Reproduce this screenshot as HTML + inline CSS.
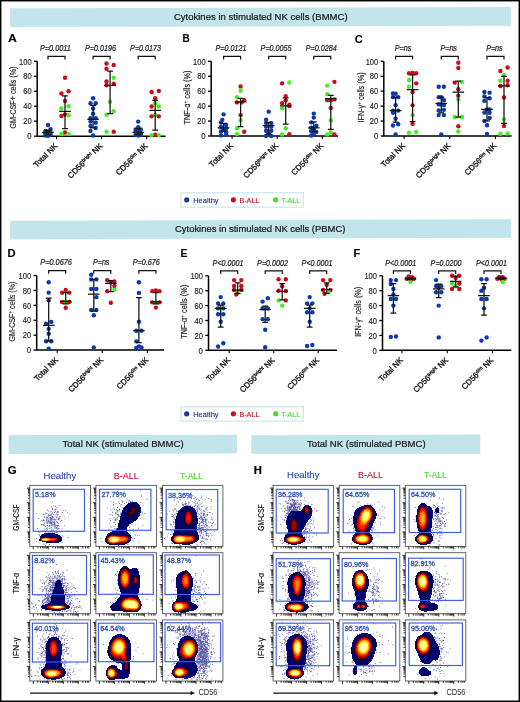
<!DOCTYPE html><html><head><meta charset="utf-8"><style>html,body{margin:0;padding:0;background:#fff;}body{width:520px;height:702px;overflow:hidden}svg{display:block;will-change:transform}</style></head><body><svg width="520" height="702" viewBox="0 0 520 702" font-family='"Liberation Sans", sans-serif'><rect width="520" height="702" fill="#fff"/><g><polygon points="10.15,8.2 511,7.05 511,25.75 10.15,27.0" fill="#c2e5eb"/><text x="173.90" y="19.70" font-size="9.2" text-anchor="start" fill="#1a1a1a" stroke="#1a1a1a" stroke-width="0.22" textLength="173.7" lengthAdjust="spacingAndGlyphs">Cytokines in stimulated NK cells (BMMC)</text><polygon points="10.15,220.8 511,219.2 511,237.7 10.15,239.5" fill="#c2e5eb"/><text x="175.00" y="231.90" font-size="9.2" text-anchor="start" fill="#1a1a1a" stroke="#1a1a1a" stroke-width="0.22" textLength="170.4" lengthAdjust="spacingAndGlyphs">Cytokines in stimulated NK cells (PBMC)</text><polygon points="8.5,435 237.2,434.8 237.2,453.5 8.5,453.9" fill="#c2e5eb"/><text x="62.50" y="446.70" font-size="9.2" text-anchor="start" fill="#1a1a1a" stroke="#1a1a1a" stroke-width="0.22" textLength="121.2" lengthAdjust="spacingAndGlyphs">Total NK (stimulated BMMC)</text><polygon points="251.3,435.3 480.2,434.4 480.2,453.7 251.3,453.8" fill="#c2e5eb"/><text x="307.10" y="446.70" font-size="9.2" text-anchor="start" fill="#1a1a1a" stroke="#1a1a1a" stroke-width="0.22" textLength="118.5" lengthAdjust="spacingAndGlyphs">Total NK (stimulated PBMC)</text><rect x="181" y="192.8" width="122.3" height="14.3" fill="none" stroke="#bfe3ea" stroke-width="1"/><circle cx="186.7" cy="199.8" r="2.6" fill="#1a3aa0"/><text x="193.20" y="202.60" font-size="8" text-anchor="start" fill="#1a3aa0" stroke="#1a3aa0" stroke-width="0.15" textLength="25.4" lengthAdjust="spacingAndGlyphs">Healthy</text><circle cx="233.4" cy="199.8" r="2.6" fill="#c81020"/><text x="239.40" y="202.60" font-size="8" text-anchor="start" fill="#c81020" stroke="#c81020" stroke-width="0.15" textLength="20" lengthAdjust="spacingAndGlyphs">B-ALL</text><circle cx="275.7" cy="199.8" r="2.6" fill="#44e022"/><text x="281.40" y="202.60" font-size="8" text-anchor="start" fill="#44e022" stroke="#44e022" stroke-width="0.15" textLength="18.7" lengthAdjust="spacingAndGlyphs">T-ALL</text><rect x="181" y="406.8" width="122.3" height="14.3" fill="none" stroke="#bfe3ea" stroke-width="1"/><circle cx="186.7" cy="413.8" r="2.6" fill="#1a3aa0"/><text x="193.20" y="416.60" font-size="8" text-anchor="start" fill="#1a3aa0" stroke="#1a3aa0" stroke-width="0.15" textLength="25.4" lengthAdjust="spacingAndGlyphs">Healthy</text><circle cx="233.4" cy="413.8" r="2.6" fill="#c81020"/><text x="239.40" y="416.60" font-size="8" text-anchor="start" fill="#c81020" stroke="#c81020" stroke-width="0.15" textLength="20" lengthAdjust="spacingAndGlyphs">B-ALL</text><circle cx="275.7" cy="413.8" r="2.6" fill="#44e022"/><text x="281.40" y="416.60" font-size="8" text-anchor="start" fill="#44e022" stroke="#44e022" stroke-width="0.15" textLength="18.7" lengthAdjust="spacingAndGlyphs">T-ALL</text><text x="7.90" y="42.20" font-size="11" text-anchor="start" fill="#000" stroke="#000" stroke-width="0.1" font-weight="bold" textLength="8.9" lengthAdjust="spacingAndGlyphs">A</text><path d="M37.2 61.3V136.2H165.6" fill="none" stroke="#000" stroke-width="1.5"/><path d="M34.0 136.20H37.2" stroke="#000" stroke-width="1.3"/><text x="31.60" y="139.40" font-size="8.5" text-anchor="end" fill="#222" stroke="#222" stroke-width="0.15" textLength="4.3" lengthAdjust="spacingAndGlyphs">0</text><path d="M34.0 121.22H37.2" stroke="#000" stroke-width="1.3"/><text x="31.60" y="124.42" font-size="8.5" text-anchor="end" fill="#222" stroke="#222" stroke-width="0.15" textLength="8.4" lengthAdjust="spacingAndGlyphs">20</text><path d="M34.0 106.24H37.2" stroke="#000" stroke-width="1.3"/><text x="31.60" y="109.44" font-size="8.5" text-anchor="end" fill="#222" stroke="#222" stroke-width="0.15" textLength="8.4" lengthAdjust="spacingAndGlyphs">40</text><path d="M34.0 91.26H37.2" stroke="#000" stroke-width="1.3"/><text x="31.60" y="94.46" font-size="8.5" text-anchor="end" fill="#222" stroke="#222" stroke-width="0.15" textLength="8.4" lengthAdjust="spacingAndGlyphs">60</text><path d="M34.0 76.28H37.2" stroke="#000" stroke-width="1.3"/><text x="31.60" y="79.48" font-size="8.5" text-anchor="end" fill="#222" stroke="#222" stroke-width="0.15" textLength="8.4" lengthAdjust="spacingAndGlyphs">80</text><path d="M34.0 61.30H37.2" stroke="#000" stroke-width="1.3"/><text x="31.60" y="64.50" font-size="8.5" text-anchor="end" fill="#222" stroke="#222" stroke-width="0.15" textLength="12.5" lengthAdjust="spacingAndGlyphs">100</text><text transform="translate(15.8,97.55) rotate(-90)" font-size="8.6" text-anchor="middle" fill="#222" stroke="#222" stroke-width="0.15" textLength="62" lengthAdjust="spacingAndGlyphs">GM-CSF+ cells (%)</text><path d="M56.50 136.2v3" stroke="#000" stroke-width="1.1"/><text transform="translate(58.10,146.50) rotate(-45)" font-size="8" text-anchor="end" fill="#111" stroke="#111" stroke-width="0.3">Total NK</text><text x="55.40" y="51.00" font-size="8.2" text-anchor="middle" fill="#222" stroke="#222" stroke-width="0.22" font-style="italic" textLength="31" lengthAdjust="spacingAndGlyphs">P=0.0011</text><path d="M48.00 59.50V56.40H65.00V59.50" fill="none" stroke="#111" stroke-width="1.2"/><circle cx="48.00" cy="124.96" r="2.2" fill="#0d3aa8"/><circle cx="50.60" cy="129.08" r="2.2" fill="#0d3aa8"/><circle cx="45.40" cy="130.96" r="2.2" fill="#0d3aa8"/><circle cx="48.00" cy="131.71" r="2.2" fill="#0d3aa8"/><circle cx="50.60" cy="132.45" r="2.2" fill="#0d3aa8"/><circle cx="45.40" cy="133.20" r="2.2" fill="#0d3aa8"/><circle cx="48.00" cy="133.95" r="2.2" fill="#0d3aa8"/><circle cx="50.60" cy="134.70" r="2.2" fill="#0d3aa8"/><circle cx="45.40" cy="135.45" r="2.2" fill="#0d3aa8"/><circle cx="48.00" cy="135.83" r="2.2" fill="#0d3aa8"/><circle cx="65.00" cy="77.78" r="2.2" fill="#cc0a1a"/><circle cx="68.60" cy="91.26" r="2.2" fill="#cc0a1a"/><circle cx="61.40" cy="93.51" r="2.2" fill="#cc0a1a"/><circle cx="65.00" cy="101.00" r="2.2" fill="#cc0a1a"/><circle cx="68.60" cy="106.24" r="2.2" fill="#40f022"/><circle cx="61.40" cy="108.49" r="2.2" fill="#40f022"/><circle cx="65.00" cy="114.48" r="2.2" fill="#cc0a1a"/><circle cx="68.60" cy="115.23" r="2.2" fill="#40f022"/><circle cx="61.40" cy="115.98" r="2.2" fill="#cc0a1a"/><circle cx="65.00" cy="132.45" r="2.2" fill="#cc0a1a"/><circle cx="61.40" cy="133.95" r="2.2" fill="#40f022"/><circle cx="68.60" cy="133.95" r="2.2" fill="#40f022"/><path d="M48.00 130.21V134.70M45.10 130.21h5.8M45.10 134.70h5.8M42.20 132.45h11.6" fill="none" stroke="#111" stroke-width="1.25"/><path d="M65.00 95.75V128.71M62.10 95.75h5.8M62.10 128.71h5.8M59.20 111.48h11.6" fill="none" stroke="#111" stroke-width="1.25"/><path d="M101.60 136.2v3" stroke="#000" stroke-width="1.1"/><text transform="translate(103.20,146.50) rotate(-45)" font-size="8" text-anchor="end" fill="#111" stroke="#111" stroke-width="0.3">CD56<tspan font-size="4.8" dy="-2.6">bright</tspan><tspan dy="2.6"> NK</tspan></text><text x="100.50" y="51.00" font-size="8.2" text-anchor="middle" fill="#222" stroke="#222" stroke-width="0.22" font-style="italic" textLength="31" lengthAdjust="spacingAndGlyphs">P=0.0196</text><path d="M93.10 59.50V56.40H110.10V59.50" fill="none" stroke="#111" stroke-width="1.2"/><circle cx="93.10" cy="98.23" r="2.2" fill="#0d3aa8"/><circle cx="90.50" cy="103.24" r="2.2" fill="#0d3aa8"/><circle cx="95.70" cy="103.24" r="2.2" fill="#0d3aa8"/><circle cx="93.10" cy="108.49" r="2.2" fill="#0d3aa8"/><circle cx="93.10" cy="113.73" r="2.2" fill="#0d3aa8"/><circle cx="90.50" cy="118.22" r="2.2" fill="#0d3aa8"/><circle cx="95.70" cy="118.22" r="2.2" fill="#0d3aa8"/><circle cx="90.50" cy="121.59" r="2.2" fill="#0d3aa8"/><circle cx="95.70" cy="122.72" r="2.2" fill="#0d3aa8"/><circle cx="90.50" cy="126.01" r="2.2" fill="#0d3aa8"/><circle cx="95.70" cy="127.96" r="2.2" fill="#0d3aa8"/><circle cx="90.50" cy="130.96" r="2.2" fill="#0d3aa8"/><circle cx="93.10" cy="135.45" r="2.2" fill="#0d3aa8"/><circle cx="106.50" cy="63.55" r="2.2" fill="#cc0a1a"/><circle cx="113.70" cy="65.05" r="2.2" fill="#cc0a1a"/><circle cx="106.50" cy="68.79" r="2.2" fill="#cc0a1a"/><circle cx="113.70" cy="77.78" r="2.2" fill="#40f022"/><circle cx="106.50" cy="81.52" r="2.2" fill="#cc0a1a"/><circle cx="113.70" cy="83.77" r="2.2" fill="#cc0a1a"/><circle cx="106.50" cy="85.27" r="2.2" fill="#cc0a1a"/><circle cx="110.10" cy="101.75" r="2.2" fill="#40f022"/><circle cx="113.70" cy="111.18" r="2.2" fill="#40f022"/><circle cx="106.50" cy="114.70" r="2.2" fill="#40f022"/><circle cx="106.50" cy="131.71" r="2.2" fill="#40f022"/><circle cx="113.70" cy="131.71" r="2.2" fill="#cc0a1a"/><path d="M93.10 105.49V127.96M90.20 105.49h5.8M90.20 127.96h5.8M87.30 119.35h11.6" fill="none" stroke="#111" stroke-width="1.25"/><path d="M110.10 71.04V113.73M107.20 71.04h5.8M107.20 113.73h5.8M104.30 85.27h11.6" fill="none" stroke="#111" stroke-width="1.25"/><path d="M146.70 136.2v3" stroke="#000" stroke-width="1.1"/><text transform="translate(148.30,146.50) rotate(-45)" font-size="8" text-anchor="end" fill="#111" stroke="#111" stroke-width="0.3">CD56<tspan font-size="4.8" dy="-2.6">dim</tspan><tspan dy="2.6"> NK</tspan></text><text x="145.60" y="51.00" font-size="8.2" text-anchor="middle" fill="#222" stroke="#222" stroke-width="0.22" font-style="italic" textLength="31" lengthAdjust="spacingAndGlyphs">P=0.0173</text><path d="M138.20 59.50V56.40H155.20V59.50" fill="none" stroke="#111" stroke-width="1.2"/><circle cx="138.20" cy="121.59" r="2.2" fill="#0d3aa8"/><circle cx="138.20" cy="127.21" r="2.2" fill="#0d3aa8"/><circle cx="135.60" cy="129.46" r="2.2" fill="#0d3aa8"/><circle cx="140.80" cy="129.46" r="2.2" fill="#0d3aa8"/><circle cx="135.60" cy="131.71" r="2.2" fill="#0d3aa8"/><circle cx="138.20" cy="132.45" r="2.2" fill="#0d3aa8"/><circle cx="140.80" cy="133.20" r="2.2" fill="#0d3aa8"/><circle cx="135.60" cy="134.70" r="2.2" fill="#0d3aa8"/><circle cx="140.80" cy="134.70" r="2.2" fill="#0d3aa8"/><circle cx="138.20" cy="135.45" r="2.2" fill="#0d3aa8"/><circle cx="158.80" cy="90.89" r="2.2" fill="#cc0a1a"/><circle cx="151.60" cy="92.01" r="2.2" fill="#cc0a1a"/><circle cx="155.20" cy="98.23" r="2.2" fill="#cc0a1a"/><circle cx="155.20" cy="103.24" r="2.2" fill="#40f022"/><circle cx="151.60" cy="106.54" r="2.2" fill="#cc0a1a"/><circle cx="158.80" cy="106.54" r="2.2" fill="#40f022"/><circle cx="155.20" cy="114.70" r="2.2" fill="#40f022"/><circle cx="151.60" cy="116.35" r="2.2" fill="#cc0a1a"/><circle cx="158.80" cy="116.35" r="2.2" fill="#cc0a1a"/><circle cx="155.20" cy="134.70" r="2.2" fill="#cc0a1a"/><circle cx="151.60" cy="135.08" r="2.2" fill="#40f022"/><circle cx="158.80" cy="135.08" r="2.2" fill="#40f022"/><path d="M138.20 128.71V134.70M135.30 128.71h5.8M135.30 134.70h5.8M132.40 132.45h11.6" fill="none" stroke="#111" stroke-width="1.25"/><path d="M155.20 100.25V130.21M152.30 100.25h5.8M152.30 130.21h5.8M149.40 110.36h11.6" fill="none" stroke="#111" stroke-width="1.25"/><text x="182.60" y="42.20" font-size="11" text-anchor="start" fill="#000" stroke="#000" stroke-width="0.1" font-weight="bold" textLength="7.2" lengthAdjust="spacingAndGlyphs">B</text><path d="M211.2 61.3V136.0H338" fill="none" stroke="#000" stroke-width="1.5"/><path d="M208.0 136.00H211.2" stroke="#000" stroke-width="1.3"/><text x="205.60" y="139.20" font-size="8.5" text-anchor="end" fill="#222" stroke="#222" stroke-width="0.15" textLength="4.3" lengthAdjust="spacingAndGlyphs">0</text><path d="M208.0 121.06H211.2" stroke="#000" stroke-width="1.3"/><text x="205.60" y="124.26" font-size="8.5" text-anchor="end" fill="#222" stroke="#222" stroke-width="0.15" textLength="8.4" lengthAdjust="spacingAndGlyphs">20</text><path d="M208.0 106.12H211.2" stroke="#000" stroke-width="1.3"/><text x="205.60" y="109.32" font-size="8.5" text-anchor="end" fill="#222" stroke="#222" stroke-width="0.15" textLength="8.4" lengthAdjust="spacingAndGlyphs">40</text><path d="M208.0 91.18H211.2" stroke="#000" stroke-width="1.3"/><text x="205.60" y="94.38" font-size="8.5" text-anchor="end" fill="#222" stroke="#222" stroke-width="0.15" textLength="8.4" lengthAdjust="spacingAndGlyphs">60</text><path d="M208.0 76.24H211.2" stroke="#000" stroke-width="1.3"/><text x="205.60" y="79.44" font-size="8.5" text-anchor="end" fill="#222" stroke="#222" stroke-width="0.15" textLength="8.4" lengthAdjust="spacingAndGlyphs">80</text><path d="M208.0 61.30H211.2" stroke="#000" stroke-width="1.3"/><text x="205.60" y="64.50" font-size="8.5" text-anchor="end" fill="#222" stroke="#222" stroke-width="0.15" textLength="12.5" lengthAdjust="spacingAndGlyphs">100</text><text transform="translate(190.2,97.45) rotate(-90)" font-size="8.6" text-anchor="middle" fill="#222" stroke="#222" stroke-width="0.15" textLength="54" lengthAdjust="spacingAndGlyphs">TNF-&#945;<tspan font-size="5.5" dy="-3">+</tspan><tspan dy="3"> cells (%)</tspan></text><path d="M232.10 136.0v3" stroke="#000" stroke-width="1.1"/><text transform="translate(233.70,146.30) rotate(-45)" font-size="8" text-anchor="end" fill="#111" stroke="#111" stroke-width="0.3">Total NK</text><text x="231.00" y="51.00" font-size="8.2" text-anchor="middle" fill="#222" stroke="#222" stroke-width="0.22" font-style="italic" textLength="31" lengthAdjust="spacingAndGlyphs">P=0.0121</text><path d="M223.60 59.50V56.40H240.60V59.50" fill="none" stroke="#111" stroke-width="1.2"/><circle cx="223.60" cy="114.34" r="2.2" fill="#0d3aa8"/><circle cx="222.30" cy="119.86" r="2.2" fill="#0d3aa8"/><circle cx="221.00" cy="122.55" r="2.2" fill="#0d3aa8"/><circle cx="226.20" cy="124.94" r="2.2" fill="#0d3aa8"/><circle cx="221.00" cy="127.04" r="2.2" fill="#0d3aa8"/><circle cx="226.20" cy="128.53" r="2.2" fill="#0d3aa8"/><circle cx="223.60" cy="130.02" r="2.2" fill="#0d3aa8"/><circle cx="221.00" cy="131.52" r="2.2" fill="#0d3aa8"/><circle cx="226.20" cy="132.26" r="2.2" fill="#0d3aa8"/><circle cx="221.00" cy="135.40" r="2.2" fill="#0d3aa8"/><circle cx="226.20" cy="134.51" r="2.2" fill="#0d3aa8"/><circle cx="240.60" cy="86.40" r="2.2" fill="#cc0a1a"/><circle cx="240.60" cy="90.73" r="2.2" fill="#40f022"/><circle cx="237.00" cy="97.31" r="2.2" fill="#40f022"/><circle cx="244.20" cy="100.14" r="2.2" fill="#cc0a1a"/><circle cx="237.00" cy="102.38" r="2.2" fill="#cc0a1a"/><circle cx="241.68" cy="102.38" r="2.2" fill="#cc0a1a"/><circle cx="240.60" cy="115.08" r="2.2" fill="#cc0a1a"/><circle cx="240.60" cy="120.31" r="2.2" fill="#40f022"/><circle cx="237.00" cy="128.31" r="2.2" fill="#40f022"/><circle cx="244.20" cy="131.82" r="2.2" fill="#cc0a1a"/><circle cx="237.00" cy="134.06" r="2.2" fill="#40f022"/><path d="M223.60 123.30V131.14M220.70 123.30h5.8M220.70 131.14h5.8M217.80 127.93h11.6" fill="none" stroke="#111" stroke-width="1.25"/><path d="M240.60 98.35V126.74M237.70 98.35h5.8M237.70 126.74h5.8M234.80 101.79h11.6" fill="none" stroke="#111" stroke-width="1.25"/><path d="M277.20 136.0v3" stroke="#000" stroke-width="1.1"/><text transform="translate(278.80,146.30) rotate(-45)" font-size="8" text-anchor="end" fill="#111" stroke="#111" stroke-width="0.3">CD56<tspan font-size="4.8" dy="-2.6">bright</tspan><tspan dy="2.6"> NK</tspan></text><text x="276.10" y="51.00" font-size="8.2" text-anchor="middle" fill="#222" stroke="#222" stroke-width="0.22" font-style="italic" textLength="31" lengthAdjust="spacingAndGlyphs">P=0.0055</text><path d="M268.70 59.50V56.40H285.70V59.50" fill="none" stroke="#111" stroke-width="1.2"/><circle cx="268.70" cy="111.65" r="2.2" fill="#0d3aa8"/><circle cx="266.10" cy="119.64" r="2.2" fill="#0d3aa8"/><circle cx="266.10" cy="123.08" r="2.2" fill="#0d3aa8"/><circle cx="271.30" cy="123.08" r="2.2" fill="#0d3aa8"/><circle cx="266.10" cy="126.66" r="2.2" fill="#0d3aa8"/><circle cx="271.30" cy="126.66" r="2.2" fill="#0d3aa8"/><circle cx="266.10" cy="130.77" r="2.2" fill="#0d3aa8"/><circle cx="271.30" cy="130.77" r="2.2" fill="#0d3aa8"/><circle cx="268.70" cy="133.76" r="2.2" fill="#0d3aa8"/><circle cx="266.10" cy="136.00" r="2.2" fill="#0d3aa8"/><circle cx="271.30" cy="136.00" r="2.2" fill="#0d3aa8"/><circle cx="289.30" cy="82.51" r="2.2" fill="#40f022"/><circle cx="282.10" cy="83.34" r="2.2" fill="#cc0a1a"/><circle cx="285.70" cy="96.11" r="2.2" fill="#cc0a1a"/><circle cx="285.70" cy="100.14" r="2.2" fill="#cc0a1a"/><circle cx="282.10" cy="103.13" r="2.2" fill="#cc0a1a"/><circle cx="289.30" cy="104.63" r="2.2" fill="#cc0a1a"/><circle cx="289.30" cy="106.12" r="2.2" fill="#cc0a1a"/><circle cx="282.10" cy="108.36" r="2.2" fill="#40f022"/><circle cx="285.70" cy="128.31" r="2.2" fill="#40f022"/><circle cx="289.30" cy="134.13" r="2.2" fill="#cc0a1a"/><circle cx="282.10" cy="134.51" r="2.2" fill="#40f022"/><path d="M268.70 122.26V134.06M265.80 122.26h5.8M265.80 134.06h5.8M262.90 125.69h11.6" fill="none" stroke="#111" stroke-width="1.25"/><path d="M285.70 97.98V124.05M282.80 97.98h5.8M282.80 124.05h5.8M279.90 105.90h11.6" fill="none" stroke="#111" stroke-width="1.25"/><path d="M322.30 136.0v3" stroke="#000" stroke-width="1.1"/><text transform="translate(323.90,146.30) rotate(-45)" font-size="8" text-anchor="end" fill="#111" stroke="#111" stroke-width="0.3">CD56<tspan font-size="4.8" dy="-2.6">dim</tspan><tspan dy="2.6"> NK</tspan></text><text x="321.20" y="51.00" font-size="8.2" text-anchor="middle" fill="#222" stroke="#222" stroke-width="0.22" font-style="italic" textLength="31" lengthAdjust="spacingAndGlyphs">P=0.0284</text><path d="M313.80 59.50V56.40H330.80V59.50" fill="none" stroke="#111" stroke-width="1.2"/><circle cx="313.80" cy="113.59" r="2.2" fill="#0d3aa8"/><circle cx="313.80" cy="117.62" r="2.2" fill="#0d3aa8"/><circle cx="311.20" cy="122.33" r="2.2" fill="#0d3aa8"/><circle cx="316.40" cy="125.77" r="2.2" fill="#0d3aa8"/><circle cx="311.20" cy="127.78" r="2.2" fill="#0d3aa8"/><circle cx="313.80" cy="128.53" r="2.2" fill="#0d3aa8"/><circle cx="311.20" cy="131.07" r="2.2" fill="#0d3aa8"/><circle cx="313.80" cy="131.07" r="2.2" fill="#0d3aa8"/><circle cx="316.40" cy="131.89" r="2.2" fill="#0d3aa8"/><circle cx="311.20" cy="135.55" r="2.2" fill="#0d3aa8"/><circle cx="313.80" cy="134.88" r="2.2" fill="#0d3aa8"/><circle cx="334.40" cy="81.84" r="2.2" fill="#cc0a1a"/><circle cx="327.20" cy="85.58" r="2.2" fill="#40f022"/><circle cx="327.20" cy="94.17" r="2.2" fill="#40f022"/><circle cx="334.40" cy="99.40" r="2.2" fill="#cc0a1a"/><circle cx="327.20" cy="100.14" r="2.2" fill="#cc0a1a"/><circle cx="330.80" cy="100.14" r="2.2" fill="#cc0a1a"/><circle cx="330.80" cy="107.91" r="2.2" fill="#cc0a1a"/><circle cx="330.80" cy="120.46" r="2.2" fill="#40f022"/><circle cx="330.80" cy="132.41" r="2.2" fill="#40f022"/><circle cx="327.20" cy="134.51" r="2.2" fill="#40f022"/><circle cx="334.40" cy="134.51" r="2.2" fill="#cc0a1a"/><path d="M313.80 121.81V131.52M310.90 121.81h5.8M310.90 131.52h5.8M308.00 127.78h11.6" fill="none" stroke="#111" stroke-width="1.25"/><path d="M330.80 95.29V129.28M327.90 95.29h5.8M327.90 129.28h5.8M325.00 98.65h11.6" fill="none" stroke="#111" stroke-width="1.25"/><text x="354.80" y="42.60" font-size="11" text-anchor="start" fill="#000" stroke="#000" stroke-width="0.1" font-weight="bold" textLength="8.0" lengthAdjust="spacingAndGlyphs">C</text><path d="M383.8 61.3V136.0H511.6" fill="none" stroke="#000" stroke-width="1.5"/><path d="M380.6 136.00H383.8" stroke="#000" stroke-width="1.3"/><text x="378.20" y="139.20" font-size="8.5" text-anchor="end" fill="#222" stroke="#222" stroke-width="0.15" textLength="4.3" lengthAdjust="spacingAndGlyphs">0</text><path d="M380.6 121.06H383.8" stroke="#000" stroke-width="1.3"/><text x="378.20" y="124.26" font-size="8.5" text-anchor="end" fill="#222" stroke="#222" stroke-width="0.15" textLength="8.4" lengthAdjust="spacingAndGlyphs">20</text><path d="M380.6 106.12H383.8" stroke="#000" stroke-width="1.3"/><text x="378.20" y="109.32" font-size="8.5" text-anchor="end" fill="#222" stroke="#222" stroke-width="0.15" textLength="8.4" lengthAdjust="spacingAndGlyphs">40</text><path d="M380.6 91.18H383.8" stroke="#000" stroke-width="1.3"/><text x="378.20" y="94.38" font-size="8.5" text-anchor="end" fill="#222" stroke="#222" stroke-width="0.15" textLength="8.4" lengthAdjust="spacingAndGlyphs">60</text><path d="M380.6 76.24H383.8" stroke="#000" stroke-width="1.3"/><text x="378.20" y="79.44" font-size="8.5" text-anchor="end" fill="#222" stroke="#222" stroke-width="0.15" textLength="8.4" lengthAdjust="spacingAndGlyphs">80</text><path d="M380.6 61.30H383.8" stroke="#000" stroke-width="1.3"/><text x="378.20" y="64.50" font-size="8.5" text-anchor="end" fill="#222" stroke="#222" stroke-width="0.15" textLength="12.5" lengthAdjust="spacingAndGlyphs">100</text><text transform="translate(363.5,97.45) rotate(-90)" font-size="8.6" text-anchor="middle" fill="#222" stroke="#222" stroke-width="0.15" textLength="50" lengthAdjust="spacingAndGlyphs">IFN-&#947;<tspan font-size="5.5" dy="-3">+</tspan><tspan dy="3"> cells (%)</tspan></text><path d="M404.10 136.0v3" stroke="#000" stroke-width="1.1"/><text transform="translate(405.70,146.30) rotate(-45)" font-size="8" text-anchor="end" fill="#111" stroke="#111" stroke-width="0.3">Total NK</text><text x="403.00" y="51.00" font-size="8.2" text-anchor="middle" fill="#222" stroke="#222" stroke-width="0.22" font-style="italic" textLength="16.5" lengthAdjust="spacingAndGlyphs">P=ns</text><path d="M395.60 59.50V56.40H412.60V59.50" fill="none" stroke="#111" stroke-width="1.2"/><circle cx="393.00" cy="93.42" r="2.2" fill="#0d3aa8"/><circle cx="395.60" cy="93.79" r="2.2" fill="#0d3aa8"/><circle cx="393.00" cy="97.16" r="2.2" fill="#0d3aa8"/><circle cx="398.20" cy="97.16" r="2.2" fill="#0d3aa8"/><circle cx="395.60" cy="105.15" r="2.2" fill="#0d3aa8"/><circle cx="393.00" cy="110.60" r="2.2" fill="#0d3aa8"/><circle cx="398.20" cy="110.60" r="2.2" fill="#0d3aa8"/><circle cx="393.00" cy="112.84" r="2.2" fill="#0d3aa8"/><circle cx="395.60" cy="118.82" r="2.2" fill="#0d3aa8"/><circle cx="398.20" cy="124.20" r="2.2" fill="#0d3aa8"/><circle cx="393.00" cy="125.54" r="2.2" fill="#0d3aa8"/><circle cx="395.60" cy="134.51" r="2.2" fill="#0d3aa8"/><circle cx="409.00" cy="73.25" r="2.2" fill="#cc0a1a"/><circle cx="412.60" cy="72.88" r="2.2" fill="#cc0a1a"/><circle cx="416.20" cy="73.25" r="2.2" fill="#cc0a1a"/><circle cx="409.00" cy="79.97" r="2.2" fill="#40f022"/><circle cx="416.20" cy="83.34" r="2.2" fill="#cc0a1a"/><circle cx="409.00" cy="86.70" r="2.2" fill="#40f022"/><circle cx="412.60" cy="91.93" r="2.2" fill="#cc0a1a"/><circle cx="412.60" cy="105.37" r="2.2" fill="#cc0a1a"/><circle cx="412.60" cy="115.08" r="2.2" fill="#40f022"/><circle cx="412.60" cy="123.90" r="2.2" fill="#cc0a1a"/><circle cx="409.00" cy="132.64" r="2.2" fill="#40f022"/><circle cx="416.20" cy="131.89" r="2.2" fill="#40f022"/><path d="M395.60 97.16V122.03M392.70 97.16h5.8M392.70 122.03h5.8M389.80 110.60h11.6" fill="none" stroke="#111" stroke-width="1.25"/><path d="M412.60 74.75V121.58M409.70 74.75h5.8M409.70 121.58h5.8M406.80 89.69h11.6" fill="none" stroke="#111" stroke-width="1.25"/><path d="M449.80 136.0v3" stroke="#000" stroke-width="1.1"/><text transform="translate(451.40,146.30) rotate(-45)" font-size="8" text-anchor="end" fill="#111" stroke="#111" stroke-width="0.3">CD56<tspan font-size="4.8" dy="-2.6">bright</tspan><tspan dy="2.6"> NK</tspan></text><text x="448.70" y="51.00" font-size="8.2" text-anchor="middle" fill="#222" stroke="#222" stroke-width="0.22" font-style="italic" textLength="16.5" lengthAdjust="spacingAndGlyphs">P=ns</text><path d="M441.30 59.50V56.40H458.30V59.50" fill="none" stroke="#111" stroke-width="1.2"/><circle cx="438.70" cy="86.70" r="2.2" fill="#0d3aa8"/><circle cx="443.90" cy="86.70" r="2.2" fill="#0d3aa8"/><circle cx="438.70" cy="97.16" r="2.2" fill="#0d3aa8"/><circle cx="441.30" cy="97.16" r="2.2" fill="#0d3aa8"/><circle cx="443.90" cy="100.14" r="2.2" fill="#0d3aa8"/><circle cx="438.70" cy="104.40" r="2.2" fill="#0d3aa8"/><circle cx="441.30" cy="104.40" r="2.2" fill="#0d3aa8"/><circle cx="443.90" cy="105.00" r="2.2" fill="#0d3aa8"/><circle cx="438.70" cy="110.38" r="2.2" fill="#0d3aa8"/><circle cx="443.90" cy="109.86" r="2.2" fill="#0d3aa8"/><circle cx="438.70" cy="115.08" r="2.2" fill="#0d3aa8"/><circle cx="443.90" cy="115.08" r="2.2" fill="#0d3aa8"/><circle cx="441.30" cy="134.51" r="2.2" fill="#0d3aa8"/><circle cx="458.30" cy="62.79" r="2.2" fill="#cc0a1a"/><circle cx="458.30" cy="68.02" r="2.2" fill="#cc0a1a"/><circle cx="454.70" cy="82.59" r="2.2" fill="#cc0a1a"/><circle cx="461.90" cy="81.84" r="2.2" fill="#40f022"/><circle cx="458.30" cy="89.16" r="2.2" fill="#cc0a1a"/><circle cx="458.30" cy="95.66" r="2.2" fill="#cc0a1a"/><circle cx="458.30" cy="99.40" r="2.2" fill="#40f022"/><circle cx="454.70" cy="116.95" r="2.2" fill="#40f022"/><circle cx="461.90" cy="116.95" r="2.2" fill="#40f022"/><circle cx="458.30" cy="126.29" r="2.2" fill="#cc0a1a"/><circle cx="458.30" cy="131.52" r="2.2" fill="#40f022"/><path d="M441.30 97.16V112.84M438.40 97.16h5.8M438.40 112.84h5.8M435.50 103.36h11.6" fill="none" stroke="#111" stroke-width="1.25"/><path d="M458.30 81.17V117.10M455.40 81.17h5.8M455.40 117.10h5.8M452.50 92.08h11.6" fill="none" stroke="#111" stroke-width="1.25"/><path d="M495.50 136.0v3" stroke="#000" stroke-width="1.1"/><text transform="translate(497.10,146.30) rotate(-45)" font-size="8" text-anchor="end" fill="#111" stroke="#111" stroke-width="0.3">CD56<tspan font-size="4.8" dy="-2.6">dim</tspan><tspan dy="2.6"> NK</tspan></text><text x="494.40" y="51.00" font-size="8.2" text-anchor="middle" fill="#222" stroke="#222" stroke-width="0.22" font-style="italic" textLength="16.5" lengthAdjust="spacingAndGlyphs">P=ns</text><path d="M487.00 59.50V56.40H504.00V59.50" fill="none" stroke="#111" stroke-width="1.2"/><circle cx="484.40" cy="91.93" r="2.2" fill="#0d3aa8"/><circle cx="489.60" cy="92.67" r="2.2" fill="#0d3aa8"/><circle cx="484.40" cy="96.41" r="2.2" fill="#0d3aa8"/><circle cx="489.60" cy="98.20" r="2.2" fill="#0d3aa8"/><circle cx="484.40" cy="100.89" r="2.2" fill="#0d3aa8"/><circle cx="487.00" cy="109.41" r="2.2" fill="#0d3aa8"/><circle cx="489.60" cy="109.41" r="2.2" fill="#0d3aa8"/><circle cx="484.40" cy="112.47" r="2.2" fill="#0d3aa8"/><circle cx="489.60" cy="112.84" r="2.2" fill="#0d3aa8"/><circle cx="489.60" cy="118.07" r="2.2" fill="#0d3aa8"/><circle cx="484.40" cy="121.06" r="2.2" fill="#0d3aa8"/><circle cx="487.00" cy="125.24" r="2.2" fill="#0d3aa8"/><circle cx="487.00" cy="133.98" r="2.2" fill="#0d3aa8"/><circle cx="507.60" cy="67.50" r="2.2" fill="#cc0a1a"/><circle cx="500.40" cy="71.01" r="2.2" fill="#cc0a1a"/><circle cx="504.00" cy="74.97" r="2.2" fill="#40f022"/><circle cx="500.40" cy="80.72" r="2.2" fill="#40f022"/><circle cx="507.60" cy="80.72" r="2.2" fill="#cc0a1a"/><circle cx="500.40" cy="85.95" r="2.2" fill="#cc0a1a"/><circle cx="507.60" cy="85.20" r="2.2" fill="#cc0a1a"/><circle cx="504.00" cy="97.53" r="2.2" fill="#cc0a1a"/><circle cx="504.00" cy="119.27" r="2.2" fill="#40f022"/><circle cx="504.00" cy="125.99" r="2.2" fill="#cc0a1a"/><circle cx="500.40" cy="133.76" r="2.2" fill="#40f022"/><circle cx="507.60" cy="133.39" r="2.2" fill="#40f022"/><path d="M487.00 97.53V120.76M484.10 97.53h5.8M484.10 120.76h5.8M481.20 109.41h11.6" fill="none" stroke="#111" stroke-width="1.25"/><path d="M504.00 76.46V123.45M501.10 76.46h5.8M501.10 123.45h5.8M498.20 85.80h11.6" fill="none" stroke="#111" stroke-width="1.25"/><text x="7.50" y="256.50" font-size="11" text-anchor="start" fill="#000" stroke="#000" stroke-width="0.1" font-weight="bold" textLength="8.1" lengthAdjust="spacingAndGlyphs">D</text><path d="M36.7 275.5V350.1H164" fill="none" stroke="#000" stroke-width="1.5"/><path d="M33.5 350.10H36.7" stroke="#000" stroke-width="1.3"/><text x="31.10" y="353.30" font-size="8.5" text-anchor="end" fill="#222" stroke="#222" stroke-width="0.15" textLength="4.3" lengthAdjust="spacingAndGlyphs">0</text><path d="M33.5 335.18H36.7" stroke="#000" stroke-width="1.3"/><text x="31.10" y="338.38" font-size="8.5" text-anchor="end" fill="#222" stroke="#222" stroke-width="0.15" textLength="8.4" lengthAdjust="spacingAndGlyphs">20</text><path d="M33.5 320.26H36.7" stroke="#000" stroke-width="1.3"/><text x="31.10" y="323.46" font-size="8.5" text-anchor="end" fill="#222" stroke="#222" stroke-width="0.15" textLength="8.4" lengthAdjust="spacingAndGlyphs">40</text><path d="M33.5 305.34H36.7" stroke="#000" stroke-width="1.3"/><text x="31.10" y="308.54" font-size="8.5" text-anchor="end" fill="#222" stroke="#222" stroke-width="0.15" textLength="8.4" lengthAdjust="spacingAndGlyphs">60</text><path d="M33.5 290.42H36.7" stroke="#000" stroke-width="1.3"/><text x="31.10" y="293.62" font-size="8.5" text-anchor="end" fill="#222" stroke="#222" stroke-width="0.15" textLength="8.4" lengthAdjust="spacingAndGlyphs">80</text><path d="M33.5 275.50H36.7" stroke="#000" stroke-width="1.3"/><text x="31.10" y="278.70" font-size="8.5" text-anchor="end" fill="#222" stroke="#222" stroke-width="0.15" textLength="12.5" lengthAdjust="spacingAndGlyphs">100</text><text transform="translate(14.6,311.60) rotate(-90)" font-size="8.6" text-anchor="middle" fill="#222" stroke="#222" stroke-width="0.15" textLength="60" lengthAdjust="spacingAndGlyphs">GM-CSF<tspan font-size="5.5" dy="-3">+</tspan><tspan dy="3"> cells (%)</tspan></text><path d="M57.20 350.1v3" stroke="#000" stroke-width="1.1"/><text transform="translate(58.80,360.40) rotate(-45)" font-size="8" text-anchor="end" fill="#111" stroke="#111" stroke-width="0.3">Total NK</text><text x="56.10" y="265.20" font-size="8.2" text-anchor="middle" fill="#222" stroke="#222" stroke-width="0.22" font-style="italic" textLength="31.5" lengthAdjust="spacingAndGlyphs">P=0.0676</text><path d="M48.70 273.70V270.60H65.70V273.70" fill="none" stroke="#111" stroke-width="1.2"/><circle cx="48.70" cy="282.21" r="2.2" fill="#0d3aa8"/><circle cx="48.70" cy="292.66" r="2.2" fill="#0d3aa8"/><circle cx="48.70" cy="300.27" r="2.2" fill="#0d3aa8"/><circle cx="51.30" cy="321.90" r="2.2" fill="#0d3aa8"/><circle cx="46.10" cy="323.62" r="2.2" fill="#0d3aa8"/><circle cx="48.70" cy="328.84" r="2.2" fill="#0d3aa8"/><circle cx="48.70" cy="333.69" r="2.2" fill="#0d3aa8"/><circle cx="46.10" cy="341.30" r="2.2" fill="#0d3aa8"/><circle cx="51.30" cy="341.30" r="2.2" fill="#0d3aa8"/><circle cx="48.70" cy="348.61" r="2.2" fill="#0d3aa8"/><circle cx="65.70" cy="289.90" r="2.2" fill="#cc0a1a"/><circle cx="62.10" cy="292.66" r="2.2" fill="#cc0a1a"/><circle cx="69.30" cy="292.66" r="2.2" fill="#cc0a1a"/><circle cx="62.10" cy="301.98" r="2.2" fill="#cc0a1a"/><circle cx="65.70" cy="301.98" r="2.2" fill="#40f022"/><circle cx="69.30" cy="301.98" r="2.2" fill="#cc0a1a"/><circle cx="65.70" cy="307.73" r="2.2" fill="#cc0a1a"/><path d="M48.70 298.03V341.00M45.80 298.03h5.8M45.80 341.00h5.8M42.90 325.48h11.6" fill="none" stroke="#111" stroke-width="1.25"/><path d="M65.70 292.51V303.85M62.80 292.51h5.8M62.80 303.85h5.8M59.90 301.46h11.6" fill="none" stroke="#111" stroke-width="1.25"/><path d="M102.30 350.1v3" stroke="#000" stroke-width="1.1"/><text transform="translate(103.90,360.40) rotate(-45)" font-size="8" text-anchor="end" fill="#111" stroke="#111" stroke-width="0.3">CD56<tspan font-size="4.8" dy="-2.6">bright</tspan><tspan dy="2.6"> NK</tspan></text><text x="101.20" y="265.20" font-size="8.2" text-anchor="middle" fill="#222" stroke="#222" stroke-width="0.22" font-style="italic" textLength="16.5" lengthAdjust="spacingAndGlyphs">P=ns</text><path d="M93.80 273.70V270.60H110.80V273.70" fill="none" stroke="#111" stroke-width="1.2"/><circle cx="91.20" cy="274.75" r="2.2" fill="#0d3aa8"/><circle cx="91.20" cy="279.38" r="2.2" fill="#0d3aa8"/><circle cx="96.40" cy="279.38" r="2.2" fill="#0d3aa8"/><circle cx="91.20" cy="288.93" r="2.2" fill="#0d3aa8"/><circle cx="96.40" cy="288.93" r="2.2" fill="#0d3aa8"/><circle cx="96.40" cy="297.13" r="2.2" fill="#0d3aa8"/><circle cx="91.20" cy="310.04" r="2.2" fill="#0d3aa8"/><circle cx="96.40" cy="310.04" r="2.2" fill="#0d3aa8"/><circle cx="93.80" cy="315.19" r="2.2" fill="#0d3aa8"/><circle cx="93.80" cy="347.49" r="2.2" fill="#0d3aa8"/><circle cx="107.20" cy="280.20" r="2.2" fill="#cc0a1a"/><circle cx="114.40" cy="281.47" r="2.2" fill="#cc0a1a"/><circle cx="110.80" cy="282.21" r="2.2" fill="#cc0a1a"/><circle cx="114.40" cy="285.94" r="2.2" fill="#cc0a1a"/><circle cx="107.20" cy="291.17" r="2.2" fill="#cc0a1a"/><circle cx="114.40" cy="289.67" r="2.2" fill="#40f022"/><circle cx="110.80" cy="302.80" r="2.2" fill="#cc0a1a"/><path d="M93.80 279.38V311.01M90.90 279.38h5.8M90.90 311.01h5.8M88.00 294.15h11.6" fill="none" stroke="#111" stroke-width="1.25"/><path d="M110.80 280.72V291.54M107.90 280.72h5.8M107.90 291.54h5.8M105.00 283.33h11.6" fill="none" stroke="#111" stroke-width="1.25"/><path d="M147.40 350.1v3" stroke="#000" stroke-width="1.1"/><text transform="translate(149.00,360.40) rotate(-45)" font-size="8" text-anchor="end" fill="#111" stroke="#111" stroke-width="0.3">CD56<tspan font-size="4.8" dy="-2.6">dim</tspan><tspan dy="2.6"> NK</tspan></text><text x="146.30" y="265.20" font-size="8.2" text-anchor="middle" fill="#222" stroke="#222" stroke-width="0.22" font-style="italic" textLength="27" lengthAdjust="spacingAndGlyphs">P=0.676</text><path d="M138.90 273.70V270.60H155.90V273.70" fill="none" stroke="#111" stroke-width="1.2"/><circle cx="138.90" cy="282.21" r="2.2" fill="#0d3aa8"/><circle cx="138.90" cy="292.88" r="2.2" fill="#0d3aa8"/><circle cx="138.90" cy="321.75" r="2.2" fill="#0d3aa8"/><circle cx="136.30" cy="330.70" r="2.2" fill="#0d3aa8"/><circle cx="141.50" cy="330.70" r="2.2" fill="#0d3aa8"/><circle cx="136.30" cy="341.37" r="2.2" fill="#0d3aa8"/><circle cx="138.90" cy="346.37" r="2.2" fill="#0d3aa8"/><circle cx="136.30" cy="348.01" r="2.2" fill="#0d3aa8"/><circle cx="141.50" cy="347.49" r="2.2" fill="#0d3aa8"/><circle cx="152.30" cy="291.17" r="2.2" fill="#cc0a1a"/><circle cx="155.90" cy="290.42" r="2.2" fill="#cc0a1a"/><circle cx="159.50" cy="291.17" r="2.2" fill="#cc0a1a"/><circle cx="152.30" cy="302.36" r="2.2" fill="#cc0a1a"/><circle cx="155.90" cy="302.36" r="2.2" fill="#40f022"/><circle cx="159.50" cy="302.36" r="2.2" fill="#cc0a1a"/><circle cx="155.90" cy="307.58" r="2.2" fill="#cc0a1a"/><path d="M138.90 297.73V342.64M136.00 297.73h5.8M136.00 342.64h5.8M133.10 330.70h11.6" fill="none" stroke="#111" stroke-width="1.25"/><path d="M155.90 292.66V303.85M153.00 292.66h5.8M153.00 303.85h5.8M150.10 301.98h11.6" fill="none" stroke="#111" stroke-width="1.25"/><text x="180.40" y="256.50" font-size="11" text-anchor="start" fill="#000" stroke="#000" stroke-width="0.1" font-weight="bold" textLength="7.0" lengthAdjust="spacingAndGlyphs">E</text><path d="M208.5 275.8V350.3H337" fill="none" stroke="#000" stroke-width="1.5"/><path d="M205.3 350.30H208.5" stroke="#000" stroke-width="1.3"/><text x="202.90" y="353.50" font-size="8.5" text-anchor="end" fill="#222" stroke="#222" stroke-width="0.15" textLength="4.3" lengthAdjust="spacingAndGlyphs">0</text><path d="M205.3 335.40H208.5" stroke="#000" stroke-width="1.3"/><text x="202.90" y="338.60" font-size="8.5" text-anchor="end" fill="#222" stroke="#222" stroke-width="0.15" textLength="8.4" lengthAdjust="spacingAndGlyphs">20</text><path d="M205.3 320.50H208.5" stroke="#000" stroke-width="1.3"/><text x="202.90" y="323.70" font-size="8.5" text-anchor="end" fill="#222" stroke="#222" stroke-width="0.15" textLength="8.4" lengthAdjust="spacingAndGlyphs">40</text><path d="M205.3 305.60H208.5" stroke="#000" stroke-width="1.3"/><text x="202.90" y="308.80" font-size="8.5" text-anchor="end" fill="#222" stroke="#222" stroke-width="0.15" textLength="8.4" lengthAdjust="spacingAndGlyphs">60</text><path d="M205.3 290.70H208.5" stroke="#000" stroke-width="1.3"/><text x="202.90" y="293.90" font-size="8.5" text-anchor="end" fill="#222" stroke="#222" stroke-width="0.15" textLength="8.4" lengthAdjust="spacingAndGlyphs">80</text><path d="M205.3 275.80H208.5" stroke="#000" stroke-width="1.3"/><text x="202.90" y="279.00" font-size="8.5" text-anchor="end" fill="#222" stroke="#222" stroke-width="0.15" textLength="12.5" lengthAdjust="spacingAndGlyphs">100</text><text transform="translate(187.4,311.85) rotate(-90)" font-size="8.6" text-anchor="middle" fill="#222" stroke="#222" stroke-width="0.15" textLength="54" lengthAdjust="spacingAndGlyphs">TNF-&#945;<tspan font-size="5.5" dy="-3">+</tspan><tspan dy="3"> cells (%)</tspan></text><path d="M229.20 350.3v3" stroke="#000" stroke-width="1.1"/><text transform="translate(230.80,360.60) rotate(-45)" font-size="8" text-anchor="end" fill="#111" stroke="#111" stroke-width="0.3">Total NK</text><text x="228.10" y="265.50" font-size="8.2" text-anchor="middle" fill="#222" stroke="#222" stroke-width="0.22" font-style="italic" textLength="31" lengthAdjust="spacingAndGlyphs">P&lt;0.0001</text><path d="M220.70 274.00V270.90H237.70V274.00" fill="none" stroke="#111" stroke-width="1.2"/><circle cx="220.70" cy="297.11" r="2.2" fill="#0d3aa8"/><circle cx="218.10" cy="303.44" r="2.2" fill="#0d3aa8"/><circle cx="223.30" cy="303.44" r="2.2" fill="#0d3aa8"/><circle cx="218.10" cy="308.36" r="2.2" fill="#0d3aa8"/><circle cx="223.30" cy="308.36" r="2.2" fill="#0d3aa8"/><circle cx="218.10" cy="314.24" r="2.2" fill="#0d3aa8"/><circle cx="223.30" cy="314.24" r="2.2" fill="#0d3aa8"/><circle cx="220.70" cy="321.77" r="2.2" fill="#0d3aa8"/><circle cx="223.30" cy="343.22" r="2.2" fill="#0d3aa8"/><circle cx="218.10" cy="346.57" r="2.2" fill="#0d3aa8"/><circle cx="234.10" cy="280.12" r="2.2" fill="#cc0a1a"/><circle cx="241.30" cy="280.12" r="2.2" fill="#cc0a1a"/><circle cx="234.10" cy="285.93" r="2.2" fill="#cc0a1a"/><circle cx="241.30" cy="285.93" r="2.2" fill="#cc0a1a"/><circle cx="234.10" cy="289.96" r="2.2" fill="#cc0a1a"/><circle cx="241.30" cy="289.96" r="2.2" fill="#cc0a1a"/><circle cx="237.70" cy="292.19" r="2.2" fill="#40f022"/><circle cx="236.26" cy="294.43" r="2.2" fill="#cc0a1a"/><path d="M220.70 305.08V327.13M217.80 305.08h5.8M217.80 327.13h5.8M214.90 308.36h11.6" fill="none" stroke="#111" stroke-width="1.25"/><path d="M237.70 282.80V293.68M234.80 282.80h5.8M234.80 293.68h5.8M231.90 290.10h11.6" fill="none" stroke="#111" stroke-width="1.25"/><path d="M273.70 350.3v3" stroke="#000" stroke-width="1.1"/><text transform="translate(275.30,360.60) rotate(-45)" font-size="8" text-anchor="end" fill="#111" stroke="#111" stroke-width="0.3">CD56<tspan font-size="4.8" dy="-2.6">bright</tspan><tspan dy="2.6"> NK</tspan></text><text x="272.60" y="265.50" font-size="8.2" text-anchor="middle" fill="#222" stroke="#222" stroke-width="0.22" font-style="italic" textLength="31" lengthAdjust="spacingAndGlyphs">P=0.0002</text><path d="M265.20 274.00V270.90H282.20V274.00" fill="none" stroke="#111" stroke-width="1.2"/><circle cx="267.80" cy="298.15" r="2.2" fill="#0d3aa8"/><circle cx="262.60" cy="301.58" r="2.2" fill="#0d3aa8"/><circle cx="262.60" cy="308.36" r="2.2" fill="#0d3aa8"/><circle cx="267.80" cy="308.36" r="2.2" fill="#0d3aa8"/><circle cx="262.60" cy="319.16" r="2.2" fill="#0d3aa8"/><circle cx="267.80" cy="319.16" r="2.2" fill="#0d3aa8"/><circle cx="265.20" cy="329.81" r="2.2" fill="#0d3aa8"/><circle cx="265.20" cy="347.32" r="2.2" fill="#0d3aa8"/><circle cx="278.60" cy="279.30" r="2.2" fill="#cc0a1a"/><circle cx="285.80" cy="279.30" r="2.2" fill="#cc0a1a"/><circle cx="282.20" cy="286.23" r="2.2" fill="#cc0a1a"/><circle cx="278.60" cy="290.70" r="2.2" fill="#cc0a1a"/><circle cx="285.80" cy="291.07" r="2.2" fill="#cc0a1a"/><circle cx="278.60" cy="300.38" r="2.2" fill="#40f022"/><circle cx="285.80" cy="300.38" r="2.2" fill="#cc0a1a"/><circle cx="282.20" cy="305.60" r="2.2" fill="#40f022"/><path d="M265.20 306.20V322.29M262.30 306.20h5.8M262.30 322.29h5.8M259.40 309.70h11.6" fill="none" stroke="#111" stroke-width="1.25"/><path d="M282.20 283.62V299.79M279.30 283.62h5.8M279.30 299.79h5.8M276.40 291.44h11.6" fill="none" stroke="#111" stroke-width="1.25"/><path d="M318.20 350.3v3" stroke="#000" stroke-width="1.1"/><text transform="translate(319.80,360.60) rotate(-45)" font-size="8" text-anchor="end" fill="#111" stroke="#111" stroke-width="0.3">CD56<tspan font-size="4.8" dy="-2.6">dim</tspan><tspan dy="2.6"> NK</tspan></text><text x="317.10" y="265.50" font-size="8.2" text-anchor="middle" fill="#222" stroke="#222" stroke-width="0.22" font-style="italic" textLength="31" lengthAdjust="spacingAndGlyphs">P&lt;0.0001</text><path d="M309.70 274.00V270.90H326.70V274.00" fill="none" stroke="#111" stroke-width="1.2"/><circle cx="309.70" cy="297.11" r="2.2" fill="#0d3aa8"/><circle cx="307.10" cy="303.37" r="2.2" fill="#0d3aa8"/><circle cx="312.30" cy="303.37" r="2.2" fill="#0d3aa8"/><circle cx="309.70" cy="308.36" r="2.2" fill="#0d3aa8"/><circle cx="307.10" cy="312.31" r="2.2" fill="#0d3aa8"/><circle cx="312.30" cy="312.31" r="2.2" fill="#0d3aa8"/><circle cx="309.70" cy="321.77" r="2.2" fill="#0d3aa8"/><circle cx="307.10" cy="345.98" r="2.2" fill="#0d3aa8"/><circle cx="312.30" cy="344.94" r="2.2" fill="#0d3aa8"/><circle cx="323.10" cy="280.12" r="2.2" fill="#cc0a1a"/><circle cx="330.30" cy="280.12" r="2.2" fill="#cc0a1a"/><circle cx="326.70" cy="284.74" r="2.2" fill="#cc0a1a"/><circle cx="323.10" cy="289.96" r="2.2" fill="#cc0a1a"/><circle cx="330.30" cy="289.96" r="2.2" fill="#cc0a1a"/><circle cx="328.50" cy="292.19" r="2.2" fill="#40f022"/><circle cx="324.54" cy="293.68" r="2.2" fill="#cc0a1a"/><path d="M309.70 305.08V327.21M306.80 305.08h5.8M306.80 327.21h5.8M303.90 308.36h11.6" fill="none" stroke="#111" stroke-width="1.25"/><path d="M326.70 282.80V293.31M323.80 282.80h5.8M323.80 293.31h5.8M320.90 289.51h11.6" fill="none" stroke="#111" stroke-width="1.25"/><text x="353.50" y="256.50" font-size="11" text-anchor="start" fill="#000" stroke="#000" stroke-width="0.1" font-weight="bold" textLength="6.8" lengthAdjust="spacingAndGlyphs">F</text><path d="M382.5 275.8V350.3H511.4" fill="none" stroke="#000" stroke-width="1.5"/><path d="M379.3 350.30H382.5" stroke="#000" stroke-width="1.3"/><text x="376.90" y="353.50" font-size="8.5" text-anchor="end" fill="#222" stroke="#222" stroke-width="0.15" textLength="4.3" lengthAdjust="spacingAndGlyphs">0</text><path d="M379.3 335.40H382.5" stroke="#000" stroke-width="1.3"/><text x="376.90" y="338.60" font-size="8.5" text-anchor="end" fill="#222" stroke="#222" stroke-width="0.15" textLength="8.4" lengthAdjust="spacingAndGlyphs">20</text><path d="M379.3 320.50H382.5" stroke="#000" stroke-width="1.3"/><text x="376.90" y="323.70" font-size="8.5" text-anchor="end" fill="#222" stroke="#222" stroke-width="0.15" textLength="8.4" lengthAdjust="spacingAndGlyphs">40</text><path d="M379.3 305.60H382.5" stroke="#000" stroke-width="1.3"/><text x="376.90" y="308.80" font-size="8.5" text-anchor="end" fill="#222" stroke="#222" stroke-width="0.15" textLength="8.4" lengthAdjust="spacingAndGlyphs">60</text><path d="M379.3 290.70H382.5" stroke="#000" stroke-width="1.3"/><text x="376.90" y="293.90" font-size="8.5" text-anchor="end" fill="#222" stroke="#222" stroke-width="0.15" textLength="8.4" lengthAdjust="spacingAndGlyphs">80</text><path d="M379.3 275.80H382.5" stroke="#000" stroke-width="1.3"/><text x="376.90" y="279.00" font-size="8.5" text-anchor="end" fill="#222" stroke="#222" stroke-width="0.15" textLength="12.5" lengthAdjust="spacingAndGlyphs">100</text><text transform="translate(360.5,311.85) rotate(-90)" font-size="8.6" text-anchor="middle" fill="#222" stroke="#222" stroke-width="0.15" textLength="50" lengthAdjust="spacingAndGlyphs">IFN-&#947;<tspan font-size="5.5" dy="-3">+</tspan><tspan dy="3"> cells (%)</tspan></text><path d="M401.90 350.3v3" stroke="#000" stroke-width="1.1"/><text transform="translate(403.50,360.60) rotate(-45)" font-size="8" text-anchor="end" fill="#111" stroke="#111" stroke-width="0.3">Total NK</text><text x="400.80" y="265.50" font-size="8.2" text-anchor="middle" fill="#222" stroke="#222" stroke-width="0.22" font-style="italic" textLength="31" lengthAdjust="spacingAndGlyphs">P&lt;0.0001</text><path d="M393.40 274.00V270.90H410.40V274.00" fill="none" stroke="#111" stroke-width="1.2"/><circle cx="390.80" cy="280.12" r="2.2" fill="#0d3aa8"/><circle cx="396.00" cy="280.12" r="2.2" fill="#0d3aa8"/><circle cx="390.80" cy="284.00" r="2.2" fill="#0d3aa8"/><circle cx="393.40" cy="288.99" r="2.2" fill="#0d3aa8"/><circle cx="393.40" cy="294.43" r="2.2" fill="#0d3aa8"/><circle cx="390.80" cy="298.97" r="2.2" fill="#0d3aa8"/><circle cx="396.00" cy="298.97" r="2.2" fill="#0d3aa8"/><circle cx="393.40" cy="305.60" r="2.2" fill="#0d3aa8"/><circle cx="390.80" cy="336.89" r="2.2" fill="#0d3aa8"/><circle cx="396.00" cy="336.52" r="2.2" fill="#0d3aa8"/><circle cx="408.60" cy="276.55" r="2.2" fill="#cc0a1a"/><circle cx="412.20" cy="277.29" r="2.2" fill="#cc0a1a"/><circle cx="406.80" cy="278.78" r="2.2" fill="#cc0a1a"/><circle cx="414.00" cy="278.78" r="2.2" fill="#cc0a1a"/><circle cx="410.40" cy="278.78" r="2.2" fill="#cc0a1a"/><circle cx="411.48" cy="279.52" r="2.2" fill="#cc0a1a"/><circle cx="410.40" cy="281.76" r="2.2" fill="#40f022"/><path d="M393.40 283.62V313.12M390.50 283.62h5.8M390.50 313.12h5.8M387.60 295.69h11.6" fill="none" stroke="#111" stroke-width="1.25"/><path d="M410.40 277.66V279.52M407.50 277.66h5.8M407.50 279.52h5.8M404.60 278.78h11.6" fill="none" stroke="#111" stroke-width="1.25"/><path d="M447.20 350.3v3" stroke="#000" stroke-width="1.1"/><text transform="translate(448.80,360.60) rotate(-45)" font-size="8" text-anchor="end" fill="#111" stroke="#111" stroke-width="0.3">CD56<tspan font-size="4.8" dy="-2.6">bright</tspan><tspan dy="2.6"> NK</tspan></text><text x="446.10" y="265.50" font-size="8.2" text-anchor="middle" fill="#222" stroke="#222" stroke-width="0.22" font-style="italic" textLength="31" lengthAdjust="spacingAndGlyphs">P=0.0200</text><path d="M438.70 274.00V270.90H455.70V274.00" fill="none" stroke="#111" stroke-width="1.2"/><circle cx="436.10" cy="280.12" r="2.2" fill="#0d3aa8"/><circle cx="436.10" cy="285.93" r="2.2" fill="#0d3aa8"/><circle cx="441.30" cy="285.93" r="2.2" fill="#0d3aa8"/><circle cx="438.70" cy="287.72" r="2.2" fill="#0d3aa8"/><circle cx="436.10" cy="292.19" r="2.2" fill="#0d3aa8"/><circle cx="441.30" cy="292.19" r="2.2" fill="#0d3aa8"/><circle cx="438.70" cy="305.60" r="2.2" fill="#0d3aa8"/><circle cx="438.70" cy="337.41" r="2.2" fill="#0d3aa8"/><circle cx="452.10" cy="275.80" r="2.2" fill="#cc0a1a"/><circle cx="459.30" cy="275.80" r="2.2" fill="#cc0a1a"/><circle cx="455.70" cy="278.04" r="2.2" fill="#cc0a1a"/><circle cx="452.10" cy="283.62" r="2.2" fill="#40f022"/><circle cx="459.30" cy="283.62" r="2.2" fill="#cc0a1a"/><circle cx="455.70" cy="286.23" r="2.2" fill="#40f022"/><circle cx="452.10" cy="288.99" r="2.2" fill="#cc0a1a"/><circle cx="459.30" cy="288.99" r="2.2" fill="#cc0a1a"/><path d="M438.70 284.07V297.55M435.80 284.07h5.8M435.80 297.55h5.8M432.90 288.99h11.6" fill="none" stroke="#111" stroke-width="1.25"/><path d="M455.70 276.10V286.83M452.80 276.10h5.8M452.80 286.83h5.8M449.90 281.46h11.6" fill="none" stroke="#111" stroke-width="1.25"/><path d="M492.50 350.3v3" stroke="#000" stroke-width="1.1"/><text transform="translate(494.10,360.60) rotate(-45)" font-size="8" text-anchor="end" fill="#111" stroke="#111" stroke-width="0.3">CD56<tspan font-size="4.8" dy="-2.6">dim</tspan><tspan dy="2.6"> NK</tspan></text><text x="491.40" y="265.50" font-size="8.2" text-anchor="middle" fill="#222" stroke="#222" stroke-width="0.22" font-style="italic" textLength="31" lengthAdjust="spacingAndGlyphs">P&lt;0.0001</text><path d="M484.00 274.00V270.90H501.00V274.00" fill="none" stroke="#111" stroke-width="1.2"/><circle cx="481.40" cy="279.30" r="2.2" fill="#0d3aa8"/><circle cx="486.60" cy="279.30" r="2.2" fill="#0d3aa8"/><circle cx="484.00" cy="287.72" r="2.2" fill="#0d3aa8"/><circle cx="481.40" cy="290.70" r="2.2" fill="#0d3aa8"/><circle cx="481.40" cy="298.97" r="2.2" fill="#0d3aa8"/><circle cx="486.60" cy="298.97" r="2.2" fill="#0d3aa8"/><circle cx="484.00" cy="308.36" r="2.2" fill="#0d3aa8"/><circle cx="481.40" cy="340.62" r="2.2" fill="#0d3aa8"/><circle cx="486.60" cy="337.41" r="2.2" fill="#0d3aa8"/><circle cx="499.20" cy="276.92" r="2.2" fill="#cc0a1a"/><circle cx="502.80" cy="277.29" r="2.2" fill="#cc0a1a"/><circle cx="497.40" cy="278.78" r="2.2" fill="#cc0a1a"/><circle cx="504.60" cy="278.78" r="2.2" fill="#cc0a1a"/><circle cx="501.00" cy="278.78" r="2.2" fill="#cc0a1a"/><circle cx="502.08" cy="279.52" r="2.2" fill="#cc0a1a"/><circle cx="502.80" cy="281.98" r="2.2" fill="#40f022"/><path d="M484.00 283.62V315.06M481.10 283.62h5.8M481.10 315.06h5.8M478.20 295.69h11.6" fill="none" stroke="#111" stroke-width="1.25"/><path d="M501.00 277.29V279.15M498.10 277.29h5.8M498.10 279.15h5.8M495.20 278.33h11.6" fill="none" stroke="#111" stroke-width="1.25"/><defs><filter id="bl" x="-10%" y="-10%" width="120%" height="120%"><feGaussianBlur stdDeviation="0.55"/></filter></defs><text x="43.50" y="478.90" font-size="9.6" text-anchor="start" fill="#2548b0" stroke="#2548b0" stroke-width="0.1" textLength="32.7" lengthAdjust="spacingAndGlyphs">Healthy</text><text x="113.80" y="478.90" font-size="9.6" text-anchor="start" fill="#cc1030" stroke="#cc1030" stroke-width="0.1" textLength="25" lengthAdjust="spacingAndGlyphs">B-ALL</text><text x="180.00" y="478.90" font-size="9.6" text-anchor="start" fill="#48e030" stroke="#48e030" stroke-width="0.1" textLength="23" lengthAdjust="spacingAndGlyphs">T-ALL</text><text x="287.10" y="478.30" font-size="9.6" text-anchor="start" fill="#2548b0" stroke="#2548b0" stroke-width="0.1" textLength="32.3" lengthAdjust="spacingAndGlyphs">Healthy</text><text x="357.90" y="478.30" font-size="9.6" text-anchor="start" fill="#cc1030" stroke="#cc1030" stroke-width="0.1" textLength="25" lengthAdjust="spacingAndGlyphs">B-ALL</text><text x="423.90" y="478.30" font-size="9.6" text-anchor="start" fill="#48e030" stroke="#48e030" stroke-width="0.1" textLength="22.8" lengthAdjust="spacingAndGlyphs">T-ALL</text><text x="7.80" y="473.90" font-size="11" text-anchor="start" fill="#000" stroke="#000" stroke-width="0.22" font-weight="bold" textLength="8.9" lengthAdjust="spacingAndGlyphs">G</text><text x="253.80" y="473.80" font-size="11" text-anchor="start" fill="#000" stroke="#000" stroke-width="0.22" font-weight="bold" textLength="8.1" lengthAdjust="spacingAndGlyphs">H</text><text transform="translate(18.5,517.55) rotate(-90)" font-size="9.8" text-anchor="middle" fill="#111" stroke="#111" stroke-width="0.15" textLength="26.3" lengthAdjust="spacingAndGlyphs">GM-CSF</text><text transform="translate(263.8,517.55) rotate(-90)" font-size="9.8" text-anchor="middle" fill="#111" stroke="#111" stroke-width="0.15" textLength="26.3" lengthAdjust="spacingAndGlyphs">GM-CSF</text><text transform="translate(18.5,583.00) rotate(-90)" font-size="9.8" text-anchor="middle" fill="#111" stroke="#111" stroke-width="0.15" textLength="20.4" lengthAdjust="spacingAndGlyphs">TNF-&#945;</text><text transform="translate(263.8,583.00) rotate(-90)" font-size="9.8" text-anchor="middle" fill="#111" stroke="#111" stroke-width="0.15" textLength="20.4" lengthAdjust="spacingAndGlyphs">TNF-&#945;</text><text transform="translate(18.5,648.15) rotate(-90)" font-size="9.8" text-anchor="middle" fill="#111" stroke="#111" stroke-width="0.15" textLength="21.3" lengthAdjust="spacingAndGlyphs">IFN-&#947;</text><text transform="translate(263.8,648.15) rotate(-90)" font-size="9.8" text-anchor="middle" fill="#111" stroke="#111" stroke-width="0.15" textLength="21.3" lengthAdjust="spacingAndGlyphs">IFN-&#947;</text><rect x="29.8" y="485.4" width="60.70" height="61.10" fill="#fff" stroke="#555" stroke-width="0.9"/><path d="M33.30 546.5v3.0M37.82 546.5v1.9M40.46 546.5v1.9M42.33 546.5v1.9M43.78 546.5v1.9M44.97 546.5v1.9M45.98 546.5v1.9M46.85 546.5v1.9M47.61 546.5v1.9M48.30 546.5v3.0M52.82 546.5v1.9M55.46 546.5v1.9M57.33 546.5v1.9M58.78 546.5v1.9M59.97 546.5v1.9M60.98 546.5v1.9M61.85 546.5v1.9M62.61 546.5v1.9M63.30 546.5v3.0M67.82 546.5v1.9M70.46 546.5v1.9M72.33 546.5v1.9M73.78 546.5v1.9M74.97 546.5v1.9M75.98 546.5v1.9M76.85 546.5v1.9M77.61 546.5v1.9M78.30 546.5v3.0M82.82 546.5v1.9M85.46 546.5v1.9M87.33 546.5v1.9M88.78 546.5v1.9M29.8 542.10h-1.9M29.8 539.53h-1.9M29.8 537.71h-1.9M29.8 536.30h-1.9M29.8 535.14h-1.9M29.8 534.16h-1.9M29.8 533.31h-1.9M29.8 532.57h-1.9M29.8 531.90h-3.0M29.8 527.50h-1.9M29.8 524.93h-1.9M29.8 523.11h-1.9M29.8 521.70h-1.9M29.8 520.54h-1.9M29.8 519.56h-1.9M29.8 518.71h-1.9M29.8 517.97h-1.9M29.8 517.30h-3.0M29.8 512.90h-1.9M29.8 510.33h-1.9M29.8 508.51h-1.9M29.8 507.10h-1.9M29.8 505.94h-1.9M29.8 504.96h-1.9M29.8 504.11h-1.9M29.8 503.37h-1.9M29.8 502.70h-3.0M29.8 498.30h-1.9M29.8 495.73h-1.9M29.8 493.91h-1.9M29.8 492.50h-1.9M29.8 491.34h-1.9M29.8 490.36h-1.9M29.8 489.51h-1.9M29.8 488.77h-1.9M29.8 488.10h-3.0" stroke="#1a1a1a" stroke-width="0.85" fill="none"/><path d="M44.0 530.6h.9v.9h-.9zM51.5 518.6h.9v.9h-.9zM49.2 522.2h.9v.9h-.9zM52.5 524.1h.9v.9h-.9zM61.9 512.1h.9v.9h-.9zM50.6 518.8h.9v.9h-.9zM53.2 519.3h.9v.9h-.9zM51.7 520.7h.9v.9h-.9zM41.6 520.0h.9v.9h-.9zM46.7 520.7h.9v.9h-.9zM37.0 528.1h.9v.9h-.9zM57.0 522.6h.9v.9h-.9zM54.4 519.6h.9v.9h-.9zM51.8 508.8h.9v.9h-.9zM51.9 512.5h.9v.9h-.9zM43.2 523.9h.9v.9h-.9zM55.5 519.3h.9v.9h-.9zM51.4 522.8h.9v.9h-.9zM51.2 527.2h.9v.9h-.9zM61.1 530.8h.9v.9h-.9zM48.2 514.8h.9v.9h-.9zM55.6 528.0h.9v.9h-.9zM47.9 520.0h.9v.9h-.9zM49.6 511.5h.9v.9h-.9zM52.6 529.6h.9v.9h-.9zM69.4 513.4h.9v.9h-.9zM50.6 515.4h.9v.9h-.9zM47.9 532.2h.9v.9h-.9zM48.8 528.1h.9v.9h-.9zM50.1 521.6h.9v.9h-.9zM54.4 526.6h.9v.9h-.9zM53.4 505.8h.9v.9h-.9zM56.8 521.7h.9v.9h-.9zM56.3 527.4h.9v.9h-.9zM47.1 517.0h.9v.9h-.9zM54.0 512.0h.9v.9h-.9zM55.5 514.2h.9v.9h-.9zM46.7 525.3h.9v.9h-.9zM50.1 517.1h.9v.9h-.9zM47.3 522.2h.9v.9h-.9zM53.2 521.7h.9v.9h-.9zM59.6 515.9h.9v.9h-.9zM47.0 529.3h.9v.9h-.9zM48.0 516.4h.9v.9h-.9zM59.9 521.3h.9v.9h-.9zM56.5 507.3h.9v.9h-.9zM56.0 516.5h.9v.9h-.9zM49.6 522.3h.9v.9h-.9zM54.1 521.6h.9v.9h-.9zM57.5 514.1h.9v.9h-.9zM55.3 508.8h.9v.9h-.9zM51.7 530.6h.9v.9h-.9zM67.0 511.9h.9v.9h-.9zM45.8 517.2h.9v.9h-.9zM45.8 516.4h.9v.9h-.9zM48.2 510.7h.9v.9h-.9zM59.2 517.8h.9v.9h-.9zM50.5 517.9h.9v.9h-.9zM54.3 522.0h.9v.9h-.9zM42.1 530.5h.9v.9h-.9zM45.7 516.6h.9v.9h-.9zM50.5 522.2h.9v.9h-.9zM63.1 510.4h.9v.9h-.9zM46.5 519.3h.9v.9h-.9zM58.5 517.2h.9v.9h-.9zM51.2 506.6h.9v.9h-.9zM56.0 521.3h.9v.9h-.9zM45.7 513.4h.9v.9h-.9zM43.2 520.1h.9v.9h-.9zM42.8 514.4h.9v.9h-.9zM50.8 517.5h.9v.9h-.9zM50.2 521.1h.9v.9h-.9zM54.5 522.8h.9v.9h-.9zM50.1 523.4h.9v.9h-.9zM46.2 529.5h.9v.9h-.9zM58.3 524.9h.9v.9h-.9zM57.7 519.0h.9v.9h-.9zM57.7 528.0h.9v.9h-.9zM51.7 501.7h.9v.9h-.9zM50.3 517.6h.9v.9h-.9zM36.0 513.2h.9v.9h-.9zM45.5 532.6h.9v.9h-.9zM47.2 524.8h.9v.9h-.9zM53.9 523.6h.9v.9h-.9zM57.8 517.9h.9v.9h-.9zM57.3 525.8h.9v.9h-.9zM49.6 517.8h.9v.9h-.9zM57.1 528.5h.9v.9h-.9zM58.6 519.4h.9v.9h-.9zM46.4 513.2h.9v.9h-.9zM56.0 525.1h.9v.9h-.9zM48.7 525.3h.9v.9h-.9zM38.3 518.1h.9v.9h-.9zM43.7 524.7h.9v.9h-.9zM56.2 512.6h.9v.9h-.9zM39.9 531.4h.9v.9h-.9zM50.5 519.7h.9v.9h-.9zM46.9 523.1h.9v.9h-.9zM52.6 517.0h.9v.9h-.9zM67.7 530.4h.9v.9h-.9zM55.2 515.5h.9v.9h-.9zM56.8 532.0h.9v.9h-.9zM48.1 521.0h.9v.9h-.9zM52.4 516.1h.9v.9h-.9zM51.6 525.0h.9v.9h-.9zM63.7 515.7h.9v.9h-.9zM44.4 522.7h.9v.9h-.9zM53.7 518.8h.9v.9h-.9zM53.2 513.8h.9v.9h-.9zM61.6 528.4h.9v.9h-.9zM54.2 509.6h.9v.9h-.9zM56.3 517.3h.9v.9h-.9zM41.0 523.9h.9v.9h-.9zM54.0 524.6h.9v.9h-.9zM64.6 518.4h.9v.9h-.9zM47.6 516.3h.9v.9h-.9zM50.8 521.9h.9v.9h-.9zM58.4 519.0h.9v.9h-.9zM51.9 508.1h.9v.9h-.9zM50.9 519.7h.9v.9h-.9zM44.8 528.5h.9v.9h-.9zM54.7 525.7h.9v.9h-.9zM49.1 524.9h.9v.9h-.9zM52.5 531.3h.9v.9h-.9zM47.1 525.1h.9v.9h-.9zM52.2 516.3h.9v.9h-.9zM44.1 523.4h.9v.9h-.9zM43.3 513.8h.9v.9h-.9zM44.6 525.4h.9v.9h-.9zM51.3 530.7h.9v.9h-.9zM56.5 527.1h.9v.9h-.9zM55.2 505.8h.9v.9h-.9zM49.5 519.2h.9v.9h-.9zM48.4 513.9h.9v.9h-.9zM46.8 520.8h.9v.9h-.9zM57.0 511.2h.9v.9h-.9zM50.2 525.4h.9v.9h-.9zM43.8 520.3h.9v.9h-.9zM51.4 517.8h.9v.9h-.9zM55.0 509.4h.9v.9h-.9zM50.8 510.9h.9v.9h-.9zM52.4 516.6h.9v.9h-.9zM45.9 518.5h.9v.9h-.9zM45.4 512.5h.9v.9h-.9zM45.0 530.7h.9v.9h-.9zM52.7 521.8h.9v.9h-.9zM49.4 517.2h.9v.9h-.9zM46.1 522.2h.9v.9h-.9zM63.9 525.2h.9v.9h-.9zM49.2 521.3h.9v.9h-.9zM46.2 520.8h.9v.9h-.9zM46.0 527.9h.9v.9h-.9zM46.1 518.9h.9v.9h-.9zM51.2 513.5h.9v.9h-.9zM57.2 525.0h.9v.9h-.9zM49.8 514.4h.9v.9h-.9zM51.9 516.6h.9v.9h-.9zM44.9 526.1h.9v.9h-.9zM45.8 522.3h.9v.9h-.9zM54.2 526.9h.9v.9h-.9zM41.7 523.8h.9v.9h-.9zM57.2 514.9h.9v.9h-.9zM57.9 511.6h.9v.9h-.9zM46.8 527.5h.9v.9h-.9zM51.4 521.7h.9v.9h-.9zM49.2 525.7h.9v.9h-.9zM51.8 522.5h.9v.9h-.9zM44.0 516.8h.9v.9h-.9zM56.5 526.4h.9v.9h-.9zM50.4 514.7h.9v.9h-.9zM50.1 522.2h.9v.9h-.9zM48.5 518.7h.9v.9h-.9zM56.3 512.6h.9v.9h-.9zM56.9 511.8h.9v.9h-.9zM55.5 527.2h.9v.9h-.9zM59.5 505.1h.9v.9h-.9zM49.8 514.6h.9v.9h-.9zM47.2 509.5h.9v.9h-.9zM50.8 513.7h.9v.9h-.9zM58.1 522.8h.9v.9h-.9zM53.4 525.6h.9v.9h-.9zM47.5 518.0h.9v.9h-.9zM51.8 519.6h.9v.9h-.9zM64.9 510.3h.9v.9h-.9zM42.9 518.8h.9v.9h-.9zM55.3 524.8h.9v.9h-.9zM49.4 522.1h.9v.9h-.9zM51.6 515.9h.9v.9h-.9zM53.8 521.3h.9v.9h-.9zM51.0 529.6h.9v.9h-.9zM50.9 524.3h.9v.9h-.9zM43.2 524.9h.9v.9h-.9zM51.6 518.6h.9v.9h-.9zM43.8 516.4h.9v.9h-.9zM59.5 516.3h.9v.9h-.9zM51.0 523.0h.9v.9h-.9zM52.0 509.0h.9v.9h-.9zM50.5 527.5h.9v.9h-.9zM49.4 520.2h.9v.9h-.9zM52.2 517.7h.9v.9h-.9zM55.2 511.0h.9v.9h-.9zM58.6 528.0h.9v.9h-.9zM49.0 514.9h.9v.9h-.9zM54.2 518.7h.9v.9h-.9zM55.4 509.2h.9v.9h-.9zM41.3 524.6h.9v.9h-.9zM46.3 520.2h.9v.9h-.9zM51.2 522.9h.9v.9h-.9zM54.4 522.9h.9v.9h-.9zM48.4 522.5h.9v.9h-.9zM61.3 520.1h.9v.9h-.9zM56.9 514.7h.9v.9h-.9zM52.9 524.4h.9v.9h-.9zM53.6 528.3h.9v.9h-.9zM49.4 522.5h.9v.9h-.9zM54.8 519.5h.9v.9h-.9zM55.2 523.7h.9v.9h-.9zM59.6 532.2h.9v.9h-.9zM62.3 535.5h.9v.9h-.9zM52.3 531.7h.9v.9h-.9zM46.7 532.9h.9v.9h-.9zM56.6 532.2h.9v.9h-.9zM51.9 531.6h.9v.9h-.9zM38.4 542.2h.9v.9h-.9zM49.5 531.8h.9v.9h-.9zM56.5 527.2h.9v.9h-.9zM65.4 531.1h.9v.9h-.9zM54.3 532.2h.9v.9h-.9zM33.9 538.4h.9v.9h-.9zM45.1 544.8h.9v.9h-.9zM56.1 532.0h.9v.9h-.9zM50.2 531.2h.9v.9h-.9zM42.9 543.5h.9v.9h-.9zM38.9 534.2h.9v.9h-.9zM67.7 537.1h.9v.9h-.9zM44.0 531.4h.9v.9h-.9zM38.8 532.0h.9v.9h-.9zM49.1 544.0h.9v.9h-.9zM44.0 543.7h.9v.9h-.9zM45.6 542.9h.9v.9h-.9zM36.2 540.7h.9v.9h-.9zM39.1 535.3h.9v.9h-.9zM36.1 537.9h.9v.9h-.9zM40.9 533.8h.9v.9h-.9zM61.6 541.8h.9v.9h-.9z" fill="#1a1a80" fill-opacity="0.7"/><g filter="url(#bl)"><path d="M44 533h11v1h-11zM42 534h16v1h-16zM41 535h19v1h-19zM40 536h21v1h-21zM40 537h22v1h-22zM40 538h22v1h-22zM39 539h23v1h-23zM39 540h23v1h-23zM42 541h19v1h-19zM46 542h13v1h-13z" fill="#03036a"/><path d="M41 538h17v1h-17zM40 539h18v1h-18zM40 540h17v1h-17zM44 541h2v1h-2z" fill="#140010"/><path d="M41 538h16v1h-16zM40 539h18v1h-18zM41 540h15v1h-15z" fill="#5c0000"/><path d="M41 538h16v1h-16zM40 539h17v1h-17zM41 540h15v1h-15z" fill="#a00000"/><path d="M42 538h14v1h-14zM41 539h16v1h-16zM41 540h14v1h-14z" fill="#e00000"/><path d="M42 538h13v1h-13zM41 539h15v1h-15zM42 540h9v1h-9z" fill="#ff1400"/><path d="M43 538h7v1h-7zM41 539h14v1h-14zM42 540h7v1h-7z" fill="#ff4c00"/><path d="M43 538h6v1h-6zM42 539h9v1h-9zM52 539h2v1h-2zM43 540h6v1h-6z" fill="#ff8400"/><path d="M44 538h4v1h-4zM42 539h8v1h-8zM43 540h5v1h-5z" fill="#ffb400"/><path d="M45 538h1v1h-1zM42 539h7v1h-7zM44 540h3v1h-3z" fill="#ffdc00"/><path d="M43 539h6v1h-6zM45 540h1v1h-1z" fill="#ffff2c"/><path d="M43 539h5v1h-5z" fill="#ffffa0"/></g><rect x="33.2" y="489.3" width="51.30" height="42.00" fill="none" stroke="#3c5ce6" stroke-width="1.15"/><text x="35.00" y="497.30" font-size="7.7" text-anchor="start" fill="#3050b0" stroke="#3050b0" stroke-width="0.3" textLength="20.6" lengthAdjust="spacingAndGlyphs">5.18%</text><rect x="273.1" y="485.4" width="60.50" height="61.10" fill="#fff" stroke="#555" stroke-width="0.9"/><path d="M276.60 546.5v3.0M281.12 546.5v1.9M283.76 546.5v1.9M285.63 546.5v1.9M287.08 546.5v1.9M288.27 546.5v1.9M289.28 546.5v1.9M290.15 546.5v1.9M290.91 546.5v1.9M291.60 546.5v3.0M296.12 546.5v1.9M298.76 546.5v1.9M300.63 546.5v1.9M302.08 546.5v1.9M303.27 546.5v1.9M304.28 546.5v1.9M305.15 546.5v1.9M305.91 546.5v1.9M306.60 546.5v3.0M311.12 546.5v1.9M313.76 546.5v1.9M315.63 546.5v1.9M317.08 546.5v1.9M318.27 546.5v1.9M319.28 546.5v1.9M320.15 546.5v1.9M320.91 546.5v1.9M321.60 546.5v3.0M326.12 546.5v1.9M328.76 546.5v1.9M330.63 546.5v1.9M332.08 546.5v1.9M273.1 542.10h-1.9M273.1 539.53h-1.9M273.1 537.71h-1.9M273.1 536.30h-1.9M273.1 535.14h-1.9M273.1 534.16h-1.9M273.1 533.31h-1.9M273.1 532.57h-1.9M273.1 531.90h-3.0M273.1 527.50h-1.9M273.1 524.93h-1.9M273.1 523.11h-1.9M273.1 521.70h-1.9M273.1 520.54h-1.9M273.1 519.56h-1.9M273.1 518.71h-1.9M273.1 517.97h-1.9M273.1 517.30h-3.0M273.1 512.90h-1.9M273.1 510.33h-1.9M273.1 508.51h-1.9M273.1 507.10h-1.9M273.1 505.94h-1.9M273.1 504.96h-1.9M273.1 504.11h-1.9M273.1 503.37h-1.9M273.1 502.70h-3.0M273.1 498.30h-1.9M273.1 495.73h-1.9M273.1 493.91h-1.9M273.1 492.50h-1.9M273.1 491.34h-1.9M273.1 490.36h-1.9M273.1 489.51h-1.9M273.1 488.77h-1.9M273.1 488.10h-3.0" stroke="#1a1a1a" stroke-width="0.85" fill="none"/><path d="M298.4 504.0h.9v.9h-.9zM287.8 513.1h.9v.9h-.9zM294.7 507.8h.9v.9h-.9zM291.3 507.1h.9v.9h-.9zM293.1 509.4h.9v.9h-.9zM296.9 507.5h.9v.9h-.9zM293.8 505.8h.9v.9h-.9zM291.7 510.5h.9v.9h-.9zM299.4 506.7h.9v.9h-.9zM289.3 506.0h.9v.9h-.9zM297.5 505.5h.9v.9h-.9zM292.3 505.4h.9v.9h-.9zM294.1 503.8h.9v.9h-.9zM292.7 509.1h.9v.9h-.9zM291.0 504.9h.9v.9h-.9zM294.1 507.4h.9v.9h-.9zM291.3 507.2h.9v.9h-.9zM290.9 509.8h.9v.9h-.9zM299.1 505.6h.9v.9h-.9zM289.4 507.5h.9v.9h-.9zM287.6 506.8h.9v.9h-.9zM292.3 503.9h.9v.9h-.9zM287.3 513.5h.9v.9h-.9zM288.9 507.0h.9v.9h-.9zM292.9 500.7h.9v.9h-.9zM298.7 503.1h.9v.9h-.9zM290.2 500.2h.9v.9h-.9zM295.3 506.0h.9v.9h-.9zM297.0 502.1h.9v.9h-.9zM287.0 513.3h.9v.9h-.9zM290.0 508.7h.9v.9h-.9zM294.0 508.3h.9v.9h-.9zM295.0 509.5h.9v.9h-.9zM296.3 510.4h.9v.9h-.9zM292.0 506.2h.9v.9h-.9zM291.5 499.0h.9v.9h-.9zM304.0 497.6h.9v.9h-.9zM297.4 499.8h.9v.9h-.9zM283.3 505.0h.9v.9h-.9zM294.4 504.0h.9v.9h-.9zM287.8 509.0h.9v.9h-.9zM288.1 511.4h.9v.9h-.9zM295.4 501.9h.9v.9h-.9zM292.8 505.6h.9v.9h-.9zM289.8 502.7h.9v.9h-.9zM289.1 497.6h.9v.9h-.9zM295.1 499.7h.9v.9h-.9zM293.1 502.8h.9v.9h-.9zM287.5 505.5h.9v.9h-.9zM299.4 508.1h.9v.9h-.9zM295.7 509.0h.9v.9h-.9zM289.6 502.6h.9v.9h-.9zM284.8 510.4h.9v.9h-.9zM292.5 508.6h.9v.9h-.9zM291.2 505.5h.9v.9h-.9zM296.6 500.2h.9v.9h-.9zM289.8 506.4h.9v.9h-.9zM294.1 502.7h.9v.9h-.9zM296.1 495.8h.9v.9h-.9zM293.0 507.2h.9v.9h-.9zM293.2 501.9h.9v.9h-.9zM293.5 503.6h.9v.9h-.9zM292.4 510.0h.9v.9h-.9zM291.0 503.4h.9v.9h-.9zM289.5 509.1h.9v.9h-.9zM298.1 505.9h.9v.9h-.9zM290.5 505.8h.9v.9h-.9zM291.8 504.9h.9v.9h-.9zM288.8 508.0h.9v.9h-.9zM293.4 509.5h.9v.9h-.9zM290.2 509.2h.9v.9h-.9zM290.5 511.3h.9v.9h-.9zM287.4 509.5h.9v.9h-.9zM290.2 504.0h.9v.9h-.9zM296.5 506.7h.9v.9h-.9zM297.2 508.7h.9v.9h-.9zM293.4 509.7h.9v.9h-.9zM289.0 509.6h.9v.9h-.9zM287.6 503.0h.9v.9h-.9zM290.5 504.5h.9v.9h-.9zM287.3 512.9h.9v.9h-.9zM289.4 503.8h.9v.9h-.9zM291.4 510.6h.9v.9h-.9zM283.7 515.4h.9v.9h-.9zM289.4 510.0h.9v.9h-.9zM290.9 506.0h.9v.9h-.9zM293.7 504.6h.9v.9h-.9zM293.3 507.7h.9v.9h-.9zM292.2 505.1h.9v.9h-.9zM288.6 511.3h.9v.9h-.9zM290.7 506.0h.9v.9h-.9zM292.0 508.7h.9v.9h-.9zM293.1 506.9h.9v.9h-.9zM293.7 505.3h.9v.9h-.9zM295.4 507.1h.9v.9h-.9zM293.0 495.8h.9v.9h-.9zM286.4 502.3h.9v.9h-.9zM291.5 509.9h.9v.9h-.9zM287.9 513.8h.9v.9h-.9zM292.4 501.0h.9v.9h-.9zM293.9 500.1h.9v.9h-.9zM292.8 499.8h.9v.9h-.9zM280.2 503.5h.9v.9h-.9zM285.1 501.1h.9v.9h-.9zM289.9 506.4h.9v.9h-.9zM286.6 503.2h.9v.9h-.9zM293.0 510.4h.9v.9h-.9zM286.9 505.4h.9v.9h-.9zM289.1 507.4h.9v.9h-.9zM294.9 503.0h.9v.9h-.9zM283.9 511.3h.9v.9h-.9zM291.6 499.5h.9v.9h-.9zM296.0 503.4h.9v.9h-.9zM292.5 509.2h.9v.9h-.9zM287.9 503.0h.9v.9h-.9zM291.6 510.8h.9v.9h-.9zM298.7 502.7h.9v.9h-.9zM290.8 505.7h.9v.9h-.9zM293.5 505.3h.9v.9h-.9zM300.7 504.5h.9v.9h-.9zM289.4 499.0h.9v.9h-.9zM292.6 505.2h.9v.9h-.9zM300.3 500.1h.9v.9h-.9zM290.6 504.6h.9v.9h-.9zM295.8 510.6h.9v.9h-.9zM285.3 508.8h.9v.9h-.9zM300.7 503.0h.9v.9h-.9zM286.0 518.3h.9v.9h-.9zM286.7 507.3h.9v.9h-.9zM288.7 507.0h.9v.9h-.9zM294.1 504.9h.9v.9h-.9zM285.8 510.1h.9v.9h-.9zM297.3 510.0h.9v.9h-.9zM292.7 499.3h.9v.9h-.9zM290.4 507.8h.9v.9h-.9zM296.5 507.9h.9v.9h-.9zM294.4 500.5h.9v.9h-.9zM286.3 515.3h.9v.9h-.9zM296.6 509.1h.9v.9h-.9zM289.9 507.6h.9v.9h-.9zM295.4 504.3h.9v.9h-.9zM290.2 507.8h.9v.9h-.9zM286.7 507.8h.9v.9h-.9zM286.8 505.8h.9v.9h-.9zM288.4 500.2h.9v.9h-.9zM291.7 503.5h.9v.9h-.9zM299.4 505.7h.9v.9h-.9zM294.3 508.7h.9v.9h-.9zM289.7 503.6h.9v.9h-.9zM281.3 508.2h.9v.9h-.9zM300.2 504.2h.9v.9h-.9zM287.9 511.4h.9v.9h-.9zM289.0 510.9h.9v.9h-.9zM293.0 508.3h.9v.9h-.9zM286.2 513.3h.9v.9h-.9zM298.4 506.5h.9v.9h-.9zM292.8 506.9h.9v.9h-.9zM289.2 507.5h.9v.9h-.9zM292.3 499.1h.9v.9h-.9zM294.4 506.8h.9v.9h-.9zM297.0 496.6h.9v.9h-.9zM299.1 504.2h.9v.9h-.9zM294.4 501.0h.9v.9h-.9zM278.8 503.2h.9v.9h-.9zM296.2 500.9h.9v.9h-.9zM284.5 507.8h.9v.9h-.9zM290.0 510.9h.9v.9h-.9zM288.8 508.8h.9v.9h-.9zM288.5 508.0h.9v.9h-.9zM290.3 507.6h.9v.9h-.9zM287.8 510.1h.9v.9h-.9zM292.8 503.9h.9v.9h-.9zM288.9 510.9h.9v.9h-.9zM291.3 506.6h.9v.9h-.9zM300.5 502.2h.9v.9h-.9zM302.8 507.9h.9v.9h-.9zM293.8 499.4h.9v.9h-.9zM295.2 502.3h.9v.9h-.9zM296.3 510.3h.9v.9h-.9zM290.4 507.7h.9v.9h-.9zM292.2 499.9h.9v.9h-.9zM291.1 503.8h.9v.9h-.9zM291.7 504.3h.9v.9h-.9zM294.8 509.0h.9v.9h-.9zM294.6 507.0h.9v.9h-.9zM289.0 510.1h.9v.9h-.9zM287.6 507.2h.9v.9h-.9zM297.7 510.2h.9v.9h-.9zM293.5 503.1h.9v.9h-.9zM294.5 509.7h.9v.9h-.9zM293.5 502.2h.9v.9h-.9zM293.7 505.8h.9v.9h-.9zM290.6 506.4h.9v.9h-.9zM294.1 505.0h.9v.9h-.9zM299.5 509.0h.9v.9h-.9zM293.9 501.4h.9v.9h-.9zM295.1 504.5h.9v.9h-.9zM295.3 503.1h.9v.9h-.9zM292.7 502.7h.9v.9h-.9zM293.3 509.7h.9v.9h-.9zM294.8 509.9h.9v.9h-.9zM296.8 506.4h.9v.9h-.9zM291.5 498.6h.9v.9h-.9zM287.6 502.2h.9v.9h-.9zM285.9 513.4h.9v.9h-.9zM292.2 510.9h.9v.9h-.9zM286.3 500.8h.9v.9h-.9zM294.4 504.0h.9v.9h-.9zM298.6 507.7h.9v.9h-.9zM299.1 507.6h.9v.9h-.9zM296.3 506.7h.9v.9h-.9zM293.7 502.7h.9v.9h-.9zM287.0 509.6h.9v.9h-.9zM295.6 501.9h.9v.9h-.9zM298.2 503.8h.9v.9h-.9zM289.9 506.9h.9v.9h-.9zM289.9 507.3h.9v.9h-.9zM300.2 505.5h.9v.9h-.9zM298.9 507.4h.9v.9h-.9zM287.4 511.5h.9v.9h-.9zM290.4 503.4h.9v.9h-.9zM292.3 505.8h.9v.9h-.9zM289.4 495.9h.9v.9h-.9zM296.6 504.2h.9v.9h-.9zM294.4 506.0h.9v.9h-.9zM290.7 509.6h.9v.9h-.9zM291.7 505.3h.9v.9h-.9zM309.1 529.3h.9v.9h-.9zM305.9 536.6h.9v.9h-.9zM317.4 524.4h.9v.9h-.9zM307.3 531.7h.9v.9h-.9zM309.6 530.3h.9v.9h-.9zM302.3 533.8h.9v.9h-.9zM306.0 531.4h.9v.9h-.9zM310.8 523.3h.9v.9h-.9zM312.8 531.9h.9v.9h-.9zM305.8 534.5h.9v.9h-.9zM309.8 521.2h.9v.9h-.9zM306.7 531.6h.9v.9h-.9zM311.1 519.9h.9v.9h-.9zM302.7 531.6h.9v.9h-.9zM307.1 523.7h.9v.9h-.9zM305.3 527.2h.9v.9h-.9zM308.3 523.4h.9v.9h-.9zM309.1 540.2h.9v.9h-.9zM304.4 531.3h.9v.9h-.9zM301.4 532.2h.9v.9h-.9zM305.5 527.4h.9v.9h-.9zM304.6 527.5h.9v.9h-.9zM308.9 535.6h.9v.9h-.9zM314.1 527.3h.9v.9h-.9zM311.3 530.1h.9v.9h-.9zM307.0 525.6h.9v.9h-.9zM303.4 530.8h.9v.9h-.9zM308.7 522.4h.9v.9h-.9zM312.6 523.6h.9v.9h-.9zM313.4 520.8h.9v.9h-.9zM305.7 531.3h.9v.9h-.9zM316.2 510.8h.9v.9h-.9zM300.7 510.9h.9v.9h-.9zM304.6 527.4h.9v.9h-.9zM304.6 531.1h.9v.9h-.9zM305.1 525.2h.9v.9h-.9zM305.9 528.5h.9v.9h-.9zM304.2 531.5h.9v.9h-.9zM309.8 527.5h.9v.9h-.9zM305.2 537.4h.9v.9h-.9zM307.7 523.8h.9v.9h-.9zM306.3 531.7h.9v.9h-.9zM305.2 532.6h.9v.9h-.9zM309.0 538.9h.9v.9h-.9zM310.1 518.4h.9v.9h-.9zM303.9 536.2h.9v.9h-.9zM307.5 528.1h.9v.9h-.9zM311.1 541.5h.9v.9h-.9zM307.1 531.1h.9v.9h-.9zM307.4 523.7h.9v.9h-.9zM309.9 525.9h.9v.9h-.9zM302.7 533.5h.9v.9h-.9zM309.1 530.6h.9v.9h-.9zM304.8 529.5h.9v.9h-.9zM305.2 528.6h.9v.9h-.9zM304.7 500.3h.9v.9h-.9zM302.6 507.7h.9v.9h-.9zM282.0 540.2h.9v.9h-.9zM294.6 509.0h.9v.9h-.9zM285.5 514.7h.9v.9h-.9zM280.3 516.7h.9v.9h-.9zM281.2 537.8h.9v.9h-.9zM283.0 541.9h.9v.9h-.9zM284.8 534.5h.9v.9h-.9zM312.5 523.7h.9v.9h-.9zM312.3 510.1h.9v.9h-.9zM297.1 507.2h.9v.9h-.9zM308.5 536.9h.9v.9h-.9zM303.7 504.1h.9v.9h-.9zM293.6 508.3h.9v.9h-.9zM296.0 510.2h.9v.9h-.9zM286.6 543.7h.9v.9h-.9zM307.9 502.4h.9v.9h-.9zM287.7 512.5h.9v.9h-.9zM287.4 509.4h.9v.9h-.9zM285.0 517.1h.9v.9h-.9zM315.9 534.6h.9v.9h-.9zM285.8 527.0h.9v.9h-.9zM307.6 541.9h.9v.9h-.9zM280.4 524.0h.9v.9h-.9zM316.7 509.9h.9v.9h-.9zM304.3 533.5h.9v.9h-.9zM295.1 508.3h.9v.9h-.9zM289.1 506.9h.9v.9h-.9zM284.2 520.2h.9v.9h-.9zM312.8 517.5h.9v.9h-.9zM279.8 540.4h.9v.9h-.9zM299.2 509.3h.9v.9h-.9zM303.7 506.3h.9v.9h-.9zM302.2 508.4h.9v.9h-.9zM312.4 511.3h.9v.9h-.9zM294.5 509.4h.9v.9h-.9zM285.1 521.7h.9v.9h-.9zM293.9 510.3h.9v.9h-.9zM283.9 519.3h.9v.9h-.9zM298.2 544.6h.9v.9h-.9zM282.4 543.0h.9v.9h-.9zM288.3 544.1h.9v.9h-.9zM304.0 530.1h.9v.9h-.9zM276.0 514.8h.9v.9h-.9zM310.5 518.8h.9v.9h-.9zM301.5 509.8h.9v.9h-.9zM302.3 532.4h.9v.9h-.9zM294.0 509.5h.9v.9h-.9zM294.4 545.4h.9v.9h-.9zM287.2 507.5h.9v.9h-.9zM311.4 504.0h.9v.9h-.9zM302.4 543.4h.9v.9h-.9zM314.3 508.6h.9v.9h-.9zM291.4 508.6h.9v.9h-.9zM286.0 518.7h.9v.9h-.9zM302.4 507.9h.9v.9h-.9zM282.0 518.6h.9v.9h-.9zM312.3 536.4h.9v.9h-.9z" fill="#1a1a80" fill-opacity="0.7"/><g filter="url(#bl)"><path d="M305 505h4v1h-4zM304 506h7v1h-7zM303 507h8v1h-8zM303 508h9v1h-9zM302 509h10v1h-10zM301 510h11v1h-11zM291 511h21v1h-21zM290 512h22v1h-22zM289 513h23v1h-23zM288 514h24v1h-24zM288 515h24v1h-24zM287 516h24v1h-24zM287 517h24v1h-24zM287 518h23v1h-23zM287 519h22v1h-22zM286 520h22v1h-22zM286 521h22v1h-22zM286 522h21v1h-21zM286 523h20v1h-20zM286 524h20v1h-20zM287 525h18v1h-18zM287 526h18v1h-18zM287 527h17v1h-17zM287 528h17v1h-17zM288 529h15v1h-15zM288 530h14v1h-14zM288 531h14v1h-14zM288 532h13v1h-13zM287 533h15v1h-15zM286 534h16v1h-16zM285 535h18v1h-18zM285 536h18v1h-18zM284 537h21v1h-21zM284 538h21v1h-21zM284 539h22v1h-22zM284 540h21v1h-21zM284 541h21v1h-21zM286 542h17v1h-17zM288 543h13v1h-13zM291 544h6v1h-6z" fill="#03036a"/><path d="M305 506h3v1h-3zM305 507h4v1h-4zM304 508h5v1h-5zM304 509h5v1h-5zM304 510h5v1h-5zM304 511h5v1h-5zM304 512h5v1h-5zM305 513h3v1h-3zM306 514h1v1h-1zM293 518h3v1h-3zM292 519h4v1h-4zM291 520h6v1h-6zM291 521h6v1h-6zM291 522h7v1h-7zM290 523h8v1h-8zM290 524h8v1h-8zM290 525h8v1h-8zM290 526h8v1h-8zM290 527h8v1h-8zM291 528h7v1h-7zM291 529h6v1h-6zM291 530h6v1h-6zM292 531h4v1h-4zM293 532h3v1h-3zM293 535h2v1h-2zM288 536h13v1h-13zM286 537h17v1h-17zM285 538h19v1h-19zM285 539h19v1h-19zM285 540h19v1h-19zM286 541h17v1h-17zM287 542h14v1h-14z" fill="#140010"/><path d="M305 507h3v1h-3zM305 508h3v1h-3zM305 509h4v1h-4zM304 510h5v1h-5zM305 511h4v1h-4zM305 512h3v1h-3zM306 513h2v1h-2zM294 519h1v1h-1zM292 520h4v1h-4zM292 521h4v1h-4zM291 522h6v1h-6zM291 523h6v1h-6zM291 524h6v1h-6zM291 525h6v1h-6zM291 526h6v1h-6zM291 527h6v1h-6zM291 528h6v1h-6zM292 529h4v1h-4zM292 530h4v1h-4zM294 531h1v1h-1zM289 536h10v1h-10zM287 537h15v1h-15zM286 538h17v1h-17zM285 539h18v1h-18zM285 540h18v1h-18zM286 541h16v1h-16zM288 542h12v1h-12z" fill="#5c0000"/><path d="M306 507h1v1h-1zM305 508h3v1h-3zM305 509h3v1h-3zM305 510h3v1h-3zM305 511h3v1h-3zM306 512h2v1h-2zM293 521h2v1h-2zM292 522h4v1h-4zM292 523h4v1h-4zM292 524h4v1h-4zM292 525h4v1h-4zM292 526h4v1h-4zM292 527h4v1h-4zM292 528h4v1h-4zM293 529h2v1h-2zM290 536h8v1h-8zM287 537h14v1h-14zM286 538h16v1h-16zM286 539h17v1h-17zM286 540h16v1h-16zM287 541h14v1h-14zM289 542h9v1h-9z" fill="#a00000"/><path d="M306 509h1v1h-1zM306 510h2v1h-2zM306 511h1v1h-1zM291 536h5v1h-5zM288 537h12v1h-12zM286 538h16v1h-16zM286 539h16v1h-16zM286 540h16v1h-16zM287 541h13v1h-13zM290 542h7v1h-7z" fill="#e00000"/><path d="M288 537h11v1h-11zM287 538h14v1h-14zM287 539h14v1h-14zM287 540h14v1h-14zM288 541h11v1h-11zM291 542h4v1h-4z" fill="#ff1400"/><path d="M289 537h9v1h-9zM287 538h13v1h-13zM287 539h13v1h-13zM287 540h13v1h-13zM289 541h9v1h-9z" fill="#ff4c00"/><path d="M290 537h7v1h-7zM288 538h11v1h-11zM288 539h11v1h-11zM288 540h11v1h-11zM289 541h8v1h-8z" fill="#ff8400"/><path d="M291 537h5v1h-5zM289 538h9v1h-9zM288 539h11v1h-11zM288 540h10v1h-10zM290 541h6v1h-6z" fill="#ffb400"/><path d="M293 537h1v1h-1zM289 538h8v1h-8zM289 539h9v1h-9zM289 540h9v1h-9zM291 541h4v1h-4z" fill="#ffdc00"/><path d="M290 538h7v1h-7zM289 539h8v1h-8zM290 540h7v1h-7z" fill="#ffff2c"/><path d="M291 538h5v1h-5zM290 539h7v1h-7zM291 540h5v1h-5z" fill="#ffffa0"/></g><rect x="276.2" y="489.3" width="52.00" height="43.70" fill="none" stroke="#3c5ce6" stroke-width="1.15"/><text x="278.00" y="497.30" font-size="7.7" text-anchor="start" fill="#3050b0" stroke="#3050b0" stroke-width="0.3" textLength="24.4" lengthAdjust="spacingAndGlyphs">36.28%</text><rect x="95.9" y="485.4" width="60.70" height="61.10" fill="#fff" stroke="#555" stroke-width="0.9"/><path d="M99.40 546.5v3.0M103.92 546.5v1.9M106.56 546.5v1.9M108.43 546.5v1.9M109.88 546.5v1.9M111.07 546.5v1.9M112.08 546.5v1.9M112.95 546.5v1.9M113.71 546.5v1.9M114.40 546.5v3.0M118.92 546.5v1.9M121.56 546.5v1.9M123.43 546.5v1.9M124.88 546.5v1.9M126.07 546.5v1.9M127.08 546.5v1.9M127.95 546.5v1.9M128.71 546.5v1.9M129.40 546.5v3.0M133.92 546.5v1.9M136.56 546.5v1.9M138.43 546.5v1.9M139.88 546.5v1.9M141.07 546.5v1.9M142.08 546.5v1.9M142.95 546.5v1.9M143.71 546.5v1.9M144.40 546.5v3.0M148.92 546.5v1.9M151.56 546.5v1.9M153.43 546.5v1.9M154.88 546.5v1.9M95.9 542.10h-1.9M95.9 539.53h-1.9M95.9 537.71h-1.9M95.9 536.30h-1.9M95.9 535.14h-1.9M95.9 534.16h-1.9M95.9 533.31h-1.9M95.9 532.57h-1.9M95.9 531.90h-3.0M95.9 527.50h-1.9M95.9 524.93h-1.9M95.9 523.11h-1.9M95.9 521.70h-1.9M95.9 520.54h-1.9M95.9 519.56h-1.9M95.9 518.71h-1.9M95.9 517.97h-1.9M95.9 517.30h-3.0M95.9 512.90h-1.9M95.9 510.33h-1.9M95.9 508.51h-1.9M95.9 507.10h-1.9M95.9 505.94h-1.9M95.9 504.96h-1.9M95.9 504.11h-1.9M95.9 503.37h-1.9M95.9 502.70h-3.0M95.9 498.30h-1.9M95.9 495.73h-1.9M95.9 493.91h-1.9M95.9 492.50h-1.9M95.9 491.34h-1.9M95.9 490.36h-1.9M95.9 489.51h-1.9M95.9 488.77h-1.9M95.9 488.10h-3.0" stroke="#1a1a1a" stroke-width="0.85" fill="none"/><path d="M117.5 526.1h.9v.9h-.9zM124.1 503.2h.9v.9h-.9zM110.4 509.3h.9v.9h-.9zM121.9 501.5h.9v.9h-.9zM113.6 522.1h.9v.9h-.9zM113.9 516.9h.9v.9h-.9zM120.4 513.7h.9v.9h-.9zM119.7 514.5h.9v.9h-.9zM120.8 514.3h.9v.9h-.9zM114.2 509.2h.9v.9h-.9zM116.4 509.1h.9v.9h-.9zM133.0 529.6h.9v.9h-.9zM120.5 505.6h.9v.9h-.9zM119.7 509.7h.9v.9h-.9zM115.6 528.1h.9v.9h-.9zM120.1 513.6h.9v.9h-.9zM115.1 518.9h.9v.9h-.9zM121.0 503.9h.9v.9h-.9zM118.6 510.6h.9v.9h-.9zM112.1 514.7h.9v.9h-.9zM115.5 513.1h.9v.9h-.9zM117.8 513.8h.9v.9h-.9zM127.5 499.5h.9v.9h-.9zM117.1 507.0h.9v.9h-.9zM124.6 505.6h.9v.9h-.9zM115.3 491.8h.9v.9h-.9zM111.7 514.4h.9v.9h-.9zM117.9 515.7h.9v.9h-.9zM118.8 516.2h.9v.9h-.9zM114.8 518.5h.9v.9h-.9zM118.9 509.0h.9v.9h-.9zM131.6 523.6h.9v.9h-.9zM113.5 525.6h.9v.9h-.9zM112.6 508.7h.9v.9h-.9zM115.7 514.3h.9v.9h-.9zM128.8 500.9h.9v.9h-.9zM117.1 509.9h.9v.9h-.9zM120.7 512.0h.9v.9h-.9zM116.8 491.0h.9v.9h-.9zM113.6 507.5h.9v.9h-.9zM109.5 518.3h.9v.9h-.9zM110.0 520.1h.9v.9h-.9zM116.9 518.6h.9v.9h-.9zM110.0 526.4h.9v.9h-.9zM109.2 523.4h.9v.9h-.9zM122.5 500.9h.9v.9h-.9zM117.2 511.6h.9v.9h-.9zM115.3 524.1h.9v.9h-.9zM119.0 508.7h.9v.9h-.9zM120.5 504.2h.9v.9h-.9zM114.9 512.4h.9v.9h-.9zM115.6 503.3h.9v.9h-.9zM115.2 524.0h.9v.9h-.9zM107.0 508.4h.9v.9h-.9zM117.3 514.6h.9v.9h-.9zM115.8 510.6h.9v.9h-.9zM117.2 510.0h.9v.9h-.9zM117.0 514.3h.9v.9h-.9zM116.7 516.9h.9v.9h-.9zM112.3 511.8h.9v.9h-.9zM116.1 518.4h.9v.9h-.9zM118.3 514.9h.9v.9h-.9zM113.1 504.0h.9v.9h-.9zM134.6 524.4h.9v.9h-.9zM119.1 503.1h.9v.9h-.9zM121.3 500.3h.9v.9h-.9zM114.2 527.8h.9v.9h-.9zM115.5 512.6h.9v.9h-.9zM112.9 502.1h.9v.9h-.9zM115.5 511.9h.9v.9h-.9zM110.5 500.9h.9v.9h-.9zM113.2 504.9h.9v.9h-.9zM109.8 514.1h.9v.9h-.9zM118.4 501.6h.9v.9h-.9zM141.5 511.4h.9v.9h-.9zM135.0 534.6h.9v.9h-.9zM116.5 528.6h.9v.9h-.9zM138.5 541.7h.9v.9h-.9zM142.7 505.2h.9v.9h-.9zM115.4 519.6h.9v.9h-.9zM110.7 532.0h.9v.9h-.9zM141.2 495.6h.9v.9h-.9zM146.7 498.8h.9v.9h-.9zM141.6 514.5h.9v.9h-.9zM131.9 500.5h.9v.9h-.9zM130.3 501.3h.9v.9h-.9zM129.4 529.8h.9v.9h-.9zM138.8 534.9h.9v.9h-.9zM137.2 534.9h.9v.9h-.9zM108.6 528.4h.9v.9h-.9zM134.2 538.0h.9v.9h-.9zM141.9 512.6h.9v.9h-.9zM132.4 539.9h.9v.9h-.9zM130.3 501.0h.9v.9h-.9zM111.4 526.7h.9v.9h-.9zM140.3 501.9h.9v.9h-.9zM129.1 524.5h.9v.9h-.9zM115.6 519.8h.9v.9h-.9zM144.3 513.1h.9v.9h-.9zM128.2 501.9h.9v.9h-.9zM137.8 527.8h.9v.9h-.9zM128.9 500.3h.9v.9h-.9zM101.7 541.6h.9v.9h-.9zM114.5 520.2h.9v.9h-.9zM140.3 518.4h.9v.9h-.9zM127.1 530.1h.9v.9h-.9zM111.5 531.4h.9v.9h-.9zM143.5 518.5h.9v.9h-.9zM140.2 489.9h.9v.9h-.9zM106.5 535.8h.9v.9h-.9zM127.0 543.5h.9v.9h-.9zM142.3 524.8h.9v.9h-.9zM129.4 527.1h.9v.9h-.9zM122.4 506.9h.9v.9h-.9zM133.1 530.7h.9v.9h-.9zM126.1 502.1h.9v.9h-.9zM132.4 537.9h.9v.9h-.9zM100.5 538.0h.9v.9h-.9zM127.6 544.4h.9v.9h-.9z" fill="#1a1a80" fill-opacity="0.7"/><g filter="url(#bl)"><path d="M130 502h7v1h-7zM128 503h10v1h-10zM127 504h12v1h-12zM126 505h14v1h-14zM125 506h15v1h-15zM124 507h17v1h-17zM123 508h18v1h-18zM123 509h18v1h-18zM122 510h19v1h-19zM122 511h19v1h-19zM122 512h19v1h-19zM121 513h19v1h-19zM121 514h19v1h-19zM121 515h19v1h-19zM120 516h19v1h-19zM120 517h18v1h-18zM120 518h18v1h-18zM120 519h17v1h-17zM119 520h17v1h-17zM119 521h15v1h-15zM119 522h14v1h-14zM118 523h13v1h-13zM118 524h11v1h-11zM118 525h11v1h-11zM118 526h10v1h-10zM118 527h9v1h-9zM117 528h10v1h-10zM116 529h11v1h-11zM115 530h12v1h-12zM112 531h15v1h-15zM110 532h18v1h-18zM108 533h21v1h-21zM107 534h23v1h-23zM107 535h24v1h-24zM106 536h25v1h-25zM106 537h26v1h-26zM105 538h26v1h-26zM105 539h26v1h-26zM105 540h26v1h-26zM105 541h25v1h-25zM106 542h23v1h-23zM107 543h20v1h-20zM109 544h16v1h-16zM118 545h1v1h-1z" fill="#03036a"/><path d="M133 506h3v1h-3zM131 507h6v1h-6zM131 508h6v1h-6zM130 509h7v1h-7zM129 510h8v1h-8zM129 511h7v1h-7zM128 512h8v1h-8zM128 513h7v1h-7zM127 514h7v1h-7zM128 515h5v1h-5zM128 516h3v1h-3zM109 535h17v1h-17zM108 536h20v1h-20zM107 537h22v1h-22zM106 538h24v1h-24zM106 539h24v1h-24zM106 540h23v1h-23zM107 541h21v1h-21zM107 542h20v1h-20zM109 543h12v1h-12z" fill="#140010"/><path d="M133 507h2v1h-2zM132 508h4v1h-4zM131 509h5v1h-5zM131 510h5v1h-5zM130 511h5v1h-5zM130 512h5v1h-5zM129 513h4v1h-4zM130 514h2v1h-2zM110 535h11v1h-11zM108 536h20v1h-20zM107 537h22v1h-22zM107 538h22v1h-22zM106 539h23v1h-23zM107 540h22v1h-22zM107 541h21v1h-21zM108 542h17v1h-17zM110 543h7v1h-7z" fill="#5c0000"/><path d="M112 535h3v1h-3zM109 536h18v1h-18zM108 537h20v1h-20zM107 538h22v1h-22zM107 539h22v1h-22zM107 540h21v1h-21zM107 541h20v1h-20zM108 542h15v1h-15zM111 543h5v1h-5z" fill="#a00000"/><path d="M109 536h16v1h-16zM108 537h20v1h-20zM107 538h21v1h-21zM107 539h21v1h-21zM107 540h21v1h-21zM108 541h18v1h-18zM109 542h11v1h-11zM112 543h2v1h-2z" fill="#e00000"/><path d="M110 536h10v1h-10zM109 537h18v1h-18zM108 538h20v1h-20zM108 539h20v1h-20zM108 540h19v1h-19zM108 541h17v1h-17zM110 542h8v1h-8z" fill="#ff1400"/><path d="M111 536h6v1h-6zM109 537h17v1h-17zM108 538h19v1h-19zM108 539h19v1h-19zM108 540h18v1h-18zM109 541h12v1h-12zM110 542h6v1h-6z" fill="#ff4c00"/><path d="M113 536h1v1h-1zM110 537h10v1h-10zM109 538h16v1h-16zM109 539h17v1h-17zM109 540h15v1h-15zM109 541h10v1h-10zM112 542h3v1h-3z" fill="#ff8400"/><path d="M110 537h8v1h-8zM109 538h11v1h-11zM109 539h11v1h-11zM109 540h10v1h-10zM110 541h8v1h-8z" fill="#ffb400"/><path d="M111 537h6v1h-6zM110 538h9v1h-9zM109 539h10v1h-10zM110 540h8v1h-8zM111 541h6v1h-6z" fill="#ffdc00"/><path d="M112 537h3v1h-3zM110 538h8v1h-8zM110 539h8v1h-8zM110 540h8v1h-8zM112 541h4v1h-4z" fill="#ffff2c"/><path d="M111 538h6v1h-6zM111 539h7v1h-7zM111 540h6v1h-6z" fill="#ffffa0"/></g><rect x="99.6" y="489.3" width="51.30" height="41.00" fill="none" stroke="#3c5ce6" stroke-width="1.15"/><text x="101.40" y="497.30" font-size="7.7" text-anchor="start" fill="#3050b0" stroke="#3050b0" stroke-width="0.3" textLength="24.4" lengthAdjust="spacingAndGlyphs">27.79%</text><rect x="339.1" y="485.4" width="60.70" height="61.10" fill="#fff" stroke="#555" stroke-width="0.9"/><path d="M342.60 546.5v3.0M347.12 546.5v1.9M349.76 546.5v1.9M351.63 546.5v1.9M353.08 546.5v1.9M354.27 546.5v1.9M355.28 546.5v1.9M356.15 546.5v1.9M356.91 546.5v1.9M357.60 546.5v3.0M362.12 546.5v1.9M364.76 546.5v1.9M366.63 546.5v1.9M368.08 546.5v1.9M369.27 546.5v1.9M370.28 546.5v1.9M371.15 546.5v1.9M371.91 546.5v1.9M372.60 546.5v3.0M377.12 546.5v1.9M379.76 546.5v1.9M381.63 546.5v1.9M383.08 546.5v1.9M384.27 546.5v1.9M385.28 546.5v1.9M386.15 546.5v1.9M386.91 546.5v1.9M387.60 546.5v3.0M392.12 546.5v1.9M394.76 546.5v1.9M396.63 546.5v1.9M398.08 546.5v1.9M339.1 542.10h-1.9M339.1 539.53h-1.9M339.1 537.71h-1.9M339.1 536.30h-1.9M339.1 535.14h-1.9M339.1 534.16h-1.9M339.1 533.31h-1.9M339.1 532.57h-1.9M339.1 531.90h-3.0M339.1 527.50h-1.9M339.1 524.93h-1.9M339.1 523.11h-1.9M339.1 521.70h-1.9M339.1 520.54h-1.9M339.1 519.56h-1.9M339.1 518.71h-1.9M339.1 517.97h-1.9M339.1 517.30h-3.0M339.1 512.90h-1.9M339.1 510.33h-1.9M339.1 508.51h-1.9M339.1 507.10h-1.9M339.1 505.94h-1.9M339.1 504.96h-1.9M339.1 504.11h-1.9M339.1 503.37h-1.9M339.1 502.70h-3.0M339.1 498.30h-1.9M339.1 495.73h-1.9M339.1 493.91h-1.9M339.1 492.50h-1.9M339.1 491.34h-1.9M339.1 490.36h-1.9M339.1 489.51h-1.9M339.1 488.77h-1.9M339.1 488.10h-3.0" stroke="#1a1a1a" stroke-width="0.85" fill="none"/><path d="M384.3 507.3h.9v.9h-.9zM353.1 528.0h.9v.9h-.9zM371.1 530.2h.9v.9h-.9zM349.0 519.1h.9v.9h-.9zM367.4 503.5h.9v.9h-.9zM347.1 523.0h.9v.9h-.9zM370.8 533.9h.9v.9h-.9zM350.5 525.2h.9v.9h-.9zM370.2 504.5h.9v.9h-.9zM381.4 516.3h.9v.9h-.9zM355.4 507.3h.9v.9h-.9zM373.9 526.4h.9v.9h-.9zM380.0 521.7h.9v.9h-.9zM380.4 517.9h.9v.9h-.9zM378.4 501.8h.9v.9h-.9zM348.7 530.8h.9v.9h-.9zM372.9 527.8h.9v.9h-.9zM371.4 529.1h.9v.9h-.9zM358.5 501.5h.9v.9h-.9zM353.8 511.5h.9v.9h-.9zM348.7 521.5h.9v.9h-.9zM379.3 509.5h.9v.9h-.9zM358.1 489.2h.9v.9h-.9zM372.4 527.0h.9v.9h-.9zM380.1 523.8h.9v.9h-.9zM374.9 522.0h.9v.9h-.9zM371.5 528.2h.9v.9h-.9zM372.7 526.9h.9v.9h-.9zM371.8 505.2h.9v.9h-.9zM353.4 525.9h.9v.9h-.9zM359.9 505.4h.9v.9h-.9zM351.1 543.5h.9v.9h-.9zM352.6 506.1h.9v.9h-.9zM381.9 505.9h.9v.9h-.9zM373.9 503.8h.9v.9h-.9zM381.7 510.4h.9v.9h-.9zM374.7 529.3h.9v.9h-.9zM357.1 501.7h.9v.9h-.9zM371.9 542.6h.9v.9h-.9zM372.3 529.8h.9v.9h-.9zM350.7 518.0h.9v.9h-.9zM383.8 517.5h.9v.9h-.9zM353.8 529.3h.9v.9h-.9zM352.4 534.8h.9v.9h-.9zM351.8 524.0h.9v.9h-.9zM370.8 504.8h.9v.9h-.9zM373.6 544.8h.9v.9h-.9zM372.2 531.4h.9v.9h-.9zM377.3 535.5h.9v.9h-.9zM377.8 514.6h.9v.9h-.9zM353.3 530.6h.9v.9h-.9zM378.8 518.1h.9v.9h-.9z" fill="#1a1a80" fill-opacity="0.7"/><g filter="url(#bl)"><path d="M364 505h7v1h-7zM361 506h11v1h-11zM359 507h14v1h-14zM357 508h17v1h-17zM356 509h19v1h-19zM355 510h20v1h-20zM355 511h21v1h-21zM354 512h22v1h-22zM354 513h23v1h-23zM354 514h23v1h-23zM354 515h23v1h-23zM353 516h23v1h-23zM353 517h23v1h-23zM353 518h23v1h-23zM353 519h22v1h-22zM353 520h22v1h-22zM353 521h21v1h-21zM353 522h21v1h-21zM353 523h20v1h-20zM354 524h19v1h-19zM354 525h19v1h-19zM354 526h18v1h-18zM354 527h18v1h-18zM355 528h16v1h-16zM355 529h16v1h-16zM355 530h15v1h-15zM356 531h14v1h-14zM356 532h14v1h-14zM355 533h15v1h-15zM354 534h17v1h-17zM353 535h19v1h-19zM353 536h19v1h-19zM352 537h21v1h-21zM352 538h21v1h-21zM352 539h21v1h-21zM352 540h20v1h-20zM353 541h19v1h-19zM354 542h17v1h-17zM356 543h14v1h-14zM359 544h8v1h-8z" fill="#03036a"/><path d="M365 506h5v1h-5zM363 507h8v1h-8zM362 508h10v1h-10zM361 509h12v1h-12zM361 510h12v1h-12zM360 511h13v1h-13zM359 512h14v1h-14zM359 513h14v1h-14zM358 514h15v1h-15zM358 515h15v1h-15zM357 516h16v1h-16zM357 517h16v1h-16zM357 518h16v1h-16zM356 519h16v1h-16zM356 520h16v1h-16zM356 521h15v1h-15zM356 522h14v1h-14zM356 523h14v1h-14zM356 524h13v1h-13zM356 525h13v1h-13zM356 526h12v1h-12zM356 527h12v1h-12zM356 528h12v1h-12zM357 529h10v1h-10zM357 530h10v1h-10zM358 531h8v1h-8zM358 532h8v1h-8zM358 533h8v1h-8zM357 534h11v1h-11zM355 535h14v1h-14zM354 536h16v1h-16zM353 537h18v1h-18zM353 538h18v1h-18zM353 539h18v1h-18zM353 540h18v1h-18zM354 541h16v1h-16zM355 542h14v1h-14zM358 543h10v1h-10z" fill="#140010"/><path d="M364 507h6v1h-6zM363 508h8v1h-8zM362 509h10v1h-10zM361 510h11v1h-11zM361 511h12v1h-12zM360 512h13v1h-13zM360 513h13v1h-13zM359 514h14v1h-14zM359 515h14v1h-14zM358 516h15v1h-15zM358 517h14v1h-14zM357 518h15v1h-15zM357 519h15v1h-15zM357 520h14v1h-14zM357 521h13v1h-13zM356 522h14v1h-14zM356 523h13v1h-13zM356 524h12v1h-12zM356 525h12v1h-12zM357 526h11v1h-11zM357 527h10v1h-10zM357 528h10v1h-10zM357 529h10v1h-10zM358 530h8v1h-8zM359 531h6v1h-6zM360 532h5v1h-5zM360 533h5v1h-5zM358 534h9v1h-9zM356 535h13v1h-13zM355 536h15v1h-15zM354 537h16v1h-16zM354 538h17v1h-17zM354 539h17v1h-17zM354 540h16v1h-16zM355 541h15v1h-15zM356 542h13v1h-13zM360 543h6v1h-6z" fill="#5c0000"/><path d="M365 507h4v1h-4zM364 508h7v1h-7zM363 509h8v1h-8zM362 510h10v1h-10zM361 511h11v1h-11zM361 512h11v1h-11zM360 513h13v1h-13zM360 514h13v1h-13zM359 515h13v1h-13zM359 516h13v1h-13zM358 517h14v1h-14zM358 518h14v1h-14zM358 519h13v1h-13zM357 520h14v1h-14zM357 521h13v1h-13zM357 522h12v1h-12zM357 523h12v1h-12zM357 524h11v1h-11zM357 525h10v1h-10zM357 526h10v1h-10zM357 527h10v1h-10zM358 528h8v1h-8zM358 529h8v1h-8zM359 530h6v1h-6zM360 531h4v1h-4zM361 533h3v1h-3zM359 534h7v1h-7zM357 535h11v1h-11zM355 536h14v1h-14zM354 537h16v1h-16zM354 538h16v1h-16zM354 539h16v1h-16zM354 540h16v1h-16zM355 541h14v1h-14zM357 542h11v1h-11zM361 543h4v1h-4z" fill="#a00000"/><path d="M365 508h5v1h-5zM363 509h8v1h-8zM362 510h9v1h-9zM362 511h10v1h-10zM361 512h11v1h-11zM360 513h12v1h-12zM360 514h12v1h-12zM360 515h12v1h-12zM359 516h13v1h-13zM359 517h13v1h-13zM359 518h12v1h-12zM358 519h13v1h-13zM358 520h12v1h-12zM358 521h11v1h-11zM358 522h11v1h-11zM358 523h10v1h-10zM358 524h9v1h-9zM358 525h9v1h-9zM358 526h8v1h-8zM358 527h8v1h-8zM359 528h6v1h-6zM359 529h6v1h-6zM361 530h2v1h-2zM360 534h5v1h-5zM358 535h9v1h-9zM356 536h13v1h-13zM355 537h14v1h-14zM355 538h15v1h-15zM355 539h15v1h-15zM355 540h14v1h-14zM356 541h13v1h-13zM358 542h9v1h-9z" fill="#e00000"/><path d="M366 508h3v1h-3zM364 509h6v1h-6zM363 510h8v1h-8zM362 511h9v1h-9zM361 512h11v1h-11zM361 513h11v1h-11zM360 514h12v1h-12zM360 515h12v1h-12zM360 516h11v1h-11zM359 517h12v1h-12zM359 518h12v1h-12zM359 519h11v1h-11zM359 520h11v1h-11zM359 521h10v1h-10zM359 522h9v1h-9zM359 523h8v1h-8zM359 524h8v1h-8zM359 525h7v1h-7zM359 526h6v1h-6zM359 527h6v1h-6zM360 528h4v1h-4zM359 535h8v1h-8zM356 536h12v1h-12zM355 537h14v1h-14zM355 538h14v1h-14zM355 539h14v1h-14zM355 540h14v1h-14zM357 541h11v1h-11zM359 542h7v1h-7z" fill="#ff1400"/><path d="M365 509h4v1h-4zM364 510h6v1h-6zM363 511h8v1h-8zM362 512h9v1h-9zM361 513h10v1h-10zM361 514h10v1h-10zM361 515h10v1h-10zM360 516h11v1h-11zM360 517h11v1h-11zM360 518h10v1h-10zM360 519h10v1h-10zM360 520h9v1h-9zM360 521h8v1h-8zM360 522h7v1h-7zM360 523h7v1h-7zM360 524h6v1h-6zM361 525h3v1h-3zM362 526h1v1h-1zM360 535h6v1h-6zM357 536h10v1h-10zM356 537h12v1h-12zM356 538h13v1h-13zM356 539h13v1h-13zM356 540h12v1h-12zM357 541h10v1h-10zM361 542h4v1h-4z" fill="#ff4c00"/><path d="M366 509h2v1h-2zM364 510h6v1h-6zM363 511h7v1h-7zM363 512h8v1h-8zM362 513h9v1h-9zM362 514h9v1h-9zM361 515h10v1h-10zM361 516h10v1h-10zM361 517h9v1h-9zM361 518h9v1h-9zM360 519h9v1h-9zM361 520h7v1h-7zM361 521h7v1h-7zM361 522h6v1h-6zM362 523h3v1h-3zM362 535h2v1h-2zM358 536h9v1h-9zM357 537h11v1h-11zM356 538h12v1h-12zM356 539h12v1h-12zM357 540h11v1h-11zM358 541h9v1h-9z" fill="#ff8400"/><path d="M365 510h4v1h-4zM364 511h6v1h-6zM363 512h7v1h-7zM362 513h8v1h-8zM362 514h8v1h-8zM362 515h8v1h-8zM361 516h9v1h-9zM361 517h9v1h-9zM361 518h8v1h-8zM361 519h8v1h-8zM361 520h7v1h-7zM362 521h5v1h-5zM363 522h3v1h-3zM359 536h7v1h-7zM357 537h10v1h-10zM357 538h11v1h-11zM357 539h11v1h-11zM357 540h10v1h-10zM359 541h7v1h-7z" fill="#ffb400"/><path d="M365 511h4v1h-4zM364 512h5v1h-5zM363 513h7v1h-7zM362 514h8v1h-8zM362 515h8v1h-8zM362 516h8v1h-8zM362 517h7v1h-7zM362 518h7v1h-7zM362 519h6v1h-6zM362 520h5v1h-5zM363 521h3v1h-3zM360 536h5v1h-5zM358 537h9v1h-9zM357 538h10v1h-10zM357 539h10v1h-10zM358 540h8v1h-8zM361 541h3v1h-3z" fill="#ffdc00"/><path d="M366 511h1v1h-1zM364 512h5v1h-5zM364 513h5v1h-5zM363 514h6v1h-6zM363 515h6v1h-6zM362 516h7v1h-7zM362 517h7v1h-7zM362 518h6v1h-6zM362 519h5v1h-5zM363 520h3v1h-3zM359 537h7v1h-7zM358 538h8v1h-8zM358 539h8v1h-8zM359 540h7v1h-7z" fill="#ffff2c"/><path d="M366 512h1v1h-1zM364 513h4v1h-4zM364 514h5v1h-5zM363 515h6v1h-6zM363 516h5v1h-5zM363 517h5v1h-5zM363 518h4v1h-4zM363 519h4v1h-4zM360 537h4v1h-4zM359 538h7v1h-7zM359 539h7v1h-7zM360 540h4v1h-4z" fill="#ffffa0"/></g><rect x="343.2" y="489.3" width="51.30" height="43.40" fill="none" stroke="#3c5ce6" stroke-width="1.15"/><text x="345.00" y="497.30" font-size="7.7" text-anchor="start" fill="#3050b0" stroke="#3050b0" stroke-width="0.3" textLength="24.4" lengthAdjust="spacingAndGlyphs">64.65%</text><rect x="162.5" y="485.4" width="60.40" height="61.10" fill="#fff" stroke="#555" stroke-width="0.9"/><path d="M166.00 546.5v3.0M170.52 546.5v1.9M173.16 546.5v1.9M175.03 546.5v1.9M176.48 546.5v1.9M177.67 546.5v1.9M178.68 546.5v1.9M179.55 546.5v1.9M180.31 546.5v1.9M181.00 546.5v3.0M185.52 546.5v1.9M188.16 546.5v1.9M190.03 546.5v1.9M191.48 546.5v1.9M192.67 546.5v1.9M193.68 546.5v1.9M194.55 546.5v1.9M195.31 546.5v1.9M196.00 546.5v3.0M200.52 546.5v1.9M203.16 546.5v1.9M205.03 546.5v1.9M206.48 546.5v1.9M207.67 546.5v1.9M208.68 546.5v1.9M209.55 546.5v1.9M210.31 546.5v1.9M211.00 546.5v3.0M215.52 546.5v1.9M218.16 546.5v1.9M220.03 546.5v1.9M221.48 546.5v1.9M162.5 542.10h-1.9M162.5 539.53h-1.9M162.5 537.71h-1.9M162.5 536.30h-1.9M162.5 535.14h-1.9M162.5 534.16h-1.9M162.5 533.31h-1.9M162.5 532.57h-1.9M162.5 531.90h-3.0M162.5 527.50h-1.9M162.5 524.93h-1.9M162.5 523.11h-1.9M162.5 521.70h-1.9M162.5 520.54h-1.9M162.5 519.56h-1.9M162.5 518.71h-1.9M162.5 517.97h-1.9M162.5 517.30h-3.0M162.5 512.90h-1.9M162.5 510.33h-1.9M162.5 508.51h-1.9M162.5 507.10h-1.9M162.5 505.94h-1.9M162.5 504.96h-1.9M162.5 504.11h-1.9M162.5 503.37h-1.9M162.5 502.70h-3.0M162.5 498.30h-1.9M162.5 495.73h-1.9M162.5 493.91h-1.9M162.5 492.50h-1.9M162.5 491.34h-1.9M162.5 490.36h-1.9M162.5 489.51h-1.9M162.5 488.77h-1.9M162.5 488.10h-3.0" stroke="#1a1a1a" stroke-width="0.85" fill="none"/><path d="M206.5 533.0h.9v.9h-.9zM204.2 514.3h.9v.9h-.9zM197.1 516.1h.9v.9h-.9zM186.1 503.4h.9v.9h-.9zM192.6 494.7h.9v.9h-.9zM202.2 522.1h.9v.9h-.9zM202.9 524.6h.9v.9h-.9zM206.5 507.1h.9v.9h-.9zM191.9 500.7h.9v.9h-.9zM182.6 505.2h.9v.9h-.9zM192.3 505.9h.9v.9h-.9zM184.9 500.8h.9v.9h-.9zM201.5 519.7h.9v.9h-.9zM212.3 523.1h.9v.9h-.9zM172.7 520.8h.9v.9h-.9zM199.2 517.4h.9v.9h-.9zM210.9 525.3h.9v.9h-.9zM174.4 513.8h.9v.9h-.9zM197.0 502.2h.9v.9h-.9zM199.3 530.9h.9v.9h-.9zM188.6 493.4h.9v.9h-.9zM197.6 508.4h.9v.9h-.9zM176.0 503.7h.9v.9h-.9zM202.8 527.2h.9v.9h-.9zM203.8 511.1h.9v.9h-.9zM200.4 514.8h.9v.9h-.9zM203.0 528.5h.9v.9h-.9zM198.8 524.1h.9v.9h-.9zM200.4 509.5h.9v.9h-.9zM201.5 516.9h.9v.9h-.9zM199.2 518.3h.9v.9h-.9zM185.7 504.9h.9v.9h-.9zM190.6 506.0h.9v.9h-.9zM200.0 516.9h.9v.9h-.9zM194.8 496.8h.9v.9h-.9zM197.8 507.2h.9v.9h-.9zM176.7 498.2h.9v.9h-.9zM200.4 498.2h.9v.9h-.9zM217.0 515.6h.9v.9h-.9zM201.3 527.8h.9v.9h-.9zM201.5 516.4h.9v.9h-.9zM206.4 518.5h.9v.9h-.9zM188.9 505.7h.9v.9h-.9zM202.4 536.3h.9v.9h-.9zM182.8 504.7h.9v.9h-.9zM211.0 500.5h.9v.9h-.9zM200.6 512.2h.9v.9h-.9zM190.4 499.7h.9v.9h-.9zM205.5 515.4h.9v.9h-.9zM203.4 537.9h.9v.9h-.9zM198.4 504.5h.9v.9h-.9zM209.7 512.1h.9v.9h-.9zM210.4 508.6h.9v.9h-.9zM187.2 504.8h.9v.9h-.9zM202.6 529.1h.9v.9h-.9zM195.5 503.1h.9v.9h-.9zM188.6 505.8h.9v.9h-.9zM185.6 505.3h.9v.9h-.9zM212.1 513.6h.9v.9h-.9zM193.8 502.0h.9v.9h-.9zM187.6 497.7h.9v.9h-.9zM206.7 525.0h.9v.9h-.9zM190.5 505.8h.9v.9h-.9zM181.6 496.9h.9v.9h-.9zM202.5 519.9h.9v.9h-.9zM211.7 519.1h.9v.9h-.9zM210.8 506.2h.9v.9h-.9zM206.5 514.1h.9v.9h-.9zM202.6 527.2h.9v.9h-.9zM185.3 502.5h.9v.9h-.9zM199.6 503.8h.9v.9h-.9zM199.5 513.5h.9v.9h-.9zM189.6 505.2h.9v.9h-.9zM196.7 498.4h.9v.9h-.9zM184.8 503.7h.9v.9h-.9zM200.3 516.0h.9v.9h-.9zM201.3 513.1h.9v.9h-.9zM172.8 515.0h.9v.9h-.9zM198.6 527.2h.9v.9h-.9zM201.6 506.2h.9v.9h-.9zM207.9 498.1h.9v.9h-.9zM200.7 516.3h.9v.9h-.9zM202.4 526.9h.9v.9h-.9zM194.9 500.6h.9v.9h-.9zM196.7 507.6h.9v.9h-.9zM203.8 513.0h.9v.9h-.9zM205.7 531.8h.9v.9h-.9zM199.1 526.4h.9v.9h-.9zM207.4 511.9h.9v.9h-.9zM207.8 532.9h.9v.9h-.9zM203.7 519.2h.9v.9h-.9zM203.7 511.2h.9v.9h-.9zM179.3 492.6h.9v.9h-.9zM181.5 503.6h.9v.9h-.9zM174.6 508.3h.9v.9h-.9zM204.6 499.1h.9v.9h-.9zM182.5 504.1h.9v.9h-.9zM196.7 509.3h.9v.9h-.9zM203.1 512.8h.9v.9h-.9zM194.3 508.0h.9v.9h-.9zM206.1 496.7h.9v.9h-.9zM216.8 500.4h.9v.9h-.9zM185.1 503.6h.9v.9h-.9zM201.3 506.0h.9v.9h-.9zM201.0 517.6h.9v.9h-.9zM179.7 499.3h.9v.9h-.9zM201.6 520.8h.9v.9h-.9zM198.0 529.4h.9v.9h-.9zM197.9 513.3h.9v.9h-.9zM179.7 507.4h.9v.9h-.9zM203.6 509.9h.9v.9h-.9zM203.3 510.2h.9v.9h-.9zM199.1 507.7h.9v.9h-.9zM188.9 497.1h.9v.9h-.9zM175.4 515.5h.9v.9h-.9zM199.1 524.6h.9v.9h-.9zM187.3 504.8h.9v.9h-.9zM210.8 518.4h.9v.9h-.9zM172.8 515.6h.9v.9h-.9zM188.4 503.0h.9v.9h-.9zM191.2 497.9h.9v.9h-.9zM174.2 517.9h.9v.9h-.9zM204.4 526.7h.9v.9h-.9zM170.7 524.1h.9v.9h-.9zM183.0 504.4h.9v.9h-.9zM209.3 512.1h.9v.9h-.9zM198.0 525.1h.9v.9h-.9zM191.2 498.2h.9v.9h-.9zM201.4 497.2h.9v.9h-.9zM195.9 498.9h.9v.9h-.9zM174.0 499.3h.9v.9h-.9zM204.8 519.2h.9v.9h-.9zM205.6 507.9h.9v.9h-.9zM202.6 520.3h.9v.9h-.9zM193.5 507.9h.9v.9h-.9zM196.1 509.7h.9v.9h-.9zM202.9 519.0h.9v.9h-.9zM199.3 528.3h.9v.9h-.9zM209.8 533.0h.9v.9h-.9zM188.0 502.2h.9v.9h-.9zM178.2 501.3h.9v.9h-.9zM196.9 505.3h.9v.9h-.9zM189.6 505.5h.9v.9h-.9zM201.4 528.6h.9v.9h-.9zM198.9 500.0h.9v.9h-.9zM189.0 501.7h.9v.9h-.9zM205.2 524.2h.9v.9h-.9zM202.7 524.8h.9v.9h-.9zM210.7 499.2h.9v.9h-.9zM202.6 528.2h.9v.9h-.9zM209.7 522.2h.9v.9h-.9zM201.8 498.7h.9v.9h-.9zM203.8 531.2h.9v.9h-.9zM185.4 503.9h.9v.9h-.9zM201.4 510.5h.9v.9h-.9zM205.5 508.8h.9v.9h-.9zM206.3 525.7h.9v.9h-.9zM203.9 516.4h.9v.9h-.9zM200.1 535.3h.9v.9h-.9zM201.5 527.0h.9v.9h-.9zM203.7 521.0h.9v.9h-.9zM203.2 523.1h.9v.9h-.9zM203.5 517.1h.9v.9h-.9zM202.1 526.8h.9v.9h-.9zM204.1 517.0h.9v.9h-.9zM198.6 508.5h.9v.9h-.9zM208.7 526.6h.9v.9h-.9zM198.5 528.5h.9v.9h-.9zM203.4 522.4h.9v.9h-.9zM201.9 518.6h.9v.9h-.9zM199.7 517.6h.9v.9h-.9zM203.2 521.2h.9v.9h-.9zM200.9 521.5h.9v.9h-.9zM206.1 522.7h.9v.9h-.9zM206.1 535.1h.9v.9h-.9zM211.4 517.1h.9v.9h-.9zM201.1 522.3h.9v.9h-.9zM205.7 533.5h.9v.9h-.9zM206.6 509.7h.9v.9h-.9zM199.2 531.8h.9v.9h-.9zM205.8 518.9h.9v.9h-.9zM205.1 519.5h.9v.9h-.9zM203.1 514.7h.9v.9h-.9zM200.2 541.7h.9v.9h-.9zM206.4 529.8h.9v.9h-.9zM201.1 529.9h.9v.9h-.9zM199.6 507.5h.9v.9h-.9zM198.5 528.0h.9v.9h-.9zM202.6 531.7h.9v.9h-.9zM202.5 528.9h.9v.9h-.9zM201.0 531.0h.9v.9h-.9zM204.2 525.3h.9v.9h-.9zM200.5 516.1h.9v.9h-.9zM207.3 535.2h.9v.9h-.9zM200.6 535.6h.9v.9h-.9zM201.3 518.7h.9v.9h-.9zM201.4 544.3h.9v.9h-.9zM200.4 518.9h.9v.9h-.9zM199.0 518.4h.9v.9h-.9zM201.4 538.1h.9v.9h-.9zM206.5 515.4h.9v.9h-.9zM202.9 534.5h.9v.9h-.9zM201.0 512.8h.9v.9h-.9zM206.2 538.3h.9v.9h-.9zM203.5 519.3h.9v.9h-.9zM206.4 519.8h.9v.9h-.9zM200.4 509.4h.9v.9h-.9zM201.3 513.2h.9v.9h-.9zM198.0 499.4h.9v.9h-.9zM205.6 543.7h.9v.9h-.9zM205.5 534.6h.9v.9h-.9zM201.4 518.0h.9v.9h-.9zM203.8 542.7h.9v.9h-.9zM200.4 509.9h.9v.9h-.9zM199.1 509.4h.9v.9h-.9zM200.7 522.2h.9v.9h-.9zM207.3 513.9h.9v.9h-.9zM202.2 540.6h.9v.9h-.9zM201.3 502.8h.9v.9h-.9zM205.6 525.5h.9v.9h-.9zM205.5 530.8h.9v.9h-.9zM205.8 524.5h.9v.9h-.9zM202.0 528.9h.9v.9h-.9zM203.3 515.3h.9v.9h-.9zM199.2 523.4h.9v.9h-.9zM202.9 540.9h.9v.9h-.9zM210.0 539.5h.9v.9h-.9zM201.4 524.8h.9v.9h-.9zM198.9 520.8h.9v.9h-.9zM204.6 537.7h.9v.9h-.9zM202.0 519.5h.9v.9h-.9zM207.3 526.7h.9v.9h-.9zM206.0 529.9h.9v.9h-.9zM206.5 528.3h.9v.9h-.9zM203.8 516.9h.9v.9h-.9zM205.0 522.1h.9v.9h-.9zM198.0 527.9h.9v.9h-.9zM205.4 533.3h.9v.9h-.9zM205.8 521.4h.9v.9h-.9zM204.7 517.8h.9v.9h-.9zM204.9 527.3h.9v.9h-.9zM196.9 510.3h.9v.9h-.9zM205.8 534.8h.9v.9h-.9zM201.0 495.6h.9v.9h-.9zM198.7 513.9h.9v.9h-.9zM204.8 523.8h.9v.9h-.9zM202.9 515.3h.9v.9h-.9zM200.6 526.8h.9v.9h-.9zM203.5 514.9h.9v.9h-.9zM203.4 530.2h.9v.9h-.9zM196.8 511.3h.9v.9h-.9zM205.1 520.2h.9v.9h-.9zM200.7 532.8h.9v.9h-.9zM208.5 535.1h.9v.9h-.9zM214.1 530.9h.9v.9h-.9zM200.7 531.1h.9v.9h-.9zM199.7 522.7h.9v.9h-.9zM202.4 537.4h.9v.9h-.9zM214.7 524.2h.9v.9h-.9zM212.9 522.1h.9v.9h-.9zM199.3 525.3h.9v.9h-.9zM183.1 505.8h.9v.9h-.9zM185.6 505.6h.9v.9h-.9zM200.4 533.2h.9v.9h-.9zM197.0 502.6h.9v.9h-.9zM174.0 526.1h.9v.9h-.9zM200.1 528.0h.9v.9h-.9zM164.0 538.1h.9v.9h-.9zM185.8 502.9h.9v.9h-.9zM196.4 543.7h.9v.9h-.9zM187.8 504.6h.9v.9h-.9zM206.8 539.0h.9v.9h-.9zM173.3 515.8h.9v.9h-.9zM201.1 531.8h.9v.9h-.9zM173.6 517.0h.9v.9h-.9zM185.9 505.3h.9v.9h-.9zM199.3 507.7h.9v.9h-.9zM202.8 527.0h.9v.9h-.9zM172.0 526.4h.9v.9h-.9zM209.2 529.4h.9v.9h-.9zM203.1 513.8h.9v.9h-.9zM170.9 536.9h.9v.9h-.9zM168.1 533.4h.9v.9h-.9zM211.6 534.8h.9v.9h-.9zM166.9 513.6h.9v.9h-.9zM208.0 536.1h.9v.9h-.9zM175.8 513.0h.9v.9h-.9zM178.0 512.3h.9v.9h-.9zM167.3 534.4h.9v.9h-.9zM198.5 523.1h.9v.9h-.9zM175.5 508.7h.9v.9h-.9zM199.5 534.4h.9v.9h-.9zM204.8 539.3h.9v.9h-.9zM201.2 530.0h.9v.9h-.9zM170.3 534.1h.9v.9h-.9zM202.0 537.0h.9v.9h-.9zM204.8 531.1h.9v.9h-.9zM190.2 545.0h.9v.9h-.9zM170.5 525.2h.9v.9h-.9zM165.7 518.2h.9v.9h-.9zM178.3 510.2h.9v.9h-.9zM197.5 505.6h.9v.9h-.9zM166.8 536.4h.9v.9h-.9zM200.2 530.0h.9v.9h-.9zM169.8 523.5h.9v.9h-.9zM171.7 514.0h.9v.9h-.9zM194.2 506.1h.9v.9h-.9zM176.0 510.5h.9v.9h-.9zM197.0 528.9h.9v.9h-.9zM170.8 515.9h.9v.9h-.9zM173.6 519.1h.9v.9h-.9zM199.8 530.6h.9v.9h-.9zM171.9 533.6h.9v.9h-.9zM179.4 544.1h.9v.9h-.9zM173.9 509.2h.9v.9h-.9zM202.3 521.8h.9v.9h-.9zM197.6 527.0h.9v.9h-.9zM197.0 506.0h.9v.9h-.9zM173.3 521.8h.9v.9h-.9zM169.4 510.9h.9v.9h-.9zM205.1 520.5h.9v.9h-.9zM197.5 527.7h.9v.9h-.9zM200.4 542.2h.9v.9h-.9zM197.3 544.8h.9v.9h-.9zM177.5 545.5h.9v.9h-.9zM208.1 521.5h.9v.9h-.9zM170.8 542.7h.9v.9h-.9zM201.1 525.2h.9v.9h-.9zM195.0 504.6h.9v.9h-.9zM207.0 514.9h.9v.9h-.9zM172.5 531.4h.9v.9h-.9zM171.7 530.2h.9v.9h-.9zM211.6 523.1h.9v.9h-.9zM172.0 543.1h.9v.9h-.9zM171.4 530.4h.9v.9h-.9zM183.4 504.6h.9v.9h-.9zM171.9 509.7h.9v.9h-.9zM198.0 517.5h.9v.9h-.9zM182.1 502.2h.9v.9h-.9zM174.7 529.3h.9v.9h-.9zM173.7 527.5h.9v.9h-.9zM204.4 542.6h.9v.9h-.9zM173.1 510.5h.9v.9h-.9zM177.3 510.8h.9v.9h-.9zM172.9 523.9h.9v.9h-.9zM199.2 528.4h.9v.9h-.9zM179.4 544.8h.9v.9h-.9zM192.1 506.7h.9v.9h-.9zM201.2 541.1h.9v.9h-.9zM194.1 505.4h.9v.9h-.9zM173.9 529.3h.9v.9h-.9zM193.4 498.1h.9v.9h-.9zM173.7 522.5h.9v.9h-.9zM173.8 532.6h.9v.9h-.9zM171.9 516.0h.9v.9h-.9zM183.6 503.4h.9v.9h-.9zM180.4 544.9h.9v.9h-.9z" fill="#1a1a80" fill-opacity="0.7"/><g filter="url(#bl)"><path d="M184 506h7v1h-7zM182 507h11v1h-11zM181 508h13v1h-13zM180 509h15v1h-15zM179 510h17v1h-17zM178 511h18v1h-18zM178 512h19v1h-19zM177 513h20v1h-20zM177 514h20v1h-20zM177 515h20v1h-20zM176 516h21v1h-21zM176 517h21v1h-21zM176 518h22v1h-22zM175 519h23v1h-23zM175 520h23v1h-23zM175 521h23v1h-23zM175 522h23v1h-23zM175 523h23v1h-23zM175 524h22v1h-22zM175 525h22v1h-22zM175 526h22v1h-22zM175 527h22v1h-22zM175 528h22v1h-22zM175 529h22v1h-22zM174 530h23v1h-23zM174 531h23v1h-23zM174 532h24v1h-24zM173 533h25v1h-25zM173 534h25v1h-25zM173 535h26v1h-26zM172 536h27v1h-27zM171 537h28v1h-28zM171 538h28v1h-28zM171 539h28v1h-28zM171 540h27v1h-27zM172 541h25v1h-25zM173 542h22v1h-22zM174 543h19v1h-19zM182 544h8v1h-8z" fill="#03036a"/><path d="M187 510h3v1h-3zM186 511h5v1h-5zM185 512h7v1h-7zM185 513h7v1h-7zM184 514h9v1h-9zM184 515h9v1h-9zM184 516h9v1h-9zM184 517h9v1h-9zM184 518h9v1h-9zM184 519h9v1h-9zM184 520h9v1h-9zM184 521h9v1h-9zM185 522h7v1h-7zM185 523h7v1h-7zM186 524h5v1h-5zM187 525h3v1h-3zM175 535h19v1h-19zM173 536h22v1h-22zM172 537h24v1h-24zM172 538h24v1h-24zM172 539h24v1h-24zM172 540h23v1h-23zM173 541h21v1h-21zM174 542h17v1h-17zM176 543h6v1h-6z" fill="#140010"/><path d="M187 511h3v1h-3zM186 512h5v1h-5zM185 513h7v1h-7zM185 514h7v1h-7zM185 515h7v1h-7zM185 516h7v1h-7zM185 517h7v1h-7zM185 518h7v1h-7zM185 519h7v1h-7zM185 520h7v1h-7zM185 521h7v1h-7zM185 522h7v1h-7zM186 523h5v1h-5zM187 524h3v1h-3zM176 535h17v1h-17zM174 536h20v1h-20zM173 537h22v1h-22zM173 538h22v1h-22zM172 539h23v1h-23zM173 540h22v1h-22zM173 541h20v1h-20zM175 542h14v1h-14z" fill="#5c0000"/><path d="M187 512h3v1h-3zM186 513h5v1h-5zM186 514h5v1h-5zM185 515h7v1h-7zM185 516h7v1h-7zM185 517h7v1h-7zM185 518h7v1h-7zM185 519h7v1h-7zM185 520h7v1h-7zM186 521h5v1h-5zM186 522h5v1h-5zM187 523h3v1h-3zM177 535h10v1h-10zM174 536h20v1h-20zM173 537h22v1h-22zM173 538h22v1h-22zM173 539h22v1h-22zM173 540h21v1h-21zM174 541h18v1h-18zM175 542h12v1h-12z" fill="#a00000"/><path d="M187 513h3v1h-3zM187 514h3v1h-3zM186 515h5v1h-5zM186 516h5v1h-5zM186 517h5v1h-5zM186 518h5v1h-5zM186 519h5v1h-5zM186 520h5v1h-5zM187 521h3v1h-3zM187 522h3v1h-3zM178 535h3v1h-3zM175 536h18v1h-18zM174 537h20v1h-20zM173 538h21v1h-21zM173 539h21v1h-21zM174 540h19v1h-19zM174 541h17v1h-17zM176 542h7v1h-7z" fill="#e00000"/><path d="M188 515h1v1h-1zM187 516h3v1h-3zM187 517h3v1h-3zM187 518h3v1h-3zM187 519h3v1h-3zM188 520h1v1h-1zM175 536h17v1h-17zM174 537h19v1h-19zM174 538h20v1h-20zM174 539h19v1h-19zM174 540h19v1h-19zM175 541h14v1h-14zM177 542h5v1h-5z" fill="#ff1400"/><path d="M176 536h9v1h-9zM175 537h17v1h-17zM174 538h19v1h-19zM174 539h19v1h-19zM174 540h17v1h-17zM175 541h10v1h-10z" fill="#ff4c00"/><path d="M177 536h6v1h-6zM175 537h16v1h-16zM175 538h17v1h-17zM175 539h16v1h-16zM175 540h12v1h-12zM176 541h8v1h-8z" fill="#ff8400"/><path d="M179 536h1v1h-1zM176 537h9v1h-9zM175 538h11v1h-11zM189 538h1v1h-1zM175 539h11v1h-11zM175 540h10v1h-10zM177 541h5v1h-5z" fill="#ffb400"/><path d="M177 537h7v1h-7zM176 538h9v1h-9zM175 539h10v1h-10zM176 540h8v1h-8zM178 541h3v1h-3z" fill="#ffdc00"/><path d="M177 537h6v1h-6zM176 538h8v1h-8zM176 539h8v1h-8zM177 540h6v1h-6z" fill="#ffff2c"/><path d="M179 537h2v1h-2zM177 538h6v1h-6zM177 539h6v1h-6zM178 540h4v1h-4z" fill="#ffffa0"/></g><rect x="166.2" y="489.5" width="51.50" height="40.30" fill="none" stroke="#3c5ce6" stroke-width="1.15"/><text x="168.00" y="497.50" font-size="7.7" text-anchor="start" fill="#3050b0" stroke="#3050b0" stroke-width="0.3" textLength="24.4" lengthAdjust="spacingAndGlyphs">38.36%</text><rect x="405.3" y="485.4" width="60.50" height="61.10" fill="#fff" stroke="#555" stroke-width="0.9"/><path d="M408.80 546.5v3.0M413.32 546.5v1.9M415.96 546.5v1.9M417.83 546.5v1.9M419.28 546.5v1.9M420.47 546.5v1.9M421.48 546.5v1.9M422.35 546.5v1.9M423.11 546.5v1.9M423.80 546.5v3.0M428.32 546.5v1.9M430.96 546.5v1.9M432.83 546.5v1.9M434.28 546.5v1.9M435.47 546.5v1.9M436.48 546.5v1.9M437.35 546.5v1.9M438.11 546.5v1.9M438.80 546.5v3.0M443.32 546.5v1.9M445.96 546.5v1.9M447.83 546.5v1.9M449.28 546.5v1.9M450.47 546.5v1.9M451.48 546.5v1.9M452.35 546.5v1.9M453.11 546.5v1.9M453.80 546.5v3.0M458.32 546.5v1.9M460.96 546.5v1.9M462.83 546.5v1.9M464.28 546.5v1.9M405.3 542.10h-1.9M405.3 539.53h-1.9M405.3 537.71h-1.9M405.3 536.30h-1.9M405.3 535.14h-1.9M405.3 534.16h-1.9M405.3 533.31h-1.9M405.3 532.57h-1.9M405.3 531.90h-3.0M405.3 527.50h-1.9M405.3 524.93h-1.9M405.3 523.11h-1.9M405.3 521.70h-1.9M405.3 520.54h-1.9M405.3 519.56h-1.9M405.3 518.71h-1.9M405.3 517.97h-1.9M405.3 517.30h-3.0M405.3 512.90h-1.9M405.3 510.33h-1.9M405.3 508.51h-1.9M405.3 507.10h-1.9M405.3 505.94h-1.9M405.3 504.96h-1.9M405.3 504.11h-1.9M405.3 503.37h-1.9M405.3 502.70h-3.0M405.3 498.30h-1.9M405.3 495.73h-1.9M405.3 493.91h-1.9M405.3 492.50h-1.9M405.3 491.34h-1.9M405.3 490.36h-1.9M405.3 489.51h-1.9M405.3 488.77h-1.9M405.3 488.10h-3.0" stroke="#1a1a1a" stroke-width="0.85" fill="none"/><path d="M431.2 507.4h.9v.9h-.9zM443.0 498.6h.9v.9h-.9zM443.2 514.2h.9v.9h-.9zM438.1 518.4h.9v.9h-.9zM438.8 519.3h.9v.9h-.9zM440.8 532.9h.9v.9h-.9zM432.9 535.6h.9v.9h-.9zM432.9 527.8h.9v.9h-.9zM437.8 526.7h.9v.9h-.9zM441.4 510.8h.9v.9h-.9zM437.7 518.3h.9v.9h-.9zM438.6 498.3h.9v.9h-.9zM445.2 523.0h.9v.9h-.9zM437.7 506.4h.9v.9h-.9zM437.3 530.6h.9v.9h-.9zM436.0 513.4h.9v.9h-.9zM435.5 523.6h.9v.9h-.9zM434.7 514.6h.9v.9h-.9zM441.2 510.0h.9v.9h-.9zM437.7 520.6h.9v.9h-.9zM434.6 523.5h.9v.9h-.9zM438.2 520.7h.9v.9h-.9zM434.2 521.2h.9v.9h-.9zM438.9 521.6h.9v.9h-.9zM442.1 510.8h.9v.9h-.9zM439.2 496.9h.9v.9h-.9zM434.1 505.1h.9v.9h-.9zM442.3 522.3h.9v.9h-.9zM435.2 526.7h.9v.9h-.9zM437.0 527.2h.9v.9h-.9zM435.4 520.4h.9v.9h-.9zM436.8 515.3h.9v.9h-.9zM433.2 533.9h.9v.9h-.9zM441.4 525.4h.9v.9h-.9zM434.9 511.0h.9v.9h-.9zM436.3 527.1h.9v.9h-.9zM435.6 529.2h.9v.9h-.9zM437.2 532.5h.9v.9h-.9zM442.1 507.9h.9v.9h-.9zM444.1 521.0h.9v.9h-.9zM436.8 532.7h.9v.9h-.9zM437.2 516.9h.9v.9h-.9zM443.0 517.8h.9v.9h-.9zM438.6 541.0h.9v.9h-.9zM435.8 520.6h.9v.9h-.9zM444.2 513.7h.9v.9h-.9zM440.4 513.0h.9v.9h-.9zM445.2 513.2h.9v.9h-.9zM436.1 516.3h.9v.9h-.9zM431.6 530.3h.9v.9h-.9zM439.2 531.8h.9v.9h-.9zM440.7 507.6h.9v.9h-.9zM435.6 523.3h.9v.9h-.9zM433.7 542.6h.9v.9h-.9zM439.6 525.1h.9v.9h-.9zM440.4 520.6h.9v.9h-.9zM442.1 506.8h.9v.9h-.9zM437.2 522.7h.9v.9h-.9zM442.1 502.9h.9v.9h-.9zM435.2 518.3h.9v.9h-.9zM437.0 517.2h.9v.9h-.9zM440.6 520.1h.9v.9h-.9zM432.4 522.7h.9v.9h-.9zM440.8 537.7h.9v.9h-.9zM439.4 518.0h.9v.9h-.9zM436.5 525.3h.9v.9h-.9zM441.4 528.3h.9v.9h-.9zM435.0 507.4h.9v.9h-.9zM432.8 506.9h.9v.9h-.9zM434.0 514.4h.9v.9h-.9zM444.4 525.3h.9v.9h-.9zM434.6 515.7h.9v.9h-.9zM436.1 507.8h.9v.9h-.9zM431.8 529.3h.9v.9h-.9zM444.7 526.0h.9v.9h-.9zM439.6 532.7h.9v.9h-.9zM440.1 523.2h.9v.9h-.9zM437.6 515.4h.9v.9h-.9zM439.2 512.1h.9v.9h-.9zM439.3 525.5h.9v.9h-.9zM434.1 512.1h.9v.9h-.9zM439.6 528.2h.9v.9h-.9zM440.6 522.5h.9v.9h-.9zM432.9 519.1h.9v.9h-.9zM435.1 527.2h.9v.9h-.9zM440.8 530.6h.9v.9h-.9zM441.8 532.4h.9v.9h-.9zM440.6 513.3h.9v.9h-.9zM433.5 518.6h.9v.9h-.9zM438.8 544.0h.9v.9h-.9zM432.3 518.1h.9v.9h-.9zM442.6 523.0h.9v.9h-.9zM438.6 525.3h.9v.9h-.9zM429.8 500.2h.9v.9h-.9zM444.5 523.9h.9v.9h-.9zM443.0 517.7h.9v.9h-.9zM434.4 515.8h.9v.9h-.9zM439.3 536.5h.9v.9h-.9zM439.4 520.8h.9v.9h-.9zM432.9 534.4h.9v.9h-.9zM443.6 507.3h.9v.9h-.9zM437.0 517.2h.9v.9h-.9zM436.9 518.1h.9v.9h-.9zM437.4 522.6h.9v.9h-.9zM432.8 526.2h.9v.9h-.9zM437.6 526.6h.9v.9h-.9zM440.5 514.1h.9v.9h-.9zM435.0 505.9h.9v.9h-.9zM437.6 520.4h.9v.9h-.9zM437.7 516.0h.9v.9h-.9zM440.2 522.8h.9v.9h-.9zM447.8 511.9h.9v.9h-.9zM438.6 528.8h.9v.9h-.9zM439.4 533.7h.9v.9h-.9zM439.9 525.3h.9v.9h-.9zM439.5 517.8h.9v.9h-.9zM436.8 502.4h.9v.9h-.9zM437.8 526.7h.9v.9h-.9zM440.1 527.7h.9v.9h-.9zM442.4 521.3h.9v.9h-.9zM438.8 544.6h.9v.9h-.9zM446.0 519.6h.9v.9h-.9zM439.3 519.6h.9v.9h-.9zM439.4 531.0h.9v.9h-.9zM438.6 540.0h.9v.9h-.9zM430.3 543.1h.9v.9h-.9zM439.5 535.0h.9v.9h-.9zM443.0 518.1h.9v.9h-.9zM437.9 513.8h.9v.9h-.9zM441.6 534.5h.9v.9h-.9zM435.4 528.7h.9v.9h-.9zM436.2 513.7h.9v.9h-.9zM435.1 512.2h.9v.9h-.9zM431.6 529.6h.9v.9h-.9zM435.7 519.1h.9v.9h-.9zM440.7 524.2h.9v.9h-.9zM442.2 517.1h.9v.9h-.9zM432.8 504.5h.9v.9h-.9zM437.2 525.3h.9v.9h-.9zM436.1 513.1h.9v.9h-.9zM440.1 520.8h.9v.9h-.9zM445.3 513.2h.9v.9h-.9zM434.7 513.1h.9v.9h-.9zM437.2 514.8h.9v.9h-.9zM440.7 521.2h.9v.9h-.9zM417.7 543.2h.9v.9h-.9zM415.3 507.1h.9v.9h-.9zM439.4 509.5h.9v.9h-.9zM415.3 516.2h.9v.9h-.9zM438.3 505.9h.9v.9h-.9zM428.7 545.3h.9v.9h-.9zM416.4 522.2h.9v.9h-.9zM413.8 519.2h.9v.9h-.9zM436.6 518.9h.9v.9h-.9zM435.2 515.0h.9v.9h-.9zM432.3 532.9h.9v.9h-.9zM437.2 533.8h.9v.9h-.9zM425.6 503.9h.9v.9h-.9zM413.9 534.8h.9v.9h-.9zM435.4 538.2h.9v.9h-.9zM431.4 531.4h.9v.9h-.9zM414.5 520.8h.9v.9h-.9zM416.6 527.9h.9v.9h-.9zM422.0 502.8h.9v.9h-.9z" fill="#1a1a80" fill-opacity="0.7"/><g filter="url(#bl)"><path d="M421 503h4v1h-4zM420 504h6v1h-6zM419 505h8v1h-8zM418 506h12v1h-12zM418 507h13v1h-13zM437 507h1v1h-1zM418 508h14v1h-14zM436 508h3v1h-3zM417 509h15v1h-15zM435 509h4v1h-4zM417 510h16v1h-16zM435 510h4v1h-4zM417 511h16v1h-16zM435 511h4v1h-4zM417 512h16v1h-16zM436 512h3v1h-3zM417 513h16v1h-16zM417 514h16v1h-16zM416 515h17v1h-17zM416 516h17v1h-17zM416 517h17v1h-17zM416 518h16v1h-16zM416 519h16v1h-16zM416 520h16v1h-16zM416 521h16v1h-16zM417 522h15v1h-15zM417 523h15v1h-15zM417 524h15v1h-15zM417 525h15v1h-15zM417 526h15v1h-15zM417 527h15v1h-15zM418 528h13v1h-13zM418 529h13v1h-13zM418 530h13v1h-13zM419 531h12v1h-12zM419 532h12v1h-12zM419 533h12v1h-12zM418 534h14v1h-14zM417 535h15v1h-15zM416 536h17v1h-17zM415 537h18v1h-18zM415 538h18v1h-18zM415 539h18v1h-18zM415 540h18v1h-18zM416 541h16v1h-16zM417 542h14v1h-14zM418 543h12v1h-12zM420 544h7v1h-7z" fill="#03036a"/><path d="M421 505h3v1h-3zM420 506h5v1h-5zM420 507h6v1h-6zM419 508h7v1h-7zM419 509h8v1h-8zM418 510h9v1h-9zM418 511h9v1h-9zM418 512h9v1h-9zM418 513h10v1h-10zM418 514h10v1h-10zM417 515h11v1h-11zM417 516h11v1h-11zM417 517h11v1h-11zM417 518h11v1h-11zM417 519h11v1h-11zM417 520h11v1h-11zM417 521h11v1h-11zM418 522h10v1h-10zM418 523h10v1h-10zM418 524h9v1h-9zM418 525h9v1h-9zM418 526h9v1h-9zM419 527h8v1h-8zM419 528h7v1h-7zM420 529h6v1h-6zM420 530h5v1h-5zM421 531h3v1h-3zM419 534h6v1h-6zM418 535h9v1h-9zM417 536h12v1h-12zM416 537h14v1h-14zM416 538h14v1h-14zM416 539h14v1h-14zM416 540h14v1h-14zM417 541h12v1h-12zM418 542h9v1h-9zM419 543h5v1h-5z" fill="#140010"/><path d="M421 506h3v1h-3zM420 507h5v1h-5zM420 508h5v1h-5zM419 509h7v1h-7zM419 510h7v1h-7zM419 511h8v1h-8zM418 512h9v1h-9zM418 513h9v1h-9zM418 514h9v1h-9zM418 515h9v1h-9zM418 516h9v1h-9zM418 517h9v1h-9zM418 518h9v1h-9zM418 519h9v1h-9zM418 520h9v1h-9zM418 521h9v1h-9zM418 522h9v1h-9zM418 523h9v1h-9zM418 524h9v1h-9zM419 525h8v1h-8zM419 526h7v1h-7zM419 527h7v1h-7zM420 528h5v1h-5zM420 529h5v1h-5zM421 530h3v1h-3zM420 534h4v1h-4zM418 535h8v1h-8zM417 536h11v1h-11zM417 537h12v1h-12zM417 538h12v1h-12zM417 539h12v1h-12zM417 540h12v1h-12zM417 541h11v1h-11zM418 542h8v1h-8zM421 543h2v1h-2z" fill="#5c0000"/><path d="M421 507h3v1h-3zM420 508h5v1h-5zM420 509h5v1h-5zM419 510h7v1h-7zM419 511h7v1h-7zM419 512h7v1h-7zM419 513h8v1h-8zM418 514h9v1h-9zM418 515h9v1h-9zM418 516h9v1h-9zM418 517h9v1h-9zM418 518h9v1h-9zM418 519h9v1h-9zM418 520h9v1h-9zM418 521h9v1h-9zM418 522h9v1h-9zM419 523h8v1h-8zM419 524h7v1h-7zM419 525h7v1h-7zM419 526h7v1h-7zM420 527h5v1h-5zM420 528h5v1h-5zM421 529h3v1h-3zM419 535h7v1h-7zM418 536h9v1h-9zM417 537h11v1h-11zM417 538h12v1h-12zM417 539h12v1h-12zM417 540h11v1h-11zM418 541h9v1h-9zM419 542h6v1h-6z" fill="#a00000"/><path d="M421 508h3v1h-3zM420 509h5v1h-5zM420 510h5v1h-5zM420 511h6v1h-6zM419 512h7v1h-7zM419 513h7v1h-7zM419 514h7v1h-7zM419 515h8v1h-8zM419 516h8v1h-8zM418 517h9v1h-9zM418 518h9v1h-9zM418 519h9v1h-9zM419 520h8v1h-8zM419 521h8v1h-8zM419 522h7v1h-7zM419 523h7v1h-7zM419 524h7v1h-7zM420 525h6v1h-6zM420 526h5v1h-5zM420 527h5v1h-5zM421 528h3v1h-3zM419 535h6v1h-6zM418 536h9v1h-9zM417 537h11v1h-11zM417 538h11v1h-11zM417 539h11v1h-11zM417 540h11v1h-11zM418 541h9v1h-9zM419 542h6v1h-6z" fill="#e00000"/><path d="M422 509h2v1h-2zM421 510h4v1h-4zM420 511h5v1h-5zM420 512h5v1h-5zM419 513h7v1h-7zM419 514h7v1h-7zM419 515h7v1h-7zM419 516h7v1h-7zM419 517h7v1h-7zM419 518h7v1h-7zM419 519h7v1h-7zM419 520h7v1h-7zM419 521h7v1h-7zM419 522h7v1h-7zM419 523h7v1h-7zM420 524h5v1h-5zM420 525h5v1h-5zM421 526h4v1h-4zM422 527h2v1h-2zM420 535h4v1h-4zM419 536h7v1h-7zM418 537h9v1h-9zM417 538h11v1h-11zM417 539h11v1h-11zM418 540h9v1h-9zM419 541h7v1h-7zM420 542h4v1h-4z" fill="#ff1400"/><path d="M422 510h1v1h-1zM421 511h3v1h-3zM420 512h5v1h-5zM420 513h5v1h-5zM420 514h5v1h-5zM420 515h6v1h-6zM420 516h6v1h-6zM419 517h7v1h-7zM419 518h7v1h-7zM419 519h7v1h-7zM420 520h6v1h-6zM420 521h6v1h-6zM420 522h5v1h-5zM420 523h5v1h-5zM420 524h5v1h-5zM421 525h3v1h-3zM422 526h1v1h-1zM421 535h2v1h-2zM419 536h7v1h-7zM418 537h9v1h-9zM418 538h9v1h-9zM418 539h9v1h-9zM418 540h9v1h-9zM419 541h7v1h-7z" fill="#ff4c00"/><path d="M422 512h2v1h-2zM421 513h3v1h-3zM421 514h4v1h-4zM420 515h5v1h-5zM420 516h5v1h-5zM420 517h5v1h-5zM420 518h5v1h-5zM420 519h5v1h-5zM420 520h5v1h-5zM420 521h5v1h-5zM421 522h4v1h-4zM421 523h3v1h-3zM422 524h2v1h-2zM420 536h5v1h-5zM419 537h7v1h-7zM418 538h9v1h-9zM418 539h9v1h-9zM419 540h7v1h-7zM420 541h5v1h-5z" fill="#ff8400"/><path d="M422 514h1v1h-1zM421 515h3v1h-3zM421 516h3v1h-3zM421 517h3v1h-3zM421 518h3v1h-3zM421 519h3v1h-3zM421 520h3v1h-3zM421 521h3v1h-3zM422 522h1v1h-1zM420 536h4v1h-4zM419 537h7v1h-7zM419 538h7v1h-7zM419 539h7v1h-7zM419 540h7v1h-7zM420 541h4v1h-4z" fill="#ffb400"/><path d="M421 536h2v1h-2zM420 537h5v1h-5zM419 538h7v1h-7zM419 539h7v1h-7zM420 540h5v1h-5zM422 541h1v1h-1z" fill="#ffdc00"/><path d="M420 537h5v1h-5zM420 538h5v1h-5zM420 539h5v1h-5zM420 540h5v1h-5z" fill="#ffff2c"/><path d="M421 537h3v1h-3zM420 538h5v1h-5zM420 539h5v1h-5zM421 540h3v1h-3z" fill="#ffffa0"/></g><rect x="409.2" y="489.3" width="51.50" height="43.20" fill="none" stroke="#3c5ce6" stroke-width="1.15"/><text x="411.00" y="497.30" font-size="7.7" text-anchor="start" fill="#3050b0" stroke="#3050b0" stroke-width="0.3" textLength="24.4" lengthAdjust="spacingAndGlyphs">64.50%</text><rect x="29.8" y="552.7" width="60.70" height="61.00" fill="#fff" stroke="#555" stroke-width="0.9"/><path d="M33.30 613.7v3.0M37.82 613.7v1.9M40.46 613.7v1.9M42.33 613.7v1.9M43.78 613.7v1.9M44.97 613.7v1.9M45.98 613.7v1.9M46.85 613.7v1.9M47.61 613.7v1.9M48.30 613.7v3.0M52.82 613.7v1.9M55.46 613.7v1.9M57.33 613.7v1.9M58.78 613.7v1.9M59.97 613.7v1.9M60.98 613.7v1.9M61.85 613.7v1.9M62.61 613.7v1.9M63.30 613.7v3.0M67.82 613.7v1.9M70.46 613.7v1.9M72.33 613.7v1.9M73.78 613.7v1.9M74.97 613.7v1.9M75.98 613.7v1.9M76.85 613.7v1.9M77.61 613.7v1.9M78.30 613.7v3.0M82.82 613.7v1.9M85.46 613.7v1.9M87.33 613.7v1.9M88.78 613.7v1.9M29.8 609.30h-1.9M29.8 606.73h-1.9M29.8 604.91h-1.9M29.8 603.50h-1.9M29.8 602.34h-1.9M29.8 601.36h-1.9M29.8 600.51h-1.9M29.8 599.77h-1.9M29.8 599.10h-3.0M29.8 594.70h-1.9M29.8 592.13h-1.9M29.8 590.31h-1.9M29.8 588.90h-1.9M29.8 587.74h-1.9M29.8 586.76h-1.9M29.8 585.91h-1.9M29.8 585.17h-1.9M29.8 584.50h-3.0M29.8 580.10h-1.9M29.8 577.53h-1.9M29.8 575.71h-1.9M29.8 574.30h-1.9M29.8 573.14h-1.9M29.8 572.16h-1.9M29.8 571.31h-1.9M29.8 570.57h-1.9M29.8 569.90h-3.0M29.8 565.50h-1.9M29.8 562.93h-1.9M29.8 561.11h-1.9M29.8 559.70h-1.9M29.8 558.54h-1.9M29.8 557.56h-1.9M29.8 556.71h-1.9M29.8 555.97h-1.9M29.8 555.30h-3.0" stroke="#1a1a1a" stroke-width="0.85" fill="none"/><path d="M57.0 575.2h.9v.9h-.9zM45.4 589.4h.9v.9h-.9zM62.2 579.6h.9v.9h-.9zM59.2 578.8h.9v.9h-.9zM52.9 581.8h.9v.9h-.9zM61.6 580.0h.9v.9h-.9zM53.9 577.7h.9v.9h-.9zM53.6 585.2h.9v.9h-.9zM51.7 587.0h.9v.9h-.9zM49.5 586.3h.9v.9h-.9zM53.5 588.4h.9v.9h-.9zM48.3 593.8h.9v.9h-.9zM48.5 584.7h.9v.9h-.9zM44.5 597.7h.9v.9h-.9zM52.4 588.4h.9v.9h-.9zM62.6 575.5h.9v.9h-.9zM48.4 595.2h.9v.9h-.9zM48.4 599.2h.9v.9h-.9zM47.3 597.6h.9v.9h-.9zM47.6 599.9h.9v.9h-.9zM49.4 590.9h.9v.9h-.9zM60.2 579.9h.9v.9h-.9zM63.9 579.1h.9v.9h-.9zM53.6 588.3h.9v.9h-.9zM55.6 576.9h.9v.9h-.9zM59.9 574.0h.9v.9h-.9zM48.5 594.5h.9v.9h-.9zM49.0 580.1h.9v.9h-.9zM54.4 575.8h.9v.9h-.9zM42.6 579.6h.9v.9h-.9zM60.2 580.0h.9v.9h-.9zM49.2 600.9h.9v.9h-.9zM47.4 600.4h.9v.9h-.9zM51.0 595.5h.9v.9h-.9zM53.3 586.7h.9v.9h-.9zM51.4 589.7h.9v.9h-.9zM51.2 594.7h.9v.9h-.9zM66.1 588.1h.9v.9h-.9zM44.9 598.3h.9v.9h-.9zM62.5 578.6h.9v.9h-.9zM47.6 589.9h.9v.9h-.9zM51.3 595.5h.9v.9h-.9zM48.1 598.1h.9v.9h-.9zM47.8 592.6h.9v.9h-.9zM45.3 598.4h.9v.9h-.9zM57.9 572.5h.9v.9h-.9zM66.3 587.9h.9v.9h-.9zM45.5 589.7h.9v.9h-.9zM56.1 564.0h.9v.9h-.9zM46.9 593.9h.9v.9h-.9zM49.9 601.1h.9v.9h-.9zM53.3 584.2h.9v.9h-.9zM58.8 578.9h.9v.9h-.9zM47.6 590.9h.9v.9h-.9zM52.9 590.1h.9v.9h-.9zM54.9 584.0h.9v.9h-.9zM46.3 580.0h.9v.9h-.9zM52.4 590.8h.9v.9h-.9zM48.9 581.9h.9v.9h-.9zM54.0 588.3h.9v.9h-.9zM48.2 583.1h.9v.9h-.9zM53.5 589.5h.9v.9h-.9zM50.9 593.5h.9v.9h-.9zM52.7 591.1h.9v.9h-.9zM51.3 577.5h.9v.9h-.9zM53.5 577.7h.9v.9h-.9zM44.9 605.0h.9v.9h-.9zM65.4 581.7h.9v.9h-.9zM46.1 586.2h.9v.9h-.9zM49.4 601.6h.9v.9h-.9zM64.3 579.5h.9v.9h-.9zM51.2 589.1h.9v.9h-.9zM52.4 578.0h.9v.9h-.9zM73.1 577.7h.9v.9h-.9zM50.8 587.9h.9v.9h-.9zM54.7 581.6h.9v.9h-.9zM53.5 580.6h.9v.9h-.9zM52.8 590.9h.9v.9h-.9zM52.0 585.8h.9v.9h-.9zM57.7 579.0h.9v.9h-.9zM49.9 590.6h.9v.9h-.9zM55.9 577.9h.9v.9h-.9zM67.4 583.2h.9v.9h-.9zM47.8 600.7h.9v.9h-.9zM55.6 580.6h.9v.9h-.9zM59.1 576.4h.9v.9h-.9zM51.6 589.4h.9v.9h-.9zM54.9 583.6h.9v.9h-.9zM45.4 594.1h.9v.9h-.9zM63.2 586.8h.9v.9h-.9zM45.8 589.0h.9v.9h-.9zM48.7 583.7h.9v.9h-.9zM50.0 579.8h.9v.9h-.9zM62.7 583.1h.9v.9h-.9zM41.6 595.6h.9v.9h-.9zM56.7 579.4h.9v.9h-.9zM53.8 585.8h.9v.9h-.9zM48.1 575.2h.9v.9h-.9zM66.0 592.4h.9v.9h-.9zM48.2 582.8h.9v.9h-.9zM61.7 580.6h.9v.9h-.9zM65.1 590.6h.9v.9h-.9zM54.4 584.6h.9v.9h-.9zM64.9 589.4h.9v.9h-.9zM49.2 577.8h.9v.9h-.9zM63.5 585.2h.9v.9h-.9zM51.7 587.2h.9v.9h-.9zM46.5 596.9h.9v.9h-.9zM44.6 594.9h.9v.9h-.9zM44.3 587.9h.9v.9h-.9zM51.4 589.5h.9v.9h-.9zM68.7 603.8h.9v.9h-.9zM65.2 582.4h.9v.9h-.9zM46.9 599.2h.9v.9h-.9zM52.8 574.0h.9v.9h-.9zM57.8 573.6h.9v.9h-.9zM62.6 585.4h.9v.9h-.9zM52.3 572.3h.9v.9h-.9zM41.8 589.3h.9v.9h-.9zM55.0 586.6h.9v.9h-.9zM60.4 578.1h.9v.9h-.9zM66.3 602.0h.9v.9h-.9zM65.5 579.2h.9v.9h-.9zM55.9 578.3h.9v.9h-.9zM50.0 566.3h.9v.9h-.9zM66.2 586.0h.9v.9h-.9zM44.0 583.3h.9v.9h-.9zM48.7 582.6h.9v.9h-.9zM43.2 582.4h.9v.9h-.9zM63.3 586.0h.9v.9h-.9zM57.7 575.5h.9v.9h-.9zM57.1 575.4h.9v.9h-.9zM49.7 599.9h.9v.9h-.9zM50.1 581.5h.9v.9h-.9zM64.4 588.9h.9v.9h-.9zM64.4 582.9h.9v.9h-.9zM65.1 592.5h.9v.9h-.9zM50.1 597.5h.9v.9h-.9zM46.0 592.6h.9v.9h-.9zM52.5 590.0h.9v.9h-.9zM68.1 583.6h.9v.9h-.9zM52.0 586.3h.9v.9h-.9zM53.7 582.7h.9v.9h-.9zM68.2 590.6h.9v.9h-.9zM49.8 598.9h.9v.9h-.9zM60.8 579.7h.9v.9h-.9zM53.0 589.5h.9v.9h-.9zM56.8 580.7h.9v.9h-.9zM43.0 589.5h.9v.9h-.9zM55.9 573.3h.9v.9h-.9zM46.9 597.8h.9v.9h-.9zM49.8 580.8h.9v.9h-.9zM51.8 585.2h.9v.9h-.9zM55.4 575.4h.9v.9h-.9zM57.0 571.6h.9v.9h-.9zM51.2 590.8h.9v.9h-.9zM70.3 594.9h.9v.9h-.9zM66.0 590.5h.9v.9h-.9zM62.1 574.4h.9v.9h-.9zM52.1 582.5h.9v.9h-.9zM74.7 588.0h.9v.9h-.9zM49.7 584.1h.9v.9h-.9zM64.5 576.4h.9v.9h-.9zM47.3 585.2h.9v.9h-.9zM72.6 585.6h.9v.9h-.9zM51.6 575.9h.9v.9h-.9zM50.5 596.6h.9v.9h-.9zM51.7 586.2h.9v.9h-.9zM48.1 590.1h.9v.9h-.9zM62.0 577.9h.9v.9h-.9zM51.2 585.2h.9v.9h-.9zM43.9 602.3h.9v.9h-.9zM68.2 589.2h.9v.9h-.9zM61.7 578.7h.9v.9h-.9zM49.5 588.8h.9v.9h-.9zM48.2 596.3h.9v.9h-.9zM45.9 590.8h.9v.9h-.9zM44.3 582.3h.9v.9h-.9zM50.5 597.7h.9v.9h-.9zM65.8 592.1h.9v.9h-.9zM44.3 586.7h.9v.9h-.9zM63.9 576.3h.9v.9h-.9zM55.0 570.9h.9v.9h-.9zM52.9 585.1h.9v.9h-.9zM68.5 600.9h.9v.9h-.9zM47.2 578.5h.9v.9h-.9zM58.1 570.5h.9v.9h-.9zM54.7 584.3h.9v.9h-.9zM62.7 573.2h.9v.9h-.9zM63.1 589.0h.9v.9h-.9zM54.9 582.6h.9v.9h-.9zM54.7 577.7h.9v.9h-.9zM69.6 586.4h.9v.9h-.9zM48.7 573.7h.9v.9h-.9zM55.3 571.6h.9v.9h-.9zM54.8 572.1h.9v.9h-.9zM61.6 579.2h.9v.9h-.9zM52.8 583.2h.9v.9h-.9zM51.8 590.4h.9v.9h-.9zM49.6 601.4h.9v.9h-.9zM65.2 586.5h.9v.9h-.9zM39.3 594.6h.9v.9h-.9zM67.9 593.7h.9v.9h-.9zM53.9 587.6h.9v.9h-.9zM54.5 582.1h.9v.9h-.9zM44.7 588.1h.9v.9h-.9zM48.3 593.3h.9v.9h-.9zM63.9 582.7h.9v.9h-.9zM51.6 587.2h.9v.9h-.9zM52.6 567.7h.9v.9h-.9zM52.6 589.1h.9v.9h-.9zM52.4 584.2h.9v.9h-.9zM64.4 585.3h.9v.9h-.9zM61.0 576.3h.9v.9h-.9zM67.8 593.8h.9v.9h-.9zM58.4 576.5h.9v.9h-.9zM48.3 590.7h.9v.9h-.9zM69.9 596.7h.9v.9h-.9zM64.5 589.3h.9v.9h-.9zM51.8 581.9h.9v.9h-.9zM66.7 569.5h.9v.9h-.9zM51.5 586.9h.9v.9h-.9zM64.1 578.0h.9v.9h-.9zM56.9 577.6h.9v.9h-.9zM52.1 592.4h.9v.9h-.9zM50.6 586.6h.9v.9h-.9zM72.5 594.0h.9v.9h-.9zM52.8 591.0h.9v.9h-.9zM49.3 595.3h.9v.9h-.9zM62.6 572.0h.9v.9h-.9zM49.7 587.3h.9v.9h-.9zM54.0 587.3h.9v.9h-.9zM46.7 594.7h.9v.9h-.9zM45.6 577.1h.9v.9h-.9zM49.9 576.3h.9v.9h-.9zM45.7 588.8h.9v.9h-.9zM47.6 577.0h.9v.9h-.9zM49.8 579.7h.9v.9h-.9zM49.5 577.5h.9v.9h-.9zM48.0 601.5h.9v.9h-.9zM49.6 578.7h.9v.9h-.9zM46.1 588.8h.9v.9h-.9zM53.7 584.6h.9v.9h-.9zM49.8 587.9h.9v.9h-.9zM52.1 591.9h.9v.9h-.9zM55.9 580.6h.9v.9h-.9zM56.7 579.4h.9v.9h-.9zM54.7 584.0h.9v.9h-.9zM46.5 571.9h.9v.9h-.9zM46.3 588.0h.9v.9h-.9zM51.1 580.3h.9v.9h-.9zM54.7 575.7h.9v.9h-.9zM51.6 593.8h.9v.9h-.9zM46.4 593.3h.9v.9h-.9zM63.0 587.0h.9v.9h-.9zM45.7 575.9h.9v.9h-.9zM50.0 592.7h.9v.9h-.9zM49.5 600.5h.9v.9h-.9zM60.1 576.8h.9v.9h-.9zM66.6 588.6h.9v.9h-.9zM51.0 581.9h.9v.9h-.9zM47.1 596.3h.9v.9h-.9zM71.5 583.6h.9v.9h-.9zM48.8 590.9h.9v.9h-.9zM53.5 583.0h.9v.9h-.9zM50.7 590.1h.9v.9h-.9zM48.0 592.4h.9v.9h-.9zM59.7 580.0h.9v.9h-.9zM54.0 576.5h.9v.9h-.9zM53.6 589.3h.9v.9h-.9zM46.1 597.6h.9v.9h-.9zM47.7 585.3h.9v.9h-.9zM53.5 584.6h.9v.9h-.9zM38.3 569.2h.9v.9h-.9zM41.5 586.1h.9v.9h-.9zM47.7 590.0h.9v.9h-.9zM50.1 589.5h.9v.9h-.9zM54.3 577.2h.9v.9h-.9zM55.6 581.9h.9v.9h-.9zM54.6 583.0h.9v.9h-.9zM71.1 591.9h.9v.9h-.9zM72.6 587.6h.9v.9h-.9zM47.8 596.8h.9v.9h-.9zM66.8 585.0h.9v.9h-.9zM44.8 598.5h.9v.9h-.9zM50.1 588.9h.9v.9h-.9zM53.1 580.6h.9v.9h-.9zM59.4 575.6h.9v.9h-.9zM53.8 588.9h.9v.9h-.9zM50.1 586.3h.9v.9h-.9zM60.2 580.8h.9v.9h-.9zM73.8 587.0h.9v.9h-.9zM55.3 580.8h.9v.9h-.9zM47.4 587.6h.9v.9h-.9zM56.7 580.3h.9v.9h-.9zM39.5 588.0h.9v.9h-.9zM67.9 587.2h.9v.9h-.9zM53.1 587.0h.9v.9h-.9zM48.6 584.7h.9v.9h-.9zM39.7 580.1h.9v.9h-.9zM53.7 588.1h.9v.9h-.9zM64.3 584.8h.9v.9h-.9zM45.3 581.2h.9v.9h-.9zM61.6 581.3h.9v.9h-.9zM52.0 579.4h.9v.9h-.9zM50.4 597.6h.9v.9h-.9zM41.9 590.7h.9v.9h-.9zM62.2 583.2h.9v.9h-.9zM60.3 579.4h.9v.9h-.9zM48.1 596.6h.9v.9h-.9zM52.1 587.0h.9v.9h-.9zM52.1 582.2h.9v.9h-.9zM51.8 585.4h.9v.9h-.9zM53.0 580.5h.9v.9h-.9zM42.0 583.1h.9v.9h-.9zM64.0 591.3h.9v.9h-.9zM52.0 587.4h.9v.9h-.9zM51.6 593.8h.9v.9h-.9zM48.7 594.7h.9v.9h-.9zM55.7 582.7h.9v.9h-.9zM59.8 573.7h.9v.9h-.9zM42.2 601.3h.9v.9h-.9zM49.0 601.3h.9v.9h-.9zM51.9 580.7h.9v.9h-.9zM48.2 582.5h.9v.9h-.9zM58.9 575.4h.9v.9h-.9zM53.3 582.0h.9v.9h-.9zM45.1 586.2h.9v.9h-.9zM51.3 594.7h.9v.9h-.9zM62.5 578.7h.9v.9h-.9zM53.4 587.8h.9v.9h-.9zM64.9 592.9h.9v.9h-.9zM46.4 584.7h.9v.9h-.9zM51.3 581.4h.9v.9h-.9zM47.3 602.1h.9v.9h-.9zM45.6 601.6h.9v.9h-.9zM38.7 600.1h.9v.9h-.9zM48.0 599.7h.9v.9h-.9zM76.8 598.1h.9v.9h-.9zM42.2 591.3h.9v.9h-.9zM66.8 603.4h.9v.9h-.9zM46.5 600.3h.9v.9h-.9zM38.2 600.0h.9v.9h-.9zM68.9 609.7h.9v.9h-.9zM43.2 600.4h.9v.9h-.9zM68.2 594.2h.9v.9h-.9zM35.5 603.8h.9v.9h-.9zM49.6 597.7h.9v.9h-.9zM67.1 601.7h.9v.9h-.9zM31.1 602.5h.9v.9h-.9zM69.3 595.3h.9v.9h-.9zM68.2 604.8h.9v.9h-.9zM49.7 597.9h.9v.9h-.9zM71.7 597.8h.9v.9h-.9zM65.6 597.9h.9v.9h-.9zM49.2 601.5h.9v.9h-.9zM44.1 598.9h.9v.9h-.9zM43.1 602.8h.9v.9h-.9zM46.8 599.4h.9v.9h-.9zM45.1 598.8h.9v.9h-.9zM72.9 604.9h.9v.9h-.9zM44.7 595.0h.9v.9h-.9zM69.3 602.8h.9v.9h-.9zM67.1 596.1h.9v.9h-.9zM74.4 595.2h.9v.9h-.9zM50.4 599.3h.9v.9h-.9zM50.7 599.6h.9v.9h-.9zM42.0 600.7h.9v.9h-.9zM64.6 592.1h.9v.9h-.9zM49.4 600.8h.9v.9h-.9zM67.5 596.5h.9v.9h-.9zM49.6 602.0h.9v.9h-.9zM48.9 601.4h.9v.9h-.9zM69.1 596.8h.9v.9h-.9zM71.0 596.2h.9v.9h-.9zM44.6 602.2h.9v.9h-.9zM49.3 596.0h.9v.9h-.9zM68.3 598.4h.9v.9h-.9zM43.5 599.7h.9v.9h-.9zM47.7 603.7h.9v.9h-.9zM49.0 601.9h.9v.9h-.9zM37.4 594.9h.9v.9h-.9zM45.9 603.4h.9v.9h-.9zM43.4 594.1h.9v.9h-.9zM69.1 595.9h.9v.9h-.9zM48.6 597.2h.9v.9h-.9zM66.1 599.4h.9v.9h-.9zM41.8 604.3h.9v.9h-.9zM47.9 599.1h.9v.9h-.9zM47.4 603.6h.9v.9h-.9zM70.8 589.2h.9v.9h-.9zM47.5 598.7h.9v.9h-.9zM66.6 611.1h.9v.9h-.9zM75.2 598.6h.9v.9h-.9zM50.5 601.4h.9v.9h-.9zM68.1 599.9h.9v.9h-.9zM47.0 599.4h.9v.9h-.9zM70.1 602.0h.9v.9h-.9zM46.4 597.8h.9v.9h-.9zM69.1 604.2h.9v.9h-.9zM70.1 604.2h.9v.9h-.9zM67.7 600.6h.9v.9h-.9zM43.4 598.9h.9v.9h-.9zM69.5 598.4h.9v.9h-.9zM44.4 598.4h.9v.9h-.9zM48.3 596.3h.9v.9h-.9zM50.3 596.4h.9v.9h-.9zM49.7 596.8h.9v.9h-.9zM71.1 600.1h.9v.9h-.9zM67.4 600.8h.9v.9h-.9zM66.6 603.6h.9v.9h-.9zM48.8 600.4h.9v.9h-.9zM42.4 596.7h.9v.9h-.9zM42.1 600.1h.9v.9h-.9zM76.4 590.9h.9v.9h-.9zM45.3 595.3h.9v.9h-.9zM45.2 595.9h.9v.9h-.9zM39.3 600.9h.9v.9h-.9zM67.7 597.9h.9v.9h-.9zM47.1 598.4h.9v.9h-.9zM38.4 605.4h.9v.9h-.9zM52.0 593.6h.9v.9h-.9zM67.3 602.7h.9v.9h-.9zM67.9 594.2h.9v.9h-.9zM46.7 602.0h.9v.9h-.9zM43.6 599.3h.9v.9h-.9zM79.2 601.1h.9v.9h-.9zM50.5 599.0h.9v.9h-.9zM51.1 589.2h.9v.9h-.9zM49.1 588.4h.9v.9h-.9zM65.5 588.2h.9v.9h-.9zM62.0 579.4h.9v.9h-.9zM51.2 610.4h.9v.9h-.9zM31.7 607.5h.9v.9h-.9zM74.6 611.0h.9v.9h-.9zM37.3 610.6h.9v.9h-.9zM51.6 581.9h.9v.9h-.9zM62.4 578.7h.9v.9h-.9zM76.1 612.2h.9v.9h-.9zM53.8 586.5h.9v.9h-.9zM70.9 612.4h.9v.9h-.9zM71.1 608.0h.9v.9h-.9zM62.6 584.2h.9v.9h-.9zM73.9 608.5h.9v.9h-.9zM47.2 602.2h.9v.9h-.9zM73.1 611.6h.9v.9h-.9zM34.9 605.0h.9v.9h-.9zM67.1 592.3h.9v.9h-.9zM46.7 598.8h.9v.9h-.9zM50.8 601.1h.9v.9h-.9zM65.7 590.7h.9v.9h-.9zM60.3 579.9h.9v.9h-.9zM49.2 610.3h.9v.9h-.9zM53.1 589.8h.9v.9h-.9zM74.4 607.0h.9v.9h-.9zM65.9 587.7h.9v.9h-.9zM69.8 610.5h.9v.9h-.9zM62.0 610.4h.9v.9h-.9zM66.4 610.8h.9v.9h-.9zM41.2 609.2h.9v.9h-.9zM43.2 603.8h.9v.9h-.9zM41.9 602.0h.9v.9h-.9zM64.2 610.4h.9v.9h-.9zM50.2 596.8h.9v.9h-.9zM34.2 609.2h.9v.9h-.9zM65.0 594.3h.9v.9h-.9zM64.6 592.4h.9v.9h-.9zM53.5 611.7h.9v.9h-.9zM33.7 606.3h.9v.9h-.9zM78.8 604.8h.9v.9h-.9zM55.8 581.6h.9v.9h-.9zM63.7 582.8h.9v.9h-.9zM61.4 581.6h.9v.9h-.9zM70.7 610.4h.9v.9h-.9zM77.6 610.9h.9v.9h-.9zM61.2 579.2h.9v.9h-.9zM46.6 600.3h.9v.9h-.9zM62.5 586.3h.9v.9h-.9zM46.7 603.6h.9v.9h-.9zM70.2 605.2h.9v.9h-.9zM72.0 594.7h.9v.9h-.9zM67.8 610.1h.9v.9h-.9zM50.1 596.5h.9v.9h-.9zM62.0 582.5h.9v.9h-.9zM79.1 606.5h.9v.9h-.9zM70.4 603.0h.9v.9h-.9zM45.5 610.2h.9v.9h-.9zM71.1 599.7h.9v.9h-.9zM66.0 589.3h.9v.9h-.9zM61.0 580.9h.9v.9h-.9zM62.6 585.7h.9v.9h-.9zM58.9 611.8h.9v.9h-.9zM47.7 600.3h.9v.9h-.9zM48.9 600.3h.9v.9h-.9zM78.3 607.1h.9v.9h-.9zM67.6 595.6h.9v.9h-.9zM81.2 608.6h.9v.9h-.9zM51.8 610.5h.9v.9h-.9zM62.4 585.0h.9v.9h-.9zM50.6 610.3h.9v.9h-.9zM61.8 611.1h.9v.9h-.9zM79.9 606.4h.9v.9h-.9zM52.9 583.3h.9v.9h-.9zM33.1 606.3h.9v.9h-.9zM48.1 593.9h.9v.9h-.9zM64.8 594.3h.9v.9h-.9zM64.9 589.7h.9v.9h-.9zM72.5 606.5h.9v.9h-.9zM67.2 603.2h.9v.9h-.9zM71.2 606.8h.9v.9h-.9zM36.0 607.3h.9v.9h-.9zM45.6 602.2h.9v.9h-.9zM66.4 595.6h.9v.9h-.9zM54.3 612.2h.9v.9h-.9zM57.6 579.3h.9v.9h-.9zM50.1 593.3h.9v.9h-.9zM80.7 606.4h.9v.9h-.9zM49.6 598.1h.9v.9h-.9zM31.8 603.3h.9v.9h-.9zM41.2 609.6h.9v.9h-.9zM66.8 583.0h.9v.9h-.9zM73.7 608.9h.9v.9h-.9zM61.8 610.8h.9v.9h-.9zM72.3 603.6h.9v.9h-.9zM76.2 606.3h.9v.9h-.9zM44.6 604.9h.9v.9h-.9zM73.2 609.6h.9v.9h-.9zM46.2 600.5h.9v.9h-.9zM47.8 598.4h.9v.9h-.9zM76.7 605.9h.9v.9h-.9zM51.4 594.8h.9v.9h-.9zM46.2 600.8h.9v.9h-.9zM64.7 591.9h.9v.9h-.9zM44.9 604.8h.9v.9h-.9zM51.9 594.6h.9v.9h-.9zM67.0 598.2h.9v.9h-.9zM65.9 610.8h.9v.9h-.9zM59.1 578.5h.9v.9h-.9zM70.1 601.6h.9v.9h-.9zM51.4 592.7h.9v.9h-.9zM51.9 590.2h.9v.9h-.9zM75.8 607.3h.9v.9h-.9z" fill="#1a1a80" fill-opacity="0.7"/><g filter="url(#bl)"><path d="M57 580h3v1h-3zM56 581h5v1h-5zM56 582h5v1h-5zM55 583h7v1h-7zM55 584h7v1h-7zM55 585h7v1h-7zM55 586h7v1h-7zM54 587h9v1h-9zM54 588h9v1h-9zM54 589h9v1h-9zM53 590h11v1h-11zM53 591h11v1h-11zM53 592h11v1h-11zM52 593h12v1h-12zM52 594h12v1h-12zM52 595h13v1h-13zM51 596h14v1h-14zM51 597h14v1h-14zM51 598h14v1h-14zM51 599h14v1h-14zM51 600h14v1h-14zM51 601h14v1h-14zM50 602h15v1h-15zM48 603h18v1h-18zM45 604h22v1h-22zM42 605h27v1h-27zM41 606h29v1h-29zM41 607h29v1h-29zM42 608h27v1h-27zM45 609h21v1h-21zM52 610h9v1h-9z" fill="#03036a"/><path d="M47 605h18v1h-18zM45 606h22v1h-22zM45 607h22v1h-22zM47 608h18v1h-18z" fill="#140010"/><path d="M48 605h16v1h-16zM46 606h20v1h-20zM46 607h21v1h-21zM48 608h16v1h-16z" fill="#5c0000"/><path d="M50 605h13v1h-13zM47 606h19v1h-19zM47 607h19v1h-19zM50 608h13v1h-13z" fill="#a00000"/><path d="M53 605h8v1h-8zM47 606h18v1h-18zM47 607h18v1h-18zM51 608h11v1h-11z" fill="#e00000"/><path d="M55 605h3v1h-3zM49 606h15v1h-15zM49 607h15v1h-15zM53 608h9v1h-9z" fill="#ff1400"/><path d="M51 606h12v1h-12zM50 607h14v1h-14zM54 608h7v1h-7z" fill="#ff4c00"/><path d="M52 606h11v1h-11zM51 607h12v1h-12zM55 608h4v1h-4z" fill="#ff8400"/><path d="M53 606h9v1h-9zM52 607h10v1h-10z" fill="#ffb400"/><path d="M53 606h8v1h-8zM53 607h9v1h-9z" fill="#ffdc00"/><path d="M54 606h7v1h-7zM53 607h8v1h-8z" fill="#ffff2c"/><path d="M54 606h6v1h-6zM54 607h7v1h-7z" fill="#ffffa0"/></g><rect x="32.4" y="555.4" width="54.10" height="39.30" fill="none" stroke="#3c5ce6" stroke-width="1.15"/><text x="34.20" y="563.40" font-size="7.7" text-anchor="start" fill="#3050b0" stroke="#3050b0" stroke-width="0.3" textLength="20.6" lengthAdjust="spacingAndGlyphs">8.82%</text><rect x="273.1" y="552.7" width="60.50" height="61.00" fill="#fff" stroke="#555" stroke-width="0.9"/><path d="M276.60 613.7v3.0M281.12 613.7v1.9M283.76 613.7v1.9M285.63 613.7v1.9M287.08 613.7v1.9M288.27 613.7v1.9M289.28 613.7v1.9M290.15 613.7v1.9M290.91 613.7v1.9M291.60 613.7v3.0M296.12 613.7v1.9M298.76 613.7v1.9M300.63 613.7v1.9M302.08 613.7v1.9M303.27 613.7v1.9M304.28 613.7v1.9M305.15 613.7v1.9M305.91 613.7v1.9M306.60 613.7v3.0M311.12 613.7v1.9M313.76 613.7v1.9M315.63 613.7v1.9M317.08 613.7v1.9M318.27 613.7v1.9M319.28 613.7v1.9M320.15 613.7v1.9M320.91 613.7v1.9M321.60 613.7v3.0M326.12 613.7v1.9M328.76 613.7v1.9M330.63 613.7v1.9M332.08 613.7v1.9M273.1 609.30h-1.9M273.1 606.73h-1.9M273.1 604.91h-1.9M273.1 603.50h-1.9M273.1 602.34h-1.9M273.1 601.36h-1.9M273.1 600.51h-1.9M273.1 599.77h-1.9M273.1 599.10h-3.0M273.1 594.70h-1.9M273.1 592.13h-1.9M273.1 590.31h-1.9M273.1 588.90h-1.9M273.1 587.74h-1.9M273.1 586.76h-1.9M273.1 585.91h-1.9M273.1 585.17h-1.9M273.1 584.50h-3.0M273.1 580.10h-1.9M273.1 577.53h-1.9M273.1 575.71h-1.9M273.1 574.30h-1.9M273.1 573.14h-1.9M273.1 572.16h-1.9M273.1 571.31h-1.9M273.1 570.57h-1.9M273.1 569.90h-3.0M273.1 565.50h-1.9M273.1 562.93h-1.9M273.1 561.11h-1.9M273.1 559.70h-1.9M273.1 558.54h-1.9M273.1 557.56h-1.9M273.1 556.71h-1.9M273.1 555.97h-1.9M273.1 555.30h-3.0" stroke="#1a1a1a" stroke-width="0.85" fill="none"/><path d="M305.3 587.9h.9v.9h-.9zM305.4 590.7h.9v.9h-.9zM305.6 575.5h.9v.9h-.9zM305.5 593.3h.9v.9h-.9zM292.8 572.2h.9v.9h-.9zM297.2 567.0h.9v.9h-.9zM283.3 581.1h.9v.9h-.9zM304.3 577.7h.9v.9h-.9zM306.4 588.2h.9v.9h-.9zM305.1 588.2h.9v.9h-.9zM306.5 582.7h.9v.9h-.9zM308.6 601.2h.9v.9h-.9zM316.0 580.2h.9v.9h-.9zM309.2 579.9h.9v.9h-.9zM309.9 592.6h.9v.9h-.9zM303.2 599.2h.9v.9h-.9zM307.9 590.0h.9v.9h-.9zM308.2 582.5h.9v.9h-.9zM306.0 598.9h.9v.9h-.9zM305.0 597.5h.9v.9h-.9zM307.9 578.3h.9v.9h-.9zM304.9 573.6h.9v.9h-.9zM305.0 590.1h.9v.9h-.9zM312.2 581.9h.9v.9h-.9zM311.0 581.8h.9v.9h-.9zM314.9 593.4h.9v.9h-.9zM309.6 591.9h.9v.9h-.9zM314.1 587.3h.9v.9h-.9zM287.7 587.5h.9v.9h-.9zM313.9 569.0h.9v.9h-.9zM313.7 574.9h.9v.9h-.9zM308.2 575.4h.9v.9h-.9zM309.7 581.8h.9v.9h-.9zM303.8 599.4h.9v.9h-.9zM305.2 565.5h.9v.9h-.9zM305.2 600.9h.9v.9h-.9zM306.5 590.9h.9v.9h-.9zM311.1 583.6h.9v.9h-.9zM306.0 594.0h.9v.9h-.9zM306.4 570.6h.9v.9h-.9zM316.7 588.0h.9v.9h-.9zM307.7 585.3h.9v.9h-.9zM307.9 588.3h.9v.9h-.9zM313.2 592.0h.9v.9h-.9zM294.5 572.4h.9v.9h-.9zM309.9 584.9h.9v.9h-.9zM297.1 570.8h.9v.9h-.9zM307.9 580.6h.9v.9h-.9zM306.2 582.4h.9v.9h-.9zM309.3 585.5h.9v.9h-.9zM288.6 599.1h.9v.9h-.9zM305.0 580.2h.9v.9h-.9zM313.2 588.6h.9v.9h-.9zM318.6 581.5h.9v.9h-.9zM289.4 599.4h.9v.9h-.9zM308.2 587.3h.9v.9h-.9zM305.3 579.6h.9v.9h-.9zM306.2 568.8h.9v.9h-.9zM285.8 574.6h.9v.9h-.9zM285.1 588.8h.9v.9h-.9zM317.1 581.5h.9v.9h-.9zM308.2 584.8h.9v.9h-.9zM305.7 600.4h.9v.9h-.9zM307.2 598.5h.9v.9h-.9zM306.8 587.7h.9v.9h-.9zM305.6 578.3h.9v.9h-.9zM301.6 570.9h.9v.9h-.9zM306.5 584.9h.9v.9h-.9zM309.4 571.4h.9v.9h-.9zM312.8 595.1h.9v.9h-.9zM307.5 577.3h.9v.9h-.9zM313.2 575.1h.9v.9h-.9zM306.6 594.9h.9v.9h-.9zM305.1 591.3h.9v.9h-.9zM314.5 593.3h.9v.9h-.9zM299.5 566.7h.9v.9h-.9zM317.3 584.3h.9v.9h-.9zM308.8 591.9h.9v.9h-.9zM306.6 589.4h.9v.9h-.9zM306.4 573.9h.9v.9h-.9zM290.0 597.9h.9v.9h-.9zM312.1 567.6h.9v.9h-.9zM309.3 578.1h.9v.9h-.9zM300.1 570.0h.9v.9h-.9zM314.0 570.8h.9v.9h-.9zM306.7 576.9h.9v.9h-.9zM303.0 571.8h.9v.9h-.9zM310.5 587.2h.9v.9h-.9zM312.0 572.2h.9v.9h-.9zM306.6 575.6h.9v.9h-.9zM311.1 595.2h.9v.9h-.9zM305.3 564.7h.9v.9h-.9zM309.2 591.1h.9v.9h-.9zM295.8 564.9h.9v.9h-.9zM302.8 574.1h.9v.9h-.9zM296.3 571.9h.9v.9h-.9zM307.9 582.1h.9v.9h-.9zM317.1 583.5h.9v.9h-.9zM309.0 586.4h.9v.9h-.9zM308.1 597.6h.9v.9h-.9zM297.0 566.8h.9v.9h-.9zM307.7 587.1h.9v.9h-.9zM303.8 573.9h.9v.9h-.9zM294.3 572.9h.9v.9h-.9zM309.6 589.8h.9v.9h-.9zM314.2 585.5h.9v.9h-.9zM307.8 577.8h.9v.9h-.9zM308.7 584.5h.9v.9h-.9zM299.1 571.6h.9v.9h-.9zM307.9 579.3h.9v.9h-.9zM305.0 591.8h.9v.9h-.9zM306.0 590.0h.9v.9h-.9zM310.9 597.7h.9v.9h-.9zM298.4 569.8h.9v.9h-.9zM306.1 581.0h.9v.9h-.9zM305.9 586.4h.9v.9h-.9zM290.8 570.1h.9v.9h-.9zM307.4 571.3h.9v.9h-.9zM308.3 572.4h.9v.9h-.9zM311.4 605.8h.9v.9h-.9zM313.6 583.1h.9v.9h-.9zM311.5 586.0h.9v.9h-.9zM307.2 572.8h.9v.9h-.9zM317.2 595.3h.9v.9h-.9zM308.1 575.2h.9v.9h-.9zM296.9 567.4h.9v.9h-.9zM305.5 599.3h.9v.9h-.9zM313.2 572.4h.9v.9h-.9zM312.5 580.6h.9v.9h-.9zM307.8 593.1h.9v.9h-.9zM301.8 564.8h.9v.9h-.9zM309.1 579.9h.9v.9h-.9zM311.1 580.4h.9v.9h-.9zM309.3 597.4h.9v.9h-.9zM287.8 611.9h.9v.9h-.9zM311.4 578.9h.9v.9h-.9zM308.4 572.9h.9v.9h-.9zM308.2 591.3h.9v.9h-.9zM307.5 593.7h.9v.9h-.9zM306.3 583.8h.9v.9h-.9zM305.3 600.9h.9v.9h-.9zM312.3 570.0h.9v.9h-.9zM309.2 577.5h.9v.9h-.9zM311.1 596.1h.9v.9h-.9zM293.5 568.0h.9v.9h-.9zM314.9 582.2h.9v.9h-.9zM305.6 571.0h.9v.9h-.9zM312.6 585.7h.9v.9h-.9zM311.1 587.2h.9v.9h-.9zM309.1 581.9h.9v.9h-.9zM307.0 574.3h.9v.9h-.9zM307.4 560.9h.9v.9h-.9zM305.0 572.6h.9v.9h-.9zM305.7 571.7h.9v.9h-.9zM309.1 583.5h.9v.9h-.9zM308.2 580.1h.9v.9h-.9zM310.9 604.5h.9v.9h-.9zM303.8 572.8h.9v.9h-.9zM306.3 601.3h.9v.9h-.9zM303.4 570.9h.9v.9h-.9zM300.9 572.7h.9v.9h-.9zM301.7 562.3h.9v.9h-.9zM303.6 576.0h.9v.9h-.9zM299.3 571.1h.9v.9h-.9zM305.6 577.4h.9v.9h-.9zM305.1 574.5h.9v.9h-.9zM308.0 577.0h.9v.9h-.9zM315.9 593.9h.9v.9h-.9zM313.6 594.1h.9v.9h-.9zM307.9 592.5h.9v.9h-.9zM305.7 587.8h.9v.9h-.9zM315.4 583.9h.9v.9h-.9zM310.5 599.1h.9v.9h-.9zM306.9 584.2h.9v.9h-.9zM317.4 587.4h.9v.9h-.9zM286.8 580.8h.9v.9h-.9zM306.9 591.2h.9v.9h-.9zM287.8 590.9h.9v.9h-.9zM306.0 599.9h.9v.9h-.9zM287.4 589.8h.9v.9h-.9zM307.8 577.4h.9v.9h-.9zM305.3 575.5h.9v.9h-.9zM307.9 588.6h.9v.9h-.9zM303.9 572.6h.9v.9h-.9zM305.8 575.3h.9v.9h-.9zM309.6 583.6h.9v.9h-.9zM302.0 573.4h.9v.9h-.9zM312.4 586.3h.9v.9h-.9zM309.1 580.1h.9v.9h-.9zM311.6 584.3h.9v.9h-.9zM308.9 589.8h.9v.9h-.9zM308.4 572.9h.9v.9h-.9zM311.2 595.7h.9v.9h-.9zM305.1 580.0h.9v.9h-.9zM306.9 589.0h.9v.9h-.9zM305.2 596.1h.9v.9h-.9zM306.9 581.0h.9v.9h-.9zM310.3 573.8h.9v.9h-.9zM298.1 571.5h.9v.9h-.9zM308.5 579.0h.9v.9h-.9zM313.4 584.3h.9v.9h-.9zM299.1 563.4h.9v.9h-.9zM310.5 581.7h.9v.9h-.9zM290.5 565.0h.9v.9h-.9zM308.5 590.1h.9v.9h-.9zM306.4 586.8h.9v.9h-.9zM300.9 571.0h.9v.9h-.9zM297.2 570.2h.9v.9h-.9zM303.3 573.3h.9v.9h-.9zM312.7 580.4h.9v.9h-.9zM312.2 581.4h.9v.9h-.9zM306.0 594.7h.9v.9h-.9zM308.3 582.5h.9v.9h-.9zM303.3 570.9h.9v.9h-.9zM309.5 582.3h.9v.9h-.9zM305.1 573.0h.9v.9h-.9zM307.3 590.7h.9v.9h-.9zM310.1 576.8h.9v.9h-.9zM297.1 568.9h.9v.9h-.9zM314.4 567.1h.9v.9h-.9zM311.5 595.7h.9v.9h-.9zM304.4 596.7h.9v.9h-.9zM298.4 559.8h.9v.9h-.9zM300.4 571.2h.9v.9h-.9zM303.5 573.9h.9v.9h-.9zM311.2 594.0h.9v.9h-.9zM310.7 588.8h.9v.9h-.9zM318.0 581.5h.9v.9h-.9zM306.9 570.3h.9v.9h-.9zM310.8 586.5h.9v.9h-.9zM304.4 562.2h.9v.9h-.9zM312.4 582.5h.9v.9h-.9zM303.6 574.3h.9v.9h-.9zM308.9 602.4h.9v.9h-.9zM316.8 575.8h.9v.9h-.9zM315.7 582.9h.9v.9h-.9zM306.7 592.3h.9v.9h-.9zM298.5 567.6h.9v.9h-.9zM282.3 587.6h.9v.9h-.9zM308.6 579.2h.9v.9h-.9zM309.0 566.9h.9v.9h-.9zM299.4 569.2h.9v.9h-.9zM303.8 575.0h.9v.9h-.9zM310.5 593.5h.9v.9h-.9zM308.8 594.4h.9v.9h-.9zM293.0 569.9h.9v.9h-.9zM310.1 571.1h.9v.9h-.9zM305.3 588.8h.9v.9h-.9zM307.3 591.6h.9v.9h-.9zM289.3 574.5h.9v.9h-.9zM303.4 600.4h.9v.9h-.9zM307.7 594.9h.9v.9h-.9zM282.2 576.4h.9v.9h-.9zM291.4 570.1h.9v.9h-.9zM287.5 598.4h.9v.9h-.9zM285.3 603.3h.9v.9h-.9zM303.3 599.7h.9v.9h-.9zM278.9 608.7h.9v.9h-.9zM300.2 571.5h.9v.9h-.9zM301.4 566.6h.9v.9h-.9zM284.2 610.0h.9v.9h-.9zM292.2 565.8h.9v.9h-.9zM284.6 604.8h.9v.9h-.9zM289.3 573.1h.9v.9h-.9zM312.2 606.0h.9v.9h-.9zM302.7 565.1h.9v.9h-.9zM282.7 585.2h.9v.9h-.9zM285.0 590.6h.9v.9h-.9zM279.4 599.0h.9v.9h-.9zM288.9 593.5h.9v.9h-.9zM305.8 578.3h.9v.9h-.9zM281.9 577.7h.9v.9h-.9zM297.1 567.8h.9v.9h-.9zM311.6 609.9h.9v.9h-.9zM288.5 594.6h.9v.9h-.9zM286.4 580.5h.9v.9h-.9zM302.4 575.0h.9v.9h-.9zM308.6 590.7h.9v.9h-.9zM304.0 571.7h.9v.9h-.9zM306.3 600.7h.9v.9h-.9zM306.3 593.2h.9v.9h-.9zM286.4 610.8h.9v.9h-.9zM309.6 579.2h.9v.9h-.9zM283.3 587.8h.9v.9h-.9zM289.2 573.3h.9v.9h-.9zM285.7 575.1h.9v.9h-.9zM285.3 610.2h.9v.9h-.9zM310.5 605.0h.9v.9h-.9zM286.6 584.6h.9v.9h-.9zM303.6 568.0h.9v.9h-.9zM309.0 576.0h.9v.9h-.9zM307.1 602.5h.9v.9h-.9zM288.5 597.7h.9v.9h-.9zM283.6 609.3h.9v.9h-.9zM293.1 572.2h.9v.9h-.9zM289.2 597.2h.9v.9h-.9zM285.5 595.2h.9v.9h-.9zM304.2 573.3h.9v.9h-.9zM287.7 568.9h.9v.9h-.9zM308.2 596.5h.9v.9h-.9zM286.9 598.8h.9v.9h-.9zM280.2 603.8h.9v.9h-.9zM306.1 595.5h.9v.9h-.9zM302.8 569.1h.9v.9h-.9zM295.9 612.6h.9v.9h-.9zM312.4 582.5h.9v.9h-.9zM309.1 585.7h.9v.9h-.9zM300.0 612.2h.9v.9h-.9zM312.3 589.1h.9v.9h-.9zM282.9 578.1h.9v.9h-.9zM288.0 575.2h.9v.9h-.9zM282.7 611.6h.9v.9h-.9zM309.0 583.9h.9v.9h-.9zM286.9 599.9h.9v.9h-.9zM289.5 573.1h.9v.9h-.9zM311.4 599.9h.9v.9h-.9zM288.9 600.8h.9v.9h-.9zM286.9 592.5h.9v.9h-.9zM287.6 597.7h.9v.9h-.9zM309.6 610.3h.9v.9h-.9zM303.5 573.7h.9v.9h-.9zM316.5 605.7h.9v.9h-.9zM286.5 584.6h.9v.9h-.9zM311.3 610.3h.9v.9h-.9zM317.9 611.0h.9v.9h-.9zM305.0 599.4h.9v.9h-.9zM279.4 564.2h.9v.9h-.9zM299.6 570.8h.9v.9h-.9zM285.5 601.2h.9v.9h-.9zM308.3 593.0h.9v.9h-.9zM305.7 586.3h.9v.9h-.9zM312.5 603.1h.9v.9h-.9zM304.4 572.6h.9v.9h-.9zM314.2 580.2h.9v.9h-.9zM287.4 586.7h.9v.9h-.9zM290.2 600.8h.9v.9h-.9zM306.1 580.6h.9v.9h-.9zM287.8 571.2h.9v.9h-.9zM287.7 570.6h.9v.9h-.9zM305.1 591.6h.9v.9h-.9zM282.7 606.8h.9v.9h-.9zM307.0 584.6h.9v.9h-.9zM307.4 572.5h.9v.9h-.9zM297.8 571.5h.9v.9h-.9zM283.0 600.9h.9v.9h-.9zM304.8 599.1h.9v.9h-.9zM289.5 611.1h.9v.9h-.9zM305.7 566.7h.9v.9h-.9zM302.1 572.5h.9v.9h-.9zM288.3 602.5h.9v.9h-.9zM307.2 568.5h.9v.9h-.9z" fill="#1a1a80" fill-opacity="0.7"/><g filter="url(#bl)"><path d="M295 572h5v1h-5zM293 573h8v1h-8zM291 574h11v1h-11zM290 575h13v1h-13zM289 576h15v1h-15zM289 577h15v1h-15zM288 578h17v1h-17zM288 579h17v1h-17zM288 580h17v1h-17zM288 581h17v1h-17zM287 582h19v1h-19zM287 583h19v1h-19zM287 584h19v1h-19zM288 585h18v1h-18zM288 586h17v1h-17zM288 587h17v1h-17zM288 588h17v1h-17zM288 589h17v1h-17zM288 590h17v1h-17zM288 591h17v1h-17zM288 592h17v1h-17zM289 593h16v1h-16zM289 594h16v1h-16zM289 595h16v1h-16zM289 596h15v1h-15zM290 597h14v1h-14zM290 598h14v1h-14zM291 599h12v1h-12zM291 600h12v1h-12zM290 601h14v1h-14zM289 602h16v1h-16zM287 603h19v1h-19zM286 604h22v1h-22zM285 605h23v1h-23zM285 606h24v1h-24zM285 607h24v1h-24zM285 608h23v1h-23zM286 609h21v1h-21zM287 610h19v1h-19zM290 611h14v1h-14zM296 612h2v1h-2z" fill="#03036a"/><path d="M295 574h5v1h-5zM294 575h7v1h-7zM293 576h8v1h-8zM293 577h9v1h-9zM292 578h10v1h-10zM292 579h11v1h-11zM292 580h11v1h-11zM292 581h11v1h-11zM292 582h11v1h-11zM292 583h11v1h-11zM292 584h11v1h-11zM292 585h11v1h-11zM292 586h11v1h-11zM292 587h11v1h-11zM292 588h10v1h-10zM293 589h9v1h-9zM293 590h8v1h-8zM293 591h8v1h-8zM294 592h7v1h-7zM294 593h6v1h-6zM294 594h6v1h-6zM295 595h4v1h-4zM296 596h2v1h-2zM291 603h10v1h-10zM287 604h16v1h-16zM286 605h18v1h-18zM286 606h19v1h-19zM286 607h19v1h-19zM286 608h18v1h-18zM287 609h17v1h-17zM289 610h13v1h-13zM294 611h5v1h-5z" fill="#140010"/><path d="M295 575h5v1h-5zM294 576h7v1h-7zM293 577h8v1h-8zM293 578h9v1h-9zM293 579h9v1h-9zM292 580h10v1h-10zM292 581h10v1h-10zM292 582h10v1h-10zM292 583h11v1h-11zM292 584h10v1h-10zM292 585h10v1h-10zM292 586h10v1h-10zM293 587h9v1h-9zM293 588h9v1h-9zM293 589h8v1h-8zM294 590h7v1h-7zM294 591h6v1h-6zM294 592h6v1h-6zM294 593h6v1h-6zM295 594h4v1h-4zM296 595h2v1h-2zM293 603h6v1h-6zM288 604h14v1h-14zM287 605h16v1h-16zM286 606h18v1h-18zM286 607h18v1h-18zM287 608h17v1h-17zM288 609h15v1h-15zM291 610h10v1h-10z" fill="#5c0000"/><path d="M296 575h2v1h-2zM295 576h5v1h-5zM294 577h7v1h-7zM294 578h7v1h-7zM293 579h8v1h-8zM293 580h9v1h-9zM293 581h9v1h-9zM293 582h9v1h-9zM293 583h9v1h-9zM293 584h9v1h-9zM293 585h9v1h-9zM293 586h9v1h-9zM293 587h8v1h-8zM293 588h8v1h-8zM294 589h7v1h-7zM294 590h6v1h-6zM294 591h6v1h-6zM294 592h6v1h-6zM295 593h4v1h-4zM296 594h3v1h-3zM296 603h1v1h-1zM289 604h12v1h-12zM287 605h16v1h-16zM287 606h17v1h-17zM287 607h17v1h-17zM287 608h16v1h-16zM288 609h14v1h-14zM292 610h9v1h-9z" fill="#a00000"/><path d="M296 576h2v1h-2zM295 577h5v1h-5zM294 578h6v1h-6zM294 579h7v1h-7zM293 580h8v1h-8zM293 581h8v1h-8zM293 582h9v1h-9zM293 583h9v1h-9zM293 584h9v1h-9zM293 585h8v1h-8zM293 586h8v1h-8zM294 587h7v1h-7zM294 588h7v1h-7zM294 589h6v1h-6zM294 590h6v1h-6zM295 591h5v1h-5zM295 592h4v1h-4zM295 593h4v1h-4zM290 604h11v1h-11zM288 605h14v1h-14zM287 606h16v1h-16zM287 607h16v1h-16zM288 608h15v1h-15zM289 609h13v1h-13zM293 610h7v1h-7z" fill="#e00000"/><path d="M296 577h2v1h-2zM295 578h5v1h-5zM294 579h6v1h-6zM294 580h7v1h-7zM294 581h7v1h-7zM294 582h7v1h-7zM294 583h7v1h-7zM294 584h7v1h-7zM294 585h7v1h-7zM294 586h7v1h-7zM294 587h6v1h-6zM294 588h6v1h-6zM295 589h5v1h-5zM295 590h4v1h-4zM295 591h4v1h-4zM296 592h3v1h-3zM291 604h9v1h-9zM288 605h14v1h-14zM288 606h15v1h-15zM287 607h16v1h-16zM288 608h14v1h-14zM290 609h11v1h-11zM295 610h3v1h-3z" fill="#ff1400"/><path d="M296 579h3v1h-3zM295 580h5v1h-5zM295 581h5v1h-5zM294 582h6v1h-6zM294 583h6v1h-6zM294 584h6v1h-6zM295 585h5v1h-5zM295 586h5v1h-5zM295 587h4v1h-4zM295 588h4v1h-4zM295 589h4v1h-4zM295 590h4v1h-4zM296 591h2v1h-2zM294 604h5v1h-5zM289 605h12v1h-12zM288 606h14v1h-14zM288 607h14v1h-14zM289 608h13v1h-13zM291 609h10v1h-10z" fill="#ff4c00"/><path d="M296 581h2v1h-2zM296 582h3v1h-3zM296 583h3v1h-3zM296 584h3v1h-3zM296 585h3v1h-3zM296 586h3v1h-3zM296 587h2v1h-2zM296 588h2v1h-2zM296 589h2v1h-2zM290 605h10v1h-10zM289 606h13v1h-13zM289 607h13v1h-13zM290 608h11v1h-11zM293 609h7v1h-7z" fill="#ff8400"/><path d="M291 605h9v1h-9zM290 606h11v1h-11zM290 607h11v1h-11zM291 608h10v1h-10zM294 609h5v1h-5z" fill="#ffb400"/><path d="M293 605h6v1h-6zM291 606h9v1h-9zM290 607h11v1h-11zM291 608h9v1h-9z" fill="#ffdc00"/><path d="M291 606h9v1h-9zM291 607h9v1h-9zM293 608h6v1h-6z" fill="#ffff2c"/><path d="M292 606h6v1h-6zM292 607h7v1h-7zM295 608h2v1h-2z" fill="#ffffa0"/></g><rect x="276.2" y="558.7" width="54.20" height="42.50" fill="none" stroke="#3c5ce6" stroke-width="1.15"/><text x="278.00" y="566.70" font-size="7.7" text-anchor="start" fill="#3050b0" stroke="#3050b0" stroke-width="0.3" textLength="24.4" lengthAdjust="spacingAndGlyphs">51.78%</text><rect x="95.9" y="552.7" width="60.70" height="61.00" fill="#fff" stroke="#555" stroke-width="0.9"/><path d="M99.40 613.7v3.0M103.92 613.7v1.9M106.56 613.7v1.9M108.43 613.7v1.9M109.88 613.7v1.9M111.07 613.7v1.9M112.08 613.7v1.9M112.95 613.7v1.9M113.71 613.7v1.9M114.40 613.7v3.0M118.92 613.7v1.9M121.56 613.7v1.9M123.43 613.7v1.9M124.88 613.7v1.9M126.07 613.7v1.9M127.08 613.7v1.9M127.95 613.7v1.9M128.71 613.7v1.9M129.40 613.7v3.0M133.92 613.7v1.9M136.56 613.7v1.9M138.43 613.7v1.9M139.88 613.7v1.9M141.07 613.7v1.9M142.08 613.7v1.9M142.95 613.7v1.9M143.71 613.7v1.9M144.40 613.7v3.0M148.92 613.7v1.9M151.56 613.7v1.9M153.43 613.7v1.9M154.88 613.7v1.9M95.9 609.30h-1.9M95.9 606.73h-1.9M95.9 604.91h-1.9M95.9 603.50h-1.9M95.9 602.34h-1.9M95.9 601.36h-1.9M95.9 600.51h-1.9M95.9 599.77h-1.9M95.9 599.10h-3.0M95.9 594.70h-1.9M95.9 592.13h-1.9M95.9 590.31h-1.9M95.9 588.90h-1.9M95.9 587.74h-1.9M95.9 586.76h-1.9M95.9 585.91h-1.9M95.9 585.17h-1.9M95.9 584.50h-3.0M95.9 580.10h-1.9M95.9 577.53h-1.9M95.9 575.71h-1.9M95.9 574.30h-1.9M95.9 573.14h-1.9M95.9 572.16h-1.9M95.9 571.31h-1.9M95.9 570.57h-1.9M95.9 569.90h-3.0M95.9 565.50h-1.9M95.9 562.93h-1.9M95.9 561.11h-1.9M95.9 559.70h-1.9M95.9 558.54h-1.9M95.9 557.56h-1.9M95.9 556.71h-1.9M95.9 555.97h-1.9M95.9 555.30h-3.0" stroke="#1a1a1a" stroke-width="0.85" fill="none"/><path d="M117.3 579.6h.9v.9h-.9zM116.3 592.3h.9v.9h-.9zM114.9 600.4h.9v.9h-.9zM117.1 571.3h.9v.9h-.9zM107.5 601.5h.9v.9h-.9zM116.8 580.0h.9v.9h-.9zM111.7 594.2h.9v.9h-.9zM117.8 573.2h.9v.9h-.9zM116.5 596.6h.9v.9h-.9zM142.0 592.8h.9v.9h-.9zM126.3 612.0h.9v.9h-.9zM152.5 599.7h.9v.9h-.9zM116.1 575.2h.9v.9h-.9zM116.8 583.2h.9v.9h-.9zM138.5 568.6h.9v.9h-.9zM115.2 597.8h.9v.9h-.9zM112.7 602.2h.9v.9h-.9zM110.1 602.1h.9v.9h-.9zM115.3 587.5h.9v.9h-.9zM115.2 574.1h.9v.9h-.9zM147.9 611.8h.9v.9h-.9zM111.4 604.4h.9v.9h-.9zM117.1 589.6h.9v.9h-.9zM146.5 599.0h.9v.9h-.9z" fill="#1a1a80" fill-opacity="0.7"/><g filter="url(#bl)"><path d="M123 566h4v1h-4zM122 567h6v1h-6zM121 568h8v1h-8zM132 568h5v1h-5zM120 569h18v1h-18zM120 570h18v1h-18zM119 571h20v1h-20zM119 572h20v1h-20zM119 573h20v1h-20zM118 574h21v1h-21zM118 575h22v1h-22zM118 576h22v1h-22zM118 577h22v1h-22zM118 578h22v1h-22zM118 579h22v1h-22zM118 580h22v1h-22zM118 581h22v1h-22zM118 582h22v1h-22zM118 583h22v1h-22zM118 584h22v1h-22zM118 585h22v1h-22zM119 586h21v1h-21zM119 587h21v1h-21zM119 588h20v1h-20zM120 589h19v1h-19zM120 590h19v1h-19zM120 591h19v1h-19zM121 592h18v1h-18zM121 593h17v1h-17zM121 594h17v1h-17zM120 595h18v1h-18zM120 596h18v1h-18zM119 597h20v1h-20zM118 598h21v1h-21zM117 599h23v1h-23zM117 600h23v1h-23zM116 601h25v1h-25zM115 602h26v1h-26zM113 603h28v1h-28zM112 604h30v1h-30zM111 605h31v1h-31zM110 606h31v1h-31zM110 607h31v1h-31zM111 608h30v1h-30zM111 609h29v1h-29zM112 610h27v1h-27zM123 611h15v1h-15z" fill="#03036a"/><path d="M123 568h4v1h-4zM122 569h6v1h-6zM121 570h8v1h-8zM121 571h8v1h-8zM120 572h10v1h-10zM120 573h10v1h-10zM120 574h10v1h-10zM120 575h10v1h-10zM120 576h10v1h-10zM134 576h3v1h-3zM119 577h12v1h-12zM134 577h4v1h-4zM119 578h12v1h-12zM133 578h5v1h-5zM119 579h12v1h-12zM133 579h5v1h-5zM120 580h10v1h-10zM133 580h5v1h-5zM120 581h10v1h-10zM133 581h5v1h-5zM120 582h10v1h-10zM133 582h5v1h-5zM120 583h10v1h-10zM134 583h3v1h-3zM120 584h10v1h-10zM135 584h2v1h-2zM121 585h8v1h-8zM121 586h8v1h-8zM122 587h6v1h-6zM123 588h4v1h-4zM125 597h11v1h-11zM124 598h13v1h-13zM122 599h16v1h-16zM121 600h18v1h-18zM121 601h19v1h-19zM120 602h20v1h-20zM120 603h20v1h-20zM120 604h21v1h-21zM120 605h21v1h-21zM120 606h21v1h-21zM121 607h19v1h-19zM121 608h19v1h-19zM122 609h17v1h-17zM124 610h14v1h-14z" fill="#140010"/><path d="M123 569h4v1h-4zM122 570h6v1h-6zM121 571h8v1h-8zM121 572h8v1h-8zM121 573h8v1h-8zM120 574h10v1h-10zM120 575h10v1h-10zM120 576h10v1h-10zM135 576h1v1h-1zM120 577h10v1h-10zM134 577h3v1h-3zM120 578h10v1h-10zM134 578h3v1h-3zM120 579h10v1h-10zM134 579h4v1h-4zM120 580h10v1h-10zM133 580h5v1h-5zM120 581h10v1h-10zM134 581h4v1h-4zM120 582h10v1h-10zM134 582h3v1h-3zM121 583h8v1h-8zM134 583h3v1h-3zM121 584h8v1h-8zM121 585h8v1h-8zM122 586h6v1h-6zM123 587h4v1h-4zM127 597h7v1h-7zM124 598h12v1h-12zM123 599h15v1h-15zM122 600h17v1h-17zM121 601h18v1h-18zM121 602h19v1h-19zM120 603h20v1h-20zM120 604h20v1h-20zM120 605h20v1h-20zM121 606h19v1h-19zM121 607h19v1h-19zM122 608h17v1h-17zM123 609h15v1h-15zM126 610h11v1h-11z" fill="#5c0000"/><path d="M124 569h2v1h-2zM123 570h4v1h-4zM122 571h6v1h-6zM121 572h8v1h-8zM121 573h8v1h-8zM121 574h8v1h-8zM121 575h8v1h-8zM120 576h10v1h-10zM120 577h10v1h-10zM135 577h1v1h-1zM120 578h10v1h-10zM134 578h3v1h-3zM120 579h10v1h-10zM134 579h3v1h-3zM120 580h10v1h-10zM134 580h3v1h-3zM121 581h8v1h-8zM134 581h3v1h-3zM121 582h8v1h-8zM134 582h3v1h-3zM121 583h8v1h-8zM121 584h8v1h-8zM122 585h6v1h-6zM123 586h4v1h-4zM124 587h2v1h-2zM129 597h3v1h-3zM125 598h11v1h-11zM124 599h13v1h-13zM123 600h15v1h-15zM122 601h17v1h-17zM121 602h18v1h-18zM121 603h19v1h-19zM121 604h19v1h-19zM121 605h19v1h-19zM121 606h19v1h-19zM122 607h17v1h-17zM122 608h17v1h-17zM124 609h14v1h-14zM133 610h2v1h-2z" fill="#a00000"/><path d="M124 570h2v1h-2zM123 571h4v1h-4zM122 572h6v1h-6zM121 573h8v1h-8zM121 574h8v1h-8zM121 575h8v1h-8zM121 576h8v1h-8zM121 577h8v1h-8zM121 578h8v1h-8zM135 578h1v1h-1zM121 579h8v1h-8zM135 579h1v1h-1zM121 580h8v1h-8zM135 580h2v1h-2zM121 581h8v1h-8zM135 581h1v1h-1zM121 582h8v1h-8zM121 583h8v1h-8zM122 584h6v1h-6zM123 585h4v1h-4zM124 586h2v1h-2zM126 598h8v1h-8zM124 599h12v1h-12zM123 600h15v1h-15zM122 601h16v1h-16zM122 602h17v1h-17zM121 603h18v1h-18zM121 604h19v1h-19zM121 605h19v1h-19zM122 606h17v1h-17zM122 607h17v1h-17zM123 608h15v1h-15zM125 609h12v1h-12z" fill="#e00000"/><path d="M123 571h4v1h-4zM123 572h4v1h-4zM122 573h6v1h-6zM122 574h6v1h-6zM121 575h8v1h-8zM121 576h8v1h-8zM121 577h8v1h-8zM121 578h8v1h-8zM121 579h8v1h-8zM121 580h8v1h-8zM121 581h8v1h-8zM122 582h6v1h-6zM122 583h6v1h-6zM123 584h4v1h-4zM123 585h4v1h-4zM128 598h4v1h-4zM125 599h11v1h-11zM124 600h13v1h-13zM123 601h15v1h-15zM122 602h17v1h-17zM122 603h17v1h-17zM122 604h17v1h-17zM122 605h17v1h-17zM122 606h17v1h-17zM123 607h16v1h-16zM124 608h14v1h-14zM126 609h10v1h-10z" fill="#ff1400"/><path d="M124 572h2v1h-2zM123 573h4v1h-4zM122 574h6v1h-6zM122 575h6v1h-6zM122 576h6v1h-6zM122 577h6v1h-6zM122 578h6v1h-6zM122 579h6v1h-6zM122 580h6v1h-6zM122 581h6v1h-6zM122 582h6v1h-6zM123 583h4v1h-4zM124 584h2v1h-2zM126 599h8v1h-8zM124 600h12v1h-12zM123 601h14v1h-14zM123 602h15v1h-15zM122 603h17v1h-17zM122 604h17v1h-17zM122 605h17v1h-17zM123 606h16v1h-16zM123 607h15v1h-15zM125 608h12v1h-12zM133 609h2v1h-2z" fill="#ff4c00"/><path d="M124 573h2v1h-2zM123 574h4v1h-4zM123 575h4v1h-4zM122 576h6v1h-6zM122 577h6v1h-6zM122 578h6v1h-6zM122 579h6v1h-6zM122 580h6v1h-6zM123 581h4v1h-4zM123 582h4v1h-4zM124 583h2v1h-2zM128 599h2v1h-2zM125 600h10v1h-10zM124 601h13v1h-13zM123 602h15v1h-15zM123 603h15v1h-15zM123 604h15v1h-15zM123 605h15v1h-15zM123 606h15v1h-15zM124 607h14v1h-14zM126 608h11v1h-11z" fill="#ff8400"/><path d="M124 574h2v1h-2zM124 575h2v1h-2zM123 576h4v1h-4zM123 577h4v1h-4zM123 578h4v1h-4zM123 579h4v1h-4zM123 580h4v1h-4zM124 581h2v1h-2zM124 582h2v1h-2zM126 600h8v1h-8zM125 601h11v1h-11zM124 602h13v1h-13zM123 603h15v1h-15zM123 604h15v1h-15zM123 605h15v1h-15zM124 606h14v1h-14zM125 607h12v1h-12zM131 608h5v1h-5z" fill="#ffb400"/><path d="M127 600h3v1h-3zM125 601h10v1h-10zM124 602h13v1h-13zM124 603h13v1h-13zM124 604h14v1h-14zM124 605h14v1h-14zM124 606h13v1h-13zM126 607h11v1h-11z" fill="#ffdc00"/><path d="M126 601h8v1h-8zM125 602h11v1h-11zM125 603h12v1h-12zM124 604h13v1h-13zM124 605h13v1h-13zM125 606h12v1h-12zM128 607h8v1h-8z" fill="#ffff2c"/><path d="M128 601h4v1h-4zM126 602h9v1h-9zM125 603h11v1h-11zM125 604h11v1h-11zM125 605h12v1h-12zM127 606h9v1h-9zM131 607h4v1h-4z" fill="#ffffa0"/></g><rect x="98.6" y="554.9" width="54.70" height="39.40" fill="none" stroke="#3c5ce6" stroke-width="1.15"/><text x="100.40" y="562.90" font-size="7.7" text-anchor="start" fill="#3050b0" stroke="#3050b0" stroke-width="0.3" textLength="24.4" lengthAdjust="spacingAndGlyphs">45.43%</text><rect x="339.1" y="552.7" width="60.70" height="61.00" fill="#fff" stroke="#555" stroke-width="0.9"/><path d="M342.60 613.7v3.0M347.12 613.7v1.9M349.76 613.7v1.9M351.63 613.7v1.9M353.08 613.7v1.9M354.27 613.7v1.9M355.28 613.7v1.9M356.15 613.7v1.9M356.91 613.7v1.9M357.60 613.7v3.0M362.12 613.7v1.9M364.76 613.7v1.9M366.63 613.7v1.9M368.08 613.7v1.9M369.27 613.7v1.9M370.28 613.7v1.9M371.15 613.7v1.9M371.91 613.7v1.9M372.60 613.7v3.0M377.12 613.7v1.9M379.76 613.7v1.9M381.63 613.7v1.9M383.08 613.7v1.9M384.27 613.7v1.9M385.28 613.7v1.9M386.15 613.7v1.9M386.91 613.7v1.9M387.60 613.7v3.0M392.12 613.7v1.9M394.76 613.7v1.9M396.63 613.7v1.9M398.08 613.7v1.9M339.1 609.30h-1.9M339.1 606.73h-1.9M339.1 604.91h-1.9M339.1 603.50h-1.9M339.1 602.34h-1.9M339.1 601.36h-1.9M339.1 600.51h-1.9M339.1 599.77h-1.9M339.1 599.10h-3.0M339.1 594.70h-1.9M339.1 592.13h-1.9M339.1 590.31h-1.9M339.1 588.90h-1.9M339.1 587.74h-1.9M339.1 586.76h-1.9M339.1 585.91h-1.9M339.1 585.17h-1.9M339.1 584.50h-3.0M339.1 580.10h-1.9M339.1 577.53h-1.9M339.1 575.71h-1.9M339.1 574.30h-1.9M339.1 573.14h-1.9M339.1 572.16h-1.9M339.1 571.31h-1.9M339.1 570.57h-1.9M339.1 569.90h-3.0M339.1 565.50h-1.9M339.1 562.93h-1.9M339.1 561.11h-1.9M339.1 559.70h-1.9M339.1 558.54h-1.9M339.1 557.56h-1.9M339.1 556.71h-1.9M339.1 555.97h-1.9M339.1 555.30h-3.0" stroke="#1a1a1a" stroke-width="0.85" fill="none"/><path d="M378.1 577.7h.9v.9h-.9zM368.5 605.6h.9v.9h-.9zM375.7 588.4h.9v.9h-.9zM368.6 590.5h.9v.9h-.9zM372.8 603.0h.9v.9h-.9zM381.5 602.9h.9v.9h-.9zM372.1 599.1h.9v.9h-.9zM373.7 576.2h.9v.9h-.9zM377.7 600.1h.9v.9h-.9zM370.3 600.7h.9v.9h-.9zM375.1 598.5h.9v.9h-.9zM369.6 585.2h.9v.9h-.9zM373.3 582.6h.9v.9h-.9zM375.5 579.5h.9v.9h-.9zM372.3 595.5h.9v.9h-.9zM375.6 582.1h.9v.9h-.9zM372.8 584.0h.9v.9h-.9zM368.7 587.9h.9v.9h-.9zM376.0 600.7h.9v.9h-.9zM371.6 610.0h.9v.9h-.9zM376.3 575.7h.9v.9h-.9zM377.6 582.8h.9v.9h-.9zM374.6 589.8h.9v.9h-.9zM374.2 577.7h.9v.9h-.9zM377.5 587.9h.9v.9h-.9zM372.9 586.7h.9v.9h-.9zM373.7 588.4h.9v.9h-.9zM378.1 579.8h.9v.9h-.9zM370.3 580.7h.9v.9h-.9zM372.9 591.1h.9v.9h-.9zM381.8 581.2h.9v.9h-.9zM376.0 591.3h.9v.9h-.9zM371.3 592.4h.9v.9h-.9zM379.0 594.5h.9v.9h-.9zM374.2 588.8h.9v.9h-.9zM372.6 591.8h.9v.9h-.9zM371.9 597.9h.9v.9h-.9zM378.3 591.3h.9v.9h-.9zM373.7 584.7h.9v.9h-.9zM372.3 594.5h.9v.9h-.9zM379.2 570.4h.9v.9h-.9zM373.2 589.3h.9v.9h-.9zM375.1 600.0h.9v.9h-.9zM368.6 586.2h.9v.9h-.9zM372.5 599.6h.9v.9h-.9zM379.6 597.2h.9v.9h-.9zM370.1 573.1h.9v.9h-.9zM373.5 584.3h.9v.9h-.9zM369.9 591.2h.9v.9h-.9zM368.1 606.0h.9v.9h-.9zM378.3 587.9h.9v.9h-.9zM368.1 599.1h.9v.9h-.9zM367.4 594.7h.9v.9h-.9zM377.3 591.4h.9v.9h-.9zM375.0 589.5h.9v.9h-.9zM378.1 595.1h.9v.9h-.9zM376.2 601.2h.9v.9h-.9zM372.6 586.0h.9v.9h-.9zM372.0 587.9h.9v.9h-.9zM379.1 579.3h.9v.9h-.9zM373.1 592.2h.9v.9h-.9zM374.3 585.7h.9v.9h-.9zM378.2 587.3h.9v.9h-.9zM378.8 606.2h.9v.9h-.9zM377.2 573.5h.9v.9h-.9zM373.1 587.3h.9v.9h-.9zM373.1 602.0h.9v.9h-.9zM376.3 585.6h.9v.9h-.9zM371.9 592.7h.9v.9h-.9zM371.8 592.0h.9v.9h-.9zM373.6 601.1h.9v.9h-.9zM376.9 589.5h.9v.9h-.9zM372.0 590.3h.9v.9h-.9zM376.0 598.9h.9v.9h-.9zM371.4 591.6h.9v.9h-.9zM370.6 581.0h.9v.9h-.9zM378.9 592.2h.9v.9h-.9zM373.5 593.2h.9v.9h-.9zM377.7 600.9h.9v.9h-.9zM370.2 579.5h.9v.9h-.9zM376.5 579.3h.9v.9h-.9zM376.8 586.3h.9v.9h-.9zM374.9 594.6h.9v.9h-.9zM372.8 599.0h.9v.9h-.9zM369.5 588.9h.9v.9h-.9zM372.5 592.2h.9v.9h-.9zM377.7 591.1h.9v.9h-.9zM373.1 588.4h.9v.9h-.9zM375.7 592.9h.9v.9h-.9zM375.0 581.8h.9v.9h-.9zM377.1 591.3h.9v.9h-.9zM369.9 596.9h.9v.9h-.9zM374.1 585.7h.9v.9h-.9zM373.6 595.4h.9v.9h-.9zM377.2 587.4h.9v.9h-.9zM369.3 584.7h.9v.9h-.9zM376.8 590.1h.9v.9h-.9zM373.2 593.8h.9v.9h-.9zM378.2 587.8h.9v.9h-.9zM375.7 586.9h.9v.9h-.9zM373.8 609.1h.9v.9h-.9zM363.4 569.4h.9v.9h-.9zM348.1 592.8h.9v.9h-.9zM366.6 569.0h.9v.9h-.9zM358.1 612.1h.9v.9h-.9zM373.8 567.4h.9v.9h-.9zM354.7 596.6h.9v.9h-.9zM354.9 570.9h.9v.9h-.9zM365.6 570.1h.9v.9h-.9zM368.7 569.3h.9v.9h-.9zM354.1 593.5h.9v.9h-.9zM366.2 611.0h.9v.9h-.9zM367.8 590.8h.9v.9h-.9z" fill="#1a1a80" fill-opacity="0.7"/><g filter="url(#bl)"><path d="M358 570h5v1h-5zM356 571h8v1h-8zM355 572h10v1h-10zM354 573h12v1h-12zM354 574h13v1h-13zM353 575h14v1h-14zM353 576h15v1h-15zM353 577h15v1h-15zM352 578h16v1h-16zM352 579h17v1h-17zM352 580h17v1h-17zM352 581h17v1h-17zM352 582h17v1h-17zM352 583h17v1h-17zM352 584h17v1h-17zM352 585h17v1h-17zM353 586h15v1h-15zM353 587h15v1h-15zM353 588h15v1h-15zM354 589h13v1h-13zM354 590h13v1h-13zM355 591h12v1h-12zM355 592h11v1h-11zM355 593h11v1h-11zM355 594h11v1h-11zM355 595h11v1h-11zM356 596h10v1h-10zM356 597h10v1h-10zM356 598h9v1h-9zM356 599h9v1h-9zM356 600h9v1h-9zM356 601h9v1h-9zM355 602h11v1h-11zM354 603h13v1h-13zM353 604h14v1h-14zM353 605h15v1h-15zM353 606h15v1h-15zM353 607h14v1h-14zM353 608h14v1h-14zM355 609h11v1h-11zM357 610h7v1h-7z" fill="#03036a"/><path d="M358 571h4v1h-4zM357 572h7v1h-7zM356 573h9v1h-9zM355 574h10v1h-10zM354 575h12v1h-12zM354 576h12v1h-12zM354 577h12v1h-12zM354 578h12v1h-12zM354 579h13v1h-13zM354 580h13v1h-13zM354 581h13v1h-13zM354 582h13v1h-13zM354 583h12v1h-12zM354 584h12v1h-12zM354 585h12v1h-12zM354 586h12v1h-12zM355 587h10v1h-10zM355 588h10v1h-10zM356 589h8v1h-8zM356 590h8v1h-8zM358 591h4v1h-4zM357 604h3v1h-3zM362 604h3v1h-3zM356 605h9v1h-9zM356 606h10v1h-10zM356 607h10v1h-10zM357 608h3v1h-3zM362 608h3v1h-3z" fill="#140010"/><path d="M357 572h6v1h-6zM356 573h8v1h-8zM356 574h9v1h-9zM355 575h10v1h-10zM355 576h11v1h-11zM354 577h12v1h-12zM354 578h12v1h-12zM354 579h12v1h-12zM354 580h12v1h-12zM354 581h12v1h-12zM354 582h12v1h-12zM354 583h12v1h-12zM354 584h12v1h-12zM355 585h10v1h-10zM355 586h10v1h-10zM355 587h10v1h-10zM356 588h8v1h-8zM357 589h6v1h-6zM358 590h4v1h-4zM358 604h1v1h-1zM363 604h1v1h-1zM357 605h8v1h-8zM356 606h9v1h-9zM357 607h8v1h-8zM357 608h3v1h-3zM362 608h2v1h-2z" fill="#5c0000"/><path d="M358 572h4v1h-4zM357 573h6v1h-6zM356 574h8v1h-8zM355 575h10v1h-10zM355 576h10v1h-10zM355 577h11v1h-11zM354 578h12v1h-12zM354 579h12v1h-12zM354 580h12v1h-12zM354 581h12v1h-12zM354 582h12v1h-12zM355 583h10v1h-10zM355 584h10v1h-10zM355 585h10v1h-10zM356 586h8v1h-8zM356 587h8v1h-8zM357 588h6v1h-6zM358 589h4v1h-4zM357 605h3v1h-3zM362 605h3v1h-3zM357 606h8v1h-8zM357 607h3v1h-3zM361 607h4v1h-4zM358 608h1v1h-1zM363 608h1v1h-1z" fill="#a00000"/><path d="M357 573h6v1h-6zM356 574h8v1h-8zM356 575h8v1h-8zM355 576h10v1h-10zM355 577h10v1h-10zM355 578h10v1h-10zM355 579h10v1h-10zM355 580h11v1h-11zM355 581h10v1h-10zM355 582h10v1h-10zM355 583h10v1h-10zM355 584h10v1h-10zM356 585h8v1h-8zM356 586h8v1h-8zM357 587h6v1h-6zM358 588h4v1h-4zM357 605h3v1h-3zM362 605h3v1h-3zM357 606h3v1h-3zM361 606h4v1h-4zM357 607h3v1h-3zM362 607h3v1h-3z" fill="#e00000"/><path d="M358 573h4v1h-4zM357 574h6v1h-6zM356 575h8v1h-8zM356 576h8v1h-8zM355 577h10v1h-10zM355 578h10v1h-10zM355 579h10v1h-10zM355 580h10v1h-10zM355 581h10v1h-10zM355 582h10v1h-10zM355 583h10v1h-10zM356 584h8v1h-8zM356 585h8v1h-8zM357 586h6v1h-6zM358 587h4v1h-4zM358 605h1v1h-1zM362 605h2v1h-2zM357 606h3v1h-3zM362 606h3v1h-3zM357 607h3v1h-3zM362 607h2v1h-2z" fill="#ff1400"/><path d="M358 574h5v1h-5zM357 575h6v1h-6zM356 576h8v1h-8zM356 577h8v1h-8zM356 578h9v1h-9zM355 579h10v1h-10zM355 580h10v1h-10zM355 581h10v1h-10zM356 582h9v1h-9zM356 583h8v1h-8zM356 584h8v1h-8zM357 585h6v1h-6zM358 586h4v1h-4zM358 606h1v1h-1zM363 606h1v1h-1z" fill="#ff4c00"/><path d="M359 574h3v1h-3zM357 575h6v1h-6zM357 576h7v1h-7zM356 577h8v1h-8zM356 578h8v1h-8zM356 579h8v1h-8zM356 580h8v1h-8zM356 581h8v1h-8zM356 582h8v1h-8zM356 583h8v1h-8zM357 584h6v1h-6zM358 585h4v1h-4z" fill="#ff8400"/><path d="M358 575h4v1h-4zM357 576h6v1h-6zM357 577h7v1h-7zM356 578h8v1h-8zM356 579h8v1h-8zM356 580h8v1h-8zM356 581h8v1h-8zM357 582h7v1h-7zM357 583h6v1h-6zM358 584h5v1h-5zM359 585h2v1h-2z" fill="#ffb400"/><path d="M359 575h2v1h-2zM358 576h5v1h-5zM357 577h6v1h-6zM357 578h6v1h-6zM357 579h7v1h-7zM357 580h7v1h-7zM357 581h7v1h-7zM357 582h6v1h-6zM357 583h6v1h-6zM358 584h4v1h-4z" fill="#ffdc00"/><path d="M358 576h4v1h-4zM358 577h5v1h-5zM357 578h6v1h-6zM357 579h6v1h-6zM357 580h6v1h-6zM357 581h6v1h-6zM357 582h6v1h-6zM358 583h4v1h-4z" fill="#ffff2c"/><path d="M359 576h2v1h-2zM358 577h4v1h-4zM358 578h5v1h-5zM357 579h6v1h-6zM357 580h6v1h-6zM357 581h6v1h-6zM358 582h4v1h-4zM359 583h2v1h-2z" fill="#ffffa0"/></g><rect x="342.2" y="558.5" width="54.20" height="42.50" fill="none" stroke="#3c5ce6" stroke-width="1.15"/><text x="344.00" y="566.50" font-size="7.7" text-anchor="start" fill="#3050b0" stroke="#3050b0" stroke-width="0.3" textLength="24.4" lengthAdjust="spacingAndGlyphs">80.96%</text><rect x="162.5" y="552.7" width="60.40" height="61.00" fill="#fff" stroke="#555" stroke-width="0.9"/><path d="M166.00 613.7v3.0M170.52 613.7v1.9M173.16 613.7v1.9M175.03 613.7v1.9M176.48 613.7v1.9M177.67 613.7v1.9M178.68 613.7v1.9M179.55 613.7v1.9M180.31 613.7v1.9M181.00 613.7v3.0M185.52 613.7v1.9M188.16 613.7v1.9M190.03 613.7v1.9M191.48 613.7v1.9M192.67 613.7v1.9M193.68 613.7v1.9M194.55 613.7v1.9M195.31 613.7v1.9M196.00 613.7v3.0M200.52 613.7v1.9M203.16 613.7v1.9M205.03 613.7v1.9M206.48 613.7v1.9M207.67 613.7v1.9M208.68 613.7v1.9M209.55 613.7v1.9M210.31 613.7v1.9M211.00 613.7v3.0M215.52 613.7v1.9M218.16 613.7v1.9M220.03 613.7v1.9M221.48 613.7v1.9M162.5 609.30h-1.9M162.5 606.73h-1.9M162.5 604.91h-1.9M162.5 603.50h-1.9M162.5 602.34h-1.9M162.5 601.36h-1.9M162.5 600.51h-1.9M162.5 599.77h-1.9M162.5 599.10h-3.0M162.5 594.70h-1.9M162.5 592.13h-1.9M162.5 590.31h-1.9M162.5 588.90h-1.9M162.5 587.74h-1.9M162.5 586.76h-1.9M162.5 585.91h-1.9M162.5 585.17h-1.9M162.5 584.50h-3.0M162.5 580.10h-1.9M162.5 577.53h-1.9M162.5 575.71h-1.9M162.5 574.30h-1.9M162.5 573.14h-1.9M162.5 572.16h-1.9M162.5 571.31h-1.9M162.5 570.57h-1.9M162.5 569.90h-3.0M162.5 565.50h-1.9M162.5 562.93h-1.9M162.5 561.11h-1.9M162.5 559.70h-1.9M162.5 558.54h-1.9M162.5 557.56h-1.9M162.5 556.71h-1.9M162.5 555.97h-1.9M162.5 555.30h-3.0" stroke="#1a1a1a" stroke-width="0.85" fill="none"/><path d="M205.0 593.0h.9v.9h-.9zM200.9 573.7h.9v.9h-.9zM195.0 579.7h.9v.9h-.9zM194.0 589.4h.9v.9h-.9zM191.8 597.4h.9v.9h-.9zM201.0 595.2h.9v.9h-.9zM195.5 591.9h.9v.9h-.9zM197.8 594.2h.9v.9h-.9zM198.1 586.4h.9v.9h-.9zM193.0 600.7h.9v.9h-.9zM201.3 596.9h.9v.9h-.9zM196.6 601.0h.9v.9h-.9zM197.3 605.9h.9v.9h-.9zM173.4 579.5h.9v.9h-.9zM204.5 597.5h.9v.9h-.9zM195.7 599.3h.9v.9h-.9zM192.5 596.3h.9v.9h-.9zM199.7 585.6h.9v.9h-.9zM196.4 598.5h.9v.9h-.9zM193.6 583.8h.9v.9h-.9zM197.4 599.1h.9v.9h-.9zM195.2 573.0h.9v.9h-.9zM194.3 594.2h.9v.9h-.9zM193.0 593.1h.9v.9h-.9zM193.7 588.4h.9v.9h-.9zM198.8 612.4h.9v.9h-.9zM198.2 590.0h.9v.9h-.9zM199.5 579.5h.9v.9h-.9zM202.9 610.4h.9v.9h-.9zM205.6 583.9h.9v.9h-.9zM193.1 577.7h.9v.9h-.9zM204.3 602.6h.9v.9h-.9zM194.4 591.1h.9v.9h-.9zM198.6 592.0h.9v.9h-.9zM195.8 589.4h.9v.9h-.9zM193.7 590.2h.9v.9h-.9zM195.9 591.9h.9v.9h-.9zM193.6 600.6h.9v.9h-.9zM196.2 581.5h.9v.9h-.9zM192.4 599.2h.9v.9h-.9zM175.4 590.0h.9v.9h-.9zM197.0 586.3h.9v.9h-.9zM199.0 597.8h.9v.9h-.9zM192.4 594.2h.9v.9h-.9zM203.5 581.1h.9v.9h-.9zM202.2 584.2h.9v.9h-.9zM191.5 591.3h.9v.9h-.9zM198.8 586.9h.9v.9h-.9zM200.0 593.4h.9v.9h-.9zM192.4 596.2h.9v.9h-.9zM195.9 591.7h.9v.9h-.9zM194.2 601.3h.9v.9h-.9zM199.5 604.4h.9v.9h-.9zM199.4 592.8h.9v.9h-.9zM204.0 590.8h.9v.9h-.9zM194.9 596.5h.9v.9h-.9zM197.5 601.1h.9v.9h-.9zM197.6 592.8h.9v.9h-.9zM203.8 582.7h.9v.9h-.9zM198.9 586.6h.9v.9h-.9zM204.8 587.8h.9v.9h-.9zM200.1 581.3h.9v.9h-.9zM199.9 596.0h.9v.9h-.9zM192.2 594.0h.9v.9h-.9zM193.3 594.3h.9v.9h-.9zM206.1 584.0h.9v.9h-.9zM199.9 596.3h.9v.9h-.9zM194.2 580.4h.9v.9h-.9zM208.0 587.7h.9v.9h-.9zM192.3 588.8h.9v.9h-.9zM195.9 582.1h.9v.9h-.9zM196.9 586.9h.9v.9h-.9zM202.6 588.6h.9v.9h-.9zM192.2 589.8h.9v.9h-.9zM199.5 589.5h.9v.9h-.9zM202.1 598.8h.9v.9h-.9zM194.6 587.8h.9v.9h-.9zM195.9 599.1h.9v.9h-.9zM191.2 564.7h.9v.9h-.9zM200.4 595.7h.9v.9h-.9zM193.7 586.0h.9v.9h-.9zM195.1 575.3h.9v.9h-.9zM200.7 597.5h.9v.9h-.9zM199.5 588.9h.9v.9h-.9zM196.3 598.7h.9v.9h-.9zM197.8 605.3h.9v.9h-.9zM199.3 592.0h.9v.9h-.9zM202.8 570.5h.9v.9h-.9zM196.1 581.4h.9v.9h-.9zM194.7 585.0h.9v.9h-.9zM203.2 594.8h.9v.9h-.9zM200.1 581.2h.9v.9h-.9zM199.8 577.3h.9v.9h-.9zM169.0 602.8h.9v.9h-.9zM195.5 555.4h.9v.9h-.9zM195.8 583.4h.9v.9h-.9zM171.2 580.6h.9v.9h-.9zM172.0 600.8h.9v.9h-.9zM170.8 597.8h.9v.9h-.9zM192.5 576.9h.9v.9h-.9zM173.1 593.4h.9v.9h-.9zM192.4 600.7h.9v.9h-.9zM176.7 574.0h.9v.9h-.9zM178.1 572.9h.9v.9h-.9zM200.4 610.9h.9v.9h-.9zM172.9 602.8h.9v.9h-.9zM175.3 596.8h.9v.9h-.9zM194.6 587.0h.9v.9h-.9z" fill="#1a1a80" fill-opacity="0.7"/><g filter="url(#bl)"><path d="M185 570h2v1h-2zM182 571h6v1h-6zM180 572h9v1h-9zM179 573h11v1h-11zM178 574h13v1h-13zM177 575h14v1h-14zM177 576h15v1h-15zM176 577h16v1h-16zM176 578h17v1h-17zM176 579h17v1h-17zM176 580h17v1h-17zM176 581h17v1h-17zM176 582h17v1h-17zM176 583h17v1h-17zM176 584h17v1h-17zM176 585h17v1h-17zM176 586h17v1h-17zM176 587h16v1h-16zM177 588h15v1h-15zM177 589h15v1h-15zM177 590h15v1h-15zM177 591h14v1h-14zM177 592h14v1h-14zM177 593h14v1h-14zM177 594h14v1h-14zM177 595h14v1h-14zM177 596h14v1h-14zM177 597h14v1h-14zM177 598h14v1h-14zM176 599h15v1h-15zM176 600h15v1h-15zM175 601h16v1h-16zM173 602h19v1h-19zM173 603h21v1h-21zM172 604h24v1h-24zM172 605h25v1h-25zM172 606h26v1h-26zM172 607h26v1h-26zM172 608h25v1h-25zM172 609h24v1h-24zM173 610h21v1h-21zM174 611h15v1h-15zM178 612h1v1h-1zM180 612h6v1h-6z" fill="#03036a"/><path d="M184 572h3v1h-3zM183 573h5v1h-5zM182 574h7v1h-7zM182 575h7v1h-7zM181 576h9v1h-9zM181 577h9v1h-9zM181 578h9v1h-9zM181 579h9v1h-9zM181 580h9v1h-9zM181 581h9v1h-9zM181 582h9v1h-9zM181 583h9v1h-9zM181 584h9v1h-9zM181 585h9v1h-9zM182 586h7v1h-7zM182 587h7v1h-7zM183 588h5v1h-5zM184 589h3v1h-3zM177 601h8v1h-8zM175 602h13v1h-13zM174 603h15v1h-15zM173 604h17v1h-17zM173 605h17v1h-17zM172 606h18v1h-18zM172 607h18v1h-18zM173 608h16v1h-16zM173 609h15v1h-15zM174 610h11v1h-11zM176 611h4v1h-4z" fill="#140010"/><path d="M184 573h3v1h-3zM183 574h5v1h-5zM182 575h7v1h-7zM182 576h7v1h-7zM182 577h8v1h-8zM181 578h9v1h-9zM181 579h9v1h-9zM181 580h9v1h-9zM181 581h9v1h-9zM181 582h9v1h-9zM181 583h9v1h-9zM182 584h8v1h-8zM182 585h7v1h-7zM182 586h7v1h-7zM183 587h5v1h-5zM184 588h3v1h-3zM175 602h12v1h-12zM174 603h14v1h-14zM173 604h16v1h-16zM173 605h16v1h-16zM173 606h16v1h-16zM173 607h16v1h-16zM173 608h15v1h-15zM174 609h13v1h-13zM175 610h7v1h-7z" fill="#5c0000"/><path d="M184 574h4v1h-4zM183 575h5v1h-5zM182 576h7v1h-7zM182 577h7v1h-7zM182 578h7v1h-7zM182 579h8v1h-8zM182 580h8v1h-8zM182 581h8v1h-8zM182 582h8v1h-8zM182 583h7v1h-7zM182 584h7v1h-7zM182 585h7v1h-7zM183 586h5v1h-5zM184 587h4v1h-4zM176 602h9v1h-9zM174 603h13v1h-13zM174 604h14v1h-14zM173 605h16v1h-16zM173 606h16v1h-16zM173 607h15v1h-15zM174 608h13v1h-13zM174 609h11v1h-11zM176 610h5v1h-5z" fill="#a00000"/><path d="M185 574h1v1h-1zM184 575h4v1h-4zM183 576h5v1h-5zM183 577h6v1h-6zM182 578h7v1h-7zM182 579h7v1h-7zM182 580h7v1h-7zM182 581h7v1h-7zM182 582h7v1h-7zM182 583h7v1h-7zM183 584h6v1h-6zM183 585h5v1h-5zM184 586h4v1h-4zM185 587h1v1h-1zM177 602h4v1h-4zM175 603h11v1h-11zM174 604h14v1h-14zM174 605h14v1h-14zM173 606h15v1h-15zM174 607h14v1h-14zM174 608h12v1h-12zM175 609h9v1h-9zM176 610h4v1h-4z" fill="#e00000"/><path d="M184 575h3v1h-3zM184 576h4v1h-4zM183 577h5v1h-5zM183 578h5v1h-5zM183 579h6v1h-6zM182 580h7v1h-7zM182 581h7v1h-7zM183 582h6v1h-6zM183 583h5v1h-5zM183 584h5v1h-5zM184 585h4v1h-4zM184 586h3v1h-3zM175 603h10v1h-10zM174 604h13v1h-13zM174 605h13v1h-13zM174 606h13v1h-13zM174 607h13v1h-13zM174 608h11v1h-11zM175 609h7v1h-7zM177 610h2v1h-2z" fill="#ff1400"/><path d="M185 576h1v1h-1zM184 577h3v1h-3zM183 578h5v1h-5zM183 579h5v1h-5zM183 580h5v1h-5zM183 581h5v1h-5zM183 582h5v1h-5zM183 583h5v1h-5zM184 584h3v1h-3zM185 585h1v1h-1zM176 603h6v1h-6zM175 604h10v1h-10zM174 605h12v1h-12zM174 606h12v1h-12zM174 607h11v1h-11zM175 608h9v1h-9zM176 609h5v1h-5z" fill="#ff4c00"/><path d="M185 578h2v1h-2zM184 579h3v1h-3zM184 580h3v1h-3zM184 581h3v1h-3zM184 582h3v1h-3zM185 583h2v1h-2zM177 603h4v1h-4zM175 604h8v1h-8zM175 605h9v1h-9zM175 606h9v1h-9zM175 607h9v1h-9zM175 608h8v1h-8zM176 609h4v1h-4z" fill="#ff8400"/><path d="M176 604h6v1h-6zM175 605h8v1h-8zM175 606h8v1h-8zM175 607h8v1h-8zM176 608h6v1h-6zM178 609h1v1h-1z" fill="#ffb400"/><path d="M176 604h6v1h-6zM176 605h6v1h-6zM175 606h8v1h-8zM175 607h7v1h-7zM176 608h5v1h-5z" fill="#ffdc00"/><path d="M177 604h4v1h-4zM176 605h6v1h-6zM176 606h6v1h-6zM176 607h6v1h-6zM177 608h3v1h-3z" fill="#ffff2c"/><path d="M177 605h4v1h-4zM176 606h6v1h-6zM177 607h4v1h-4z" fill="#ffffa0"/></g><rect x="165.0" y="555.0" width="54.40" height="39.50" fill="none" stroke="#3c5ce6" stroke-width="1.15"/><text x="166.80" y="563.00" font-size="7.7" text-anchor="start" fill="#3050b0" stroke="#3050b0" stroke-width="0.3" textLength="24.4" lengthAdjust="spacingAndGlyphs">48.87%</text><rect x="405.3" y="552.7" width="60.50" height="61.00" fill="#fff" stroke="#555" stroke-width="0.9"/><path d="M408.80 613.7v3.0M413.32 613.7v1.9M415.96 613.7v1.9M417.83 613.7v1.9M419.28 613.7v1.9M420.47 613.7v1.9M421.48 613.7v1.9M422.35 613.7v1.9M423.11 613.7v1.9M423.80 613.7v3.0M428.32 613.7v1.9M430.96 613.7v1.9M432.83 613.7v1.9M434.28 613.7v1.9M435.47 613.7v1.9M436.48 613.7v1.9M437.35 613.7v1.9M438.11 613.7v1.9M438.80 613.7v3.0M443.32 613.7v1.9M445.96 613.7v1.9M447.83 613.7v1.9M449.28 613.7v1.9M450.47 613.7v1.9M451.48 613.7v1.9M452.35 613.7v1.9M453.11 613.7v1.9M453.80 613.7v3.0M458.32 613.7v1.9M460.96 613.7v1.9M462.83 613.7v1.9M464.28 613.7v1.9M405.3 609.30h-1.9M405.3 606.73h-1.9M405.3 604.91h-1.9M405.3 603.50h-1.9M405.3 602.34h-1.9M405.3 601.36h-1.9M405.3 600.51h-1.9M405.3 599.77h-1.9M405.3 599.10h-3.0M405.3 594.70h-1.9M405.3 592.13h-1.9M405.3 590.31h-1.9M405.3 588.90h-1.9M405.3 587.74h-1.9M405.3 586.76h-1.9M405.3 585.91h-1.9M405.3 585.17h-1.9M405.3 584.50h-3.0M405.3 580.10h-1.9M405.3 577.53h-1.9M405.3 575.71h-1.9M405.3 574.30h-1.9M405.3 573.14h-1.9M405.3 572.16h-1.9M405.3 571.31h-1.9M405.3 570.57h-1.9M405.3 569.90h-3.0M405.3 565.50h-1.9M405.3 562.93h-1.9M405.3 561.11h-1.9M405.3 559.70h-1.9M405.3 558.54h-1.9M405.3 557.56h-1.9M405.3 556.71h-1.9M405.3 555.97h-1.9M405.3 555.30h-3.0" stroke="#1a1a1a" stroke-width="0.85" fill="none"/><path d="M433.8 602.4h.9v.9h-.9zM433.0 575.2h.9v.9h-.9zM446.0 584.3h.9v.9h-.9zM445.0 578.3h.9v.9h-.9zM437.8 580.5h.9v.9h-.9zM445.4 605.4h.9v.9h-.9zM441.0 575.9h.9v.9h-.9zM440.0 600.3h.9v.9h-.9zM438.6 599.0h.9v.9h-.9zM439.1 595.0h.9v.9h-.9zM444.7 565.7h.9v.9h-.9zM434.4 585.2h.9v.9h-.9zM432.1 599.4h.9v.9h-.9zM439.6 594.6h.9v.9h-.9zM441.2 597.6h.9v.9h-.9zM443.1 585.7h.9v.9h-.9zM441.0 593.1h.9v.9h-.9zM440.7 594.6h.9v.9h-.9zM441.3 590.1h.9v.9h-.9zM433.5 583.5h.9v.9h-.9zM434.1 590.2h.9v.9h-.9zM442.6 582.9h.9v.9h-.9zM440.0 592.9h.9v.9h-.9zM433.2 594.8h.9v.9h-.9zM432.6 575.7h.9v.9h-.9zM443.1 597.0h.9v.9h-.9zM433.9 611.2h.9v.9h-.9zM438.3 586.9h.9v.9h-.9zM434.5 596.3h.9v.9h-.9zM439.0 592.8h.9v.9h-.9zM438.6 574.1h.9v.9h-.9zM443.5 585.7h.9v.9h-.9zM435.0 581.9h.9v.9h-.9zM437.1 583.8h.9v.9h-.9zM439.2 598.0h.9v.9h-.9zM436.5 579.3h.9v.9h-.9zM442.6 586.4h.9v.9h-.9zM434.5 584.5h.9v.9h-.9zM432.8 593.9h.9v.9h-.9zM436.1 600.6h.9v.9h-.9zM447.4 611.7h.9v.9h-.9zM433.4 588.3h.9v.9h-.9zM435.2 579.5h.9v.9h-.9zM437.9 585.4h.9v.9h-.9zM438.4 597.7h.9v.9h-.9zM439.7 588.7h.9v.9h-.9zM440.9 597.9h.9v.9h-.9zM439.6 586.7h.9v.9h-.9zM430.1 599.3h.9v.9h-.9zM433.8 591.0h.9v.9h-.9zM441.9 586.3h.9v.9h-.9zM437.1 596.8h.9v.9h-.9zM436.0 570.8h.9v.9h-.9zM443.9 582.6h.9v.9h-.9zM433.9 589.9h.9v.9h-.9zM443.6 593.6h.9v.9h-.9zM442.0 595.5h.9v.9h-.9zM438.1 598.4h.9v.9h-.9zM436.1 572.9h.9v.9h-.9zM439.2 575.8h.9v.9h-.9zM447.3 573.2h.9v.9h-.9zM434.4 592.2h.9v.9h-.9zM437.0 580.8h.9v.9h-.9zM444.9 599.3h.9v.9h-.9zM437.1 580.7h.9v.9h-.9zM442.0 591.2h.9v.9h-.9zM444.5 578.8h.9v.9h-.9zM439.5 586.3h.9v.9h-.9zM438.9 582.1h.9v.9h-.9zM432.9 591.2h.9v.9h-.9zM434.7 592.9h.9v.9h-.9zM438.9 591.2h.9v.9h-.9zM436.6 588.4h.9v.9h-.9zM441.9 583.5h.9v.9h-.9zM437.1 597.7h.9v.9h-.9zM438.0 601.1h.9v.9h-.9zM447.5 579.1h.9v.9h-.9zM440.7 597.0h.9v.9h-.9zM443.4 578.7h.9v.9h-.9zM439.5 598.8h.9v.9h-.9zM438.9 577.2h.9v.9h-.9zM438.4 589.5h.9v.9h-.9zM445.8 594.2h.9v.9h-.9zM439.2 594.0h.9v.9h-.9zM434.5 581.9h.9v.9h-.9zM448.3 583.4h.9v.9h-.9zM448.4 584.1h.9v.9h-.9zM437.4 593.9h.9v.9h-.9zM440.1 581.9h.9v.9h-.9zM441.0 584.9h.9v.9h-.9zM444.8 579.7h.9v.9h-.9zM435.7 584.3h.9v.9h-.9zM437.1 584.3h.9v.9h-.9zM440.3 595.9h.9v.9h-.9zM438.7 584.6h.9v.9h-.9zM434.3 590.8h.9v.9h-.9zM434.7 599.8h.9v.9h-.9zM444.4 589.8h.9v.9h-.9zM435.3 592.1h.9v.9h-.9zM439.9 598.1h.9v.9h-.9zM436.0 591.6h.9v.9h-.9zM436.9 585.4h.9v.9h-.9zM443.3 578.0h.9v.9h-.9zM437.4 590.2h.9v.9h-.9zM436.9 598.0h.9v.9h-.9zM433.8 587.2h.9v.9h-.9zM437.2 578.4h.9v.9h-.9zM438.8 580.6h.9v.9h-.9zM438.7 591.0h.9v.9h-.9zM435.3 595.1h.9v.9h-.9zM450.1 580.4h.9v.9h-.9zM440.2 596.6h.9v.9h-.9zM439.0 581.9h.9v.9h-.9zM435.2 576.3h.9v.9h-.9zM435.0 578.8h.9v.9h-.9zM433.5 587.7h.9v.9h-.9zM442.5 592.5h.9v.9h-.9zM435.6 582.9h.9v.9h-.9zM429.2 567.3h.9v.9h-.9zM420.4 558.6h.9v.9h-.9zM432.6 575.0h.9v.9h-.9zM414.7 607.8h.9v.9h-.9zM409.8 580.3h.9v.9h-.9zM435.0 581.5h.9v.9h-.9zM423.7 562.3h.9v.9h-.9zM414.5 566.2h.9v.9h-.9zM434.1 603.0h.9v.9h-.9zM434.7 579.3h.9v.9h-.9zM434.7 579.1h.9v.9h-.9zM415.0 576.1h.9v.9h-.9zM417.0 611.5h.9v.9h-.9z" fill="#1a1a80" fill-opacity="0.7"/><g filter="url(#bl)"><path d="M420 571h8v1h-8zM418 572h12v1h-12zM417 573h14v1h-14zM417 574h15v1h-15zM416 575h16v1h-16zM416 576h17v1h-17zM416 577h17v1h-17zM415 578h18v1h-18zM415 579h18v1h-18zM415 580h19v1h-19zM415 581h19v1h-19zM415 582h19v1h-19zM415 583h18v1h-18zM415 584h18v1h-18zM416 585h17v1h-17zM416 586h17v1h-17zM416 587h17v1h-17zM417 588h15v1h-15zM417 589h15v1h-15zM417 590h15v1h-15zM418 591h14v1h-14zM418 592h14v1h-14zM418 593h14v1h-14zM418 594h14v1h-14zM419 595h12v1h-12zM419 596h12v1h-12zM419 597h12v1h-12zM420 598h10v1h-10zM420 599h10v1h-10zM421 600h9v1h-9zM420 601h10v1h-10zM420 602h11v1h-11zM419 603h16v1h-16zM419 604h18v1h-18zM418 605h20v1h-20zM418 606h20v1h-20zM418 607h20v1h-20zM419 608h19v1h-19zM419 609h18v1h-18zM421 610h13v1h-13zM424 611h3v1h-3z" fill="#03036a"/><path d="M420 572h4v1h-4zM419 573h7v1h-7zM418 574h9v1h-9zM417 575h11v1h-11zM417 576h11v1h-11zM417 577h11v1h-11zM416 578h13v1h-13zM416 579h13v1h-13zM416 580h13v1h-13zM416 581h13v1h-13zM416 582h14v1h-14zM416 583h14v1h-14zM416 584h14v1h-14zM417 585h13v1h-13zM417 586h12v1h-12zM417 587h12v1h-12zM418 588h11v1h-11zM418 589h11v1h-11zM419 590h9v1h-9zM420 591h8v1h-8zM421 592h6v1h-6zM420 604h4v1h-4zM419 605h6v1h-6zM419 606h7v1h-7zM419 607h7v1h-7zM420 608h5v1h-5z" fill="#140010"/><path d="M420 573h5v1h-5zM419 574h7v1h-7zM418 575h9v1h-9zM417 576h11v1h-11zM417 577h11v1h-11zM417 578h11v1h-11zM417 579h12v1h-12zM416 580h13v1h-13zM416 581h13v1h-13zM417 582h12v1h-12zM417 583h12v1h-12zM417 584h12v1h-12zM417 585h12v1h-12zM417 586h12v1h-12zM418 587h11v1h-11zM418 588h10v1h-10zM419 589h9v1h-9zM420 590h7v1h-7zM421 591h5v1h-5zM421 604h3v1h-3zM420 605h5v1h-5zM419 606h6v1h-6zM420 607h5v1h-5zM421 608h3v1h-3z" fill="#5c0000"/><path d="M421 573h3v1h-3zM419 574h7v1h-7zM418 575h8v1h-8zM418 576h9v1h-9zM417 577h11v1h-11zM417 578h11v1h-11zM417 579h11v1h-11zM417 580h11v1h-11zM417 581h12v1h-12zM417 582h12v1h-12zM417 583h12v1h-12zM417 584h12v1h-12zM417 585h11v1h-11zM418 586h10v1h-10zM418 587h10v1h-10zM419 588h8v1h-8zM420 589h7v1h-7zM421 590h5v1h-5zM420 605h5v1h-5zM420 606h5v1h-5zM420 607h5v1h-5zM421 608h2v1h-2z" fill="#a00000"/><path d="M420 574h5v1h-5zM419 575h7v1h-7zM418 576h9v1h-9zM418 577h9v1h-9zM418 578h10v1h-10zM417 579h11v1h-11zM417 580h11v1h-11zM417 581h11v1h-11zM417 582h11v1h-11zM417 583h11v1h-11zM418 584h10v1h-10zM418 585h10v1h-10zM418 586h10v1h-10zM419 587h8v1h-8zM420 588h7v1h-7zM421 589h5v1h-5zM421 605h3v1h-3zM420 606h5v1h-5zM421 607h3v1h-3z" fill="#e00000"/><path d="M421 574h3v1h-3zM420 575h5v1h-5zM419 576h7v1h-7zM418 577h9v1h-9zM418 578h9v1h-9zM418 579h9v1h-9zM418 580h10v1h-10zM417 581h11v1h-11zM418 582h10v1h-10zM418 583h10v1h-10zM418 584h10v1h-10zM418 585h9v1h-9zM419 586h8v1h-8zM419 587h7v1h-7zM420 588h6v1h-6zM422 589h2v1h-2zM422 605h1v1h-1zM421 606h3v1h-3zM421 607h3v1h-3z" fill="#ff1400"/><path d="M420 575h5v1h-5zM419 576h7v1h-7zM419 577h7v1h-7zM418 578h9v1h-9zM418 579h9v1h-9zM418 580h9v1h-9zM418 581h9v1h-9zM418 582h9v1h-9zM418 583h9v1h-9zM418 584h9v1h-9zM419 585h8v1h-8zM419 586h7v1h-7zM420 587h6v1h-6zM421 588h3v1h-3z" fill="#ff4c00"/><path d="M421 575h3v1h-3zM420 576h5v1h-5zM419 577h7v1h-7zM419 578h7v1h-7zM418 579h9v1h-9zM418 580h9v1h-9zM418 581h9v1h-9zM418 582h9v1h-9zM419 583h8v1h-8zM419 584h8v1h-8zM419 585h7v1h-7zM420 586h6v1h-6zM421 587h4v1h-4z" fill="#ff8400"/><path d="M421 576h3v1h-3zM420 577h5v1h-5zM419 578h7v1h-7zM419 579h7v1h-7zM419 580h7v1h-7zM419 581h8v1h-8zM419 582h8v1h-8zM419 583h7v1h-7zM419 584h7v1h-7zM420 585h6v1h-6zM421 586h4v1h-4z" fill="#ffb400"/><path d="M422 576h1v1h-1zM420 577h5v1h-5zM420 578h5v1h-5zM419 579h7v1h-7zM419 580h7v1h-7zM419 581h7v1h-7zM419 582h7v1h-7zM419 583h7v1h-7zM420 584h6v1h-6zM420 585h5v1h-5zM421 586h3v1h-3z" fill="#ffdc00"/><path d="M421 577h3v1h-3zM420 578h5v1h-5zM420 579h5v1h-5zM420 580h6v1h-6zM419 581h7v1h-7zM420 582h6v1h-6zM420 583h6v1h-6zM420 584h5v1h-5zM421 585h3v1h-3z" fill="#ffff2c"/><path d="M421 578h3v1h-3zM420 579h5v1h-5zM420 580h5v1h-5zM420 581h5v1h-5zM420 582h5v1h-5zM420 583h5v1h-5zM421 584h4v1h-4zM422 585h1v1h-1z" fill="#ffffa0"/></g><rect x="408.6" y="558.2" width="54.60" height="42.20" fill="none" stroke="#3c5ce6" stroke-width="1.15"/><text x="410.40" y="566.20" font-size="7.7" text-anchor="start" fill="#3050b0" stroke="#3050b0" stroke-width="0.3" textLength="24.4" lengthAdjust="spacingAndGlyphs">82.91%</text><rect x="29.8" y="619.9" width="60.70" height="61.10" fill="#fff" stroke="#555" stroke-width="0.9"/><path d="M33.30 681.0v3.0M37.82 681.0v1.9M40.46 681.0v1.9M42.33 681.0v1.9M43.78 681.0v1.9M44.97 681.0v1.9M45.98 681.0v1.9M46.85 681.0v1.9M47.61 681.0v1.9M48.30 681.0v3.0M52.82 681.0v1.9M55.46 681.0v1.9M57.33 681.0v1.9M58.78 681.0v1.9M59.97 681.0v1.9M60.98 681.0v1.9M61.85 681.0v1.9M62.61 681.0v1.9M63.30 681.0v3.0M67.82 681.0v1.9M70.46 681.0v1.9M72.33 681.0v1.9M73.78 681.0v1.9M74.97 681.0v1.9M75.98 681.0v1.9M76.85 681.0v1.9M77.61 681.0v1.9M78.30 681.0v3.0M82.82 681.0v1.9M85.46 681.0v1.9M87.33 681.0v1.9M88.78 681.0v1.9M29.8 676.60h-1.9M29.8 674.03h-1.9M29.8 672.21h-1.9M29.8 670.80h-1.9M29.8 669.64h-1.9M29.8 668.66h-1.9M29.8 667.81h-1.9M29.8 667.07h-1.9M29.8 666.40h-3.0M29.8 662.00h-1.9M29.8 659.43h-1.9M29.8 657.61h-1.9M29.8 656.20h-1.9M29.8 655.04h-1.9M29.8 654.06h-1.9M29.8 653.21h-1.9M29.8 652.47h-1.9M29.8 651.80h-3.0M29.8 647.40h-1.9M29.8 644.83h-1.9M29.8 643.01h-1.9M29.8 641.60h-1.9M29.8 640.44h-1.9M29.8 639.46h-1.9M29.8 638.61h-1.9M29.8 637.87h-1.9M29.8 637.20h-3.0M29.8 632.80h-1.9M29.8 630.23h-1.9M29.8 628.41h-1.9M29.8 627.00h-1.9M29.8 625.84h-1.9M29.8 624.86h-1.9M29.8 624.01h-1.9M29.8 623.27h-1.9M29.8 622.60h-3.0" stroke="#1a1a1a" stroke-width="0.85" fill="none"/><path d="M61.1 660.5h.9v.9h-.9zM61.8 643.1h.9v.9h-.9zM45.1 652.3h.9v.9h-.9zM53.1 631.3h.9v.9h-.9zM63.6 648.9h.9v.9h-.9zM64.8 662.7h.9v.9h-.9zM48.1 637.3h.9v.9h-.9zM66.0 662.6h.9v.9h-.9zM47.9 635.8h.9v.9h-.9zM45.4 660.1h.9v.9h-.9zM56.6 628.3h.9v.9h-.9zM43.0 648.4h.9v.9h-.9zM48.1 630.1h.9v.9h-.9zM60.1 637.4h.9v.9h-.9zM65.4 646.7h.9v.9h-.9zM44.5 641.9h.9v.9h-.9zM67.9 652.9h.9v.9h-.9zM62.4 645.7h.9v.9h-.9zM43.5 639.6h.9v.9h-.9zM62.4 650.0h.9v.9h-.9zM44.9 647.3h.9v.9h-.9zM64.1 652.7h.9v.9h-.9zM54.6 630.5h.9v.9h-.9zM68.3 653.7h.9v.9h-.9zM65.5 647.2h.9v.9h-.9zM40.2 653.4h.9v.9h-.9zM46.1 632.3h.9v.9h-.9zM65.4 650.8h.9v.9h-.9zM64.0 639.8h.9v.9h-.9zM64.7 660.2h.9v.9h-.9zM40.6 655.0h.9v.9h-.9zM58.3 637.4h.9v.9h-.9zM62.5 651.9h.9v.9h-.9zM40.2 638.8h.9v.9h-.9zM65.4 647.1h.9v.9h-.9zM44.7 652.0h.9v.9h-.9zM54.9 630.4h.9v.9h-.9zM42.1 635.6h.9v.9h-.9zM63.9 649.1h.9v.9h-.9zM46.0 657.8h.9v.9h-.9zM53.8 628.9h.9v.9h-.9zM43.8 657.3h.9v.9h-.9zM42.0 646.9h.9v.9h-.9zM35.5 631.8h.9v.9h-.9zM53.9 629.1h.9v.9h-.9zM62.1 662.0h.9v.9h-.9zM41.2 646.4h.9v.9h-.9zM49.6 632.8h.9v.9h-.9zM63.2 635.2h.9v.9h-.9zM61.9 637.8h.9v.9h-.9zM62.3 644.6h.9v.9h-.9zM42.4 654.5h.9v.9h-.9zM39.7 663.7h.9v.9h-.9zM62.1 635.2h.9v.9h-.9zM65.9 650.5h.9v.9h-.9zM68.6 647.4h.9v.9h-.9zM42.9 649.1h.9v.9h-.9zM62.3 644.0h.9v.9h-.9zM45.2 640.9h.9v.9h-.9zM63.1 655.6h.9v.9h-.9zM45.6 649.4h.9v.9h-.9zM63.0 649.7h.9v.9h-.9zM41.6 652.1h.9v.9h-.9zM53.0 635.6h.9v.9h-.9zM43.1 654.4h.9v.9h-.9zM44.5 650.0h.9v.9h-.9zM40.8 669.9h.9v.9h-.9zM45.2 650.6h.9v.9h-.9zM63.3 644.4h.9v.9h-.9zM43.3 657.0h.9v.9h-.9zM45.0 657.1h.9v.9h-.9zM72.1 638.2h.9v.9h-.9zM63.9 634.8h.9v.9h-.9zM45.1 653.3h.9v.9h-.9zM66.5 649.7h.9v.9h-.9zM43.3 651.4h.9v.9h-.9zM43.2 664.2h.9v.9h-.9zM45.4 647.8h.9v.9h-.9zM44.6 651.6h.9v.9h-.9zM47.5 637.0h.9v.9h-.9zM61.4 655.0h.9v.9h-.9zM37.3 657.4h.9v.9h-.9zM40.3 639.3h.9v.9h-.9zM37.6 658.5h.9v.9h-.9zM57.1 637.9h.9v.9h-.9zM49.0 637.7h.9v.9h-.9zM55.9 624.8h.9v.9h-.9zM54.1 634.1h.9v.9h-.9zM66.7 647.0h.9v.9h-.9zM58.0 636.1h.9v.9h-.9zM66.8 635.8h.9v.9h-.9zM63.8 632.3h.9v.9h-.9zM38.5 642.9h.9v.9h-.9zM42.0 652.6h.9v.9h-.9zM66.7 653.6h.9v.9h-.9zM45.2 638.7h.9v.9h-.9zM39.4 653.9h.9v.9h-.9zM68.0 648.2h.9v.9h-.9zM55.3 629.7h.9v.9h-.9zM60.9 638.7h.9v.9h-.9zM58.1 637.7h.9v.9h-.9zM42.4 647.3h.9v.9h-.9zM62.3 679.5h.9v.9h-.9zM61.1 678.1h.9v.9h-.9zM55.0 631.7h.9v.9h-.9zM45.5 645.5h.9v.9h-.9zM42.2 652.3h.9v.9h-.9zM67.2 677.0h.9v.9h-.9zM47.8 636.7h.9v.9h-.9zM46.1 640.8h.9v.9h-.9zM56.2 635.9h.9v.9h-.9zM73.3 671.2h.9v.9h-.9zM61.9 643.8h.9v.9h-.9zM72.3 671.9h.9v.9h-.9zM60.6 640.4h.9v.9h-.9zM39.4 668.4h.9v.9h-.9zM64.5 651.2h.9v.9h-.9zM67.2 668.5h.9v.9h-.9zM49.4 637.3h.9v.9h-.9zM38.5 647.9h.9v.9h-.9zM62.3 658.0h.9v.9h-.9zM38.6 667.6h.9v.9h-.9zM48.9 634.2h.9v.9h-.9zM42.5 651.2h.9v.9h-.9zM44.3 654.5h.9v.9h-.9zM34.3 674.9h.9v.9h-.9zM51.4 635.1h.9v.9h-.9zM58.3 637.1h.9v.9h-.9zM63.7 667.8h.9v.9h-.9zM31.0 675.6h.9v.9h-.9zM45.3 658.5h.9v.9h-.9zM43.8 666.7h.9v.9h-.9zM57.3 631.4h.9v.9h-.9zM61.7 662.6h.9v.9h-.9zM64.0 644.1h.9v.9h-.9zM41.8 640.5h.9v.9h-.9zM67.8 675.3h.9v.9h-.9zM37.4 672.0h.9v.9h-.9zM69.1 676.5h.9v.9h-.9zM38.4 676.0h.9v.9h-.9zM44.5 646.0h.9v.9h-.9zM73.0 670.6h.9v.9h-.9zM44.4 638.7h.9v.9h-.9zM64.5 660.1h.9v.9h-.9zM66.9 675.2h.9v.9h-.9zM61.7 679.2h.9v.9h-.9zM45.6 663.3h.9v.9h-.9zM61.0 637.5h.9v.9h-.9zM43.2 637.6h.9v.9h-.9zM42.6 662.7h.9v.9h-.9zM55.8 634.2h.9v.9h-.9zM64.3 639.2h.9v.9h-.9zM39.7 664.5h.9v.9h-.9zM62.3 627.8h.9v.9h-.9zM44.9 644.6h.9v.9h-.9zM35.2 675.4h.9v.9h-.9zM67.5 672.0h.9v.9h-.9zM64.8 665.6h.9v.9h-.9zM52.0 636.8h.9v.9h-.9zM48.4 679.1h.9v.9h-.9zM67.2 678.4h.9v.9h-.9zM64.8 630.5h.9v.9h-.9zM61.3 659.0h.9v.9h-.9zM62.4 658.3h.9v.9h-.9zM45.2 655.4h.9v.9h-.9zM65.5 638.0h.9v.9h-.9zM67.0 674.1h.9v.9h-.9zM76.5 663.6h.9v.9h-.9zM63.7 665.9h.9v.9h-.9zM63.2 658.6h.9v.9h-.9zM69.0 661.9h.9v.9h-.9zM64.1 677.9h.9v.9h-.9zM57.1 637.8h.9v.9h-.9zM68.4 672.7h.9v.9h-.9zM48.7 679.4h.9v.9h-.9zM67.4 673.0h.9v.9h-.9zM41.1 669.1h.9v.9h-.9zM62.7 662.9h.9v.9h-.9zM62.2 649.9h.9v.9h-.9zM39.5 678.7h.9v.9h-.9zM47.2 679.5h.9v.9h-.9zM64.2 639.3h.9v.9h-.9zM45.9 655.2h.9v.9h-.9zM46.6 627.8h.9v.9h-.9zM73.3 668.3h.9v.9h-.9zM43.4 661.2h.9v.9h-.9zM41.2 656.1h.9v.9h-.9zM63.9 644.7h.9v.9h-.9zM70.1 673.9h.9v.9h-.9zM45.5 663.4h.9v.9h-.9zM67.3 640.0h.9v.9h-.9zM68.8 669.5h.9v.9h-.9zM42.8 667.8h.9v.9h-.9zM62.4 652.7h.9v.9h-.9zM43.9 678.5h.9v.9h-.9zM54.7 623.8h.9v.9h-.9zM55.1 632.5h.9v.9h-.9zM43.5 633.5h.9v.9h-.9zM67.3 642.4h.9v.9h-.9zM46.8 638.0h.9v.9h-.9zM74.5 674.1h.9v.9h-.9zM56.1 634.1h.9v.9h-.9zM69.5 669.2h.9v.9h-.9zM45.6 660.9h.9v.9h-.9zM38.6 667.3h.9v.9h-.9zM31.4 675.8h.9v.9h-.9zM64.5 679.4h.9v.9h-.9zM52.2 630.4h.9v.9h-.9zM66.1 648.6h.9v.9h-.9zM43.5 666.0h.9v.9h-.9zM49.2 679.4h.9v.9h-.9zM64.1 663.6h.9v.9h-.9zM65.3 668.5h.9v.9h-.9zM55.3 631.5h.9v.9h-.9zM40.7 667.0h.9v.9h-.9zM64.9 668.5h.9v.9h-.9zM41.2 643.9h.9v.9h-.9zM70.7 655.6h.9v.9h-.9zM50.9 626.5h.9v.9h-.9zM46.0 656.5h.9v.9h-.9zM62.8 679.3h.9v.9h-.9zM37.0 635.5h.9v.9h-.9zM37.4 652.1h.9v.9h-.9zM45.2 650.4h.9v.9h-.9zM69.7 671.9h.9v.9h-.9zM47.0 679.3h.9v.9h-.9zM63.9 642.5h.9v.9h-.9zM67.4 670.7h.9v.9h-.9zM53.0 628.5h.9v.9h-.9zM66.1 642.9h.9v.9h-.9zM40.3 644.9h.9v.9h-.9zM69.3 668.8h.9v.9h-.9zM79.5 669.4h.9v.9h-.9zM40.9 647.6h.9v.9h-.9zM62.9 658.2h.9v.9h-.9zM41.1 653.0h.9v.9h-.9zM64.0 664.5h.9v.9h-.9zM66.5 674.3h.9v.9h-.9zM70.0 679.4h.9v.9h-.9zM57.3 628.0h.9v.9h-.9zM62.3 645.5h.9v.9h-.9zM37.2 670.9h.9v.9h-.9zM42.7 642.2h.9v.9h-.9zM36.8 679.7h.9v.9h-.9zM45.4 657.4h.9v.9h-.9zM59.2 635.8h.9v.9h-.9zM31.1 669.7h.9v.9h-.9zM69.8 677.5h.9v.9h-.9zM42.8 647.1h.9v.9h-.9zM44.9 666.8h.9v.9h-.9z" fill="#1a1a80" fill-opacity="0.7"/><g filter="url(#bl)"><path d="M51 637h6v1h-6zM49 638h10v1h-10zM48 639h11v1h-11zM48 640h12v1h-12zM47 641h14v1h-14zM47 642h14v1h-14zM46 643h15v1h-15zM46 644h16v1h-16zM46 645h16v1h-16zM46 646h16v1h-16zM46 647h16v1h-16zM45 648h17v1h-17zM46 649h16v1h-16zM46 650h16v1h-16zM46 651h16v1h-16zM46 652h16v1h-16zM46 653h16v1h-16zM46 654h16v1h-16zM46 655h15v1h-15zM46 656h15v1h-15zM46 657h15v1h-15zM46 658h15v1h-15zM46 659h15v1h-15zM46 660h15v1h-15zM46 661h15v1h-15zM46 662h15v1h-15zM46 663h16v1h-16zM45 664h17v1h-17zM45 665h17v1h-17zM45 666h17v1h-17zM44 667h19v1h-19zM43 668h21v1h-21zM42 669h23v1h-23zM41 670h24v1h-24zM41 671h25v1h-25zM41 672h25v1h-25zM41 673h25v1h-25zM41 674h24v1h-24zM42 675h23v1h-23zM43 676h21v1h-21zM44 677h18v1h-18zM46 678h14v1h-14zM51 679h5v1h-5z" fill="#03036a"/><path d="M52 639h3v1h-3zM51 640h5v1h-5zM51 641h6v1h-6zM50 642h7v1h-7zM50 643h8v1h-8zM49 644h9v1h-9zM49 645h9v1h-9zM49 646h9v1h-9zM49 647h9v1h-9zM49 648h9v1h-9zM49 649h9v1h-9zM49 650h9v1h-9zM49 651h9v1h-9zM49 652h9v1h-9zM50 653h8v1h-8zM50 654h7v1h-7zM50 655h7v1h-7zM51 656h5v1h-5zM52 657h3v1h-3zM46 669h14v1h-14zM45 670h17v1h-17zM44 671h18v1h-18zM43 672h20v1h-20zM43 673h20v1h-20zM43 674h19v1h-19zM43 675h19v1h-19zM44 676h16v1h-16zM46 677h11v1h-11zM49 678h3v1h-3z" fill="#140010"/><path d="M52 640h3v1h-3zM51 641h5v1h-5zM51 642h6v1h-6zM50 643h7v1h-7zM50 644h7v1h-7zM50 645h7v1h-7zM50 646h8v1h-8zM50 647h8v1h-8zM49 648h9v1h-9zM49 649h9v1h-9zM50 650h8v1h-8zM50 651h7v1h-7zM50 652h7v1h-7zM50 653h7v1h-7zM51 654h6v1h-6zM51 655h5v1h-5zM52 656h3v1h-3zM47 669h12v1h-12zM45 670h16v1h-16zM44 671h18v1h-18zM44 672h18v1h-18zM43 673h19v1h-19zM44 674h18v1h-18zM44 675h17v1h-17zM45 676h14v1h-14zM47 677h8v1h-8z" fill="#5c0000"/><path d="M52 641h3v1h-3zM51 642h5v1h-5zM51 643h5v1h-5zM50 644h7v1h-7zM50 645h7v1h-7zM50 646h7v1h-7zM50 647h7v1h-7zM50 648h7v1h-7zM50 649h7v1h-7zM50 650h7v1h-7zM50 651h7v1h-7zM50 652h7v1h-7zM51 653h5v1h-5zM51 654h5v1h-5zM52 655h3v1h-3zM48 669h9v1h-9zM46 670h14v1h-14zM45 671h16v1h-16zM44 672h18v1h-18zM44 673h18v1h-18zM44 674h17v1h-17zM45 675h15v1h-15zM46 676h12v1h-12zM48 677h6v1h-6z" fill="#a00000"/><path d="M52 642h3v1h-3zM51 643h5v1h-5zM51 644h5v1h-5zM51 645h5v1h-5zM51 646h6v1h-6zM50 647h7v1h-7zM50 648h7v1h-7zM50 649h7v1h-7zM50 650h7v1h-7zM51 651h6v1h-6zM51 652h5v1h-5zM51 653h5v1h-5zM52 654h3v1h-3zM46 670h13v1h-13zM45 671h16v1h-16zM44 672h17v1h-17zM44 673h17v1h-17zM44 674h17v1h-17zM45 675h14v1h-14zM46 676h11v1h-11zM49 677h4v1h-4z" fill="#e00000"/><path d="M52 643h3v1h-3zM52 644h3v1h-3zM51 645h5v1h-5zM51 646h5v1h-5zM51 647h5v1h-5zM51 648h5v1h-5zM51 649h5v1h-5zM51 650h5v1h-5zM51 651h5v1h-5zM52 652h4v1h-4zM52 653h3v1h-3zM47 670h11v1h-11zM46 671h14v1h-14zM45 672h15v1h-15zM45 673h15v1h-15zM45 674h15v1h-15zM45 675h14v1h-14zM47 676h9v1h-9z" fill="#ff1400"/><path d="M53 645h2v1h-2zM52 646h3v1h-3zM52 647h3v1h-3zM52 648h3v1h-3zM52 649h3v1h-3zM52 650h3v1h-3zM52 651h3v1h-3zM48 670h9v1h-9zM46 671h13v1h-13zM45 672h15v1h-15zM45 673h15v1h-15zM45 674h14v1h-14zM46 675h12v1h-12zM48 676h7v1h-7z" fill="#ff4c00"/><path d="M50 670h4v1h-4zM47 671h11v1h-11zM46 672h13v1h-13zM46 673h13v1h-13zM46 674h12v1h-12zM47 675h10v1h-10zM49 676h4v1h-4z" fill="#ff8400"/><path d="M48 671h9v1h-9zM47 672h11v1h-11zM46 673h12v1h-12zM46 674h11v1h-11zM47 675h9v1h-9z" fill="#ffb400"/><path d="M49 671h7v1h-7zM47 672h10v1h-10zM47 673h10v1h-10zM47 674h9v1h-9zM48 675h7v1h-7z" fill="#ffdc00"/><path d="M50 671h4v1h-4zM48 672h8v1h-8zM47 673h9v1h-9zM48 674h8v1h-8zM49 675h4v1h-4z" fill="#ffff2c"/><path d="M49 672h6v1h-6zM48 673h8v1h-8zM49 674h6v1h-6z" fill="#ffffa0"/></g><rect x="32.4" y="623.2" width="55.30" height="38.80" fill="none" stroke="#3c5ce6" stroke-width="1.15"/><text x="34.20" y="631.20" font-size="7.7" text-anchor="start" fill="#3050b0" stroke="#3050b0" stroke-width="0.3" textLength="24.4" lengthAdjust="spacingAndGlyphs">40.01%</text><rect x="273.1" y="619.9" width="60.50" height="61.10" fill="#fff" stroke="#555" stroke-width="0.9"/><path d="M276.60 681.0v3.0M281.12 681.0v1.9M283.76 681.0v1.9M285.63 681.0v1.9M287.08 681.0v1.9M288.27 681.0v1.9M289.28 681.0v1.9M290.15 681.0v1.9M290.91 681.0v1.9M291.60 681.0v3.0M296.12 681.0v1.9M298.76 681.0v1.9M300.63 681.0v1.9M302.08 681.0v1.9M303.27 681.0v1.9M304.28 681.0v1.9M305.15 681.0v1.9M305.91 681.0v1.9M306.60 681.0v3.0M311.12 681.0v1.9M313.76 681.0v1.9M315.63 681.0v1.9M317.08 681.0v1.9M318.27 681.0v1.9M319.28 681.0v1.9M320.15 681.0v1.9M320.91 681.0v1.9M321.60 681.0v3.0M326.12 681.0v1.9M328.76 681.0v1.9M330.63 681.0v1.9M332.08 681.0v1.9M273.1 676.60h-1.9M273.1 674.03h-1.9M273.1 672.21h-1.9M273.1 670.80h-1.9M273.1 669.64h-1.9M273.1 668.66h-1.9M273.1 667.81h-1.9M273.1 667.07h-1.9M273.1 666.40h-3.0M273.1 662.00h-1.9M273.1 659.43h-1.9M273.1 657.61h-1.9M273.1 656.20h-1.9M273.1 655.04h-1.9M273.1 654.06h-1.9M273.1 653.21h-1.9M273.1 652.47h-1.9M273.1 651.80h-3.0M273.1 647.40h-1.9M273.1 644.83h-1.9M273.1 643.01h-1.9M273.1 641.60h-1.9M273.1 640.44h-1.9M273.1 639.46h-1.9M273.1 638.61h-1.9M273.1 637.87h-1.9M273.1 637.20h-3.0M273.1 632.80h-1.9M273.1 630.23h-1.9M273.1 628.41h-1.9M273.1 627.00h-1.9M273.1 625.84h-1.9M273.1 624.86h-1.9M273.1 624.01h-1.9M273.1 623.27h-1.9M273.1 622.60h-3.0" stroke="#1a1a1a" stroke-width="0.85" fill="none"/><path d="M310.8 647.5h.9v.9h-.9zM308.3 655.2h.9v.9h-.9zM313.1 639.2h.9v.9h-.9zM307.0 643.9h.9v.9h-.9zM308.5 650.0h.9v.9h-.9zM310.7 633.7h.9v.9h-.9zM311.3 648.1h.9v.9h-.9zM308.7 648.6h.9v.9h-.9zM316.9 673.5h.9v.9h-.9zM312.8 657.2h.9v.9h-.9zM297.2 629.8h.9v.9h-.9zM309.7 649.1h.9v.9h-.9zM306.4 656.4h.9v.9h-.9zM311.3 648.4h.9v.9h-.9zM311.5 644.6h.9v.9h-.9zM308.4 644.7h.9v.9h-.9zM311.4 650.7h.9v.9h-.9zM307.4 659.2h.9v.9h-.9zM312.8 654.7h.9v.9h-.9zM309.7 649.5h.9v.9h-.9zM301.3 634.3h.9v.9h-.9zM298.2 633.2h.9v.9h-.9zM313.5 662.5h.9v.9h-.9zM303.6 631.0h.9v.9h-.9zM302.8 626.4h.9v.9h-.9zM311.1 648.3h.9v.9h-.9zM306.2 662.6h.9v.9h-.9zM308.5 659.1h.9v.9h-.9zM307.6 653.6h.9v.9h-.9zM307.9 660.9h.9v.9h-.9zM307.3 637.9h.9v.9h-.9zM309.7 648.8h.9v.9h-.9zM308.8 649.5h.9v.9h-.9zM308.9 662.6h.9v.9h-.9zM297.1 624.0h.9v.9h-.9zM308.1 654.3h.9v.9h-.9zM304.3 669.1h.9v.9h-.9zM308.3 646.4h.9v.9h-.9zM305.6 638.9h.9v.9h-.9zM314.1 638.1h.9v.9h-.9zM307.1 650.2h.9v.9h-.9zM309.2 655.3h.9v.9h-.9zM317.4 653.9h.9v.9h-.9zM310.3 650.5h.9v.9h-.9zM307.2 645.7h.9v.9h-.9zM305.3 667.6h.9v.9h-.9zM309.8 648.7h.9v.9h-.9zM310.3 670.4h.9v.9h-.9zM307.8 643.1h.9v.9h-.9zM310.6 651.0h.9v.9h-.9zM308.3 649.3h.9v.9h-.9zM309.9 643.0h.9v.9h-.9zM311.1 648.8h.9v.9h-.9zM307.3 645.9h.9v.9h-.9zM308.0 652.7h.9v.9h-.9zM307.6 652.6h.9v.9h-.9zM308.7 657.8h.9v.9h-.9zM307.4 649.3h.9v.9h-.9zM309.8 641.1h.9v.9h-.9zM304.9 636.5h.9v.9h-.9zM316.8 646.2h.9v.9h-.9zM309.9 663.3h.9v.9h-.9zM315.6 661.9h.9v.9h-.9zM310.4 660.3h.9v.9h-.9zM307.4 663.4h.9v.9h-.9zM300.8 631.9h.9v.9h-.9zM313.4 659.0h.9v.9h-.9zM309.7 664.1h.9v.9h-.9zM307.8 642.3h.9v.9h-.9zM307.3 649.2h.9v.9h-.9zM304.4 665.2h.9v.9h-.9zM308.3 642.9h.9v.9h-.9zM308.7 640.7h.9v.9h-.9zM305.3 631.8h.9v.9h-.9zM315.7 640.0h.9v.9h-.9zM303.0 630.9h.9v.9h-.9zM310.6 649.9h.9v.9h-.9zM312.4 657.5h.9v.9h-.9zM310.9 661.2h.9v.9h-.9zM309.0 652.0h.9v.9h-.9zM307.1 645.9h.9v.9h-.9zM310.0 638.6h.9v.9h-.9zM308.2 646.8h.9v.9h-.9zM312.8 662.4h.9v.9h-.9zM314.5 640.4h.9v.9h-.9zM306.4 637.4h.9v.9h-.9zM303.4 667.2h.9v.9h-.9zM311.7 648.2h.9v.9h-.9zM307.6 651.8h.9v.9h-.9zM303.7 634.6h.9v.9h-.9zM306.2 658.8h.9v.9h-.9zM311.3 645.7h.9v.9h-.9zM303.4 671.0h.9v.9h-.9zM309.4 651.0h.9v.9h-.9zM313.7 644.4h.9v.9h-.9zM309.5 650.9h.9v.9h-.9zM310.4 678.4h.9v.9h-.9zM316.8 642.2h.9v.9h-.9zM312.3 643.1h.9v.9h-.9zM304.6 667.4h.9v.9h-.9zM311.1 663.1h.9v.9h-.9zM307.0 672.9h.9v.9h-.9zM307.6 653.9h.9v.9h-.9zM307.8 661.3h.9v.9h-.9zM304.4 669.2h.9v.9h-.9zM311.8 652.2h.9v.9h-.9zM306.4 633.0h.9v.9h-.9zM314.5 657.5h.9v.9h-.9zM309.1 646.0h.9v.9h-.9zM307.9 629.4h.9v.9h-.9zM308.2 648.2h.9v.9h-.9zM313.6 650.9h.9v.9h-.9zM306.6 640.0h.9v.9h-.9zM307.0 655.7h.9v.9h-.9zM308.3 653.1h.9v.9h-.9zM309.4 647.7h.9v.9h-.9zM303.4 636.3h.9v.9h-.9zM298.3 632.6h.9v.9h-.9zM311.2 668.0h.9v.9h-.9zM307.2 657.5h.9v.9h-.9zM311.9 639.6h.9v.9h-.9zM305.7 635.8h.9v.9h-.9zM306.2 668.8h.9v.9h-.9zM304.3 665.3h.9v.9h-.9zM321.2 645.4h.9v.9h-.9zM306.5 626.3h.9v.9h-.9zM307.3 641.5h.9v.9h-.9zM307.7 659.0h.9v.9h-.9zM308.7 628.1h.9v.9h-.9zM312.4 635.4h.9v.9h-.9zM310.1 639.1h.9v.9h-.9zM308.4 649.9h.9v.9h-.9zM316.5 632.3h.9v.9h-.9zM303.8 627.6h.9v.9h-.9zM306.9 636.6h.9v.9h-.9zM312.1 651.6h.9v.9h-.9zM314.8 659.4h.9v.9h-.9zM313.4 631.4h.9v.9h-.9zM304.4 635.6h.9v.9h-.9zM306.6 637.9h.9v.9h-.9zM309.6 631.0h.9v.9h-.9zM308.4 644.8h.9v.9h-.9zM310.5 664.0h.9v.9h-.9zM313.3 668.7h.9v.9h-.9zM312.9 647.1h.9v.9h-.9zM313.6 654.9h.9v.9h-.9zM307.7 649.8h.9v.9h-.9zM308.9 635.2h.9v.9h-.9zM308.5 647.8h.9v.9h-.9zM306.9 668.5h.9v.9h-.9zM310.3 647.1h.9v.9h-.9zM303.3 669.5h.9v.9h-.9zM304.4 666.5h.9v.9h-.9zM309.5 667.2h.9v.9h-.9zM311.6 656.5h.9v.9h-.9zM312.3 638.6h.9v.9h-.9zM308.8 644.9h.9v.9h-.9zM308.1 650.3h.9v.9h-.9zM311.8 651.2h.9v.9h-.9zM308.5 655.3h.9v.9h-.9zM312.2 654.8h.9v.9h-.9zM307.4 664.3h.9v.9h-.9zM308.0 643.2h.9v.9h-.9zM307.5 655.7h.9v.9h-.9zM310.1 670.9h.9v.9h-.9zM310.7 671.1h.9v.9h-.9zM308.7 645.2h.9v.9h-.9zM310.0 650.1h.9v.9h-.9zM313.6 654.1h.9v.9h-.9zM304.2 665.5h.9v.9h-.9zM311.7 668.0h.9v.9h-.9zM312.7 640.4h.9v.9h-.9zM308.6 652.7h.9v.9h-.9zM310.6 656.6h.9v.9h-.9zM309.9 658.0h.9v.9h-.9zM311.9 664.8h.9v.9h-.9zM307.2 655.3h.9v.9h-.9zM311.8 649.0h.9v.9h-.9zM308.1 651.4h.9v.9h-.9zM309.7 640.2h.9v.9h-.9zM302.9 627.2h.9v.9h-.9zM313.6 639.3h.9v.9h-.9zM302.7 628.6h.9v.9h-.9zM302.3 628.1h.9v.9h-.9zM310.3 648.5h.9v.9h-.9zM305.3 667.0h.9v.9h-.9zM310.0 647.2h.9v.9h-.9zM309.9 641.1h.9v.9h-.9zM306.1 640.7h.9v.9h-.9zM307.7 641.8h.9v.9h-.9zM307.8 651.1h.9v.9h-.9zM306.2 656.4h.9v.9h-.9zM311.2 657.4h.9v.9h-.9zM314.3 638.2h.9v.9h-.9zM316.2 640.2h.9v.9h-.9zM308.3 639.5h.9v.9h-.9zM314.2 666.5h.9v.9h-.9zM308.6 656.6h.9v.9h-.9zM307.3 642.6h.9v.9h-.9zM306.7 656.2h.9v.9h-.9zM313.6 638.7h.9v.9h-.9zM305.1 632.4h.9v.9h-.9zM313.9 651.1h.9v.9h-.9zM312.5 641.7h.9v.9h-.9zM303.1 631.9h.9v.9h-.9zM313.8 644.4h.9v.9h-.9zM309.0 669.7h.9v.9h-.9zM307.9 658.5h.9v.9h-.9zM298.0 625.3h.9v.9h-.9zM306.1 663.4h.9v.9h-.9zM306.6 635.8h.9v.9h-.9zM309.4 658.7h.9v.9h-.9zM312.5 635.0h.9v.9h-.9zM307.4 642.0h.9v.9h-.9zM314.4 652.8h.9v.9h-.9zM307.9 650.8h.9v.9h-.9zM309.7 643.4h.9v.9h-.9zM306.3 659.3h.9v.9h-.9zM311.4 661.3h.9v.9h-.9zM314.0 659.9h.9v.9h-.9zM310.5 660.7h.9v.9h-.9zM306.5 656.2h.9v.9h-.9zM307.8 637.9h.9v.9h-.9zM310.0 647.9h.9v.9h-.9zM307.0 640.0h.9v.9h-.9zM314.3 636.5h.9v.9h-.9zM317.3 646.8h.9v.9h-.9zM306.2 658.5h.9v.9h-.9zM309.8 657.9h.9v.9h-.9zM318.3 666.8h.9v.9h-.9zM308.7 664.6h.9v.9h-.9zM307.1 633.9h.9v.9h-.9zM313.9 647.9h.9v.9h-.9zM309.3 645.0h.9v.9h-.9zM313.4 643.4h.9v.9h-.9zM313.8 654.6h.9v.9h-.9zM307.7 655.6h.9v.9h-.9zM285.0 636.9h.9v.9h-.9zM284.6 639.6h.9v.9h-.9zM293.6 626.2h.9v.9h-.9zM286.3 636.1h.9v.9h-.9zM294.0 628.9h.9v.9h-.9zM311.3 648.5h.9v.9h-.9zM288.0 638.3h.9v.9h-.9zM296.6 631.2h.9v.9h-.9zM316.1 648.3h.9v.9h-.9zM298.6 632.5h.9v.9h-.9zM299.5 634.0h.9v.9h-.9zM288.1 632.4h.9v.9h-.9zM310.4 645.7h.9v.9h-.9zM284.5 641.9h.9v.9h-.9zM308.7 633.9h.9v.9h-.9zM310.8 641.2h.9v.9h-.9zM281.7 647.4h.9v.9h-.9zM288.6 631.6h.9v.9h-.9zM311.3 633.6h.9v.9h-.9zM308.3 630.4h.9v.9h-.9zM292.0 627.0h.9v.9h-.9zM316.0 652.1h.9v.9h-.9zM292.8 631.9h.9v.9h-.9zM285.4 629.3h.9v.9h-.9zM285.3 640.8h.9v.9h-.9zM301.2 634.5h.9v.9h-.9zM291.8 633.1h.9v.9h-.9zM313.6 646.4h.9v.9h-.9zM295.8 631.0h.9v.9h-.9zM285.7 637.8h.9v.9h-.9zM305.6 638.8h.9v.9h-.9zM286.4 641.4h.9v.9h-.9zM285.3 640.0h.9v.9h-.9zM283.5 639.1h.9v.9h-.9zM301.6 633.3h.9v.9h-.9zM295.0 633.6h.9v.9h-.9zM286.6 632.9h.9v.9h-.9zM301.6 632.0h.9v.9h-.9zM281.6 643.2h.9v.9h-.9zM298.9 627.7h.9v.9h-.9zM303.7 628.9h.9v.9h-.9zM310.9 634.0h.9v.9h-.9zM317.1 638.9h.9v.9h-.9zM282.4 643.3h.9v.9h-.9zM304.8 634.2h.9v.9h-.9zM312.1 636.1h.9v.9h-.9zM280.7 644.6h.9v.9h-.9zM279.3 635.9h.9v.9h-.9zM288.1 634.4h.9v.9h-.9zM281.7 634.2h.9v.9h-.9zM283.3 650.6h.9v.9h-.9zM289.7 632.4h.9v.9h-.9zM282.8 629.2h.9v.9h-.9zM284.1 638.4h.9v.9h-.9zM308.8 636.2h.9v.9h-.9zM308.5 646.5h.9v.9h-.9zM303.8 635.8h.9v.9h-.9zM292.2 632.7h.9v.9h-.9zM302.0 626.5h.9v.9h-.9zM287.2 668.8h.9v.9h-.9zM283.7 678.1h.9v.9h-.9zM299.7 629.3h.9v.9h-.9zM274.3 635.0h.9v.9h-.9zM308.6 660.1h.9v.9h-.9zM314.4 653.9h.9v.9h-.9zM313.0 652.4h.9v.9h-.9zM284.1 672.5h.9v.9h-.9zM286.7 624.8h.9v.9h-.9zM296.1 625.6h.9v.9h-.9zM283.7 650.4h.9v.9h-.9zM285.3 672.6h.9v.9h-.9zM287.0 677.5h.9v.9h-.9zM286.6 666.1h.9v.9h-.9zM299.1 633.6h.9v.9h-.9zM316.9 656.2h.9v.9h-.9zM291.6 629.2h.9v.9h-.9zM309.7 660.2h.9v.9h-.9zM286.8 668.1h.9v.9h-.9zM306.9 656.6h.9v.9h-.9zM306.7 664.3h.9v.9h-.9zM304.6 668.3h.9v.9h-.9zM285.4 659.9h.9v.9h-.9zM301.7 679.2h.9v.9h-.9zM312.6 675.3h.9v.9h-.9zM284.7 645.1h.9v.9h-.9zM306.9 667.0h.9v.9h-.9zM307.6 664.4h.9v.9h-.9zM308.6 661.7h.9v.9h-.9zM304.9 667.4h.9v.9h-.9zM281.5 649.1h.9v.9h-.9zM306.9 670.5h.9v.9h-.9zM287.3 639.6h.9v.9h-.9zM284.8 674.4h.9v.9h-.9zM283.8 655.3h.9v.9h-.9zM309.5 658.0h.9v.9h-.9zM285.8 653.9h.9v.9h-.9zM281.8 674.1h.9v.9h-.9zM298.1 632.7h.9v.9h-.9zM303.2 621.7h.9v.9h-.9zM307.9 637.5h.9v.9h-.9zM285.7 657.2h.9v.9h-.9zM284.7 669.3h.9v.9h-.9zM295.4 633.3h.9v.9h-.9zM304.7 624.5h.9v.9h-.9zM295.8 632.7h.9v.9h-.9zM285.0 657.1h.9v.9h-.9zM296.7 679.6h.9v.9h-.9zM280.6 651.3h.9v.9h-.9zM299.0 630.6h.9v.9h-.9zM305.5 636.3h.9v.9h-.9zM311.9 661.2h.9v.9h-.9zM288.5 629.8h.9v.9h-.9zM310.1 650.1h.9v.9h-.9zM317.4 646.7h.9v.9h-.9zM309.9 641.9h.9v.9h-.9zM286.5 653.2h.9v.9h-.9zM313.4 632.9h.9v.9h-.9zM284.2 657.6h.9v.9h-.9zM285.1 644.3h.9v.9h-.9zM309.7 665.4h.9v.9h-.9zM309.0 641.7h.9v.9h-.9zM286.5 664.1h.9v.9h-.9zM274.6 647.1h.9v.9h-.9zM283.8 673.6h.9v.9h-.9zM311.2 654.8h.9v.9h-.9zM281.2 665.4h.9v.9h-.9zM306.3 661.8h.9v.9h-.9zM280.8 666.5h.9v.9h-.9zM314.2 647.2h.9v.9h-.9zM307.4 644.5h.9v.9h-.9zM310.5 627.8h.9v.9h-.9zM304.3 635.3h.9v.9h-.9zM289.8 627.2h.9v.9h-.9zM313.0 654.8h.9v.9h-.9zM308.0 645.5h.9v.9h-.9zM307.6 653.7h.9v.9h-.9zM305.7 676.8h.9v.9h-.9zM306.2 636.7h.9v.9h-.9zM312.7 644.0h.9v.9h-.9zM284.9 663.8h.9v.9h-.9zM281.8 622.4h.9v.9h-.9zM278.7 656.4h.9v.9h-.9zM289.2 632.3h.9v.9h-.9zM285.1 660.5h.9v.9h-.9zM317.8 653.2h.9v.9h-.9zM316.0 630.9h.9v.9h-.9zM279.4 656.0h.9v.9h-.9zM314.5 653.4h.9v.9h-.9zM285.6 657.8h.9v.9h-.9zM288.5 637.1h.9v.9h-.9zM277.9 634.2h.9v.9h-.9zM284.0 642.8h.9v.9h-.9zM282.3 673.8h.9v.9h-.9zM284.6 667.4h.9v.9h-.9zM312.6 656.6h.9v.9h-.9zM281.7 665.8h.9v.9h-.9zM311.1 657.8h.9v.9h-.9zM307.8 650.3h.9v.9h-.9zM284.9 628.9h.9v.9h-.9zM282.9 670.3h.9v.9h-.9zM304.9 665.9h.9v.9h-.9zM290.5 679.3h.9v.9h-.9zM286.2 658.9h.9v.9h-.9zM286.2 679.7h.9v.9h-.9zM314.2 635.6h.9v.9h-.9zM292.3 630.3h.9v.9h-.9zM283.8 651.9h.9v.9h-.9zM303.8 679.6h.9v.9h-.9zM307.1 656.0h.9v.9h-.9zM308.8 662.8h.9v.9h-.9zM279.6 641.8h.9v.9h-.9zM279.2 658.1h.9v.9h-.9z" fill="#1a1a80" fill-opacity="0.7"/><g filter="url(#bl)"><path d="M294 634h6v1h-6zM292 635h10v1h-10zM290 636h13v1h-13zM289 637h15v1h-15zM289 638h16v1h-16zM288 639h18v1h-18zM287 640h19v1h-19zM287 641h20v1h-20zM287 642h20v1h-20zM286 643h21v1h-21zM286 644h21v1h-21zM286 645h21v1h-21zM286 646h22v1h-22zM286 647h22v1h-22zM286 648h21v1h-21zM286 649h21v1h-21zM286 650h21v1h-21zM287 651h20v1h-20zM287 652h20v1h-20zM287 653h20v1h-20zM287 654h19v1h-19zM287 655h19v1h-19zM287 656h19v1h-19zM287 657h19v1h-19zM287 658h19v1h-19zM287 659h19v1h-19zM287 660h19v1h-19zM287 661h19v1h-19zM287 662h19v1h-19zM288 663h18v1h-18zM288 664h17v1h-17zM288 665h16v1h-16zM288 666h16v1h-16zM288 667h15v1h-15zM288 668h15v1h-15zM287 669h16v1h-16zM286 670h17v1h-17zM286 671h18v1h-18zM286 672h18v1h-18zM286 673h18v1h-18zM286 674h18v1h-18zM286 675h17v1h-17zM287 676h15v1h-15zM288 677h13v1h-13zM290 678h9v1h-9zM294 679h1v1h-1z" fill="#03036a"/><path d="M297 636h1v1h-1zM295 637h5v1h-5zM294 638h7v1h-7zM293 639h8v1h-8zM293 640h9v1h-9zM292 641h10v1h-10zM292 642h11v1h-11zM292 643h11v1h-11zM292 644h11v1h-11zM292 645h11v1h-11zM292 646h11v1h-11zM292 647h11v1h-11zM292 648h11v1h-11zM292 649h11v1h-11zM292 650h11v1h-11zM292 651h10v1h-10zM292 652h10v1h-10zM292 653h10v1h-10zM292 654h10v1h-10zM293 655h9v1h-9zM293 656h8v1h-8zM293 657h8v1h-8zM293 658h8v1h-8zM294 659h6v1h-6zM294 660h6v1h-6zM295 661h4v1h-4zM296 662h2v1h-2zM293 668h5v1h-5zM290 669h11v1h-11zM288 670h14v1h-14zM287 671h16v1h-16zM287 672h16v1h-16zM287 673h16v1h-16zM287 674h16v1h-16zM288 675h14v1h-14zM290 676h11v1h-11zM293 677h5v1h-5z" fill="#140010"/><path d="M296 637h3v1h-3zM295 638h5v1h-5zM294 639h7v1h-7zM293 640h8v1h-8zM293 641h9v1h-9zM292 642h10v1h-10zM292 643h10v1h-10zM292 644h10v1h-10zM292 645h11v1h-11zM292 646h11v1h-11zM292 647h11v1h-11zM292 648h11v1h-11zM292 649h10v1h-10zM292 650h10v1h-10zM292 651h10v1h-10zM293 652h9v1h-9zM293 653h9v1h-9zM293 654h8v1h-8zM293 655h8v1h-8zM293 656h8v1h-8zM294 657h6v1h-6zM294 658h6v1h-6zM294 659h6v1h-6zM295 660h4v1h-4zM296 661h2v1h-2zM291 669h9v1h-9zM289 670h12v1h-12zM288 671h14v1h-14zM288 672h15v1h-15zM288 673h15v1h-15zM288 674h14v1h-14zM289 675h12v1h-12zM291 676h9v1h-9z" fill="#5c0000"/><path d="M295 638h4v1h-4zM294 639h6v1h-6zM294 640h7v1h-7zM293 641h8v1h-8zM293 642h9v1h-9zM293 643h9v1h-9zM292 644h10v1h-10zM292 645h10v1h-10zM292 646h10v1h-10zM292 647h10v1h-10zM292 648h10v1h-10zM292 649h10v1h-10zM293 650h9v1h-9zM293 651h9v1h-9zM293 652h8v1h-8zM293 653h8v1h-8zM293 654h8v1h-8zM294 655h7v1h-7zM294 656h6v1h-6zM294 657h6v1h-6zM295 658h4v1h-4zM295 659h4v1h-4zM297 660h1v1h-1zM291 669h8v1h-8zM289 670h12v1h-12zM288 671h14v1h-14zM288 672h14v1h-14zM288 673h14v1h-14zM288 674h14v1h-14zM289 675h12v1h-12zM291 676h8v1h-8z" fill="#a00000"/><path d="M296 638h2v1h-2zM295 639h5v1h-5zM294 640h7v1h-7zM294 641h7v1h-7zM293 642h8v1h-8zM293 643h9v1h-9zM293 644h9v1h-9zM293 645h9v1h-9zM293 646h9v1h-9zM293 647h9v1h-9zM293 648h9v1h-9zM293 649h9v1h-9zM293 650h9v1h-9zM293 651h8v1h-8zM293 652h8v1h-8zM293 653h8v1h-8zM294 654h7v1h-7zM294 655h6v1h-6zM294 656h6v1h-6zM295 657h4v1h-4zM296 658h2v1h-2zM292 669h7v1h-7zM290 670h10v1h-10zM289 671h12v1h-12zM288 672h14v1h-14zM288 673h14v1h-14zM289 674h12v1h-12zM290 675h10v1h-10zM292 676h7v1h-7z" fill="#e00000"/><path d="M295 639h4v1h-4zM295 640h5v1h-5zM294 641h7v1h-7zM294 642h7v1h-7zM293 643h8v1h-8zM293 644h9v1h-9zM293 645h9v1h-9zM293 646h9v1h-9zM293 647h9v1h-9zM293 648h9v1h-9zM293 649h8v1h-8zM293 650h8v1h-8zM293 651h8v1h-8zM294 652h7v1h-7zM294 653h6v1h-6zM294 654h6v1h-6zM295 655h5v1h-5zM295 656h4v1h-4zM296 657h2v1h-2zM294 669h3v1h-3zM291 670h9v1h-9zM289 671h12v1h-12zM289 672h12v1h-12zM289 673h12v1h-12zM289 674h12v1h-12zM291 675h9v1h-9zM294 676h3v1h-3z" fill="#ff1400"/><path d="M297 639h1v1h-1zM295 640h4v1h-4zM295 641h5v1h-5zM294 642h7v1h-7zM294 643h7v1h-7zM293 644h8v1h-8zM293 645h8v1h-8zM293 646h8v1h-8zM293 647h8v1h-8zM293 648h8v1h-8zM293 649h8v1h-8zM294 650h7v1h-7zM294 651h7v1h-7zM294 652h6v1h-6zM294 653h6v1h-6zM295 654h4v1h-4zM296 655h3v1h-3zM291 670h8v1h-8zM290 671h10v1h-10zM289 672h12v1h-12zM289 673h12v1h-12zM290 674h10v1h-10zM291 675h8v1h-8z" fill="#ff4c00"/><path d="M296 640h2v1h-2zM295 641h4v1h-4zM295 642h5v1h-5zM294 643h6v1h-6zM294 644h7v1h-7zM294 645h7v1h-7zM294 646h7v1h-7zM294 647h7v1h-7zM294 648h7v1h-7zM294 649h7v1h-7zM294 650h7v1h-7zM294 651h6v1h-6zM295 652h5v1h-5zM295 653h4v1h-4zM296 654h3v1h-3zM292 670h6v1h-6zM290 671h10v1h-10zM290 672h10v1h-10zM290 673h10v1h-10zM290 674h10v1h-10zM292 675h6v1h-6z" fill="#ff8400"/><path d="M296 641h3v1h-3zM295 642h5v1h-5zM295 643h5v1h-5zM294 644h6v1h-6zM294 645h6v1h-6zM294 646h7v1h-7zM294 647h7v1h-7zM294 648h6v1h-6zM294 649h6v1h-6zM294 650h6v1h-6zM295 651h5v1h-5zM295 652h4v1h-4zM296 653h3v1h-3zM293 670h4v1h-4zM291 671h8v1h-8zM290 672h10v1h-10zM290 673h10v1h-10zM291 674h8v1h-8zM293 675h4v1h-4z" fill="#ffb400"/><path d="M296 642h3v1h-3zM295 643h5v1h-5zM295 644h5v1h-5zM294 645h6v1h-6zM294 646h6v1h-6zM294 647h6v1h-6zM294 648h6v1h-6zM294 649h6v1h-6zM295 650h5v1h-5zM295 651h4v1h-4zM296 652h3v1h-3zM292 671h7v1h-7zM291 672h8v1h-8zM291 673h8v1h-8zM292 674h7v1h-7z" fill="#ffdc00"/><path d="M297 642h1v1h-1zM296 643h3v1h-3zM295 644h4v1h-4zM295 645h5v1h-5zM295 646h5v1h-5zM295 647h5v1h-5zM295 648h5v1h-5zM295 649h5v1h-5zM295 650h4v1h-4zM296 651h3v1h-3zM296 652h2v1h-2zM292 671h6v1h-6zM291 672h8v1h-8zM291 673h8v1h-8zM292 674h6v1h-6z" fill="#ffff2c"/><path d="M297 643h1v1h-1zM296 644h3v1h-3zM295 645h4v1h-4zM295 646h4v1h-4zM295 647h4v1h-4zM295 648h4v1h-4zM295 649h4v1h-4zM296 650h3v1h-3zM296 651h2v1h-2zM293 671h4v1h-4zM292 672h6v1h-6zM292 673h6v1h-6zM293 674h4v1h-4z" fill="#ffffa0"/></g><rect x="276.2" y="623.2" width="53.50" height="42.50" fill="none" stroke="#3c5ce6" stroke-width="1.15"/><text x="278.00" y="631.20" font-size="7.7" text-anchor="start" fill="#3050b0" stroke="#3050b0" stroke-width="0.3" textLength="24.4" lengthAdjust="spacingAndGlyphs">69.59%</text><rect x="95.9" y="619.9" width="60.70" height="61.10" fill="#fff" stroke="#555" stroke-width="0.9"/><path d="M99.40 681.0v3.0M103.92 681.0v1.9M106.56 681.0v1.9M108.43 681.0v1.9M109.88 681.0v1.9M111.07 681.0v1.9M112.08 681.0v1.9M112.95 681.0v1.9M113.71 681.0v1.9M114.40 681.0v3.0M118.92 681.0v1.9M121.56 681.0v1.9M123.43 681.0v1.9M124.88 681.0v1.9M126.07 681.0v1.9M127.08 681.0v1.9M127.95 681.0v1.9M128.71 681.0v1.9M129.40 681.0v3.0M133.92 681.0v1.9M136.56 681.0v1.9M138.43 681.0v1.9M139.88 681.0v1.9M141.07 681.0v1.9M142.08 681.0v1.9M142.95 681.0v1.9M143.71 681.0v1.9M144.40 681.0v3.0M148.92 681.0v1.9M151.56 681.0v1.9M153.43 681.0v1.9M154.88 681.0v1.9M95.9 676.60h-1.9M95.9 674.03h-1.9M95.9 672.21h-1.9M95.9 670.80h-1.9M95.9 669.64h-1.9M95.9 668.66h-1.9M95.9 667.81h-1.9M95.9 667.07h-1.9M95.9 666.40h-3.0M95.9 662.00h-1.9M95.9 659.43h-1.9M95.9 657.61h-1.9M95.9 656.20h-1.9M95.9 655.04h-1.9M95.9 654.06h-1.9M95.9 653.21h-1.9M95.9 652.47h-1.9M95.9 651.80h-3.0M95.9 647.40h-1.9M95.9 644.83h-1.9M95.9 643.01h-1.9M95.9 641.60h-1.9M95.9 640.44h-1.9M95.9 639.46h-1.9M95.9 638.61h-1.9M95.9 637.87h-1.9M95.9 637.20h-3.0M95.9 632.80h-1.9M95.9 630.23h-1.9M95.9 628.41h-1.9M95.9 627.00h-1.9M95.9 625.84h-1.9M95.9 624.86h-1.9M95.9 624.01h-1.9M95.9 623.27h-1.9M95.9 622.60h-3.0" stroke="#1a1a1a" stroke-width="0.85" fill="none"/><path d="M108.5 661.7h.9v.9h-.9zM118.3 625.2h.9v.9h-.9zM135.5 649.6h.9v.9h-.9zM101.8 627.7h.9v.9h-.9zM117.2 630.5h.9v.9h-.9zM106.9 648.2h.9v.9h-.9zM137.3 647.2h.9v.9h-.9zM103.2 644.1h.9v.9h-.9zM131.6 659.9h.9v.9h-.9zM115.6 665.3h.9v.9h-.9zM133.0 658.3h.9v.9h-.9zM119.2 628.3h.9v.9h-.9zM117.7 663.0h.9v.9h-.9zM111.9 660.9h.9v.9h-.9zM110.1 665.9h.9v.9h-.9zM108.9 643.6h.9v.9h-.9zM142.5 653.2h.9v.9h-.9zM133.1 656.1h.9v.9h-.9z" fill="#1a1a80" fill-opacity="0.7"/><g filter="url(#bl)"><path d="M117 634h5v1h-5zM115 635h10v1h-10zM113 636h13v1h-13zM112 637h16v1h-16zM112 638h16v1h-16zM111 639h18v1h-18zM110 640h20v1h-20zM110 641h20v1h-20zM109 642h21v1h-21zM109 643h22v1h-22zM109 644h22v1h-22zM109 645h22v1h-22zM108 646h23v1h-23zM108 647h23v1h-23zM108 648h23v1h-23zM108 649h23v1h-23zM107 650h24v1h-24zM107 651h24v1h-24zM107 652h24v1h-24zM108 653h23v1h-23zM108 654h23v1h-23zM108 655h23v1h-23zM109 656h22v1h-22zM109 657h22v1h-22zM110 658h21v1h-21zM111 659h20v1h-20zM113 660h17v1h-17zM114 661h16v1h-16zM116 662h14v1h-14zM121 663h9v1h-9zM122 664h8v1h-8zM111 665h4v1h-4zM122 665h8v1h-8zM109 666h8v1h-8zM122 666h8v1h-8zM108 667h9v1h-9zM122 667h8v1h-8zM107 668h11v1h-11zM122 668h8v1h-8zM107 669h13v1h-13zM122 669h8v1h-8zM106 670h24v1h-24zM106 671h24v1h-24zM106 672h24v1h-24zM106 673h24v1h-24zM106 674h23v1h-23zM106 675h23v1h-23zM107 676h22v1h-22zM107 677h21v1h-21zM108 678h17v1h-17zM109 679h6v1h-6z" fill="#03036a"/><path d="M115 637h8v1h-8zM114 638h10v1h-10zM113 639h12v1h-12zM112 640h14v1h-14zM111 641h15v1h-15zM111 642h16v1h-16zM111 643h16v1h-16zM110 644h17v1h-17zM110 645h18v1h-18zM110 646h18v1h-18zM110 647h18v1h-18zM109 648h18v1h-18zM109 649h18v1h-18zM109 650h18v1h-18zM109 651h18v1h-18zM109 652h18v1h-18zM109 653h18v1h-18zM110 654h17v1h-17zM110 655h17v1h-17zM111 656h16v1h-16zM112 657h15v1h-15zM113 658h14v1h-14zM116 659h3v1h-3zM120 659h7v1h-7zM122 660h5v1h-5zM124 661h3v1h-3zM125 662h3v1h-3zM125 663h3v1h-3zM125 664h3v1h-3zM125 665h3v1h-3zM125 666h3v1h-3zM109 667h4v1h-4zM125 667h3v1h-3zM108 668h6v1h-6zM125 668h3v1h-3zM107 669h8v1h-8zM125 669h3v1h-3zM107 670h10v1h-10zM126 670h1v1h-1zM107 671h10v1h-10zM107 672h11v1h-11zM107 673h11v1h-11zM107 674h11v1h-11zM107 675h10v1h-10zM107 676h10v1h-10zM108 677h7v1h-7zM109 678h4v1h-4z" fill="#140010"/><path d="M117 637h4v1h-4zM115 638h8v1h-8zM114 639h10v1h-10zM113 640h12v1h-12zM112 641h14v1h-14zM112 642h14v1h-14zM111 643h16v1h-16zM111 644h16v1h-16zM111 645h16v1h-16zM110 646h17v1h-17zM110 647h17v1h-17zM110 648h17v1h-17zM110 649h17v1h-17zM110 650h16v1h-16zM110 651h16v1h-16zM110 652h16v1h-16zM110 653h16v1h-16zM111 654h15v1h-15zM111 655h16v1h-16zM112 656h15v1h-15zM113 657h14v1h-14zM116 658h3v1h-3zM120 658h7v1h-7zM122 659h4v1h-4zM123 660h4v1h-4zM125 661h2v1h-2zM125 662h2v1h-2zM125 663h3v1h-3zM125 664h3v1h-3zM125 665h3v1h-3zM125 666h3v1h-3zM125 667h3v1h-3zM109 668h4v1h-4zM125 668h3v1h-3zM108 669h7v1h-7zM126 669h1v1h-1zM107 670h9v1h-9zM107 671h10v1h-10zM107 672h10v1h-10zM107 673h11v1h-11zM107 674h10v1h-10zM107 675h10v1h-10zM108 676h8v1h-8zM109 677h5v1h-5z" fill="#5c0000"/><path d="M116 638h6v1h-6zM114 639h10v1h-10zM113 640h12v1h-12zM113 641h12v1h-12zM112 642h14v1h-14zM112 643h14v1h-14zM111 644h15v1h-15zM111 645h16v1h-16zM111 646h16v1h-16zM111 647h16v1h-16zM111 648h15v1h-15zM111 649h15v1h-15zM111 650h15v1h-15zM111 651h15v1h-15zM111 652h15v1h-15zM111 653h15v1h-15zM112 654h14v1h-14zM112 655h14v1h-14zM113 656h13v1h-13zM115 657h11v1h-11zM121 658h5v1h-5zM122 659h4v1h-4zM126 663h1v1h-1zM126 664h1v1h-1zM126 665h1v1h-1zM126 666h1v1h-1zM126 667h1v1h-1zM109 668h4v1h-4zM126 668h1v1h-1zM108 669h6v1h-6zM108 670h7v1h-7zM107 671h9v1h-9zM107 672h10v1h-10zM107 673h10v1h-10zM107 674h10v1h-10zM108 675h8v1h-8zM108 676h7v1h-7zM109 677h4v1h-4z" fill="#a00000"/><path d="M117 638h4v1h-4zM115 639h8v1h-8zM114 640h10v1h-10zM113 641h12v1h-12zM113 642h12v1h-12zM112 643h14v1h-14zM112 644h14v1h-14zM111 645h15v1h-15zM111 646h15v1h-15zM111 647h15v1h-15zM111 648h15v1h-15zM111 649h15v1h-15zM111 650h14v1h-14zM111 651h14v1h-14zM112 652h13v1h-13zM112 653h13v1h-13zM113 654h12v1h-12zM113 655h13v1h-13zM115 656h11v1h-11zM121 657h5v1h-5zM122 658h3v1h-3zM110 668h2v1h-2zM108 669h6v1h-6zM108 670h7v1h-7zM107 671h9v1h-9zM107 672h9v1h-9zM107 673h10v1h-10zM107 674h9v1h-9zM108 675h8v1h-8zM108 676h7v1h-7zM110 677h3v1h-3z" fill="#e00000"/><path d="M116 639h6v1h-6zM115 640h8v1h-8zM114 641h10v1h-10zM113 642h12v1h-12zM113 643h12v1h-12zM112 644h13v1h-13zM112 645h14v1h-14zM112 646h14v1h-14zM112 647h14v1h-14zM112 648h13v1h-13zM112 649h13v1h-13zM112 650h13v1h-13zM112 651h13v1h-13zM112 652h13v1h-13zM113 653h12v1h-12zM114 654h11v1h-11zM115 655h10v1h-10zM121 656h4v1h-4zM122 657h3v1h-3zM109 669h4v1h-4zM108 670h7v1h-7zM108 671h7v1h-7zM108 672h8v1h-8zM108 673h8v1h-8zM108 674h8v1h-8zM108 675h7v1h-7zM109 676h5v1h-5zM111 677h1v1h-1z" fill="#ff1400"/><path d="M118 639h2v1h-2zM116 640h6v1h-6zM115 641h8v1h-8zM114 642h10v1h-10zM113 643h12v1h-12zM113 644h12v1h-12zM113 645h12v1h-12zM112 646h13v1h-13zM112 647h13v1h-13zM112 648h13v1h-13zM112 649h13v1h-13zM112 650h12v1h-12zM113 651h11v1h-11zM113 652h11v1h-11zM114 653h10v1h-10zM115 654h9v1h-9zM122 655h2v1h-2zM109 669h4v1h-4zM108 670h6v1h-6zM108 671h7v1h-7zM108 672h7v1h-7zM108 673h7v1h-7zM108 674h7v1h-7zM108 675h7v1h-7zM109 676h4v1h-4z" fill="#ff4c00"/><path d="M117 640h4v1h-4zM115 641h7v1h-7zM115 642h8v1h-8zM114 643h10v1h-10zM113 644h11v1h-11zM113 645h11v1h-11zM113 646h12v1h-12zM113 647h12v1h-12zM113 648h11v1h-11zM113 649h11v1h-11zM113 650h11v1h-11zM114 651h9v1h-9zM114 652h9v1h-9zM115 653h7v1h-7zM110 669h2v1h-2zM109 670h5v1h-5zM108 671h6v1h-6zM108 672h7v1h-7zM108 673h7v1h-7zM108 674h7v1h-7zM109 675h5v1h-5zM110 676h3v1h-3z" fill="#ff8400"/><path d="M116 641h5v1h-5zM115 642h8v1h-8zM114 643h9v1h-9zM114 644h10v1h-10zM114 645h10v1h-10zM113 646h11v1h-11zM113 647h11v1h-11zM113 648h11v1h-11zM113 649h11v1h-11zM114 650h9v1h-9zM114 651h9v1h-9zM115 652h7v1h-7zM117 653h3v1h-3zM109 670h4v1h-4zM109 671h5v1h-5zM108 672h6v1h-6zM108 673h6v1h-6zM109 674h5v1h-5zM109 675h5v1h-5z" fill="#ffb400"/><path d="M118 641h2v1h-2zM116 642h6v1h-6zM115 643h8v1h-8zM115 644h8v1h-8zM114 645h9v1h-9zM114 646h10v1h-10zM114 647h10v1h-10zM114 648h9v1h-9zM114 649h9v1h-9zM114 650h9v1h-9zM115 651h7v1h-7zM117 652h4v1h-4zM110 670h3v1h-3zM109 671h5v1h-5zM109 672h5v1h-5zM109 673h5v1h-5zM109 674h5v1h-5zM110 675h3v1h-3z" fill="#ffdc00"/><path d="M117 642h4v1h-4zM116 643h6v1h-6zM115 644h7v1h-7zM115 645h8v1h-8zM114 646h9v1h-9zM114 647h9v1h-9zM114 648h9v1h-9zM115 649h8v1h-8zM115 650h7v1h-7zM116 651h5v1h-5zM111 670h1v1h-1zM109 671h4v1h-4zM109 672h5v1h-5zM109 673h5v1h-5zM109 674h4v1h-4zM111 675h1v1h-1z" fill="#ffff2c"/><path d="M117 643h4v1h-4zM116 644h6v1h-6zM115 645h7v1h-7zM115 646h7v1h-7zM115 647h7v1h-7zM115 648h7v1h-7zM115 649h7v1h-7zM116 650h5v1h-5zM118 651h2v1h-2zM110 671h3v1h-3zM110 672h3v1h-3zM110 673h3v1h-3zM110 674h3v1h-3z" fill="#ffffa0"/></g><rect x="98.4" y="623.2" width="55.60" height="38.50" fill="none" stroke="#3c5ce6" stroke-width="1.15"/><text x="100.20" y="631.20" font-size="7.7" text-anchor="start" fill="#3050b0" stroke="#3050b0" stroke-width="0.3" textLength="24.4" lengthAdjust="spacingAndGlyphs">64.54%</text><rect x="339.1" y="619.9" width="60.70" height="61.10" fill="#fff" stroke="#555" stroke-width="0.9"/><path d="M342.60 681.0v3.0M347.12 681.0v1.9M349.76 681.0v1.9M351.63 681.0v1.9M353.08 681.0v1.9M354.27 681.0v1.9M355.28 681.0v1.9M356.15 681.0v1.9M356.91 681.0v1.9M357.60 681.0v3.0M362.12 681.0v1.9M364.76 681.0v1.9M366.63 681.0v1.9M368.08 681.0v1.9M369.27 681.0v1.9M370.28 681.0v1.9M371.15 681.0v1.9M371.91 681.0v1.9M372.60 681.0v3.0M377.12 681.0v1.9M379.76 681.0v1.9M381.63 681.0v1.9M383.08 681.0v1.9M384.27 681.0v1.9M385.28 681.0v1.9M386.15 681.0v1.9M386.91 681.0v1.9M387.60 681.0v3.0M392.12 681.0v1.9M394.76 681.0v1.9M396.63 681.0v1.9M398.08 681.0v1.9M339.1 676.60h-1.9M339.1 674.03h-1.9M339.1 672.21h-1.9M339.1 670.80h-1.9M339.1 669.64h-1.9M339.1 668.66h-1.9M339.1 667.81h-1.9M339.1 667.07h-1.9M339.1 666.40h-3.0M339.1 662.00h-1.9M339.1 659.43h-1.9M339.1 657.61h-1.9M339.1 656.20h-1.9M339.1 655.04h-1.9M339.1 654.06h-1.9M339.1 653.21h-1.9M339.1 652.47h-1.9M339.1 651.80h-3.0M339.1 647.40h-1.9M339.1 644.83h-1.9M339.1 643.01h-1.9M339.1 641.60h-1.9M339.1 640.44h-1.9M339.1 639.46h-1.9M339.1 638.61h-1.9M339.1 637.87h-1.9M339.1 637.20h-3.0M339.1 632.80h-1.9M339.1 630.23h-1.9M339.1 628.41h-1.9M339.1 627.00h-1.9M339.1 625.84h-1.9M339.1 624.86h-1.9M339.1 624.01h-1.9M339.1 623.27h-1.9M339.1 622.60h-3.0" stroke="#1a1a1a" stroke-width="0.85" fill="none"/><path d="M368.3 666.0h.9v.9h-.9zM368.6 667.3h.9v.9h-.9zM351.7 671.3h.9v.9h-.9zM373.7 667.6h.9v.9h-.9zM353.1 664.7h.9v.9h-.9zM368.2 665.2h.9v.9h-.9zM368.9 671.3h.9v.9h-.9zM361.0 674.0h.9v.9h-.9zM372.0 670.6h.9v.9h-.9zM369.4 670.0h.9v.9h-.9zM374.8 662.8h.9v.9h-.9zM359.2 675.7h.9v.9h-.9zM370.2 664.8h.9v.9h-.9zM369.0 666.1h.9v.9h-.9zM368.9 671.5h.9v.9h-.9zM360.0 668.7h.9v.9h-.9zM362.8 670.8h.9v.9h-.9zM363.8 672.2h.9v.9h-.9zM363.3 668.9h.9v.9h-.9zM364.9 672.1h.9v.9h-.9zM357.0 665.9h.9v.9h-.9zM368.9 671.4h.9v.9h-.9zM379.1 665.4h.9v.9h-.9zM352.3 660.4h.9v.9h-.9zM375.6 664.8h.9v.9h-.9zM363.2 666.2h.9v.9h-.9zM365.4 670.5h.9v.9h-.9zM360.7 668.6h.9v.9h-.9zM374.1 670.6h.9v.9h-.9zM370.8 671.2h.9v.9h-.9zM371.4 666.5h.9v.9h-.9zM369.3 670.9h.9v.9h-.9zM365.2 672.4h.9v.9h-.9zM363.3 672.7h.9v.9h-.9zM366.7 669.7h.9v.9h-.9zM372.6 665.8h.9v.9h-.9zM351.6 661.6h.9v.9h-.9zM348.8 674.4h.9v.9h-.9zM368.7 668.2h.9v.9h-.9zM358.3 668.5h.9v.9h-.9zM372.5 673.2h.9v.9h-.9zM365.6 667.9h.9v.9h-.9zM373.1 664.9h.9v.9h-.9zM373.5 665.2h.9v.9h-.9zM360.4 670.7h.9v.9h-.9zM358.8 668.7h.9v.9h-.9zM366.4 673.2h.9v.9h-.9zM382.3 637.4h.9v.9h-.9zM346.4 661.7h.9v.9h-.9zM345.5 630.3h.9v.9h-.9zM382.1 635.3h.9v.9h-.9zM380.3 662.0h.9v.9h-.9zM378.9 644.5h.9v.9h-.9zM347.0 638.6h.9v.9h-.9zM379.6 636.0h.9v.9h-.9zM381.8 644.1h.9v.9h-.9zM387.8 653.3h.9v.9h-.9zM388.2 640.2h.9v.9h-.9zM369.5 664.2h.9v.9h-.9zM378.8 642.0h.9v.9h-.9zM379.4 633.7h.9v.9h-.9zM392.4 644.2h.9v.9h-.9zM371.4 667.7h.9v.9h-.9zM363.4 666.9h.9v.9h-.9zM392.1 626.5h.9v.9h-.9zM345.0 651.4h.9v.9h-.9zM376.1 651.9h.9v.9h-.9zM376.4 649.5h.9v.9h-.9zM350.3 647.9h.9v.9h-.9zM373.2 623.2h.9v.9h-.9zM357.0 634.1h.9v.9h-.9zM362.9 671.7h.9v.9h-.9zM372.7 659.4h.9v.9h-.9zM365.9 675.4h.9v.9h-.9zM346.8 635.7h.9v.9h-.9zM379.3 652.0h.9v.9h-.9zM354.8 637.2h.9v.9h-.9zM373.0 633.2h.9v.9h-.9zM359.1 633.4h.9v.9h-.9zM352.4 662.3h.9v.9h-.9zM348.0 652.6h.9v.9h-.9zM361.2 669.7h.9v.9h-.9zM346.6 645.7h.9v.9h-.9zM369.4 670.5h.9v.9h-.9zM362.5 629.6h.9v.9h-.9zM349.0 652.1h.9v.9h-.9zM376.5 631.8h.9v.9h-.9z" fill="#1a1a80" fill-opacity="0.7"/><g filter="url(#bl)"><path d="M361 633h7v1h-7zM359 634h12v1h-12zM357 635h15v1h-15zM356 636h17v1h-17zM355 637h19v1h-19zM354 638h21v1h-21zM354 639h22v1h-22zM353 640h23v1h-23zM353 641h23v1h-23zM352 642h25v1h-25zM352 643h25v1h-25zM352 644h25v1h-25zM352 645h25v1h-25zM352 646h25v1h-25zM351 647h25v1h-25zM351 648h25v1h-25zM351 649h25v1h-25zM351 650h25v1h-25zM351 651h24v1h-24zM351 652h24v1h-24zM351 653h24v1h-24zM352 654h22v1h-22zM352 655h22v1h-22zM352 656h22v1h-22zM352 657h21v1h-21zM352 658h21v1h-21zM353 659h19v1h-19zM353 660h19v1h-19zM354 661h17v1h-17zM355 662h15v1h-15zM355 663h14v1h-14zM356 664h12v1h-12zM355 665h1v1h-1zM359 665h7v1h-7zM354 666h3v1h-3zM354 667h3v1h-3zM353 668h4v1h-4zM353 669h4v1h-4zM353 670h4v1h-4zM353 671h4v1h-4zM353 672h4v1h-4zM353 673h4v1h-4zM354 674h2v1h-2z" fill="#03036a"/><path d="M363 636h4v1h-4zM360 637h9v1h-9zM359 638h11v1h-11zM358 639h13v1h-13zM357 640h15v1h-15zM357 641h15v1h-15zM356 642h16v1h-16zM356 643h16v1h-16zM355 644h18v1h-18zM355 645h18v1h-18zM355 646h17v1h-17zM354 647h18v1h-18zM354 648h18v1h-18zM354 649h18v1h-18zM354 650h18v1h-18zM354 651h17v1h-17zM354 652h17v1h-17zM355 653h15v1h-15zM355 654h15v1h-15zM355 655h14v1h-14zM356 656h13v1h-13zM356 657h12v1h-12zM357 658h10v1h-10zM358 659h8v1h-8zM360 660h4v1h-4z" fill="#140010"/><path d="M362 637h6v1h-6zM360 638h9v1h-9zM359 639h11v1h-11zM358 640h13v1h-13zM357 641h14v1h-14zM357 642h15v1h-15zM356 643h16v1h-16zM356 644h16v1h-16zM355 645h17v1h-17zM355 646h17v1h-17zM355 647h17v1h-17zM355 648h17v1h-17zM355 649h16v1h-16zM355 650h16v1h-16zM355 651h16v1h-16zM355 652h15v1h-15zM355 653h15v1h-15zM356 654h13v1h-13zM356 655h12v1h-12zM357 656h11v1h-11zM358 657h9v1h-9zM359 658h6v1h-6z" fill="#5c0000"/><path d="M364 637h2v1h-2zM361 638h7v1h-7zM360 639h9v1h-9zM359 640h11v1h-11zM358 641h13v1h-13zM357 642h14v1h-14zM357 643h14v1h-14zM356 644h15v1h-15zM356 645h15v1h-15zM356 646h15v1h-15zM355 647h16v1h-16zM355 648h16v1h-16zM355 649h16v1h-16zM355 650h15v1h-15zM356 651h14v1h-14zM356 652h14v1h-14zM356 653h13v1h-13zM357 654h11v1h-11zM357 655h10v1h-10zM358 656h8v1h-8zM359 657h6v1h-6z" fill="#a00000"/><path d="M362 638h5v1h-5zM360 639h9v1h-9zM359 640h11v1h-11zM358 641h12v1h-12zM358 642h13v1h-13zM357 643h14v1h-14zM357 644h14v1h-14zM356 645h15v1h-15zM356 646h15v1h-15zM356 647h15v1h-15zM356 648h15v1h-15zM356 649h14v1h-14zM356 650h14v1h-14zM356 651h14v1h-14zM356 652h13v1h-13zM357 653h11v1h-11zM357 654h11v1h-11zM358 655h9v1h-9zM359 656h6v1h-6z" fill="#e00000"/><path d="M361 639h7v1h-7zM360 640h9v1h-9zM359 641h11v1h-11zM358 642h12v1h-12zM358 643h12v1h-12zM357 644h14v1h-14zM357 645h14v1h-14zM357 646h14v1h-14zM356 647h14v1h-14zM356 648h14v1h-14zM356 649h14v1h-14zM357 650h12v1h-12zM357 651h12v1h-12zM357 652h11v1h-11zM358 653h10v1h-10zM358 654h9v1h-9zM360 655h5v1h-5z" fill="#ff1400"/><path d="M363 639h3v1h-3zM361 640h7v1h-7zM360 641h9v1h-9zM359 642h10v1h-10zM358 643h12v1h-12zM358 644h12v1h-12zM357 645h13v1h-13zM357 646h13v1h-13zM357 647h13v1h-13zM357 648h13v1h-13zM357 649h12v1h-12zM357 650h12v1h-12zM358 651h10v1h-10zM358 652h10v1h-10zM359 653h8v1h-8zM360 654h5v1h-5z" fill="#ff4c00"/><path d="M362 640h5v1h-5zM360 641h8v1h-8zM359 642h10v1h-10zM359 643h10v1h-10zM358 644h11v1h-11zM358 645h11v1h-11zM358 646h11v1h-11zM358 647h11v1h-11zM358 648h11v1h-11zM358 649h11v1h-11zM358 650h10v1h-10zM358 651h10v1h-10zM359 652h8v1h-8zM360 653h6v1h-6z" fill="#ff8400"/><path d="M364 640h1v1h-1zM361 641h6v1h-6zM360 642h8v1h-8zM359 643h10v1h-10zM359 644h10v1h-10zM358 645h11v1h-11zM358 646h11v1h-11zM358 647h11v1h-11zM358 648h11v1h-11zM358 649h10v1h-10zM358 650h10v1h-10zM359 651h8v1h-8zM360 652h6v1h-6zM362 653h2v1h-2z" fill="#ffb400"/><path d="M362 641h4v1h-4zM361 642h6v1h-6zM360 643h8v1h-8zM359 644h9v1h-9zM359 645h9v1h-9zM359 646h9v1h-9zM359 647h9v1h-9zM359 648h9v1h-9zM359 649h9v1h-9zM359 650h8v1h-8zM360 651h6v1h-6zM361 652h4v1h-4z" fill="#ffdc00"/><path d="M362 642h4v1h-4zM361 643h6v1h-6zM360 644h8v1h-8zM359 645h9v1h-9zM359 646h9v1h-9zM359 647h9v1h-9zM359 648h9v1h-9zM359 649h8v1h-8zM360 650h6v1h-6zM361 651h4v1h-4z" fill="#ffff2c"/><path d="M364 642h1v1h-1zM362 643h4v1h-4zM361 644h6v1h-6zM360 645h7v1h-7zM360 646h7v1h-7zM360 647h7v1h-7zM360 648h7v1h-7zM360 649h6v1h-6zM361 650h5v1h-5zM362 651h2v1h-2z" fill="#ffffa0"/></g><rect x="343.0" y="623.0" width="52.70" height="42.70" fill="none" stroke="#3c5ce6" stroke-width="1.15"/><text x="344.80" y="631.00" font-size="7.7" text-anchor="start" fill="#3050b0" stroke="#3050b0" stroke-width="0.3" textLength="24.4" lengthAdjust="spacingAndGlyphs">95.36%</text><rect x="162.5" y="619.9" width="60.40" height="61.10" fill="#fff" stroke="#555" stroke-width="0.9"/><path d="M166.00 681.0v3.0M170.52 681.0v1.9M173.16 681.0v1.9M175.03 681.0v1.9M176.48 681.0v1.9M177.67 681.0v1.9M178.68 681.0v1.9M179.55 681.0v1.9M180.31 681.0v1.9M181.00 681.0v3.0M185.52 681.0v1.9M188.16 681.0v1.9M190.03 681.0v1.9M191.48 681.0v1.9M192.67 681.0v1.9M193.68 681.0v1.9M194.55 681.0v1.9M195.31 681.0v1.9M196.00 681.0v3.0M200.52 681.0v1.9M203.16 681.0v1.9M205.03 681.0v1.9M206.48 681.0v1.9M207.67 681.0v1.9M208.68 681.0v1.9M209.55 681.0v1.9M210.31 681.0v1.9M211.00 681.0v3.0M215.52 681.0v1.9M218.16 681.0v1.9M220.03 681.0v1.9M221.48 681.0v1.9M162.5 676.60h-1.9M162.5 674.03h-1.9M162.5 672.21h-1.9M162.5 670.80h-1.9M162.5 669.64h-1.9M162.5 668.66h-1.9M162.5 667.81h-1.9M162.5 667.07h-1.9M162.5 666.40h-3.0M162.5 662.00h-1.9M162.5 659.43h-1.9M162.5 657.61h-1.9M162.5 656.20h-1.9M162.5 655.04h-1.9M162.5 654.06h-1.9M162.5 653.21h-1.9M162.5 652.47h-1.9M162.5 651.80h-3.0M162.5 647.40h-1.9M162.5 644.83h-1.9M162.5 643.01h-1.9M162.5 641.60h-1.9M162.5 640.44h-1.9M162.5 639.46h-1.9M162.5 638.61h-1.9M162.5 637.87h-1.9M162.5 637.20h-3.0M162.5 632.80h-1.9M162.5 630.23h-1.9M162.5 628.41h-1.9M162.5 627.00h-1.9M162.5 625.84h-1.9M162.5 624.86h-1.9M162.5 624.01h-1.9M162.5 623.27h-1.9M162.5 622.60h-3.0" stroke="#1a1a1a" stroke-width="0.85" fill="none"/><path d="M195.5 637.4h.9v.9h-.9zM204.4 660.0h.9v.9h-.9zM197.7 634.5h.9v.9h-.9zM197.6 656.5h.9v.9h-.9zM196.6 658.3h.9v.9h-.9zM200.6 649.2h.9v.9h-.9zM200.2 637.0h.9v.9h-.9zM201.9 650.7h.9v.9h-.9zM195.3 638.4h.9v.9h-.9zM202.1 651.8h.9v.9h-.9zM199.4 653.3h.9v.9h-.9zM207.9 652.8h.9v.9h-.9zM198.7 676.6h.9v.9h-.9zM203.7 663.9h.9v.9h-.9zM205.0 649.6h.9v.9h-.9zM197.3 660.9h.9v.9h-.9zM199.8 640.9h.9v.9h-.9zM203.4 637.5h.9v.9h-.9zM200.8 661.0h.9v.9h-.9zM196.7 658.9h.9v.9h-.9zM198.6 651.7h.9v.9h-.9zM200.3 653.3h.9v.9h-.9zM207.2 639.4h.9v.9h-.9zM197.1 655.1h.9v.9h-.9zM205.4 658.0h.9v.9h-.9zM198.3 628.2h.9v.9h-.9zM203.0 643.6h.9v.9h-.9zM203.8 663.9h.9v.9h-.9zM203.1 651.9h.9v.9h-.9zM203.0 637.4h.9v.9h-.9zM207.4 656.2h.9v.9h-.9zM199.9 645.8h.9v.9h-.9zM202.8 637.8h.9v.9h-.9zM201.7 644.8h.9v.9h-.9zM200.4 662.5h.9v.9h-.9zM203.4 650.9h.9v.9h-.9zM204.9 662.9h.9v.9h-.9zM206.7 651.6h.9v.9h-.9zM214.0 652.3h.9v.9h-.9zM206.7 648.5h.9v.9h-.9zM207.5 643.7h.9v.9h-.9zM197.8 630.6h.9v.9h-.9zM200.4 643.6h.9v.9h-.9zM206.3 650.9h.9v.9h-.9zM204.6 652.7h.9v.9h-.9zM198.6 661.8h.9v.9h-.9zM200.0 641.2h.9v.9h-.9zM206.5 646.5h.9v.9h-.9zM203.8 663.3h.9v.9h-.9zM201.0 634.5h.9v.9h-.9zM201.7 640.6h.9v.9h-.9zM212.0 639.9h.9v.9h-.9zM208.3 639.0h.9v.9h-.9zM202.0 646.6h.9v.9h-.9zM203.6 664.5h.9v.9h-.9zM202.8 656.2h.9v.9h-.9zM201.7 658.3h.9v.9h-.9zM199.3 625.4h.9v.9h-.9zM196.2 664.3h.9v.9h-.9zM200.4 665.8h.9v.9h-.9zM200.6 659.8h.9v.9h-.9zM206.7 648.2h.9v.9h-.9zM204.9 641.1h.9v.9h-.9zM198.2 654.3h.9v.9h-.9zM203.5 635.2h.9v.9h-.9zM199.7 641.2h.9v.9h-.9zM201.7 658.4h.9v.9h-.9zM201.3 644.5h.9v.9h-.9zM204.4 631.3h.9v.9h-.9zM196.3 661.2h.9v.9h-.9zM205.1 651.9h.9v.9h-.9zM199.6 631.2h.9v.9h-.9zM203.3 651.5h.9v.9h-.9zM200.3 648.0h.9v.9h-.9zM205.5 666.5h.9v.9h-.9zM197.8 640.2h.9v.9h-.9zM202.0 644.5h.9v.9h-.9zM204.0 643.5h.9v.9h-.9zM200.6 646.7h.9v.9h-.9zM206.9 642.7h.9v.9h-.9zM202.7 637.0h.9v.9h-.9zM199.9 630.1h.9v.9h-.9zM212.6 660.9h.9v.9h-.9zM202.6 651.9h.9v.9h-.9zM206.4 649.0h.9v.9h-.9zM204.8 644.5h.9v.9h-.9zM202.7 648.5h.9v.9h-.9zM205.2 643.9h.9v.9h-.9zM201.2 646.0h.9v.9h-.9zM198.0 662.2h.9v.9h-.9zM205.0 636.5h.9v.9h-.9zM205.7 641.9h.9v.9h-.9zM197.0 641.9h.9v.9h-.9zM205.2 661.9h.9v.9h-.9zM206.2 654.9h.9v.9h-.9zM198.0 662.3h.9v.9h-.9zM203.5 661.8h.9v.9h-.9zM207.9 632.0h.9v.9h-.9zM197.3 653.4h.9v.9h-.9zM195.8 661.1h.9v.9h-.9zM201.5 641.4h.9v.9h-.9zM203.2 664.3h.9v.9h-.9zM198.4 638.7h.9v.9h-.9zM200.0 660.9h.9v.9h-.9zM204.7 649.4h.9v.9h-.9zM201.0 642.2h.9v.9h-.9zM205.9 678.8h.9v.9h-.9zM208.1 648.9h.9v.9h-.9zM204.5 662.4h.9v.9h-.9zM204.4 661.7h.9v.9h-.9zM202.1 659.4h.9v.9h-.9zM200.6 642.1h.9v.9h-.9zM203.3 648.7h.9v.9h-.9zM202.1 651.6h.9v.9h-.9zM198.3 648.3h.9v.9h-.9zM198.3 625.9h.9v.9h-.9zM202.7 650.5h.9v.9h-.9zM203.1 656.1h.9v.9h-.9zM207.8 661.9h.9v.9h-.9zM207.9 656.7h.9v.9h-.9zM196.2 626.5h.9v.9h-.9zM203.0 661.0h.9v.9h-.9zM207.3 644.6h.9v.9h-.9zM204.5 646.4h.9v.9h-.9zM203.3 648.4h.9v.9h-.9zM193.8 633.6h.9v.9h-.9zM204.0 650.4h.9v.9h-.9zM202.3 649.1h.9v.9h-.9zM199.8 655.2h.9v.9h-.9zM201.8 644.6h.9v.9h-.9zM201.8 622.6h.9v.9h-.9zM201.6 657.1h.9v.9h-.9zM201.2 643.6h.9v.9h-.9zM198.1 645.3h.9v.9h-.9zM201.5 648.6h.9v.9h-.9zM205.2 638.2h.9v.9h-.9zM203.6 645.3h.9v.9h-.9zM203.7 653.7h.9v.9h-.9zM195.2 638.6h.9v.9h-.9zM199.3 644.3h.9v.9h-.9zM207.2 671.4h.9v.9h-.9zM206.3 662.3h.9v.9h-.9zM198.1 641.0h.9v.9h-.9zM206.0 664.0h.9v.9h-.9zM204.7 649.3h.9v.9h-.9zM201.2 634.3h.9v.9h-.9zM206.1 656.5h.9v.9h-.9zM198.0 672.5h.9v.9h-.9zM198.1 631.5h.9v.9h-.9zM208.1 660.5h.9v.9h-.9zM197.8 656.1h.9v.9h-.9zM200.8 641.5h.9v.9h-.9zM205.3 670.1h.9v.9h-.9zM197.6 655.7h.9v.9h-.9zM204.6 660.7h.9v.9h-.9zM204.1 651.3h.9v.9h-.9zM203.4 663.2h.9v.9h-.9zM204.7 632.9h.9v.9h-.9zM205.6 647.2h.9v.9h-.9zM203.0 657.3h.9v.9h-.9zM199.2 631.6h.9v.9h-.9zM208.2 658.9h.9v.9h-.9zM200.5 637.7h.9v.9h-.9zM208.1 632.8h.9v.9h-.9zM204.4 650.7h.9v.9h-.9zM204.8 657.4h.9v.9h-.9zM206.5 642.0h.9v.9h-.9zM201.9 667.6h.9v.9h-.9zM200.3 651.1h.9v.9h-.9zM206.1 642.1h.9v.9h-.9zM208.6 660.8h.9v.9h-.9zM201.0 646.0h.9v.9h-.9zM204.4 643.0h.9v.9h-.9zM204.7 666.3h.9v.9h-.9zM205.1 641.7h.9v.9h-.9zM206.5 656.0h.9v.9h-.9zM197.7 653.7h.9v.9h-.9zM199.8 642.6h.9v.9h-.9zM213.4 651.2h.9v.9h-.9zM205.4 663.7h.9v.9h-.9zM202.2 622.7h.9v.9h-.9zM207.3 651.0h.9v.9h-.9zM207.0 653.4h.9v.9h-.9zM205.5 657.0h.9v.9h-.9zM199.7 670.1h.9v.9h-.9zM201.3 661.5h.9v.9h-.9zM205.6 641.9h.9v.9h-.9zM203.3 641.5h.9v.9h-.9zM203.5 667.3h.9v.9h-.9zM199.7 659.0h.9v.9h-.9zM199.8 648.7h.9v.9h-.9zM200.1 666.0h.9v.9h-.9zM199.8 640.0h.9v.9h-.9zM199.0 655.9h.9v.9h-.9zM203.0 643.8h.9v.9h-.9zM205.8 663.3h.9v.9h-.9zM204.2 651.8h.9v.9h-.9zM206.1 649.6h.9v.9h-.9zM211.1 670.7h.9v.9h-.9zM199.4 647.5h.9v.9h-.9zM205.4 657.9h.9v.9h-.9zM210.3 652.4h.9v.9h-.9zM199.4 649.3h.9v.9h-.9zM200.9 642.7h.9v.9h-.9zM199.7 643.4h.9v.9h-.9zM197.5 636.5h.9v.9h-.9zM212.0 653.9h.9v.9h-.9zM204.0 652.4h.9v.9h-.9zM206.2 640.8h.9v.9h-.9zM202.7 658.8h.9v.9h-.9zM201.3 660.3h.9v.9h-.9zM201.5 652.2h.9v.9h-.9zM203.2 663.2h.9v.9h-.9zM205.0 649.9h.9v.9h-.9zM207.9 666.3h.9v.9h-.9zM204.1 627.0h.9v.9h-.9zM206.4 651.2h.9v.9h-.9zM201.9 652.4h.9v.9h-.9zM201.1 648.8h.9v.9h-.9zM207.0 661.4h.9v.9h-.9zM200.3 641.9h.9v.9h-.9zM204.2 637.0h.9v.9h-.9zM205.8 649.8h.9v.9h-.9zM201.0 633.3h.9v.9h-.9zM196.7 659.8h.9v.9h-.9zM208.2 631.9h.9v.9h-.9zM207.3 649.5h.9v.9h-.9zM200.6 631.6h.9v.9h-.9zM198.2 647.4h.9v.9h-.9zM196.6 663.6h.9v.9h-.9zM204.2 645.2h.9v.9h-.9zM200.6 656.9h.9v.9h-.9zM198.9 658.5h.9v.9h-.9zM207.4 636.9h.9v.9h-.9zM200.2 642.1h.9v.9h-.9zM202.7 676.6h.9v.9h-.9zM204.7 645.7h.9v.9h-.9zM200.0 652.1h.9v.9h-.9zM202.7 661.6h.9v.9h-.9zM198.5 647.4h.9v.9h-.9zM199.9 640.7h.9v.9h-.9zM202.6 655.5h.9v.9h-.9zM202.2 634.0h.9v.9h-.9zM204.7 642.7h.9v.9h-.9zM204.6 642.4h.9v.9h-.9zM198.6 668.2h.9v.9h-.9zM201.5 640.4h.9v.9h-.9zM200.4 656.7h.9v.9h-.9zM199.3 654.8h.9v.9h-.9zM198.6 651.4h.9v.9h-.9zM206.9 659.4h.9v.9h-.9zM197.4 640.3h.9v.9h-.9zM201.2 654.6h.9v.9h-.9zM197.5 630.0h.9v.9h-.9zM202.5 652.5h.9v.9h-.9zM201.3 652.1h.9v.9h-.9zM203.9 648.9h.9v.9h-.9zM206.4 637.0h.9v.9h-.9zM203.9 632.3h.9v.9h-.9zM204.2 648.9h.9v.9h-.9zM207.1 634.5h.9v.9h-.9zM198.4 664.4h.9v.9h-.9zM198.1 660.7h.9v.9h-.9zM203.3 663.7h.9v.9h-.9zM206.8 649.7h.9v.9h-.9zM209.9 651.4h.9v.9h-.9zM199.2 640.6h.9v.9h-.9zM196.1 640.6h.9v.9h-.9zM203.3 647.4h.9v.9h-.9zM201.0 628.2h.9v.9h-.9zM200.5 647.7h.9v.9h-.9zM203.7 651.6h.9v.9h-.9zM198.8 655.0h.9v.9h-.9zM198.6 655.2h.9v.9h-.9zM200.1 654.1h.9v.9h-.9zM196.3 664.9h.9v.9h-.9zM204.8 652.3h.9v.9h-.9zM205.0 634.2h.9v.9h-.9zM199.9 645.6h.9v.9h-.9zM200.7 639.4h.9v.9h-.9zM205.3 662.0h.9v.9h-.9zM208.3 645.4h.9v.9h-.9zM203.7 673.3h.9v.9h-.9zM201.9 662.4h.9v.9h-.9zM199.0 654.2h.9v.9h-.9zM204.5 662.2h.9v.9h-.9zM205.0 677.7h.9v.9h-.9zM208.3 621.4h.9v.9h-.9zM206.1 662.0h.9v.9h-.9zM208.0 660.4h.9v.9h-.9zM200.1 640.3h.9v.9h-.9zM202.1 657.5h.9v.9h-.9zM205.8 653.7h.9v.9h-.9zM201.6 642.1h.9v.9h-.9zM207.0 647.9h.9v.9h-.9zM199.5 679.2h.9v.9h-.9zM198.0 659.0h.9v.9h-.9zM203.3 660.6h.9v.9h-.9zM206.7 649.8h.9v.9h-.9zM203.6 639.1h.9v.9h-.9zM203.5 650.5h.9v.9h-.9zM203.7 634.5h.9v.9h-.9zM199.2 652.7h.9v.9h-.9zM201.3 641.1h.9v.9h-.9zM205.6 664.8h.9v.9h-.9zM203.9 667.4h.9v.9h-.9zM203.4 657.4h.9v.9h-.9zM204.2 646.3h.9v.9h-.9zM201.5 645.7h.9v.9h-.9zM202.4 634.7h.9v.9h-.9zM203.7 664.3h.9v.9h-.9zM203.1 656.6h.9v.9h-.9zM204.4 648.3h.9v.9h-.9zM211.0 656.5h.9v.9h-.9zM201.5 652.7h.9v.9h-.9zM202.2 652.9h.9v.9h-.9zM207.2 675.2h.9v.9h-.9zM197.8 656.8h.9v.9h-.9zM199.7 657.5h.9v.9h-.9zM197.5 643.1h.9v.9h-.9zM199.4 663.9h.9v.9h-.9zM204.6 655.2h.9v.9h-.9zM208.4 635.6h.9v.9h-.9zM202.5 670.2h.9v.9h-.9zM205.3 657.0h.9v.9h-.9zM193.6 637.7h.9v.9h-.9zM200.8 659.4h.9v.9h-.9zM198.7 643.7h.9v.9h-.9zM200.9 647.8h.9v.9h-.9zM200.4 654.6h.9v.9h-.9zM203.5 633.4h.9v.9h-.9zM205.5 674.0h.9v.9h-.9zM199.1 653.6h.9v.9h-.9zM204.0 672.7h.9v.9h-.9zM197.0 659.6h.9v.9h-.9zM202.1 663.4h.9v.9h-.9zM207.5 659.3h.9v.9h-.9zM203.1 666.8h.9v.9h-.9zM202.1 653.6h.9v.9h-.9zM202.9 664.4h.9v.9h-.9zM197.2 656.3h.9v.9h-.9zM203.6 635.8h.9v.9h-.9zM201.6 630.4h.9v.9h-.9zM202.2 649.3h.9v.9h-.9zM206.8 644.6h.9v.9h-.9zM201.4 649.1h.9v.9h-.9zM198.5 678.4h.9v.9h-.9zM205.1 647.7h.9v.9h-.9zM201.3 644.8h.9v.9h-.9zM194.1 636.5h.9v.9h-.9zM202.8 650.9h.9v.9h-.9zM201.6 655.6h.9v.9h-.9zM205.7 648.2h.9v.9h-.9zM199.3 661.9h.9v.9h-.9zM203.6 635.0h.9v.9h-.9zM201.2 655.5h.9v.9h-.9zM198.6 662.0h.9v.9h-.9zM204.3 663.6h.9v.9h-.9zM205.2 667.9h.9v.9h-.9zM202.8 628.9h.9v.9h-.9zM199.7 646.4h.9v.9h-.9zM197.5 678.7h.9v.9h-.9zM199.3 658.1h.9v.9h-.9zM209.4 643.1h.9v.9h-.9zM202.9 676.4h.9v.9h-.9zM205.1 640.2h.9v.9h-.9zM199.7 652.9h.9v.9h-.9zM203.7 641.4h.9v.9h-.9zM200.1 655.8h.9v.9h-.9zM206.6 638.6h.9v.9h-.9zM203.4 647.9h.9v.9h-.9zM206.4 632.8h.9v.9h-.9zM202.1 655.5h.9v.9h-.9zM199.5 657.2h.9v.9h-.9zM206.4 667.7h.9v.9h-.9zM206.9 671.5h.9v.9h-.9zM200.0 656.6h.9v.9h-.9zM197.5 662.5h.9v.9h-.9zM205.1 661.9h.9v.9h-.9zM200.5 647.7h.9v.9h-.9zM206.3 664.4h.9v.9h-.9zM202.3 664.9h.9v.9h-.9zM201.6 662.3h.9v.9h-.9zM203.4 647.6h.9v.9h-.9zM198.7 652.1h.9v.9h-.9zM210.2 656.6h.9v.9h-.9zM205.5 627.9h.9v.9h-.9zM207.9 635.8h.9v.9h-.9zM201.3 653.1h.9v.9h-.9zM199.0 648.0h.9v.9h-.9zM211.5 670.3h.9v.9h-.9zM205.7 646.4h.9v.9h-.9zM203.3 654.0h.9v.9h-.9zM204.2 662.9h.9v.9h-.9zM198.9 659.6h.9v.9h-.9zM203.7 659.0h.9v.9h-.9zM195.7 661.3h.9v.9h-.9zM203.5 652.0h.9v.9h-.9zM202.7 665.7h.9v.9h-.9zM200.3 656.8h.9v.9h-.9zM196.3 664.5h.9v.9h-.9zM205.2 672.9h.9v.9h-.9zM199.4 653.1h.9v.9h-.9zM202.4 633.8h.9v.9h-.9zM205.6 668.1h.9v.9h-.9zM199.5 648.2h.9v.9h-.9zM199.1 640.1h.9v.9h-.9zM219.0 657.2h.9v.9h-.9zM202.4 653.6h.9v.9h-.9zM205.6 659.0h.9v.9h-.9zM204.1 657.9h.9v.9h-.9zM203.7 658.6h.9v.9h-.9zM200.6 659.5h.9v.9h-.9zM202.7 647.0h.9v.9h-.9zM208.5 661.4h.9v.9h-.9zM206.0 636.3h.9v.9h-.9zM198.0 658.4h.9v.9h-.9zM210.9 654.1h.9v.9h-.9zM206.6 636.1h.9v.9h-.9zM198.2 625.7h.9v.9h-.9zM206.3 651.9h.9v.9h-.9zM200.8 653.1h.9v.9h-.9zM202.7 651.3h.9v.9h-.9zM201.9 663.4h.9v.9h-.9zM201.2 657.3h.9v.9h-.9zM201.8 657.1h.9v.9h-.9zM198.9 655.3h.9v.9h-.9zM201.7 645.6h.9v.9h-.9zM211.5 652.5h.9v.9h-.9zM204.9 653.3h.9v.9h-.9zM202.5 653.7h.9v.9h-.9zM200.7 661.6h.9v.9h-.9zM199.2 661.0h.9v.9h-.9zM202.3 660.3h.9v.9h-.9zM208.0 643.3h.9v.9h-.9zM204.5 652.1h.9v.9h-.9zM206.6 663.2h.9v.9h-.9zM207.8 644.9h.9v.9h-.9zM200.6 664.4h.9v.9h-.9zM201.4 648.4h.9v.9h-.9zM203.6 645.7h.9v.9h-.9zM209.7 664.6h.9v.9h-.9zM207.1 641.8h.9v.9h-.9zM204.9 652.4h.9v.9h-.9zM198.5 670.1h.9v.9h-.9zM199.2 637.4h.9v.9h-.9zM202.6 647.2h.9v.9h-.9zM198.2 645.2h.9v.9h-.9zM202.5 663.8h.9v.9h-.9zM197.7 636.3h.9v.9h-.9zM202.0 659.0h.9v.9h-.9zM207.8 658.1h.9v.9h-.9zM202.9 647.7h.9v.9h-.9zM207.9 629.6h.9v.9h-.9zM201.7 629.5h.9v.9h-.9zM203.8 674.9h.9v.9h-.9zM206.6 647.1h.9v.9h-.9zM202.4 658.6h.9v.9h-.9zM203.7 629.5h.9v.9h-.9zM209.4 640.8h.9v.9h-.9zM211.6 639.6h.9v.9h-.9zM198.6 663.1h.9v.9h-.9zM202.0 665.3h.9v.9h-.9zM202.5 651.2h.9v.9h-.9zM204.0 671.6h.9v.9h-.9zM203.9 657.9h.9v.9h-.9zM199.2 644.1h.9v.9h-.9zM205.9 650.9h.9v.9h-.9zM196.0 679.1h.9v.9h-.9zM199.5 653.4h.9v.9h-.9zM206.5 653.7h.9v.9h-.9zM201.4 646.1h.9v.9h-.9zM199.7 648.9h.9v.9h-.9zM202.6 638.3h.9v.9h-.9zM206.6 665.3h.9v.9h-.9zM203.5 670.5h.9v.9h-.9zM208.2 652.9h.9v.9h-.9zM205.8 676.8h.9v.9h-.9zM202.3 678.0h.9v.9h-.9zM201.0 660.5h.9v.9h-.9zM207.3 663.4h.9v.9h-.9zM204.3 634.9h.9v.9h-.9zM198.4 658.7h.9v.9h-.9zM204.6 658.3h.9v.9h-.9zM202.5 660.7h.9v.9h-.9zM201.1 663.8h.9v.9h-.9zM199.2 658.7h.9v.9h-.9zM206.7 641.7h.9v.9h-.9zM205.4 656.0h.9v.9h-.9zM208.6 670.7h.9v.9h-.9zM206.0 659.7h.9v.9h-.9zM205.2 647.0h.9v.9h-.9zM202.0 653.1h.9v.9h-.9zM204.2 634.6h.9v.9h-.9zM200.5 654.7h.9v.9h-.9zM201.2 629.5h.9v.9h-.9zM201.7 634.6h.9v.9h-.9zM200.8 630.8h.9v.9h-.9zM201.9 650.6h.9v.9h-.9zM201.9 630.5h.9v.9h-.9zM198.6 634.1h.9v.9h-.9zM200.4 644.8h.9v.9h-.9zM198.6 642.1h.9v.9h-.9zM205.1 646.1h.9v.9h-.9zM198.6 645.6h.9v.9h-.9zM202.2 659.1h.9v.9h-.9zM200.3 637.6h.9v.9h-.9zM204.2 654.2h.9v.9h-.9zM200.9 674.8h.9v.9h-.9zM206.2 658.9h.9v.9h-.9zM198.4 667.3h.9v.9h-.9zM201.5 679.8h.9v.9h-.9zM201.1 675.2h.9v.9h-.9zM206.2 633.4h.9v.9h-.9zM201.0 648.8h.9v.9h-.9zM198.8 651.8h.9v.9h-.9zM202.7 642.8h.9v.9h-.9zM202.5 645.7h.9v.9h-.9zM200.3 652.1h.9v.9h-.9zM202.5 644.5h.9v.9h-.9zM202.2 650.2h.9v.9h-.9zM203.1 640.8h.9v.9h-.9zM199.7 653.5h.9v.9h-.9zM199.1 648.8h.9v.9h-.9zM208.0 639.4h.9v.9h-.9zM201.7 644.0h.9v.9h-.9zM205.9 635.0h.9v.9h-.9zM199.3 661.2h.9v.9h-.9zM212.2 661.3h.9v.9h-.9zM205.8 650.1h.9v.9h-.9zM201.5 637.3h.9v.9h-.9zM214.5 657.5h.9v.9h-.9zM198.8 640.2h.9v.9h-.9zM199.2 644.6h.9v.9h-.9zM205.1 659.7h.9v.9h-.9zM206.0 657.2h.9v.9h-.9zM205.1 664.2h.9v.9h-.9zM205.8 664.4h.9v.9h-.9zM197.1 672.6h.9v.9h-.9zM212.8 648.6h.9v.9h-.9zM202.2 672.9h.9v.9h-.9zM205.5 650.1h.9v.9h-.9zM207.5 634.9h.9v.9h-.9zM208.6 630.5h.9v.9h-.9zM199.6 646.9h.9v.9h-.9zM196.7 660.0h.9v.9h-.9zM201.7 649.9h.9v.9h-.9zM208.7 655.3h.9v.9h-.9zM203.9 649.5h.9v.9h-.9zM205.1 651.8h.9v.9h-.9zM210.5 642.4h.9v.9h-.9zM205.1 650.1h.9v.9h-.9zM205.1 637.6h.9v.9h-.9zM197.6 657.7h.9v.9h-.9zM212.1 664.0h.9v.9h-.9zM211.0 647.4h.9v.9h-.9zM205.0 635.4h.9v.9h-.9zM199.6 632.6h.9v.9h-.9zM204.5 642.4h.9v.9h-.9zM197.0 677.1h.9v.9h-.9zM195.9 660.5h.9v.9h-.9zM204.2 655.0h.9v.9h-.9zM209.3 666.6h.9v.9h-.9zM199.2 665.8h.9v.9h-.9zM205.7 641.8h.9v.9h-.9zM198.2 661.0h.9v.9h-.9zM200.3 668.0h.9v.9h-.9zM203.2 669.0h.9v.9h-.9zM204.8 656.4h.9v.9h-.9zM198.0 653.3h.9v.9h-.9zM205.6 653.8h.9v.9h-.9zM203.2 632.6h.9v.9h-.9zM202.7 632.5h.9v.9h-.9zM201.9 661.8h.9v.9h-.9zM202.7 653.3h.9v.9h-.9zM200.6 665.3h.9v.9h-.9zM203.3 672.3h.9v.9h-.9zM200.4 655.5h.9v.9h-.9zM202.3 658.1h.9v.9h-.9zM201.2 645.1h.9v.9h-.9zM199.2 626.3h.9v.9h-.9zM199.3 676.4h.9v.9h-.9zM201.4 635.7h.9v.9h-.9zM203.0 657.6h.9v.9h-.9zM204.6 657.9h.9v.9h-.9zM202.1 623.8h.9v.9h-.9zM200.3 651.0h.9v.9h-.9zM205.4 637.9h.9v.9h-.9zM201.4 655.3h.9v.9h-.9zM200.5 645.8h.9v.9h-.9zM198.8 640.1h.9v.9h-.9zM207.6 665.4h.9v.9h-.9zM201.8 633.0h.9v.9h-.9zM198.6 658.9h.9v.9h-.9zM206.5 665.6h.9v.9h-.9zM208.7 645.0h.9v.9h-.9zM208.3 660.4h.9v.9h-.9zM203.5 652.6h.9v.9h-.9zM207.3 657.6h.9v.9h-.9zM208.8 661.8h.9v.9h-.9zM205.0 665.3h.9v.9h-.9zM202.9 660.8h.9v.9h-.9zM199.0 639.1h.9v.9h-.9zM205.9 663.1h.9v.9h-.9zM206.5 648.4h.9v.9h-.9zM202.5 656.6h.9v.9h-.9zM203.5 655.2h.9v.9h-.9zM200.1 635.4h.9v.9h-.9zM198.7 639.0h.9v.9h-.9zM201.2 634.8h.9v.9h-.9zM202.0 648.7h.9v.9h-.9zM205.9 648.6h.9v.9h-.9zM199.8 665.4h.9v.9h-.9zM199.7 654.9h.9v.9h-.9zM200.4 633.7h.9v.9h-.9zM199.3 667.2h.9v.9h-.9zM204.0 670.3h.9v.9h-.9zM198.3 641.5h.9v.9h-.9zM204.1 656.3h.9v.9h-.9zM204.3 670.8h.9v.9h-.9zM208.8 647.9h.9v.9h-.9zM204.0 667.8h.9v.9h-.9zM205.0 661.9h.9v.9h-.9zM211.1 651.9h.9v.9h-.9zM199.6 671.2h.9v.9h-.9zM201.9 661.5h.9v.9h-.9zM199.0 650.3h.9v.9h-.9zM200.2 638.8h.9v.9h-.9zM205.1 652.7h.9v.9h-.9zM202.0 659.9h.9v.9h-.9zM204.4 639.8h.9v.9h-.9zM200.6 662.5h.9v.9h-.9zM199.9 648.9h.9v.9h-.9zM200.4 650.0h.9v.9h-.9zM201.4 655.8h.9v.9h-.9zM203.5 654.7h.9v.9h-.9zM199.8 657.6h.9v.9h-.9zM206.6 666.0h.9v.9h-.9zM201.4 649.4h.9v.9h-.9zM199.8 665.3h.9v.9h-.9zM205.4 632.8h.9v.9h-.9zM201.2 667.0h.9v.9h-.9zM201.5 658.1h.9v.9h-.9zM210.1 669.7h.9v.9h-.9zM204.3 635.2h.9v.9h-.9zM205.8 659.7h.9v.9h-.9zM207.6 659.8h.9v.9h-.9zM202.3 622.0h.9v.9h-.9zM198.1 650.4h.9v.9h-.9zM211.0 644.6h.9v.9h-.9zM204.0 659.1h.9v.9h-.9zM209.7 656.4h.9v.9h-.9zM202.5 643.6h.9v.9h-.9zM199.6 649.1h.9v.9h-.9zM205.1 659.7h.9v.9h-.9zM206.0 654.5h.9v.9h-.9zM199.9 641.3h.9v.9h-.9zM211.1 651.2h.9v.9h-.9zM197.9 638.3h.9v.9h-.9zM196.6 656.6h.9v.9h-.9zM213.8 635.8h.9v.9h-.9zM199.9 668.8h.9v.9h-.9zM201.7 653.3h.9v.9h-.9zM206.6 665.6h.9v.9h-.9zM199.8 660.8h.9v.9h-.9zM202.4 656.0h.9v.9h-.9zM212.4 635.5h.9v.9h-.9zM202.4 661.6h.9v.9h-.9zM203.9 654.5h.9v.9h-.9zM196.6 660.9h.9v.9h-.9zM204.1 668.3h.9v.9h-.9zM199.4 647.6h.9v.9h-.9zM206.5 635.8h.9v.9h-.9zM205.8 660.7h.9v.9h-.9zM200.2 660.2h.9v.9h-.9zM203.8 644.6h.9v.9h-.9zM197.0 639.6h.9v.9h-.9zM206.9 640.3h.9v.9h-.9zM200.0 659.5h.9v.9h-.9zM205.0 649.0h.9v.9h-.9zM198.2 637.1h.9v.9h-.9zM204.0 628.4h.9v.9h-.9zM202.8 629.1h.9v.9h-.9zM201.5 627.6h.9v.9h-.9zM196.4 661.8h.9v.9h-.9zM198.6 658.4h.9v.9h-.9zM202.4 671.3h.9v.9h-.9zM194.7 634.2h.9v.9h-.9zM206.3 649.1h.9v.9h-.9zM199.7 656.0h.9v.9h-.9zM201.9 650.3h.9v.9h-.9zM206.4 652.5h.9v.9h-.9zM204.4 644.6h.9v.9h-.9zM206.5 653.2h.9v.9h-.9zM201.8 658.7h.9v.9h-.9zM198.9 637.0h.9v.9h-.9zM204.0 660.0h.9v.9h-.9zM203.6 655.5h.9v.9h-.9zM201.1 651.1h.9v.9h-.9zM201.6 668.2h.9v.9h-.9zM203.0 639.0h.9v.9h-.9zM202.1 641.8h.9v.9h-.9zM210.0 657.9h.9v.9h-.9zM206.4 647.5h.9v.9h-.9zM207.4 676.4h.9v.9h-.9zM206.0 660.3h.9v.9h-.9zM202.9 633.1h.9v.9h-.9zM204.2 635.7h.9v.9h-.9zM197.1 666.5h.9v.9h-.9zM201.8 655.7h.9v.9h-.9zM207.6 653.6h.9v.9h-.9zM208.9 646.5h.9v.9h-.9zM201.8 649.2h.9v.9h-.9zM202.1 656.4h.9v.9h-.9zM200.5 642.9h.9v.9h-.9zM203.1 671.3h.9v.9h-.9zM205.4 655.2h.9v.9h-.9zM196.6 638.4h.9v.9h-.9zM206.9 643.7h.9v.9h-.9zM202.0 664.4h.9v.9h-.9zM198.9 650.3h.9v.9h-.9zM207.0 654.8h.9v.9h-.9zM198.7 636.5h.9v.9h-.9zM201.6 678.1h.9v.9h-.9zM206.9 627.4h.9v.9h-.9zM204.3 629.5h.9v.9h-.9zM203.0 638.4h.9v.9h-.9zM204.8 653.9h.9v.9h-.9zM206.4 671.5h.9v.9h-.9zM198.9 655.5h.9v.9h-.9zM204.7 646.1h.9v.9h-.9zM202.0 651.0h.9v.9h-.9zM204.2 657.5h.9v.9h-.9zM206.8 637.9h.9v.9h-.9zM203.0 657.6h.9v.9h-.9zM200.8 656.1h.9v.9h-.9zM206.4 643.7h.9v.9h-.9zM202.1 647.1h.9v.9h-.9zM192.9 632.2h.9v.9h-.9zM186.3 633.9h.9v.9h-.9zM188.6 631.1h.9v.9h-.9zM182.8 635.3h.9v.9h-.9zM188.5 632.4h.9v.9h-.9zM200.9 643.1h.9v.9h-.9zM184.2 633.6h.9v.9h-.9zM191.7 630.6h.9v.9h-.9zM184.8 632.3h.9v.9h-.9zM197.6 632.2h.9v.9h-.9zM192.4 630.1h.9v.9h-.9zM194.3 636.5h.9v.9h-.9zM202.4 632.6h.9v.9h-.9zM196.2 634.8h.9v.9h-.9zM194.0 635.8h.9v.9h-.9zM204.4 639.6h.9v.9h-.9zM194.9 628.3h.9v.9h-.9zM195.2 639.2h.9v.9h-.9zM184.9 634.2h.9v.9h-.9zM173.1 643.2h.9v.9h-.9zM198.5 635.6h.9v.9h-.9zM177.1 630.8h.9v.9h-.9zM180.4 633.5h.9v.9h-.9zM195.6 632.5h.9v.9h-.9zM192.1 631.4h.9v.9h-.9zM190.2 633.5h.9v.9h-.9zM184.0 632.8h.9v.9h-.9zM193.0 637.2h.9v.9h-.9zM185.3 630.7h.9v.9h-.9zM198.1 641.2h.9v.9h-.9zM184.1 636.0h.9v.9h-.9zM198.4 633.7h.9v.9h-.9zM190.4 634.7h.9v.9h-.9zM188.7 634.6h.9v.9h-.9zM175.6 632.1h.9v.9h-.9zM184.1 630.8h.9v.9h-.9zM190.9 631.7h.9v.9h-.9zM200.3 640.8h.9v.9h-.9zM204.7 638.8h.9v.9h-.9zM177.4 630.3h.9v.9h-.9zM195.6 639.7h.9v.9h-.9zM188.7 635.5h.9v.9h-.9zM184.2 634.6h.9v.9h-.9zM189.9 632.5h.9v.9h-.9zM194.2 633.8h.9v.9h-.9zM170.3 624.5h.9v.9h-.9zM184.2 629.2h.9v.9h-.9zM177.9 637.6h.9v.9h-.9zM192.3 633.0h.9v.9h-.9zM172.8 641.4h.9v.9h-.9zM201.0 632.6h.9v.9h-.9zM191.2 634.7h.9v.9h-.9zM189.5 630.6h.9v.9h-.9zM175.8 636.7h.9v.9h-.9zM189.7 630.7h.9v.9h-.9zM200.2 635.7h.9v.9h-.9zM178.9 626.3h.9v.9h-.9zM188.7 634.0h.9v.9h-.9zM198.4 637.3h.9v.9h-.9zM179.2 634.3h.9v.9h-.9zM187.0 631.6h.9v.9h-.9zM192.4 629.3h.9v.9h-.9zM194.5 627.1h.9v.9h-.9zM184.8 632.4h.9v.9h-.9zM176.8 629.7h.9v.9h-.9zM187.5 632.9h.9v.9h-.9zM182.0 634.5h.9v.9h-.9zM182.9 628.3h.9v.9h-.9zM190.5 627.6h.9v.9h-.9zM194.9 629.8h.9v.9h-.9zM192.1 628.9h.9v.9h-.9zM195.6 638.9h.9v.9h-.9zM196.2 634.7h.9v.9h-.9zM202.4 641.1h.9v.9h-.9zM193.2 634.6h.9v.9h-.9zM200.7 639.4h.9v.9h-.9zM191.0 634.9h.9v.9h-.9zM204.5 629.0h.9v.9h-.9zM182.8 631.7h.9v.9h-.9zM170.4 629.0h.9v.9h-.9zM196.1 637.1h.9v.9h-.9zM182.1 631.2h.9v.9h-.9zM183.1 631.1h.9v.9h-.9zM199.2 637.5h.9v.9h-.9zM195.2 635.4h.9v.9h-.9zM189.7 632.4h.9v.9h-.9zM198.5 639.9h.9v.9h-.9zM184.5 634.4h.9v.9h-.9zM178.3 629.9h.9v.9h-.9zM192.3 627.4h.9v.9h-.9zM187.9 625.6h.9v.9h-.9zM198.1 639.6h.9v.9h-.9zM193.9 637.3h.9v.9h-.9zM185.9 634.9h.9v.9h-.9zM195.1 633.4h.9v.9h-.9zM179.6 633.6h.9v.9h-.9zM180.1 629.0h.9v.9h-.9zM197.9 635.9h.9v.9h-.9zM189.9 630.4h.9v.9h-.9zM183.7 634.2h.9v.9h-.9zM186.6 634.8h.9v.9h-.9zM184.7 631.3h.9v.9h-.9zM200.9 637.5h.9v.9h-.9zM195.9 639.1h.9v.9h-.9zM185.2 631.5h.9v.9h-.9zM199.8 636.1h.9v.9h-.9zM182.5 628.3h.9v.9h-.9zM199.5 630.2h.9v.9h-.9zM185.5 632.2h.9v.9h-.9zM193.0 631.9h.9v.9h-.9zM195.0 634.6h.9v.9h-.9zM186.0 632.5h.9v.9h-.9zM190.0 627.8h.9v.9h-.9zM178.6 636.2h.9v.9h-.9zM177.8 629.7h.9v.9h-.9zM191.7 631.6h.9v.9h-.9zM186.0 630.9h.9v.9h-.9zM204.9 634.4h.9v.9h-.9zM203.6 648.8h.9v.9h-.9zM182.3 634.5h.9v.9h-.9zM192.1 634.5h.9v.9h-.9zM192.8 636.7h.9v.9h-.9zM178.7 639.4h.9v.9h-.9zM196.5 627.8h.9v.9h-.9zM178.5 633.4h.9v.9h-.9zM189.1 631.1h.9v.9h-.9zM188.3 634.7h.9v.9h-.9zM184.6 631.6h.9v.9h-.9zM187.9 622.9h.9v.9h-.9zM194.9 633.8h.9v.9h-.9zM191.7 628.2h.9v.9h-.9zM189.1 633.5h.9v.9h-.9zM179.7 634.6h.9v.9h-.9zM197.0 639.1h.9v.9h-.9zM197.6 634.9h.9v.9h-.9zM174.8 631.2h.9v.9h-.9zM194.0 632.4h.9v.9h-.9zM176.9 631.9h.9v.9h-.9zM198.1 635.4h.9v.9h-.9zM193.9 630.8h.9v.9h-.9zM192.2 628.7h.9v.9h-.9zM189.4 630.7h.9v.9h-.9zM203.5 636.3h.9v.9h-.9zM186.9 628.7h.9v.9h-.9zM187.2 629.1h.9v.9h-.9zM189.3 624.3h.9v.9h-.9zM177.7 645.1h.9v.9h-.9zM192.9 630.7h.9v.9h-.9zM183.0 634.4h.9v.9h-.9zM180.2 635.9h.9v.9h-.9zM196.4 635.1h.9v.9h-.9zM199.7 646.0h.9v.9h-.9zM188.7 633.6h.9v.9h-.9zM198.2 644.6h.9v.9h-.9zM177.0 659.1h.9v.9h-.9zM188.4 633.6h.9v.9h-.9zM199.9 648.5h.9v.9h-.9zM172.1 655.4h.9v.9h-.9zM199.4 669.5h.9v.9h-.9zM197.0 659.5h.9v.9h-.9zM201.0 647.0h.9v.9h-.9zM176.7 647.7h.9v.9h-.9zM197.9 672.9h.9v.9h-.9zM200.7 652.8h.9v.9h-.9zM194.1 676.1h.9v.9h-.9zM167.7 675.1h.9v.9h-.9zM180.3 638.1h.9v.9h-.9zM176.4 661.8h.9v.9h-.9zM196.3 660.7h.9v.9h-.9zM200.0 672.9h.9v.9h-.9zM199.3 677.1h.9v.9h-.9zM197.7 665.7h.9v.9h-.9zM172.5 658.8h.9v.9h-.9zM195.5 657.9h.9v.9h-.9zM201.8 659.7h.9v.9h-.9zM211.3 678.4h.9v.9h-.9zM199.3 663.5h.9v.9h-.9zM201.0 647.4h.9v.9h-.9zM191.2 678.2h.9v.9h-.9zM199.1 675.0h.9v.9h-.9zM197.3 660.4h.9v.9h-.9zM181.1 637.9h.9v.9h-.9zM185.8 625.6h.9v.9h-.9zM179.7 631.5h.9v.9h-.9zM204.8 649.2h.9v.9h-.9zM167.3 644.6h.9v.9h-.9zM198.6 642.7h.9v.9h-.9zM196.6 662.2h.9v.9h-.9zM193.8 629.1h.9v.9h-.9zM201.0 667.6h.9v.9h-.9zM174.1 643.9h.9v.9h-.9zM195.2 630.7h.9v.9h-.9zM183.9 678.4h.9v.9h-.9zM182.3 628.7h.9v.9h-.9zM198.5 649.9h.9v.9h-.9zM200.9 673.2h.9v.9h-.9zM203.1 674.9h.9v.9h-.9zM200.5 664.4h.9v.9h-.9zM171.7 664.5h.9v.9h-.9zM197.0 663.7h.9v.9h-.9zM197.5 662.2h.9v.9h-.9zM194.4 629.5h.9v.9h-.9zM176.8 637.8h.9v.9h-.9zM174.5 662.9h.9v.9h-.9zM198.2 675.6h.9v.9h-.9zM198.6 648.7h.9v.9h-.9zM192.6 636.3h.9v.9h-.9zM198.7 658.0h.9v.9h-.9zM209.5 666.9h.9v.9h-.9zM204.4 651.0h.9v.9h-.9zM197.1 659.9h.9v.9h-.9zM204.8 647.7h.9v.9h-.9zM182.4 678.9h.9v.9h-.9zM199.7 663.7h.9v.9h-.9zM184.3 629.6h.9v.9h-.9zM176.1 648.5h.9v.9h-.9zM193.9 635.5h.9v.9h-.9zM166.5 647.1h.9v.9h-.9zM197.1 673.3h.9v.9h-.9zM175.5 679.0h.9v.9h-.9zM166.4 677.7h.9v.9h-.9zM187.8 622.6h.9v.9h-.9zM174.5 627.4h.9v.9h-.9zM182.4 636.5h.9v.9h-.9zM175.2 642.3h.9v.9h-.9zM173.0 663.5h.9v.9h-.9zM182.3 678.4h.9v.9h-.9zM194.5 634.2h.9v.9h-.9zM174.9 661.2h.9v.9h-.9zM174.2 663.3h.9v.9h-.9zM172.8 669.1h.9v.9h-.9zM182.3 630.5h.9v.9h-.9zM192.5 677.8h.9v.9h-.9zM171.0 673.0h.9v.9h-.9zM198.2 671.6h.9v.9h-.9zM194.0 676.5h.9v.9h-.9zM173.2 652.9h.9v.9h-.9zM192.9 677.1h.9v.9h-.9zM180.9 624.0h.9v.9h-.9zM198.3 641.2h.9v.9h-.9zM164.5 670.6h.9v.9h-.9zM209.1 665.6h.9v.9h-.9zM170.1 658.1h.9v.9h-.9zM200.2 651.6h.9v.9h-.9zM186.2 679.4h.9v.9h-.9zM165.4 664.5h.9v.9h-.9zM191.3 679.4h.9v.9h-.9zM198.5 675.8h.9v.9h-.9zM171.1 674.8h.9v.9h-.9zM198.8 673.6h.9v.9h-.9zM197.7 666.6h.9v.9h-.9z" fill="#1a1a80" fill-opacity="0.7"/><g filter="url(#bl)"><path d="M187 635h1v1h-1zM184 636h7v1h-7zM182 637h11v1h-11zM181 638h13v1h-13zM180 639h15v1h-15zM180 640h16v1h-16zM179 641h17v1h-17zM179 642h18v1h-18zM178 643h19v1h-19zM178 644h20v1h-20zM178 645h20v1h-20zM178 646h20v1h-20zM178 647h20v1h-20zM177 648h21v1h-21zM177 649h21v1h-21zM177 650h21v1h-21zM177 651h21v1h-21zM177 652h21v1h-21zM177 653h20v1h-20zM177 654h20v1h-20zM177 655h19v1h-19zM178 656h18v1h-18zM178 657h17v1h-17zM179 658h16v1h-16zM179 659h16v1h-16zM179 660h16v1h-16zM178 661h17v1h-17zM177 662h18v1h-18zM176 663h20v1h-20zM176 664h20v1h-20zM175 665h22v1h-22zM174 666h23v1h-23zM174 667h23v1h-23zM174 668h24v1h-24zM173 669h25v1h-25zM172 670h26v1h-26zM172 671h25v1h-25zM172 672h25v1h-25zM172 673h24v1h-24zM172 674h24v1h-24zM173 675h22v1h-22zM174 676h19v1h-19zM175 677h16v1h-16zM184 678h4v1h-4z" fill="#03036a"/><path d="M186 639h6v1h-6zM185 640h9v1h-9zM184 641h11v1h-11zM183 642h12v1h-12zM182 643h14v1h-14zM181 644h15v1h-15zM181 645h16v1h-16zM180 646h17v1h-17zM180 647h17v1h-17zM179 648h18v1h-18zM179 649h18v1h-18zM179 650h18v1h-18zM179 651h18v1h-18zM179 652h18v1h-18zM179 653h17v1h-17zM179 654h17v1h-17zM179 655h16v1h-16zM180 656h14v1h-14zM180 657h13v1h-13zM181 658h11v1h-11zM183 659h6v1h-6zM177 667h6v1h-6zM175 668h12v1h-12zM174 669h14v1h-14zM173 670h16v1h-16zM173 671h16v1h-16zM173 672h16v1h-16zM173 673h16v1h-16zM173 674h15v1h-15zM174 675h13v1h-13zM175 676h9v1h-9zM178 677h2v1h-2z" fill="#140010"/><path d="M189 639h1v1h-1zM186 640h7v1h-7zM184 641h10v1h-10zM183 642h12v1h-12zM183 643h12v1h-12zM182 644h14v1h-14zM181 645h15v1h-15zM181 646h15v1h-15zM180 647h17v1h-17zM180 648h17v1h-17zM180 649h17v1h-17zM180 650h16v1h-16zM180 651h16v1h-16zM180 652h16v1h-16zM180 653h16v1h-16zM180 654h15v1h-15zM180 655h14v1h-14zM181 656h12v1h-12zM182 657h10v1h-10zM183 658h7v1h-7zM176 668h10v1h-10zM174 669h13v1h-13zM174 670h14v1h-14zM173 671h15v1h-15zM173 672h15v1h-15zM173 673h15v1h-15zM174 674h13v1h-13zM175 675h11v1h-11zM176 676h7v1h-7z" fill="#5c0000"/><path d="M187 640h5v1h-5zM185 641h8v1h-8zM184 642h10v1h-10zM183 643h12v1h-12zM183 644h12v1h-12zM182 645h14v1h-14zM181 646h15v1h-15zM181 647h15v1h-15zM181 648h15v1h-15zM180 649h16v1h-16zM180 650h16v1h-16zM180 651h16v1h-16zM180 652h15v1h-15zM181 653h14v1h-14zM181 654h13v1h-13zM181 655h13v1h-13zM182 656h11v1h-11zM183 657h8v1h-8zM176 668h8v1h-8zM175 669h11v1h-11zM174 670h13v1h-13zM174 671h14v1h-14zM174 672h14v1h-14zM174 673h13v1h-13zM174 674h12v1h-12zM175 675h10v1h-10zM177 676h5v1h-5z" fill="#a00000"/><path d="M186 641h6v1h-6zM185 642h8v1h-8zM184 643h10v1h-10zM183 644h12v1h-12zM183 645h12v1h-12zM182 646h13v1h-13zM182 647h14v1h-14zM181 648h15v1h-15zM181 649h15v1h-15zM181 650h15v1h-15zM181 651h14v1h-14zM181 652h14v1h-14zM182 653h12v1h-12zM182 654h12v1h-12zM183 655h10v1h-10zM184 656h8v1h-8zM185 657h5v1h-5zM177 668h5v1h-5zM175 669h10v1h-10zM174 670h13v1h-13zM174 671h13v1h-13zM174 672h13v1h-13zM174 673h13v1h-13zM175 674h10v1h-10zM176 675h8v1h-8zM178 676h3v1h-3z" fill="#e00000"/><path d="M187 641h4v1h-4zM186 642h7v1h-7zM185 643h9v1h-9zM184 644h10v1h-10zM183 645h12v1h-12zM183 646h12v1h-12zM182 647h13v1h-13zM182 648h13v1h-13zM182 649h13v1h-13zM182 650h13v1h-13zM182 651h13v1h-13zM182 652h12v1h-12zM182 653h12v1h-12zM183 654h10v1h-10zM184 655h8v1h-8zM185 656h6v1h-6zM178 668h3v1h-3zM176 669h8v1h-8zM175 670h10v1h-10zM174 671h12v1h-12zM174 672h12v1h-12zM174 673h12v1h-12zM175 674h9v1h-9zM176 675h7v1h-7z" fill="#ff1400"/><path d="M187 642h5v1h-5zM185 643h8v1h-8zM184 644h10v1h-10zM184 645h10v1h-10zM183 646h11v1h-11zM183 647h12v1h-12zM183 648h12v1h-12zM183 649h12v1h-12zM183 650h12v1h-12zM183 651h11v1h-11zM183 652h11v1h-11zM183 653h10v1h-10zM184 654h8v1h-8zM185 655h6v1h-6zM188 656h1v1h-1zM176 669h7v1h-7zM175 670h9v1h-9zM175 671h10v1h-10zM175 672h10v1h-10zM175 673h10v1h-10zM175 674h9v1h-9zM177 675h5v1h-5z" fill="#ff4c00"/><path d="M188 642h2v1h-2zM186 643h6v1h-6zM185 644h8v1h-8zM184 645h10v1h-10zM184 646h10v1h-10zM183 647h11v1h-11zM183 648h11v1h-11zM183 649h11v1h-11zM183 650h11v1h-11zM183 651h11v1h-11zM184 652h9v1h-9zM184 653h9v1h-9zM185 654h7v1h-7zM187 655h3v1h-3zM177 669h5v1h-5zM176 670h7v1h-7zM175 671h9v1h-9zM175 672h9v1h-9zM175 673h9v1h-9zM176 674h7v1h-7zM178 675h3v1h-3z" fill="#ff8400"/><path d="M187 643h4v1h-4zM186 644h6v1h-6zM185 645h8v1h-8zM184 646h9v1h-9zM184 647h10v1h-10zM184 648h10v1h-10zM184 649h10v1h-10zM184 650h9v1h-9zM184 651h9v1h-9zM185 652h8v1h-8zM185 653h7v1h-7zM186 654h5v1h-5zM178 669h3v1h-3zM176 670h7v1h-7zM176 671h7v1h-7zM175 672h9v1h-9zM176 673h7v1h-7zM177 674h5v1h-5z" fill="#ffb400"/><path d="M187 644h4v1h-4zM186 645h6v1h-6zM185 646h8v1h-8zM185 647h8v1h-8zM184 648h9v1h-9zM184 649h9v1h-9zM184 650h9v1h-9zM185 651h8v1h-8zM185 652h7v1h-7zM186 653h5v1h-5zM188 654h1v1h-1zM177 670h5v1h-5zM176 671h7v1h-7zM176 672h7v1h-7zM176 673h7v1h-7zM177 674h5v1h-5z" fill="#ffdc00"/><path d="M188 644h1v1h-1zM186 645h5v1h-5zM186 646h6v1h-6zM185 647h7v1h-7zM185 648h8v1h-8zM185 649h8v1h-8zM185 650h7v1h-7zM185 651h7v1h-7zM186 652h5v1h-5zM187 653h3v1h-3zM178 670h4v1h-4zM177 671h5v1h-5zM176 672h7v1h-7zM177 673h5v1h-5zM178 674h3v1h-3z" fill="#ffff2c"/><path d="M188 645h2v1h-2zM186 646h5v1h-5zM186 647h6v1h-6zM186 648h6v1h-6zM185 649h7v1h-7zM186 650h6v1h-6zM186 651h5v1h-5zM187 652h3v1h-3zM179 670h2v1h-2zM177 671h5v1h-5zM177 672h5v1h-5zM177 673h5v1h-5z" fill="#ffffa0"/></g><rect x="165.0" y="622.8" width="55.60" height="38.90" fill="none" stroke="#3c5ce6" stroke-width="1.15"/><text x="166.80" y="630.80" font-size="7.7" text-anchor="start" fill="#3050b0" stroke="#3050b0" stroke-width="0.3" textLength="24.4" lengthAdjust="spacingAndGlyphs">62.44%</text><rect x="405.3" y="619.9" width="60.50" height="61.10" fill="#fff" stroke="#555" stroke-width="0.9"/><path d="M408.80 681.0v3.0M413.32 681.0v1.9M415.96 681.0v1.9M417.83 681.0v1.9M419.28 681.0v1.9M420.47 681.0v1.9M421.48 681.0v1.9M422.35 681.0v1.9M423.11 681.0v1.9M423.80 681.0v3.0M428.32 681.0v1.9M430.96 681.0v1.9M432.83 681.0v1.9M434.28 681.0v1.9M435.47 681.0v1.9M436.48 681.0v1.9M437.35 681.0v1.9M438.11 681.0v1.9M438.80 681.0v3.0M443.32 681.0v1.9M445.96 681.0v1.9M447.83 681.0v1.9M449.28 681.0v1.9M450.47 681.0v1.9M451.48 681.0v1.9M452.35 681.0v1.9M453.11 681.0v1.9M453.80 681.0v3.0M458.32 681.0v1.9M460.96 681.0v1.9M462.83 681.0v1.9M464.28 681.0v1.9M405.3 676.60h-1.9M405.3 674.03h-1.9M405.3 672.21h-1.9M405.3 670.80h-1.9M405.3 669.64h-1.9M405.3 668.66h-1.9M405.3 667.81h-1.9M405.3 667.07h-1.9M405.3 666.40h-3.0M405.3 662.00h-1.9M405.3 659.43h-1.9M405.3 657.61h-1.9M405.3 656.20h-1.9M405.3 655.04h-1.9M405.3 654.06h-1.9M405.3 653.21h-1.9M405.3 652.47h-1.9M405.3 651.80h-3.0M405.3 647.40h-1.9M405.3 644.83h-1.9M405.3 643.01h-1.9M405.3 641.60h-1.9M405.3 640.44h-1.9M405.3 639.46h-1.9M405.3 638.61h-1.9M405.3 637.87h-1.9M405.3 637.20h-3.0M405.3 632.80h-1.9M405.3 630.23h-1.9M405.3 628.41h-1.9M405.3 627.00h-1.9M405.3 625.84h-1.9M405.3 624.86h-1.9M405.3 624.01h-1.9M405.3 623.27h-1.9M405.3 622.60h-3.0" stroke="#1a1a1a" stroke-width="0.85" fill="none"/><path d="M435.4 637.9h.9v.9h-.9zM449.6 648.5h.9v.9h-.9zM441.2 660.2h.9v.9h-.9zM435.3 665.1h.9v.9h-.9zM436.2 629.1h.9v.9h-.9zM439.5 659.8h.9v.9h-.9zM437.3 637.0h.9v.9h-.9zM440.2 625.7h.9v.9h-.9zM441.0 647.4h.9v.9h-.9zM434.5 633.0h.9v.9h-.9zM439.7 648.3h.9v.9h-.9zM440.9 648.6h.9v.9h-.9zM438.8 668.8h.9v.9h-.9zM421.2 664.7h.9v.9h-.9zM441.3 651.9h.9v.9h-.9zM441.0 641.4h.9v.9h-.9zM444.2 633.0h.9v.9h-.9zM433.1 664.8h.9v.9h-.9zM434.7 638.5h.9v.9h-.9zM439.8 673.0h.9v.9h-.9zM436.6 668.2h.9v.9h-.9zM434.6 676.3h.9v.9h-.9zM443.3 647.1h.9v.9h-.9zM440.2 655.9h.9v.9h-.9zM443.2 640.4h.9v.9h-.9zM441.8 624.6h.9v.9h-.9zM436.1 670.6h.9v.9h-.9zM432.5 664.1h.9v.9h-.9zM447.3 666.0h.9v.9h-.9zM443.3 642.8h.9v.9h-.9zM440.7 650.7h.9v.9h-.9zM443.4 675.4h.9v.9h-.9zM435.1 632.5h.9v.9h-.9zM431.4 633.2h.9v.9h-.9zM431.4 625.5h.9v.9h-.9zM439.2 643.3h.9v.9h-.9zM439.2 646.1h.9v.9h-.9zM439.5 646.0h.9v.9h-.9zM434.3 669.4h.9v.9h-.9zM436.6 639.9h.9v.9h-.9zM437.3 678.5h.9v.9h-.9zM429.9 667.3h.9v.9h-.9zM440.4 639.8h.9v.9h-.9zM438.8 640.4h.9v.9h-.9zM441.2 632.9h.9v.9h-.9zM435.1 664.9h.9v.9h-.9zM440.6 670.4h.9v.9h-.9zM441.7 670.3h.9v.9h-.9zM442.0 640.3h.9v.9h-.9zM439.0 638.1h.9v.9h-.9zM443.3 673.2h.9v.9h-.9zM436.2 629.4h.9v.9h-.9zM438.8 643.1h.9v.9h-.9zM440.2 667.0h.9v.9h-.9zM436.3 628.6h.9v.9h-.9zM444.3 656.7h.9v.9h-.9zM440.2 650.4h.9v.9h-.9zM443.1 640.0h.9v.9h-.9zM441.1 647.9h.9v.9h-.9zM442.3 648.3h.9v.9h-.9zM440.7 628.3h.9v.9h-.9zM446.4 651.5h.9v.9h-.9zM438.5 638.5h.9v.9h-.9zM439.7 663.7h.9v.9h-.9zM437.7 667.6h.9v.9h-.9zM440.8 657.5h.9v.9h-.9zM439.0 644.3h.9v.9h-.9zM436.1 641.4h.9v.9h-.9zM447.8 651.9h.9v.9h-.9zM443.0 662.6h.9v.9h-.9zM441.8 648.5h.9v.9h-.9zM434.8 665.9h.9v.9h-.9zM439.5 671.0h.9v.9h-.9zM433.0 669.6h.9v.9h-.9zM439.4 647.7h.9v.9h-.9zM440.1 654.4h.9v.9h-.9zM442.0 645.0h.9v.9h-.9zM439.6 656.3h.9v.9h-.9zM440.0 659.4h.9v.9h-.9zM436.5 662.3h.9v.9h-.9zM436.7 662.1h.9v.9h-.9zM444.1 637.0h.9v.9h-.9zM424.7 678.1h.9v.9h-.9zM435.5 664.8h.9v.9h-.9zM429.4 667.2h.9v.9h-.9zM442.5 650.5h.9v.9h-.9zM426.2 628.1h.9v.9h-.9zM438.6 633.2h.9v.9h-.9zM417.4 674.1h.9v.9h-.9zM434.5 637.0h.9v.9h-.9zM420.0 661.0h.9v.9h-.9zM438.5 659.4h.9v.9h-.9zM440.6 658.0h.9v.9h-.9zM418.1 672.4h.9v.9h-.9zM433.7 636.3h.9v.9h-.9zM418.9 627.9h.9v.9h-.9zM432.8 626.2h.9v.9h-.9zM429.0 625.6h.9v.9h-.9z" fill="#1a1a80" fill-opacity="0.7"/><g filter="url(#bl)"><path d="M424 632h6v1h-6zM423 633h8v1h-8zM422 634h10v1h-10zM420 635h13v1h-13zM418 636h15v1h-15zM417 637h17v1h-17zM417 638h17v1h-17zM416 639h19v1h-19zM416 640h19v1h-19zM415 641h21v1h-21zM415 642h21v1h-21zM415 643h22v1h-22zM415 644h23v1h-23zM415 645h23v1h-23zM415 646h24v1h-24zM415 647h24v1h-24zM415 648h24v1h-24zM416 649h23v1h-23zM416 650h24v1h-24zM417 651h23v1h-23zM417 652h23v1h-23zM418 653h22v1h-22zM418 654h22v1h-22zM418 655h21v1h-21zM419 656h20v1h-20zM419 657h20v1h-20zM420 658h18v1h-18zM420 659h18v1h-18zM421 660h12v1h-12zM435 660h1v1h-1zM421 661h11v1h-11zM422 662h9v1h-9zM424 663h6v1h-6zM422 667h3v1h-3zM421 668h6v1h-6zM420 669h8v1h-8zM419 670h10v1h-10zM419 671h12v1h-12zM419 672h12v1h-12zM419 673h12v1h-12zM420 674h11v1h-11zM421 675h8v1h-8z" fill="#03036a"/><path d="M420 636h6v1h-6zM419 637h8v1h-8zM418 638h10v1h-10zM417 639h12v1h-12zM417 640h13v1h-13zM416 641h14v1h-14zM416 642h14v1h-14zM416 643h15v1h-15zM416 644h15v1h-15zM416 645h15v1h-15zM416 646h15v1h-15zM416 647h15v1h-15zM416 648h15v1h-15zM417 649h13v1h-13zM417 650h13v1h-13zM418 651h12v1h-12zM419 652h10v1h-10zM420 653h9v1h-9zM421 654h7v1h-7zM423 655h3v1h-3z" fill="#140010"/><path d="M422 636h2v1h-2zM420 637h7v1h-7zM419 638h9v1h-9zM418 639h10v1h-10zM417 640h12v1h-12zM417 641h12v1h-12zM417 642h13v1h-13zM417 643h13v1h-13zM416 644h14v1h-14zM416 645h14v1h-14zM417 646h13v1h-13zM417 647h13v1h-13zM417 648h13v1h-13zM417 649h13v1h-13zM418 650h11v1h-11zM419 651h10v1h-10zM419 652h9v1h-9zM421 653h6v1h-6zM422 654h4v1h-4z" fill="#5c0000"/><path d="M421 637h5v1h-5zM419 638h8v1h-8zM418 639h10v1h-10zM418 640h11v1h-11zM417 641h12v1h-12zM417 642h12v1h-12zM417 643h13v1h-13zM417 644h13v1h-13zM417 645h13v1h-13zM417 646h13v1h-13zM417 647h13v1h-13zM417 648h13v1h-13zM418 649h11v1h-11zM418 650h11v1h-11zM419 651h9v1h-9zM420 652h8v1h-8zM422 653h4v1h-4z" fill="#a00000"/><path d="M422 637h2v1h-2zM420 638h6v1h-6zM419 639h8v1h-8zM418 640h10v1h-10zM418 641h11v1h-11zM417 642h12v1h-12zM417 643h12v1h-12zM417 644h12v1h-12zM417 645h12v1h-12zM417 646h12v1h-12zM417 647h12v1h-12zM418 648h11v1h-11zM418 649h11v1h-11zM419 650h9v1h-9zM420 651h8v1h-8zM421 652h6v1h-6z" fill="#e00000"/><path d="M421 638h5v1h-5zM420 639h7v1h-7zM419 640h9v1h-9zM418 641h10v1h-10zM418 642h11v1h-11zM418 643h11v1h-11zM418 644h11v1h-11zM418 645h11v1h-11zM418 646h11v1h-11zM418 647h11v1h-11zM418 648h11v1h-11zM419 649h9v1h-9zM419 650h9v1h-9zM420 651h7v1h-7zM422 652h3v1h-3z" fill="#ff1400"/><path d="M422 638h2v1h-2zM420 639h6v1h-6zM419 640h8v1h-8zM419 641h9v1h-9zM418 642h10v1h-10zM418 643h10v1h-10zM418 644h11v1h-11zM418 645h11v1h-11zM418 646h11v1h-11zM418 647h10v1h-10zM419 648h9v1h-9zM419 649h9v1h-9zM420 650h7v1h-7zM421 651h5v1h-5z" fill="#ff4c00"/><path d="M421 639h4v1h-4zM420 640h6v1h-6zM419 641h8v1h-8zM419 642h9v1h-9zM419 643h9v1h-9zM418 644h10v1h-10zM418 645h10v1h-10zM419 646h9v1h-9zM419 647h9v1h-9zM419 648h8v1h-8zM420 649h7v1h-7zM421 650h5v1h-5zM423 651h1v1h-1z" fill="#ff8400"/><path d="M421 640h5v1h-5zM420 641h7v1h-7zM419 642h8v1h-8zM419 643h8v1h-8zM419 644h9v1h-9zM419 645h9v1h-9zM419 646h9v1h-9zM419 647h8v1h-8zM420 648h7v1h-7zM420 649h6v1h-6zM422 650h3v1h-3z" fill="#ffb400"/><path d="M422 640h3v1h-3zM420 641h6v1h-6zM420 642h7v1h-7zM420 643h7v1h-7zM419 644h8v1h-8zM419 645h8v1h-8zM419 646h8v1h-8zM420 647h7v1h-7zM420 648h6v1h-6zM421 649h5v1h-5z" fill="#ffdc00"/><path d="M421 641h4v1h-4zM420 642h6v1h-6zM420 643h7v1h-7zM420 644h7v1h-7zM420 645h7v1h-7zM420 646h7v1h-7zM420 647h6v1h-6zM421 648h5v1h-5zM422 649h2v1h-2z" fill="#ffff2c"/><path d="M422 641h2v1h-2zM421 642h4v1h-4zM421 643h5v1h-5zM420 644h6v1h-6zM420 645h6v1h-6zM420 646h6v1h-6zM421 647h5v1h-5zM422 648h3v1h-3z" fill="#ffffa0"/></g><rect x="409.2" y="623.0" width="53.20" height="42.50" fill="none" stroke="#3c5ce6" stroke-width="1.15"/><text x="411.00" y="631.00" font-size="7.7" text-anchor="start" fill="#3050b0" stroke="#3050b0" stroke-width="0.3" textLength="24.4" lengthAdjust="spacingAndGlyphs">95.00%</text><path d="M30 693.1H192" stroke="#111" stroke-width="1.1"/><path d="M195 693.1l-4.5 -2.2v4.4z" fill="#111"/><text x="198.50" y="695.40" font-size="9.3" text-anchor="start" fill="#333" stroke="#333" stroke-width="0.05" textLength="19" lengthAdjust="spacingAndGlyphs">CD56</text><path d="M273.3 693.1H435.7" stroke="#111" stroke-width="1.1"/><path d="M438.7 693.1l-4.5 -2.2v4.4z" fill="#111"/><text x="446.50" y="695.40" font-size="9.3" text-anchor="start" fill="#333" stroke="#333" stroke-width="0.05" textLength="19" lengthAdjust="spacingAndGlyphs">CD56</text></g><path d="M0.5 0V702M0 0.5H520M519.5 0V702M0 701.5H520" stroke="#000" stroke-width="1"/><path d="M1.5 1V701M1 1.5H519M518.5 1V701M1 700.5H519" stroke="#000" stroke-opacity="0.45" stroke-width="1"/></svg></body></html>
